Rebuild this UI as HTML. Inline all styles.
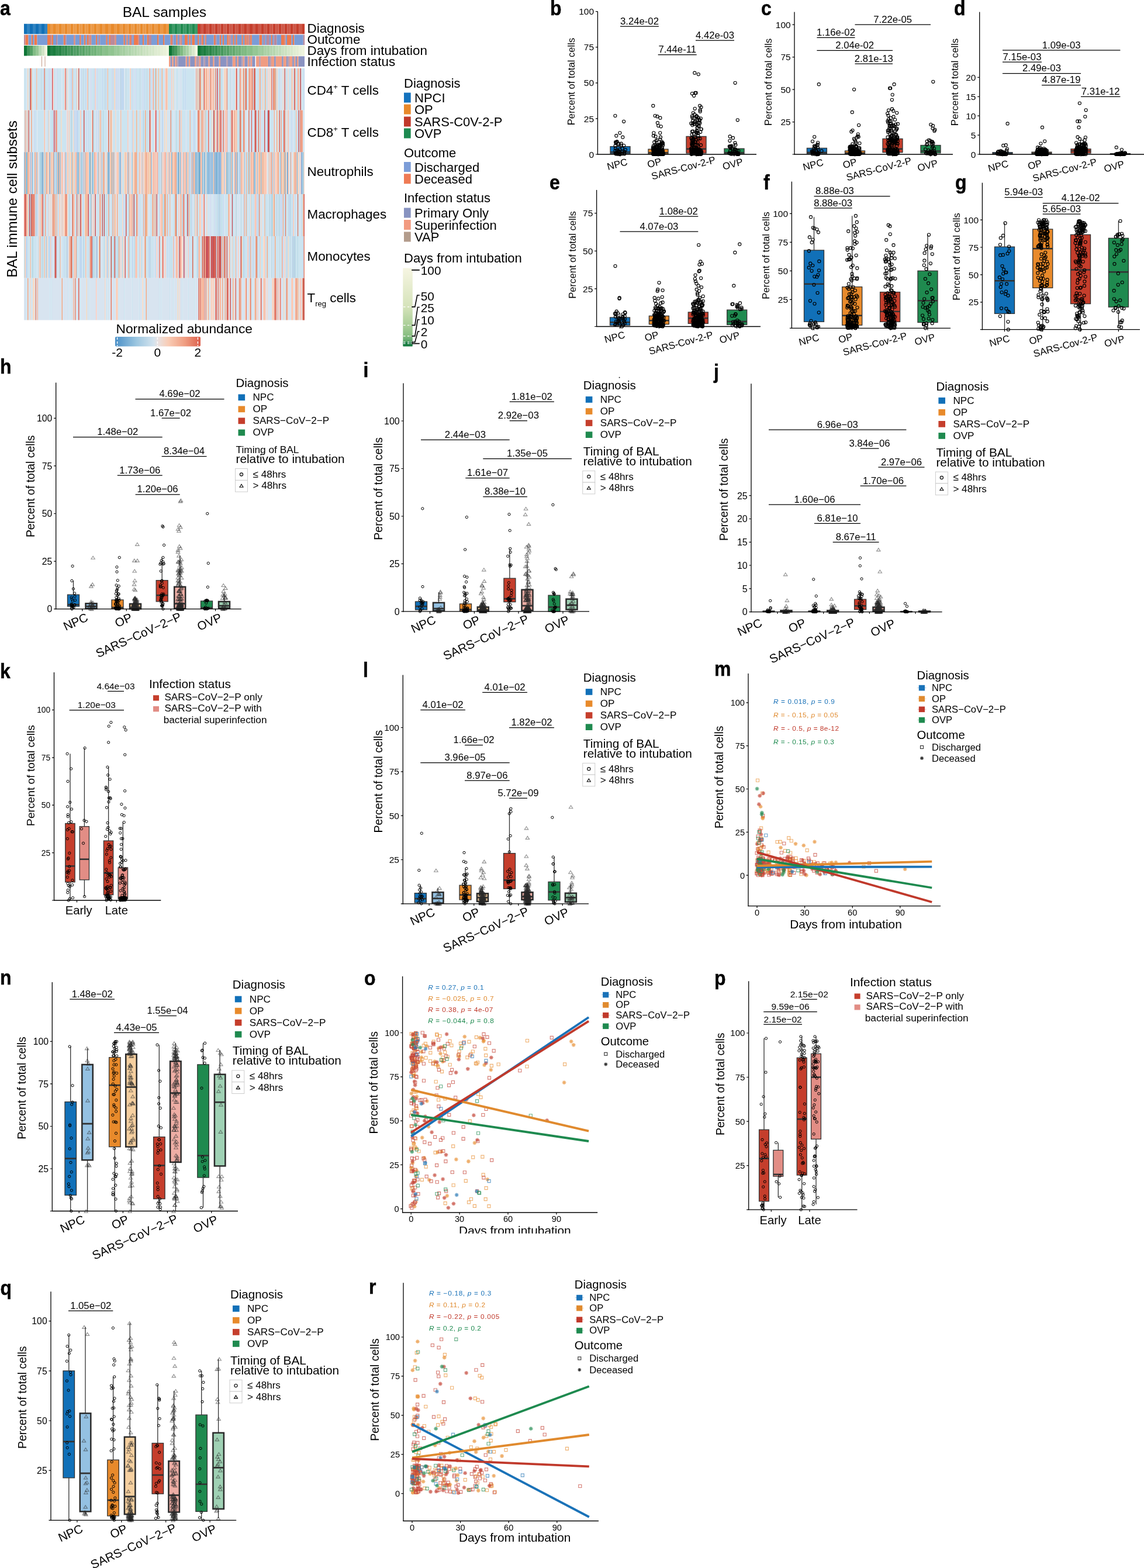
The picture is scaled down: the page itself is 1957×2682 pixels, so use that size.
<!DOCTYPE html><html><head><meta charset="utf-8"><style>html,body{margin:0;padding:0;background:#fff}svg{display:block}text{font-family:"Liberation Sans",Arial,Helvetica,sans-serif;fill:#000}.pc circle{r:2.55px;fill:none;stroke:#000;stroke-width:1.1px}.ps circle{r:2.1px;fill:none;stroke:#000;stroke-width:1px}</style></head><body><svg width="1957" height="2682" viewBox="0 0 1957 2682"><rect width="1957" height="2682" fill="#fff"/><path fill="#1170b8" d="M41 40.8h5v17.4h-5zM51 40.8h5v17.4h-5zM61 40.8h5v17.4h-5zM71 40.8h5v17.4h-5z"/><path fill="#3083c1" d="M46 40.8h5v17.4h-5zM56 40.8h5v17.4h-5zM66 40.8h5v17.4h-5zM76 40.8h5v17.4h-5z"/><path fill="#e88a2b" d="M81 40.8h5v17.4h-5zM90.9 40.8h5v17.4h-5zM100.8 40.8h5v17.4h-5zM110.7 40.8h5v17.4h-5zM120.6 40.8h5v17.4h-5zM130.5 40.8h5v17.4h-5zM140.4 40.8h5v17.4h-5zM150.3 40.8h5v17.4h-5zM160.2 40.8h5v17.4h-5zM170.1 40.8h5v17.4h-5zM180 40.8h5v17.4h-5zM190 40.8h5v17.4h-5zM199.9 40.8h5v17.4h-5zM209.8 40.8h5v17.4h-5zM219.7 40.8h5v17.4h-5zM229.6 40.8h5v17.4h-5zM239.5 40.8h5v17.4h-5zM249.4 40.8h5v17.4h-5zM259.3 40.8h5v17.4h-5zM269.2 40.8h5v17.4h-5zM279.1 40.8h5v17.4h-5z"/><path fill="#eb9947" d="M86 40.8h5v17.4h-5zM95.9 40.8h5v17.4h-5zM105.8 40.8h5v17.4h-5zM115.7 40.8h5v17.4h-5zM125.6 40.8h5v17.4h-5zM135.5 40.8h5v17.4h-5zM145.4 40.8h5v17.4h-5zM155.3 40.8h5v17.4h-5zM165.2 40.8h5v17.4h-5zM175.1 40.8h5v17.4h-5zM185 40.8h5v17.4h-5zM194.9 40.8h5v17.4h-5zM204.8 40.8h5v17.4h-5zM214.7 40.8h5v17.4h-5zM224.6 40.8h5v17.4h-5zM234.5 40.8h5v17.4h-5zM244.4 40.8h5v17.4h-5zM254.3 40.8h5v17.4h-5zM264.2 40.8h5v17.4h-5zM274.1 40.8h5v17.4h-5zM284 40.8h5v17.4h-5z"/><path fill="#1f8a4f" d="M289 40.8h5v17.4h-5zM298.8 40.8h5v17.4h-5zM308.6 40.8h5v17.4h-5zM318.4 40.8h5v17.4h-5zM328.2 40.8h5v17.4h-5z"/><path fill="#3c9966" d="M293.9 40.8h5v17.4h-5zM303.7 40.8h5v17.4h-5zM313.5 40.8h5v17.4h-5zM323.3 40.8h5v17.4h-5zM333.1 40.8h5v17.4h-5z"/><path fill="#c53e2c" d="M338 40.8h5v17.4h-5zM347.9 40.8h5v17.4h-5zM357.8 40.8h5v17.4h-5zM367.7 40.8h5v17.4h-5zM377.6 40.8h5v17.4h-5zM387.5 40.8h5v17.4h-5zM397.4 40.8h5v17.4h-5zM407.2 40.8h5v17.4h-5zM417.1 40.8h5v17.4h-5zM427 40.8h5v17.4h-5zM436.9 40.8h5v17.4h-5zM446.8 40.8h5v17.4h-5zM456.7 40.8h5v17.4h-5zM466.6 40.8h5v17.4h-5zM476.5 40.8h5v17.4h-5zM486.4 40.8h5v17.4h-5zM496.3 40.8h5v17.4h-5zM506.2 40.8h5v17.4h-5zM516.1 40.8h5v17.4h-5z"/><path fill="#cd5747" d="M342.9 40.8h5v17.4h-5zM352.8 40.8h5v17.4h-5zM362.7 40.8h5v17.4h-5zM372.6 40.8h5v17.4h-5zM382.5 40.8h5v17.4h-5zM392.4 40.8h5v17.4h-5zM402.3 40.8h5v17.4h-5zM412.2 40.8h5v17.4h-5zM422.1 40.8h5v17.4h-5zM432 40.8h5v17.4h-5zM441.9 40.8h5v17.4h-5zM451.8 40.8h5v17.4h-5zM461.6 40.8h5v17.4h-5zM471.5 40.8h5v17.4h-5zM481.4 40.8h5v17.4h-5zM491.3 40.8h5v17.4h-5zM501.2 40.8h5v17.4h-5zM511.1 40.8h5v17.4h-5z"/><path fill="#b98a9c" d="M41 59.5h2.5v17.4h-2.5zM86 59.5h2.6v17.4h-2.6zM96 59.5h2.6v17.4h-2.6zM111.1 59.5h2.6v17.4h-2.6zM151.2 59.5h2.6v17.4h-2.6zM168.7 59.5h2.6v17.4h-2.6zM188.8 59.5h2.6v17.4h-2.6zM191.3 59.5h2.6v17.4h-2.6zM193.8 59.5h2.6v17.4h-2.6zM223.8 59.5h2.6v17.4h-2.6zM236.4 59.5h2.6v17.4h-2.6zM253.9 59.5h2.6v17.4h-2.6zM256.4 59.5h2.6v17.4h-2.6zM293.9 59.5h2.5v17.4h-2.5zM306.1 59.5h2.5v17.4h-2.5zM343 59.5h2.6v17.4h-2.6zM368.1 59.5h2.6v17.4h-2.6zM393.2 59.5h2.6v17.4h-2.6zM425.7 59.5h2.6v17.4h-2.6zM450.8 59.5h2.6v17.4h-2.6zM455.8 59.5h2.6v17.4h-2.6zM458.3 59.5h2.6v17.4h-2.6zM468.4 59.5h2.6v17.4h-2.6zM470.9 59.5h2.6v17.4h-2.6zM518.5 59.5h2.6v17.4h-2.6z"/><path fill="#ee7a4d" d="M43.5 59.5h2.5v17.4h-2.5zM46 59.5h2.5v17.4h-2.5zM53.5 59.5h2.5v17.4h-2.5zM58.5 59.5h2.5v17.4h-2.5zM61 59.5h2.5v17.4h-2.5zM81 59.5h2.6v17.4h-2.6zM83.5 59.5h2.6v17.4h-2.6zM88.5 59.5h2.6v17.4h-2.6zM108.6 59.5h2.6v17.4h-2.6zM136.1 59.5h2.6v17.4h-2.6zM143.7 59.5h2.6v17.4h-2.6zM148.7 59.5h2.6v17.4h-2.6zM163.7 59.5h2.6v17.4h-2.6zM181.2 59.5h2.6v17.4h-2.6zM186.3 59.5h2.6v17.4h-2.6zM211.3 59.5h2.6v17.4h-2.6zM221.3 59.5h2.6v17.4h-2.6zM228.9 59.5h2.6v17.4h-2.6zM231.4 59.5h2.6v17.4h-2.6zM233.9 59.5h2.6v17.4h-2.6zM243.9 59.5h2.6v17.4h-2.6zM251.4 59.5h2.6v17.4h-2.6zM269 59.5h2.6v17.4h-2.6zM279 59.5h2.6v17.4h-2.6zM291.4 59.5h2.5v17.4h-2.5zM301.2 59.5h2.5v17.4h-2.5zM315.9 59.5h2.5v17.4h-2.5zM318.4 59.5h2.5v17.4h-2.5zM323.3 59.5h2.5v17.4h-2.5zM328.2 59.5h2.5v17.4h-2.5zM330.6 59.5h2.5v17.4h-2.5zM338 59.5h2.6v17.4h-2.6zM345.5 59.5h2.6v17.4h-2.6zM365.6 59.5h2.6v17.4h-2.6zM375.6 59.5h2.6v17.4h-2.6zM380.6 59.5h2.6v17.4h-2.6zM388.1 59.5h2.6v17.4h-2.6zM398.2 59.5h2.6v17.4h-2.6zM403.2 59.5h2.6v17.4h-2.6zM413.2 59.5h2.6v17.4h-2.6zM418.2 59.5h2.6v17.4h-2.6zM428.2 59.5h2.6v17.4h-2.6zM443.3 59.5h2.6v17.4h-2.6zM445.8 59.5h2.6v17.4h-2.6zM463.3 59.5h2.6v17.4h-2.6zM480.9 59.5h2.6v17.4h-2.6zM483.4 59.5h2.6v17.4h-2.6zM490.9 59.5h2.6v17.4h-2.6zM493.4 59.5h2.6v17.4h-2.6zM495.9 59.5h2.6v17.4h-2.6zM500.9 59.5h2.6v17.4h-2.6z"/><path fill="#7b9cd6" d="M48.5 59.5h2.5v17.4h-2.5zM51 59.5h2.5v17.4h-2.5zM56 59.5h2.5v17.4h-2.5zM63.5 59.5h2.5v17.4h-2.5zM66 59.5h2.5v17.4h-2.5zM68.5 59.5h2.5v17.4h-2.5zM71 59.5h2.5v17.4h-2.5zM73.5 59.5h2.5v17.4h-2.5zM76 59.5h2.5v17.4h-2.5zM78.5 59.5h2.5v17.4h-2.5zM91 59.5h2.6v17.4h-2.6zM93.5 59.5h2.6v17.4h-2.6zM98.5 59.5h2.6v17.4h-2.6zM101 59.5h2.6v17.4h-2.6zM103.6 59.5h2.6v17.4h-2.6zM106.1 59.5h2.6v17.4h-2.6zM113.6 59.5h2.6v17.4h-2.6zM116.1 59.5h2.6v17.4h-2.6zM118.6 59.5h2.6v17.4h-2.6zM121.1 59.5h2.6v17.4h-2.6zM123.6 59.5h2.6v17.4h-2.6zM128.6 59.5h2.6v17.4h-2.6zM131.1 59.5h2.6v17.4h-2.6zM133.6 59.5h2.6v17.4h-2.6zM138.6 59.5h2.6v17.4h-2.6zM141.1 59.5h2.6v17.4h-2.6zM146.2 59.5h2.6v17.4h-2.6zM156.2 59.5h2.6v17.4h-2.6zM158.7 59.5h2.6v17.4h-2.6zM161.2 59.5h2.6v17.4h-2.6zM166.2 59.5h2.6v17.4h-2.6zM171.2 59.5h2.6v17.4h-2.6zM173.7 59.5h2.6v17.4h-2.6zM176.2 59.5h2.6v17.4h-2.6zM178.7 59.5h2.6v17.4h-2.6zM183.7 59.5h2.6v17.4h-2.6zM198.8 59.5h2.6v17.4h-2.6zM201.3 59.5h2.6v17.4h-2.6zM203.8 59.5h2.6v17.4h-2.6zM206.3 59.5h2.6v17.4h-2.6zM208.8 59.5h2.6v17.4h-2.6zM213.8 59.5h2.6v17.4h-2.6zM218.8 59.5h2.6v17.4h-2.6zM226.3 59.5h2.6v17.4h-2.6zM238.9 59.5h2.6v17.4h-2.6zM241.4 59.5h2.6v17.4h-2.6zM246.4 59.5h2.6v17.4h-2.6zM248.9 59.5h2.6v17.4h-2.6zM258.9 59.5h2.6v17.4h-2.6zM261.4 59.5h2.6v17.4h-2.6zM263.9 59.5h2.6v17.4h-2.6zM266.4 59.5h2.6v17.4h-2.6zM271.5 59.5h2.6v17.4h-2.6zM274 59.5h2.6v17.4h-2.6zM276.5 59.5h2.6v17.4h-2.6zM281.5 59.5h2.6v17.4h-2.6zM284 59.5h2.6v17.4h-2.6zM286.5 59.5h2.6v17.4h-2.6zM289 59.5h2.5v17.4h-2.5zM296.4 59.5h2.5v17.4h-2.5zM298.8 59.5h2.5v17.4h-2.5zM303.7 59.5h2.5v17.4h-2.5zM311.1 59.5h2.5v17.4h-2.5zM313.5 59.5h2.5v17.4h-2.5zM320.9 59.5h2.5v17.4h-2.5zM325.8 59.5h2.5v17.4h-2.5zM333.1 59.5h2.5v17.4h-2.5zM335.6 59.5h2.5v17.4h-2.5zM340.5 59.5h2.6v17.4h-2.6zM348 59.5h2.6v17.4h-2.6zM353 59.5h2.6v17.4h-2.6zM355.5 59.5h2.6v17.4h-2.6zM358.1 59.5h2.6v17.4h-2.6zM360.6 59.5h2.6v17.4h-2.6zM363.1 59.5h2.6v17.4h-2.6zM370.6 59.5h2.6v17.4h-2.6zM373.1 59.5h2.6v17.4h-2.6zM378.1 59.5h2.6v17.4h-2.6zM383.1 59.5h2.6v17.4h-2.6zM385.6 59.5h2.6v17.4h-2.6zM395.7 59.5h2.6v17.4h-2.6zM400.7 59.5h2.6v17.4h-2.6zM405.7 59.5h2.6v17.4h-2.6zM408.2 59.5h2.6v17.4h-2.6zM410.7 59.5h2.6v17.4h-2.6zM415.7 59.5h2.6v17.4h-2.6zM430.8 59.5h2.6v17.4h-2.6zM433.3 59.5h2.6v17.4h-2.6zM435.8 59.5h2.6v17.4h-2.6zM438.3 59.5h2.6v17.4h-2.6zM440.8 59.5h2.6v17.4h-2.6zM448.3 59.5h2.6v17.4h-2.6zM453.3 59.5h2.6v17.4h-2.6zM460.8 59.5h2.6v17.4h-2.6zM465.8 59.5h2.6v17.4h-2.6zM473.4 59.5h2.6v17.4h-2.6zM475.9 59.5h2.6v17.4h-2.6zM478.4 59.5h2.6v17.4h-2.6zM488.4 59.5h2.6v17.4h-2.6zM498.4 59.5h2.6v17.4h-2.6zM503.5 59.5h2.6v17.4h-2.6zM506 59.5h2.6v17.4h-2.6zM508.5 59.5h2.6v17.4h-2.6zM511 59.5h2.6v17.4h-2.6zM513.5 59.5h2.6v17.4h-2.6zM516 59.5h2.6v17.4h-2.6z"/><path fill="#d98a7c" d="M126.1 59.5h2.6v17.4h-2.6zM153.7 59.5h2.6v17.4h-2.6zM196.3 59.5h2.6v17.4h-2.6zM216.3 59.5h2.6v17.4h-2.6zM308.6 59.5h2.5v17.4h-2.5zM350.5 59.5h2.6v17.4h-2.6zM390.6 59.5h2.6v17.4h-2.6zM420.7 59.5h2.6v17.4h-2.6zM423.2 59.5h2.6v17.4h-2.6zM485.9 59.5h2.6v17.4h-2.6z"/><path fill="#0e7536" d="M41 78h5v17.4h-5zM81 78h5v17.4h-5zM289 78h5v17.4h-5zM338 78h5v17.4h-5z"/><path fill="#3e9259" d="M46 78h5v17.4h-5z"/><path fill="#56a166" d="M51 78h5v17.4h-5z"/><path fill="#82bc86" d="M56 78h5v17.4h-5z"/><path fill="#98c796" d="M61 78h5v17.4h-5z"/><path fill="#b9d8b3" d="M66 78h5v17.4h-5z"/><path fill="#d1e4c5" d="M71 78h5v17.4h-5z"/><path fill="#eff4df" d="M76 78h5v17.4h-5zM284 78h5v17.4h-5zM333.1 78h5v17.4h-5z"/><path fill="#228146" d="M86 78h5v17.4h-5z"/><path fill="#1a7d3e" d="M90.9 78h5v17.4h-5z"/><path fill="#2e884e" d="M95.9 78h5v17.4h-5z"/><path fill="#268446" d="M100.8 78h5v17.4h-5z"/><path fill="#398f55" d="M105.8 78h5v17.4h-5z"/><path fill="#338c4f" d="M110.7 78h5v17.4h-5z"/><path fill="#45965d" d="M115.7 78h5v17.4h-5z"/><path fill="#3f9357" d="M120.6 78h5v17.4h-5z"/><path fill="#509d65" d="M125.6 78h5v17.4h-5z"/><path fill="#4b9b5f" d="M130.5 78h5v17.4h-5z"/><path fill="#5ca56d" d="M135.5 78h5v17.4h-5z"/><path fill="#57a367" d="M140.4 78h5v17.4h-5z"/><path fill="#67ac74" d="M145.4 78h5v17.4h-5z"/><path fill="#64aa70" d="M150.3 78h5v17.4h-5z"/><path fill="#73b37c" d="M155.3 78h5v17.4h-5z"/><path fill="#70b278" d="M160.2 78h5v17.4h-5z"/><path fill="#7eba84" d="M165.2 78h5v17.4h-5z"/><path fill="#7cb980" d="M170.1 78h5v17.4h-5z"/><path fill="#89c08c" d="M175.1 78h5v17.4h-5z"/><path fill="#87bf88" d="M180 78h5v17.4h-5z"/><path fill="#92c593" d="M185 78h5v17.4h-5z"/><path fill="#90c490" d="M190 78h5v17.4h-5z"/><path fill="#9cca9b" d="M194.9 78h5v17.4h-5z"/><path fill="#9ac998" d="M199.9 78h5v17.4h-5z"/><path fill="#a5cea2" d="M204.8 78h5v17.4h-5z"/><path fill="#a4cea0" d="M209.8 78h5v17.4h-5z"/><path fill="#aed3aa" d="M214.7 78h5v17.4h-5z"/><path fill="#aed3a9" d="M219.7 78h5v17.4h-5z"/><path fill="#b7d8b2" d="M224.6 78h5v17.4h-5z"/><path fill="#b8d8b1" d="M229.6 78h5v17.4h-5z"/><path fill="#c1dcb9" d="M234.5 78h5v17.4h-5z"/><path fill="#c2ddb9" d="M239.5 78h5v17.4h-5z"/><path fill="#cae1c1" d="M244.4 78h5v17.4h-5zM481.4 78h5v17.4h-5z"/><path fill="#cce2c1" d="M249.4 78h5v17.4h-5zM486.4 78h5v17.4h-5z"/><path fill="#d3e6c8" d="M254.3 78h5v17.4h-5z"/><path fill="#d5e7c9" d="M259.3 78h5v17.4h-5z"/><path fill="#ddead0" d="M264.2 78h5v17.4h-5z"/><path fill="#dfecd1" d="M269.2 78h5v17.4h-5z"/><path fill="#e6efd7" d="M274.1 78h5v17.4h-5z"/><path fill="#e9f1d9" d="M279.1 78h5v17.4h-5z"/><path fill="#378e54" d="M293.9 78h5v17.4h-5z"/><path fill="#46985c" d="M298.8 78h5v17.4h-5zM377.6 78h5v17.4h-5z"/><path fill="#6bae77" d="M303.7 78h5v17.4h-5z"/><path fill="#7eba81" d="M308.6 78h5v17.4h-5zM417.1 78h5v17.4h-5z"/><path fill="#9bc99a" d="M313.5 78h5v17.4h-5z"/><path fill="#abd1a6" d="M318.4 78h5v17.4h-5zM456.7 78h5v17.4h-5z"/><path fill="#c5debc" d="M323.3 78h5v17.4h-5z"/><path fill="#d8e8cb" d="M328.2 78h5v17.4h-5zM496.3 78h5v17.4h-5z"/><path fill="#238146" d="M342.9 78h5v17.4h-5z"/><path fill="#1c7e3f" d="M347.9 78h5v17.4h-5z"/><path fill="#30894f" d="M352.8 78h5v17.4h-5z"/><path fill="#2a8649" d="M357.8 78h5v17.4h-5z"/><path fill="#3d9258" d="M362.7 78h5v17.4h-5z"/><path fill="#388f52" d="M367.7 78h5v17.4h-5z"/><path fill="#4a9a61" d="M372.6 78h5v17.4h-5z"/><path fill="#57a26a" d="M382.5 78h5v17.4h-5z"/><path fill="#54a065" d="M387.5 78h5v17.4h-5z"/><path fill="#65aa73" d="M392.4 78h5v17.4h-5z"/><path fill="#62a96e" d="M397.4 78h5v17.4h-5z"/><path fill="#72b27b" d="M402.3 78h5v17.4h-5z"/><path fill="#70b178" d="M407.2 78h5v17.4h-5z"/><path fill="#7fba84" d="M412.2 78h5v17.4h-5z"/><path fill="#8bc18d" d="M422.1 78h5v17.4h-5z"/><path fill="#89c08a" d="M427 78h5v17.4h-5z"/><path fill="#95c796" d="M432 78h5v17.4h-5z"/><path fill="#94c693" d="M436.9 78h5v17.4h-5z"/><path fill="#a0cc9e" d="M441.9 78h5v17.4h-5z"/><path fill="#a0cb9d" d="M446.8 78h5v17.4h-5z"/><path fill="#abd1a7" d="M451.8 78h5v17.4h-5z"/><path fill="#b5d6b0" d="M461.6 78h5v17.4h-5z"/><path fill="#b6d7af" d="M466.6 78h5v17.4h-5z"/><path fill="#c0dcb8" d="M471.5 78h5v17.4h-5z"/><path fill="#c1dcb8" d="M476.5 78h5v17.4h-5z"/><path fill="#d5e6c9" d="M491.3 78h5v17.4h-5z"/><path fill="#dfecd2" d="M501.2 78h5v17.4h-5z"/><path fill="#e3edd4" d="M506.2 78h5v17.4h-5z"/><path fill="#eaf1db" d="M511.1 78h5v17.4h-5z"/><path fill="#eef3dd" d="M516.1 78h5v17.4h-5z"/><path fill="#ef9c82" d="M289 96.3h2.6v17.6h-2.6zM294.2 96.3h2.6v17.6h-2.6zM299.4 96.3h2.6v17.6h-2.6zM317.5 96.3h2.6v17.6h-2.6zM322.6 96.3h2.6v17.6h-2.6zM333 96.3h2.6v17.6h-2.6zM340.8 96.3h2.6v17.6h-2.6zM356.3 96.3h2.6v17.6h-2.6zM364 96.3h2.6v17.6h-2.6zM374.4 96.3h2.6v17.6h-2.6zM397.7 96.3h2.6v17.6h-2.6zM400.3 96.3h2.6v17.6h-2.6zM405.4 96.3h2.6v17.6h-2.6zM415.8 96.3h2.6v17.6h-2.6zM423.6 96.3h2.6v17.6h-2.6zM428.7 96.3h2.6v17.6h-2.6zM438 96.3h2.6v17.6h-2.6zM440.6 96.3h2.6v17.6h-2.6zM445.8 96.3h2.6v17.6h-2.6zM448.4 96.3h2.6v17.6h-2.6zM451 96.3h2.6v17.6h-2.6zM453.6 96.3h2.6v17.6h-2.6zM456.2 96.3h2.6v17.6h-2.6zM463.9 96.3h2.6v17.6h-2.6zM466.5 96.3h2.6v17.6h-2.6zM471.7 96.3h2.6v17.6h-2.6zM474.3 96.3h2.6v17.6h-2.6zM476.9 96.3h2.6v17.6h-2.6zM479.5 96.3h2.6v17.6h-2.6zM484.7 96.3h2.6v17.6h-2.6zM487.3 96.3h2.6v17.6h-2.6zM495.1 96.3h2.6v17.6h-2.6zM497.7 96.3h2.6v17.6h-2.6zM502.8 96.3h2.6v17.6h-2.6zM508 96.3h2.6v17.6h-2.6z"/><path fill="#8a93c2" d="M291.6 96.3h2.6v17.6h-2.6zM296.8 96.3h2.6v17.6h-2.6zM304.5 96.3h2.6v17.6h-2.6zM307.1 96.3h2.6v17.6h-2.6zM309.7 96.3h2.6v17.6h-2.6zM312.3 96.3h2.6v17.6h-2.6zM314.9 96.3h2.6v17.6h-2.6zM320.1 96.3h2.6v17.6h-2.6zM325.2 96.3h2.6v17.6h-2.6zM327.8 96.3h2.6v17.6h-2.6zM330.4 96.3h2.6v17.6h-2.6zM343.3 96.3h2.6v17.6h-2.6zM345.9 96.3h2.6v17.6h-2.6zM351.1 96.3h2.6v17.6h-2.6zM353.7 96.3h2.6v17.6h-2.6zM358.9 96.3h2.6v17.6h-2.6zM361.5 96.3h2.6v17.6h-2.6zM366.6 96.3h2.6v17.6h-2.6zM369.2 96.3h2.6v17.6h-2.6zM371.8 96.3h2.6v17.6h-2.6zM377 96.3h2.6v17.6h-2.6zM379.6 96.3h2.6v17.6h-2.6zM382.2 96.3h2.6v17.6h-2.6zM384.7 96.3h2.6v17.6h-2.6zM389.9 96.3h2.6v17.6h-2.6zM392.5 96.3h2.6v17.6h-2.6zM395.1 96.3h2.6v17.6h-2.6zM402.9 96.3h2.6v17.6h-2.6zM408 96.3h2.6v17.6h-2.6zM410.6 96.3h2.6v17.6h-2.6zM418.4 96.3h2.6v17.6h-2.6zM421 96.3h2.6v17.6h-2.6zM431.3 96.3h2.6v17.6h-2.6zM433.9 96.3h2.6v17.6h-2.6zM458.8 96.3h2.6v17.6h-2.6zM469.1 96.3h2.6v17.6h-2.6zM482.1 96.3h2.6v17.6h-2.6zM489.9 96.3h2.6v17.6h-2.6zM500.2 96.3h2.6v17.6h-2.6zM505.4 96.3h2.6v17.6h-2.6zM510.6 96.3h2.6v17.6h-2.6zM513.2 96.3h2.6v17.6h-2.6zM515.8 96.3h2.6v17.6h-2.6zM518.4 96.3h2.6v17.6h-2.6z"/><path fill="#b49aae" d="M301.9 96.3h2.6v17.6h-2.6zM335.6 96.3h2.6v17.6h-2.6zM338.2 96.3h2.6v17.6h-2.6zM348.5 96.3h2.6v17.6h-2.6zM387.3 96.3h2.6v17.6h-2.6zM413.2 96.3h2.6v17.6h-2.6zM426.1 96.3h2.6v17.6h-2.6zM443.2 96.3h2.6v17.6h-2.6zM461.3 96.3h2.6v17.6h-2.6zM492.5 96.3h2.6v17.6h-2.6z"/><rect x="71" y="96.3" width="1" height="17.6" fill="#c49a86"/><rect x="76.5" y="96.3" width="1" height="17.6" fill="#c49a86"/><path fill="#cce4f0" d="M41 116.7h4.5v71.8h-4.5zM48.5 116.7h1.5v71.8h-1.5zM54.5 116.7h3v71.8h-3zM59 116.7h3v71.8h-3zM63.5 116.7h6v71.8h-6zM71 116.7h3v71.8h-3zM77 116.7h6v71.8h-6zM92 116.7h3v71.8h-3zM98 116.7h7.5v71.8h-7.5zM107 116.7h3v71.8h-3zM117.5 116.7h3v71.8h-3zM125 116.7h4.5v71.8h-4.5zM135.5 116.7h1.5v71.8h-1.5zM140 116.7h1.5v71.8h-1.5zM143 116.7h3v71.8h-3zM147.5 116.7h1.5v71.8h-1.5zM152 116.7h1.5v71.8h-1.5zM156.5 116.7h4.5v71.8h-4.5zM164 116.7h1.5v71.8h-1.5zM167 116.7h7.5v71.8h-7.5zM176 116.7h3v71.8h-3zM182 116.7h1.5v71.8h-1.5zM185 116.7h6v71.8h-6zM194 116.7h1.5v71.8h-1.5zM197 116.7h1.5v71.8h-1.5zM201.5 116.7h1.5v71.8h-1.5zM204.5 116.7h1.5v71.8h-1.5zM213.5 116.7h1.5v71.8h-1.5zM216.5 116.7h4.5v71.8h-4.5zM224 116.7h3v71.8h-3zM228.5 116.7h3v71.8h-3zM233 116.7h6v71.8h-6zM240.5 116.7h3v71.8h-3zM245 116.7h1.5v71.8h-1.5zM248 116.7h3v71.8h-3zM252.5 116.7h3v71.8h-3zM257 116.7h1.5v71.8h-1.5zM263 116.7h1.5v71.8h-1.5zM267.5 116.7h3v71.8h-3zM272 116.7h1.5v71.8h-1.5zM275 116.7h1.5v71.8h-1.5zM278 116.7h3v71.8h-3zM287 116.7h6v71.8h-6zM294.5 116.7h1.5v71.8h-1.5zM297.5 116.7h1.5v71.8h-1.5zM300.5 116.7h4.5v71.8h-4.5zM306.5 116.7h1.5v71.8h-1.5zM311 116.7h3v71.8h-3zM315.5 116.7h1.5v71.8h-1.5zM318.5 116.7h15v71.8h-15zM336.5 116.7h1.5v71.8h-1.5zM339.5 116.7h1.5v71.8h-1.5zM344 116.7h1.5v71.8h-1.5zM347 116.7h1.5v71.8h-1.5zM369.5 116.7h1.5v71.8h-1.5zM372.5 116.7h1.5v71.8h-1.5zM377 116.7h1.5v71.8h-1.5zM380 116.7h1.5v71.8h-1.5zM389 116.7h4.5v71.8h-4.5zM398 116.7h4.5v71.8h-4.5zM407 116.7h3v71.8h-3zM417.5 116.7h1.5v71.8h-1.5zM422 116.7h3v71.8h-3zM432.5 116.7h1.5v71.8h-1.5zM437 116.7h6v71.8h-6zM447.5 116.7h1.5v71.8h-1.5zM450.5 116.7h1.5v71.8h-1.5zM455 116.7h3v71.8h-3zM474.5 116.7h3v71.8h-3zM482 116.7h1.5v71.8h-1.5zM485 116.7h1.5v71.8h-1.5zM491 116.7h1.5v71.8h-1.5zM494 116.7h4.5v71.8h-4.5zM501.5 116.7h1.5v71.8h-1.5zM506 116.7h3v71.8h-3zM512 116.7h1.5v71.8h-1.5zM516.5 116.7h3v71.8h-3z"/><path fill="#d8e4f0" d="M45.5 116.7h1.5v71.8h-1.5zM57.5 116.7h1.5v71.8h-1.5zM86 116.7h3v71.8h-3zM95 116.7h1.5v71.8h-1.5zM105.5 116.7h1.5v71.8h-1.5zM116 116.7h1.5v71.8h-1.5zM132.5 116.7h1.5v71.8h-1.5zM137 116.7h1.5v71.8h-1.5zM153.5 116.7h1.5v71.8h-1.5zM212 116.7h1.5v71.8h-1.5zM221 116.7h1.5v71.8h-1.5zM260 116.7h1.5v71.8h-1.5zM281 116.7h1.5v71.8h-1.5zM299 116.7h1.5v71.8h-1.5zM305 116.7h1.5v71.8h-1.5zM308 116.7h3v71.8h-3zM333.5 116.7h1.5v71.8h-1.5zM357.5 116.7h1.5v71.8h-1.5zM366.5 116.7h1.5v71.8h-1.5zM381.5 116.7h1.5v71.8h-1.5zM395 116.7h3v71.8h-3zM405.5 116.7h1.5v71.8h-1.5zM413 116.7h1.5v71.8h-1.5zM459.5 116.7h1.5v71.8h-1.5zM479 116.7h3v71.8h-3zM488 116.7h1.5v71.8h-1.5zM515 116.7h1.5v71.8h-1.5z"/><path fill="#f0d8c0" d="M47 116.7h1.5v71.8h-1.5zM131 116.7h1.5v71.8h-1.5zM296 116.7h1.5v71.8h-1.5zM345.5 116.7h1.5v71.8h-1.5zM383 116.7h1.5v71.8h-1.5zM414.5 116.7h1.5v71.8h-1.5zM461 116.7h1.5v71.8h-1.5z"/><path fill="#c0d8e4" d="M50 116.7h1.5v71.8h-1.5zM69.5 116.7h1.5v71.8h-1.5zM113 116.7h1.5v71.8h-1.5zM141.5 116.7h1.5v71.8h-1.5zM150.5 116.7h1.5v71.8h-1.5zM179 116.7h1.5v71.8h-1.5zM192.5 116.7h1.5v71.8h-1.5zM215 116.7h1.5v71.8h-1.5zM239 116.7h1.5v71.8h-1.5zM251 116.7h1.5v71.8h-1.5zM374 116.7h1.5v71.8h-1.5zM393.5 116.7h1.5v71.8h-1.5zM452 116.7h1.5v71.8h-1.5zM471.5 116.7h1.5v71.8h-1.5zM489.5 116.7h1.5v71.8h-1.5z"/><path fill="#cc4848" d="M51.5 116.7h1.5v71.8h-1.5zM404 116.7h1.5v71.8h-1.5z"/><path fill="#f0b490" d="M53 116.7h1.5v71.8h-1.5zM276.5 116.7h1.5v71.8h-1.5zM338 116.7h1.5v71.8h-1.5zM353 116.7h1.5v71.8h-1.5zM444.5 116.7h1.5v71.8h-1.5zM453.5 116.7h1.5v71.8h-1.5z"/><path fill="#f0c0a8" d="M62 116.7h1.5v71.8h-1.5zM183.5 116.7h1.5v71.8h-1.5zM363.5 116.7h3v71.8h-3zM443 116.7h1.5v71.8h-1.5zM498.5 116.7h1.5v71.8h-1.5zM504.5 116.7h1.5v71.8h-1.5z"/><path fill="#c0d8f0" d="M74 116.7h1.5v71.8h-1.5zM84.5 116.7h1.5v71.8h-1.5zM120.5 116.7h3v71.8h-3zM129.5 116.7h1.5v71.8h-1.5zM138.5 116.7h1.5v71.8h-1.5zM146 116.7h1.5v71.8h-1.5zM161 116.7h1.5v71.8h-1.5zM174.5 116.7h1.5v71.8h-1.5zM180.5 116.7h1.5v71.8h-1.5zM207.5 116.7h4.5v71.8h-4.5zM246.5 116.7h1.5v71.8h-1.5zM258.5 116.7h1.5v71.8h-1.5zM273.5 116.7h1.5v71.8h-1.5zM314 116.7h1.5v71.8h-1.5zM317 116.7h1.5v71.8h-1.5zM446 116.7h1.5v71.8h-1.5zM477.5 116.7h1.5v71.8h-1.5zM519.5 116.7h1.5v71.8h-1.5z"/><path fill="#e4846c" d="M75.5 116.7h1.5v71.8h-1.5zM359 116.7h1.5v71.8h-1.5zM368 116.7h1.5v71.8h-1.5zM375.5 116.7h1.5v71.8h-1.5zM387.5 116.7h1.5v71.8h-1.5zM410 116.7h1.5v71.8h-1.5zM416 116.7h1.5v71.8h-1.5zM426.5 116.7h1.5v71.8h-1.5z"/><path fill="#ccd8f0" d="M83 116.7h1.5v71.8h-1.5zM96.5 116.7h1.5v71.8h-1.5zM155 116.7h1.5v71.8h-1.5zM165.5 116.7h1.5v71.8h-1.5zM191 116.7h1.5v71.8h-1.5zM198.5 116.7h3v71.8h-3zM203 116.7h1.5v71.8h-1.5zM227 116.7h1.5v71.8h-1.5zM231.5 116.7h1.5v71.8h-1.5zM243.5 116.7h1.5v71.8h-1.5zM465.5 116.7h1.5v71.8h-1.5z"/><path fill="#cc4854" d="M89 116.7h1.5v71.8h-1.5zM371 116.7h1.5v71.8h-1.5z"/><path fill="#fcccc0" d="M90.5 116.7h1.5v71.8h-1.5zM110 116.7h1.5v71.8h-1.5zM162.5 116.7h1.5v71.8h-1.5zM282.5 116.7h1.5v71.8h-1.5zM293 116.7h1.5v71.8h-1.5zM354.5 116.7h1.5v71.8h-1.5zM362 116.7h1.5v71.8h-1.5zM458 116.7h1.5v71.8h-1.5z"/><path fill="#e4786c" d="M111.5 116.7h1.5v71.8h-1.5zM464 116.7h1.5v71.8h-1.5z"/><path fill="#f0d8cc" d="M114.5 116.7h1.5v71.8h-1.5zM386 116.7h1.5v71.8h-1.5zM462.5 116.7h1.5v71.8h-1.5zM483.5 116.7h1.5v71.8h-1.5zM492.5 116.7h1.5v71.8h-1.5zM500 116.7h1.5v71.8h-1.5z"/><path fill="#f0b49c" d="M123.5 116.7h1.5v71.8h-1.5zM284 116.7h1.5v71.8h-1.5zM351.5 116.7h1.5v71.8h-1.5zM360.5 116.7h1.5v71.8h-1.5zM425 116.7h1.5v71.8h-1.5z"/><path fill="#d86054" d="M134 116.7h1.5v71.8h-1.5zM348.5 116.7h1.5v71.8h-1.5zM420.5 116.7h1.5v71.8h-1.5zM486.5 116.7h1.5v71.8h-1.5z"/><path fill="#fcc0a8" d="M149 116.7h1.5v71.8h-1.5zM356 116.7h1.5v71.8h-1.5zM411.5 116.7h1.5v71.8h-1.5zM510.5 116.7h1.5v71.8h-1.5z"/><path fill="#fcccb4" d="M195.5 116.7h1.5v71.8h-1.5zM222.5 116.7h1.5v71.8h-1.5zM285.5 116.7h1.5v71.8h-1.5zM350 116.7h1.5v71.8h-1.5zM384.5 116.7h1.5v71.8h-1.5zM402.5 116.7h1.5v71.8h-1.5zM428 116.7h1.5v71.8h-1.5zM449 116.7h1.5v71.8h-1.5zM473 116.7h1.5v71.8h-1.5z"/><path fill="#b4cce4" d="M206 116.7h1.5v71.8h-1.5z"/><path fill="#f0a890" d="M255.5 116.7h1.5v71.8h-1.5zM261.5 116.7h1.5v71.8h-1.5zM335 116.7h1.5v71.8h-1.5zM429.5 116.7h1.5v71.8h-1.5zM509 116.7h1.5v71.8h-1.5z"/><path fill="#b4d8e4" d="M264.5 116.7h1.5v71.8h-1.5zM378.5 116.7h1.5v71.8h-1.5z"/><path fill="#f0a884" d="M266 116.7h1.5v71.8h-1.5zM342.5 116.7h1.5v71.8h-1.5zM468.5 116.7h1.5v71.8h-1.5z"/><path fill="#f0c09c" d="M270.5 116.7h1.5v71.8h-1.5z"/><path fill="#d86c54" d="M341 116.7h1.5v71.8h-1.5z"/><path fill="#e4906c" d="M419 116.7h1.5v71.8h-1.5zM470 116.7h1.5v71.8h-1.5z"/><path fill="#e47860" d="M431 116.7h1.5v71.8h-1.5zM467 116.7h1.5v71.8h-1.5z"/><path fill="#d86c60" d="M434 116.7h3v71.8h-3z"/><path fill="#cc5454" d="M503 116.7h1.5v71.8h-1.5z"/><path fill="#c04848" d="M513.5 116.7h1.5v71.8h-1.5z"/><path fill="#cce4f0" d="M41 188.5h1.5v71.9h-1.5zM44 188.5h1.5v71.9h-1.5zM47 188.5h1.5v71.9h-1.5zM50 188.5h1.5v71.9h-1.5zM54.5 188.5h1.5v71.9h-1.5zM60.5 188.5h3v71.9h-3zM65 188.5h10.5v71.9h-10.5zM78.5 188.5h1.5v71.9h-1.5zM84.5 188.5h4.5v71.9h-4.5zM93.5 188.5h1.5v71.9h-1.5zM98 188.5h6v71.9h-6zM105.5 188.5h7.5v71.9h-7.5zM116 188.5h1.5v71.9h-1.5zM119 188.5h1.5v71.9h-1.5zM123.5 188.5h1.5v71.9h-1.5zM134 188.5h3v71.9h-3zM140 188.5h3v71.9h-3zM144.5 188.5h3v71.9h-3zM152 188.5h4.5v71.9h-4.5zM161 188.5h1.5v71.9h-1.5zM173 188.5h3v71.9h-3zM177.5 188.5h6v71.9h-6zM192.5 188.5h4.5v71.9h-4.5zM198.5 188.5h6v71.9h-6zM207.5 188.5h10.5v71.9h-10.5zM219.5 188.5h1.5v71.9h-1.5zM222.5 188.5h3v71.9h-3zM228.5 188.5h4.5v71.9h-4.5zM234.5 188.5h4.5v71.9h-4.5zM240.5 188.5h3v71.9h-3zM246.5 188.5h1.5v71.9h-1.5zM249.5 188.5h1.5v71.9h-1.5zM252.5 188.5h3v71.9h-3zM260 188.5h4.5v71.9h-4.5zM267.5 188.5h4.5v71.9h-4.5zM273.5 188.5h1.5v71.9h-1.5zM285.5 188.5h1.5v71.9h-1.5zM290 188.5h1.5v71.9h-1.5zM293 188.5h3v71.9h-3zM297.5 188.5h1.5v71.9h-1.5zM302 188.5h4.5v71.9h-4.5zM311 188.5h6v71.9h-6zM320 188.5h4.5v71.9h-4.5zM326 188.5h3v71.9h-3zM333.5 188.5h3v71.9h-3zM353 188.5h3v71.9h-3zM359 188.5h3v71.9h-3zM363.5 188.5h1.5v71.9h-1.5zM368 188.5h1.5v71.9h-1.5zM372.5 188.5h1.5v71.9h-1.5zM383 188.5h1.5v71.9h-1.5zM390.5 188.5h3v71.9h-3zM405.5 188.5h1.5v71.9h-1.5zM408.5 188.5h1.5v71.9h-1.5zM413 188.5h3v71.9h-3zM419 188.5h1.5v71.9h-1.5zM423.5 188.5h1.5v71.9h-1.5zM434 188.5h1.5v71.9h-1.5zM438.5 188.5h3v71.9h-3zM447.5 188.5h4.5v71.9h-4.5zM461 188.5h7.5v71.9h-7.5zM471.5 188.5h1.5v71.9h-1.5zM476 188.5h1.5v71.9h-1.5zM479 188.5h1.5v71.9h-1.5zM482 188.5h3v71.9h-3zM488 188.5h1.5v71.9h-1.5zM491 188.5h1.5v71.9h-1.5zM497 188.5h1.5v71.9h-1.5zM501.5 188.5h4.5v71.9h-4.5zM507.5 188.5h1.5v71.9h-1.5zM512 188.5h1.5v71.9h-1.5zM519.5 188.5h1.5v71.9h-1.5z"/><path fill="#f0a890" d="M42.5 188.5h1.5v71.9h-1.5zM96.5 188.5h1.5v71.9h-1.5zM257 188.5h1.5v71.9h-1.5zM306.5 188.5h1.5v71.9h-1.5zM375.5 188.5h1.5v71.9h-1.5zM395 188.5h1.5v71.9h-1.5zM417.5 188.5h1.5v71.9h-1.5zM480.5 188.5h1.5v71.9h-1.5zM515 188.5h3v71.9h-3z"/><path fill="#f0c0a8" d="M45.5 188.5h1.5v71.9h-1.5zM188 188.5h1.5v71.9h-1.5zM206 188.5h1.5v71.9h-1.5zM272 188.5h1.5v71.9h-1.5zM350 188.5h1.5v71.9h-1.5zM404 188.5h1.5v71.9h-1.5zM506 188.5h1.5v71.9h-1.5z"/><path fill="#d86054" d="M48.5 188.5h1.5v71.9h-1.5zM158 188.5h1.5v71.9h-1.5zM429.5 188.5h1.5v71.9h-1.5zM435.5 188.5h1.5v71.9h-1.5zM477.5 188.5h1.5v71.9h-1.5zM485 188.5h1.5v71.9h-1.5z"/><path fill="#d8e4f0" d="M51.5 188.5h1.5v71.9h-1.5zM56 188.5h3v71.9h-3zM63.5 188.5h1.5v71.9h-1.5zM77 188.5h1.5v71.9h-1.5zM80 188.5h1.5v71.9h-1.5zM113 188.5h1.5v71.9h-1.5zM149 188.5h1.5v71.9h-1.5zM162.5 188.5h1.5v71.9h-1.5zM165.5 188.5h1.5v71.9h-1.5zM183.5 188.5h1.5v71.9h-1.5zM186.5 188.5h1.5v71.9h-1.5zM204.5 188.5h1.5v71.9h-1.5zM221 188.5h1.5v71.9h-1.5zM258.5 188.5h1.5v71.9h-1.5zM275 188.5h1.5v71.9h-1.5zM279.5 188.5h1.5v71.9h-1.5zM282.5 188.5h1.5v71.9h-1.5zM287 188.5h3v71.9h-3zM296 188.5h1.5v71.9h-1.5zM299 188.5h1.5v71.9h-1.5zM317 188.5h3v71.9h-3zM329 188.5h1.5v71.9h-1.5zM336.5 188.5h1.5v71.9h-1.5zM348.5 188.5h1.5v71.9h-1.5zM357.5 188.5h1.5v71.9h-1.5zM420.5 188.5h3v71.9h-3zM428 188.5h1.5v71.9h-1.5zM432.5 188.5h1.5v71.9h-1.5zM453.5 188.5h3v71.9h-3zM470 188.5h1.5v71.9h-1.5zM494 188.5h3v71.9h-3zM500 188.5h1.5v71.9h-1.5zM518 188.5h1.5v71.9h-1.5z"/><path fill="#f0a884" d="M53 188.5h1.5v71.9h-1.5zM248 188.5h1.5v71.9h-1.5zM374 188.5h1.5v71.9h-1.5zM411.5 188.5h1.5v71.9h-1.5zM473 188.5h1.5v71.9h-1.5z"/><path fill="#c0d8f0" d="M59 188.5h1.5v71.9h-1.5zM126.5 188.5h3v71.9h-3zM131 188.5h3v71.9h-3zM147.5 188.5h1.5v71.9h-1.5zM150.5 188.5h1.5v71.9h-1.5zM164 188.5h1.5v71.9h-1.5zM225.5 188.5h1.5v71.9h-1.5zM243.5 188.5h1.5v71.9h-1.5zM276.5 188.5h3v71.9h-3zM308 188.5h1.5v71.9h-1.5zM330.5 188.5h3v71.9h-3zM380 188.5h1.5v71.9h-1.5zM426.5 188.5h1.5v71.9h-1.5zM431 188.5h1.5v71.9h-1.5zM498.5 188.5h1.5v71.9h-1.5zM509 188.5h1.5v71.9h-1.5z"/><path fill="#fcc0a8" d="M75.5 188.5h1.5v71.9h-1.5zM444.5 188.5h1.5v71.9h-1.5zM492.5 188.5h1.5v71.9h-1.5z"/><path fill="#c0d8e4" d="M81.5 188.5h1.5v71.9h-1.5zM120.5 188.5h1.5v71.9h-1.5zM168.5 188.5h1.5v71.9h-1.5zM251 188.5h1.5v71.9h-1.5zM342.5 188.5h1.5v71.9h-1.5zM393.5 188.5h1.5v71.9h-1.5zM443 188.5h1.5v71.9h-1.5z"/><path fill="#f0d8cc" d="M83 188.5h1.5v71.9h-1.5zM125 188.5h1.5v71.9h-1.5zM156.5 188.5h1.5v71.9h-1.5zM191 188.5h1.5v71.9h-1.5zM197 188.5h1.5v71.9h-1.5zM474.5 188.5h1.5v71.9h-1.5zM489.5 188.5h1.5v71.9h-1.5z"/><path fill="#b4d8e4" d="M89 188.5h1.5v71.9h-1.5zM122 188.5h1.5v71.9h-1.5zM159.5 188.5h1.5v71.9h-1.5zM176 188.5h1.5v71.9h-1.5zM245 188.5h1.5v71.9h-1.5zM300.5 188.5h1.5v71.9h-1.5zM351.5 188.5h1.5v71.9h-1.5zM407 188.5h1.5v71.9h-1.5z"/><path fill="#ccd8f0" d="M90.5 188.5h1.5v71.9h-1.5zM129.5 188.5h1.5v71.9h-1.5zM138.5 188.5h1.5v71.9h-1.5zM167 188.5h1.5v71.9h-1.5zM389 188.5h1.5v71.9h-1.5zM446 188.5h1.5v71.9h-1.5z"/><path fill="#cc4854" d="M92 188.5h1.5v71.9h-1.5zM266 188.5h1.5v71.9h-1.5z"/><path fill="#e4786c" d="M95 188.5h1.5v71.9h-1.5z"/><path fill="#f0d8c0" d="M104 188.5h1.5v71.9h-1.5zM170 188.5h1.5v71.9h-1.5zM281 188.5h1.5v71.9h-1.5zM362 188.5h1.5v71.9h-1.5z"/><path fill="#fcccc0" d="M114.5 188.5h1.5v71.9h-1.5zM218 188.5h1.5v71.9h-1.5zM264.5 188.5h1.5v71.9h-1.5zM369.5 188.5h1.5v71.9h-1.5zM378.5 188.5h1.5v71.9h-1.5zM386 188.5h1.5v71.9h-1.5z"/><path fill="#fcccb4" d="M117.5 188.5h1.5v71.9h-1.5zM137 188.5h1.5v71.9h-1.5zM227 188.5h1.5v71.9h-1.5zM239 188.5h1.5v71.9h-1.5zM309.5 188.5h1.5v71.9h-1.5zM341 188.5h1.5v71.9h-1.5zM402.5 188.5h1.5v71.9h-1.5z"/><path fill="#cc5454" d="M143 188.5h1.5v71.9h-1.5zM255.5 188.5h1.5v71.9h-1.5zM371 188.5h1.5v71.9h-1.5zM377 188.5h1.5v71.9h-1.5zM396.5 188.5h1.5v71.9h-1.5zM437 188.5h1.5v71.9h-1.5zM452 188.5h1.5v71.9h-1.5zM458 188.5h3v71.9h-3zM510.5 188.5h1.5v71.9h-1.5z"/><path fill="#f0b49c" d="M171.5 188.5h1.5v71.9h-1.5zM324.5 188.5h1.5v71.9h-1.5zM344 188.5h4.5v71.9h-4.5zM387.5 188.5h1.5v71.9h-1.5zM399.5 188.5h3v71.9h-3zM468.5 188.5h1.5v71.9h-1.5z"/><path fill="#d86c54" d="M185 188.5h1.5v71.9h-1.5z"/><path fill="#f0b490" d="M189.5 188.5h1.5v71.9h-1.5zM233 188.5h1.5v71.9h-1.5zM366.5 188.5h1.5v71.9h-1.5z"/><path fill="#fcd8c0" d="M284 188.5h1.5v71.9h-1.5zM398 188.5h1.5v71.9h-1.5z"/><path fill="#e49078" d="M291.5 188.5h1.5v71.9h-1.5z"/><path fill="#e4846c" d="M338 188.5h1.5v71.9h-1.5zM416 188.5h1.5v71.9h-1.5zM486.5 188.5h1.5v71.9h-1.5z"/><path fill="#e47860" d="M339.5 188.5h1.5v71.9h-1.5zM381.5 188.5h1.5v71.9h-1.5zM425 188.5h1.5v71.9h-1.5zM441.5 188.5h1.5v71.9h-1.5zM513.5 188.5h1.5v71.9h-1.5z"/><path fill="#e46c60" d="M356 188.5h1.5v71.9h-1.5z"/><path fill="#c04848" d="M365 188.5h1.5v71.9h-1.5z"/><path fill="#fcc0b4" d="M384.5 188.5h1.5v71.9h-1.5z"/><path fill="#cc6054" d="M410 188.5h1.5v71.9h-1.5z"/><path fill="#b4cce4" d="M456.5 188.5h1.5v71.9h-1.5z"/><path fill="#78b4d8" d="M41 260.3h1.5v71.8h-1.5zM293 260.3h1.5v71.8h-1.5zM308 260.3h1.5v71.8h-1.5zM345.5 260.3h1.5v71.8h-1.5zM371 260.3h1.5v71.8h-1.5zM405.5 260.3h1.5v71.8h-1.5z"/><path fill="#f0a890" d="M42.5 260.3h1.5v71.8h-1.5zM59 260.3h1.5v71.8h-1.5zM78.5 260.3h1.5v71.8h-1.5zM90.5 260.3h1.5v71.8h-1.5zM129.5 260.3h1.5v71.8h-1.5zM177.5 260.3h1.5v71.8h-1.5zM219.5 260.3h1.5v71.8h-1.5zM230 260.3h1.5v71.8h-1.5zM249.5 260.3h1.5v71.8h-1.5zM263 260.3h1.5v71.8h-1.5zM269 260.3h1.5v71.8h-1.5zM282.5 260.3h1.5v71.8h-1.5zM299 260.3h1.5v71.8h-1.5zM314 260.3h1.5v71.8h-1.5zM429.5 260.3h1.5v71.8h-1.5zM432.5 260.3h1.5v71.8h-1.5zM462.5 260.3h1.5v71.8h-1.5zM497 260.3h1.5v71.8h-1.5zM504.5 260.3h1.5v71.8h-1.5z"/><path fill="#90c0d8" d="M44 260.3h3v71.8h-3zM68 260.3h1.5v71.8h-1.5zM102.5 260.3h1.5v71.8h-1.5zM111.5 260.3h1.5v71.8h-1.5zM138.5 260.3h1.5v71.8h-1.5zM144.5 260.3h1.5v71.8h-1.5zM191 260.3h1.5v71.8h-1.5zM336.5 260.3h1.5v71.8h-1.5zM390.5 260.3h1.5v71.8h-1.5zM393.5 260.3h1.5v71.8h-1.5zM434 260.3h1.5v71.8h-1.5zM446 260.3h1.5v71.8h-1.5zM518 260.3h1.5v71.8h-1.5z"/><path fill="#f0a884" d="M47 260.3h1.5v71.8h-1.5zM161 260.3h1.5v71.8h-1.5zM176 260.3h1.5v71.8h-1.5zM231.5 260.3h3v71.8h-3zM257 260.3h1.5v71.8h-1.5zM300.5 260.3h1.5v71.8h-1.5zM330.5 260.3h1.5v71.8h-1.5zM425 260.3h1.5v71.8h-1.5zM443 260.3h1.5v71.8h-1.5zM474.5 260.3h1.5v71.8h-1.5z"/><path fill="#f0b49c" d="M48.5 260.3h1.5v71.8h-1.5zM80 260.3h1.5v71.8h-1.5zM87.5 260.3h1.5v71.8h-1.5zM98 260.3h1.5v71.8h-1.5zM101 260.3h1.5v71.8h-1.5zM135.5 260.3h1.5v71.8h-1.5zM192.5 260.3h1.5v71.8h-1.5zM237.5 260.3h1.5v71.8h-1.5zM243.5 260.3h1.5v71.8h-1.5zM251 260.3h1.5v71.8h-1.5zM266 260.3h1.5v71.8h-1.5zM290 260.3h1.5v71.8h-1.5zM294.5 260.3h1.5v71.8h-1.5zM317 260.3h1.5v71.8h-1.5zM327.5 260.3h1.5v71.8h-1.5zM342.5 260.3h1.5v71.8h-1.5zM365 260.3h1.5v71.8h-1.5zM378.5 260.3h1.5v71.8h-1.5zM401 260.3h1.5v71.8h-1.5zM404 260.3h1.5v71.8h-1.5zM413 260.3h1.5v71.8h-1.5zM420.5 260.3h1.5v71.8h-1.5zM438.5 260.3h1.5v71.8h-1.5zM447.5 260.3h1.5v71.8h-1.5zM459.5 260.3h1.5v71.8h-1.5zM464 260.3h1.5v71.8h-1.5zM476 260.3h1.5v71.8h-1.5zM480.5 260.3h1.5v71.8h-1.5zM503 260.3h1.5v71.8h-1.5z"/><path fill="#fcccc0" d="M50 260.3h1.5v71.8h-1.5zM53 260.3h1.5v71.8h-1.5zM83 260.3h1.5v71.8h-1.5zM104 260.3h1.5v71.8h-1.5zM107 260.3h1.5v71.8h-1.5zM143 260.3h1.5v71.8h-1.5zM198.5 260.3h1.5v71.8h-1.5zM216.5 260.3h1.5v71.8h-1.5zM222.5 260.3h1.5v71.8h-1.5zM240.5 260.3h1.5v71.8h-1.5zM267.5 260.3h1.5v71.8h-1.5zM309.5 260.3h3v71.8h-3zM315.5 260.3h1.5v71.8h-1.5zM384.5 260.3h1.5v71.8h-1.5zM414.5 260.3h1.5v71.8h-1.5zM455 260.3h1.5v71.8h-1.5zM471.5 260.3h1.5v71.8h-1.5zM510.5 260.3h1.5v71.8h-1.5zM513.5 260.3h1.5v71.8h-1.5z"/><path fill="#9cc0e4" d="M51.5 260.3h1.5v71.8h-1.5zM62 260.3h1.5v71.8h-1.5zM141.5 260.3h1.5v71.8h-1.5zM186.5 260.3h1.5v71.8h-1.5zM206 260.3h1.5v71.8h-1.5zM258.5 260.3h1.5v71.8h-1.5zM303.5 260.3h1.5v71.8h-1.5zM323 260.3h1.5v71.8h-1.5zM329 260.3h1.5v71.8h-1.5zM357.5 260.3h1.5v71.8h-1.5zM372.5 260.3h1.5v71.8h-1.5zM377 260.3h1.5v71.8h-1.5zM410 260.3h1.5v71.8h-1.5zM417.5 260.3h1.5v71.8h-1.5z"/><path fill="#84b4d8" d="M54.5 260.3h1.5v71.8h-1.5zM71 260.3h1.5v71.8h-1.5zM92 260.3h1.5v71.8h-1.5zM158 260.3h1.5v71.8h-1.5zM204.5 260.3h1.5v71.8h-1.5zM333.5 260.3h3v71.8h-3zM348.5 260.3h1.5v71.8h-1.5zM354.5 260.3h3v71.8h-3zM359 260.3h1.5v71.8h-1.5zM366.5 260.3h1.5v71.8h-1.5zM374 260.3h1.5v71.8h-1.5zM396.5 260.3h1.5v71.8h-1.5zM435.5 260.3h1.5v71.8h-1.5zM486.5 260.3h1.5v71.8h-1.5zM507.5 260.3h1.5v71.8h-1.5z"/><path fill="#cce4f0" d="M56 260.3h3v71.8h-3zM179 260.3h1.5v71.8h-1.5zM209 260.3h3v71.8h-3zM221 260.3h1.5v71.8h-1.5zM224 260.3h1.5v71.8h-1.5zM236 260.3h1.5v71.8h-1.5zM398 260.3h1.5v71.8h-1.5zM407 260.3h1.5v71.8h-1.5zM419 260.3h1.5v71.8h-1.5zM458 260.3h1.5v71.8h-1.5zM477.5 260.3h1.5v71.8h-1.5zM512 260.3h1.5v71.8h-1.5z"/><path fill="#f0c0a8" d="M60.5 260.3h1.5v71.8h-1.5zM63.5 260.3h1.5v71.8h-1.5zM75.5 260.3h1.5v71.8h-1.5zM105.5 260.3h1.5v71.8h-1.5zM168.5 260.3h1.5v71.8h-1.5zM171.5 260.3h1.5v71.8h-1.5zM213.5 260.3h1.5v71.8h-1.5zM276.5 260.3h1.5v71.8h-1.5zM297.5 260.3h1.5v71.8h-1.5zM332 260.3h1.5v71.8h-1.5zM395 260.3h1.5v71.8h-1.5zM411.5 260.3h1.5v71.8h-1.5zM444.5 260.3h1.5v71.8h-1.5zM449 260.3h3v71.8h-3zM482 260.3h1.5v71.8h-1.5zM506 260.3h1.5v71.8h-1.5z"/><path fill="#d8e4f0" d="M65 260.3h3v71.8h-3zM93.5 260.3h1.5v71.8h-1.5zM108.5 260.3h1.5v71.8h-1.5zM165.5 260.3h1.5v71.8h-1.5zM170 260.3h1.5v71.8h-1.5zM197 260.3h1.5v71.8h-1.5zM245 260.3h1.5v71.8h-1.5zM273.5 260.3h1.5v71.8h-1.5zM278 260.3h1.5v71.8h-1.5zM324.5 260.3h1.5v71.8h-1.5zM489.5 260.3h1.5v71.8h-1.5zM498.5 260.3h3v71.8h-3z"/><path fill="#b4d8e4" d="M69.5 260.3h1.5v71.8h-1.5zM77 260.3h1.5v71.8h-1.5zM159.5 260.3h1.5v71.8h-1.5zM272 260.3h1.5v71.8h-1.5zM363.5 260.3h1.5v71.8h-1.5zM423.5 260.3h1.5v71.8h-1.5zM495.5 260.3h1.5v71.8h-1.5z"/><path fill="#78a8cc" d="M72.5 260.3h1.5v71.8h-1.5zM84.5 260.3h1.5v71.8h-1.5z"/><path fill="#c0d8e4" d="M74 260.3h1.5v71.8h-1.5zM117.5 260.3h1.5v71.8h-1.5zM126.5 260.3h1.5v71.8h-1.5zM140 260.3h1.5v71.8h-1.5zM174.5 260.3h1.5v71.8h-1.5zM242 260.3h1.5v71.8h-1.5zM284 260.3h1.5v71.8h-1.5zM312.5 260.3h1.5v71.8h-1.5zM347 260.3h1.5v71.8h-1.5zM389 260.3h1.5v71.8h-1.5zM422 260.3h1.5v71.8h-1.5z"/><path fill="#f0d8c0" d="M81.5 260.3h1.5v71.8h-1.5zM89 260.3h1.5v71.8h-1.5zM155 260.3h1.5v71.8h-1.5zM212 260.3h1.5v71.8h-1.5zM228.5 260.3h1.5v71.8h-1.5zM255.5 260.3h1.5v71.8h-1.5zM260 260.3h1.5v71.8h-1.5zM321.5 260.3h1.5v71.8h-1.5zM380 260.3h1.5v71.8h-1.5zM386 260.3h1.5v71.8h-1.5zM416 260.3h1.5v71.8h-1.5zM483.5 260.3h1.5v71.8h-1.5zM501.5 260.3h1.5v71.8h-1.5zM509 260.3h1.5v71.8h-1.5z"/><path fill="#f0d8cc" d="M86 260.3h1.5v71.8h-1.5zM125 260.3h1.5v71.8h-1.5zM180.5 260.3h3v71.8h-3zM207.5 260.3h1.5v71.8h-1.5zM239 260.3h1.5v71.8h-1.5zM264.5 260.3h1.5v71.8h-1.5zM285.5 260.3h1.5v71.8h-1.5zM291.5 260.3h1.5v71.8h-1.5zM306.5 260.3h1.5v71.8h-1.5zM351.5 260.3h1.5v71.8h-1.5zM399.5 260.3h1.5v71.8h-1.5zM437 260.3h1.5v71.8h-1.5zM519.5 260.3h1.5v71.8h-1.5z"/><path fill="#9ccce4" d="M95 260.3h1.5v71.8h-1.5zM122 260.3h1.5v71.8h-1.5zM225.5 260.3h1.5v71.8h-1.5zM353 260.3h1.5v71.8h-1.5zM426.5 260.3h1.5v71.8h-1.5z"/><path fill="#a8cce4" d="M96.5 260.3h1.5v71.8h-1.5zM134 260.3h1.5v71.8h-1.5zM152 260.3h1.5v71.8h-1.5zM156.5 260.3h1.5v71.8h-1.5zM275 260.3h1.5v71.8h-1.5zM302 260.3h1.5v71.8h-1.5zM338 260.3h1.5v71.8h-1.5zM440 260.3h1.5v71.8h-1.5zM465.5 260.3h1.5v71.8h-1.5zM516.5 260.3h1.5v71.8h-1.5z"/><path fill="#6ca8cc" d="M99.5 260.3h1.5v71.8h-1.5zM132.5 260.3h1.5v71.8h-1.5zM153.5 260.3h1.5v71.8h-1.5zM185 260.3h1.5v71.8h-1.5zM339.5 260.3h3v71.8h-3zM369.5 260.3h1.5v71.8h-1.5zM387.5 260.3h1.5v71.8h-1.5z"/><path fill="#fcc0b4" d="M110 260.3h1.5v71.8h-1.5zM162.5 260.3h3v71.8h-3zM261.5 260.3h1.5v71.8h-1.5zM281 260.3h1.5v71.8h-1.5z"/><path fill="#c0d8f0" d="M113 260.3h1.5v71.8h-1.5zM137 260.3h1.5v71.8h-1.5zM234.5 260.3h1.5v71.8h-1.5zM270.5 260.3h1.5v71.8h-1.5zM392 260.3h1.5v71.8h-1.5zM408.5 260.3h1.5v71.8h-1.5z"/><path fill="#fcccb4" d="M114.5 260.3h3v71.8h-3zM120.5 260.3h1.5v71.8h-1.5zM128 260.3h1.5v71.8h-1.5zM150.5 260.3h1.5v71.8h-1.5zM188 260.3h1.5v71.8h-1.5zM195.5 260.3h1.5v71.8h-1.5zM200 260.3h3v71.8h-3zM215 260.3h1.5v71.8h-1.5zM227 260.3h1.5v71.8h-1.5zM246.5 260.3h1.5v71.8h-1.5zM252.5 260.3h1.5v71.8h-1.5zM296 260.3h1.5v71.8h-1.5zM381.5 260.3h1.5v71.8h-1.5zM428 260.3h1.5v71.8h-1.5zM431 260.3h1.5v71.8h-1.5zM441.5 260.3h1.5v71.8h-1.5zM452 260.3h1.5v71.8h-1.5zM470 260.3h1.5v71.8h-1.5zM473 260.3h1.5v71.8h-1.5z"/><path fill="#fcd8c0" d="M119 260.3h1.5v71.8h-1.5z"/><path fill="#f0b490" d="M123.5 260.3h1.5v71.8h-1.5zM189.5 260.3h1.5v71.8h-1.5zM248 260.3h1.5v71.8h-1.5zM485 260.3h1.5v71.8h-1.5zM488 260.3h1.5v71.8h-1.5z"/><path fill="#b4cce4" d="M131 260.3h1.5v71.8h-1.5zM173 260.3h1.5v71.8h-1.5zM203 260.3h1.5v71.8h-1.5zM288.5 260.3h1.5v71.8h-1.5zM326 260.3h1.5v71.8h-1.5zM360.5 260.3h1.5v71.8h-1.5zM383 260.3h1.5v71.8h-1.5zM468.5 260.3h1.5v71.8h-1.5z"/><path fill="#fcc0a8" d="M146 260.3h4.5v71.8h-4.5zM279.5 260.3h1.5v71.8h-1.5zM287 260.3h1.5v71.8h-1.5zM320 260.3h1.5v71.8h-1.5zM344 260.3h1.5v71.8h-1.5zM453.5 260.3h1.5v71.8h-1.5zM467 260.3h1.5v71.8h-1.5zM492.5 260.3h1.5v71.8h-1.5z"/><path fill="#9cc0d8" d="M167 260.3h1.5v71.8h-1.5zM183.5 260.3h1.5v71.8h-1.5zM194 260.3h1.5v71.8h-1.5zM218 260.3h1.5v71.8h-1.5zM318.5 260.3h1.5v71.8h-1.5zM350 260.3h1.5v71.8h-1.5zM479 260.3h1.5v71.8h-1.5z"/><path fill="#f0c09c" d="M254 260.3h1.5v71.8h-1.5z"/><path fill="#60a8cc" d="M305 260.3h1.5v71.8h-1.5z"/><path fill="#78a8d8" d="M362 260.3h1.5v71.8h-1.5zM375.5 260.3h1.5v71.8h-1.5zM515 260.3h1.5v71.8h-1.5z"/><path fill="#90b4d8" d="M368 260.3h1.5v71.8h-1.5zM402.5 260.3h1.5v71.8h-1.5z"/><path fill="#e4e4e4" d="M456.5 260.3h1.5v71.8h-1.5zM461 260.3h1.5v71.8h-1.5z"/><path fill="#609ccc" d="M491 260.3h1.5v71.8h-1.5z"/><path fill="#f0e4e4" d="M494 260.3h1.5v71.8h-1.5z"/><path fill="#e4786c" d="M41 332.1h1.5v71.9h-1.5z"/><path fill="#d86054" d="M42.5 332.1h1.5v71.9h-1.5zM131 332.1h1.5v71.9h-1.5zM314 332.1h1.5v71.9h-1.5z"/><path fill="#cc6054" d="M44 332.1h1.5v71.9h-1.5z"/><path fill="#fcd8c0" d="M45.5 332.1h1.5v71.9h-1.5zM209 332.1h1.5v71.9h-1.5zM342.5 332.1h1.5v71.9h-1.5z"/><path fill="#fcc0a8" d="M47 332.1h1.5v71.9h-1.5zM59 332.1h1.5v71.9h-1.5zM71 332.1h1.5v71.9h-1.5zM159.5 332.1h1.5v71.9h-1.5zM341 332.1h1.5v71.9h-1.5z"/><path fill="#b4d8e4" d="M48.5 332.1h1.5v71.9h-1.5zM51.5 332.1h1.5v71.9h-1.5zM75.5 332.1h1.5v71.9h-1.5zM180.5 332.1h1.5v71.9h-1.5zM186.5 332.1h1.5v71.9h-1.5zM326 332.1h1.5v71.9h-1.5zM374 332.1h1.5v71.9h-1.5zM378.5 332.1h1.5v71.9h-1.5zM398 332.1h1.5v71.9h-1.5zM411.5 332.1h1.5v71.9h-1.5zM422 332.1h1.5v71.9h-1.5zM429.5 332.1h1.5v71.9h-1.5zM464 332.1h3v71.9h-3zM477.5 332.1h1.5v71.9h-1.5zM497 332.1h1.5v71.9h-1.5z"/><path fill="#cc4854" d="M50 332.1h1.5v71.9h-1.5zM150.5 332.1h1.5v71.9h-1.5zM396.5 332.1h1.5v71.9h-1.5z"/><path fill="#c04848" d="M53 332.1h1.5v71.9h-1.5zM174.5 332.1h1.5v71.9h-1.5zM177.5 332.1h1.5v71.9h-1.5z"/><path fill="#e47860" d="M54.5 332.1h1.5v71.9h-1.5zM111.5 332.1h1.5v71.9h-1.5zM509 332.1h1.5v71.9h-1.5z"/><path fill="#e4846c" d="M56 332.1h1.5v71.9h-1.5zM113 332.1h1.5v71.9h-1.5zM233 332.1h1.5v71.9h-1.5zM443 332.1h1.5v71.9h-1.5zM488 332.1h1.5v71.9h-1.5z"/><path fill="#d86c60" d="M57.5 332.1h1.5v71.9h-1.5zM348.5 332.1h1.5v71.9h-1.5z"/><path fill="#b4cce4" d="M60.5 332.1h1.5v71.9h-1.5zM219.5 332.1h1.5v71.9h-1.5zM321.5 332.1h1.5v71.9h-1.5zM375.5 332.1h1.5v71.9h-1.5zM473 332.1h1.5v71.9h-1.5zM486.5 332.1h1.5v71.9h-1.5z"/><path fill="#c0d8e4" d="M62 332.1h1.5v71.9h-1.5zM95 332.1h1.5v71.9h-1.5zM117.5 332.1h3v71.9h-3zM128 332.1h1.5v71.9h-1.5zM191 332.1h1.5v71.9h-1.5zM227 332.1h1.5v71.9h-1.5zM243.5 332.1h1.5v71.9h-1.5zM302 332.1h1.5v71.9h-1.5zM332 332.1h1.5v71.9h-1.5zM338 332.1h1.5v71.9h-1.5zM371 332.1h1.5v71.9h-1.5zM402.5 332.1h3v71.9h-3zM441.5 332.1h1.5v71.9h-1.5zM453.5 332.1h1.5v71.9h-1.5zM459.5 332.1h3v71.9h-3zM470 332.1h1.5v71.9h-1.5zM476 332.1h1.5v71.9h-1.5zM492.5 332.1h1.5v71.9h-1.5zM507.5 332.1h1.5v71.9h-1.5zM515 332.1h1.5v71.9h-1.5z"/><path fill="#c0d8f0" d="M63.5 332.1h1.5v71.9h-1.5zM81.5 332.1h1.5v71.9h-1.5zM99.5 332.1h1.5v71.9h-1.5zM141.5 332.1h1.5v71.9h-1.5zM212 332.1h1.5v71.9h-1.5zM230 332.1h1.5v71.9h-1.5zM246.5 332.1h1.5v71.9h-1.5zM272 332.1h1.5v71.9h-1.5zM287 332.1h1.5v71.9h-1.5zM327.5 332.1h1.5v71.9h-1.5zM372.5 332.1h1.5v71.9h-1.5zM381.5 332.1h1.5v71.9h-1.5zM416 332.1h1.5v71.9h-1.5zM434 332.1h1.5v71.9h-1.5zM438.5 332.1h3v71.9h-3zM462.5 332.1h1.5v71.9h-1.5zM480.5 332.1h1.5v71.9h-1.5zM494 332.1h3v71.9h-3zM500 332.1h1.5v71.9h-1.5zM504.5 332.1h1.5v71.9h-1.5z"/><path fill="#d8e4f0" d="M65 332.1h1.5v71.9h-1.5zM78.5 332.1h1.5v71.9h-1.5zM87.5 332.1h1.5v71.9h-1.5zM104 332.1h1.5v71.9h-1.5zM107 332.1h1.5v71.9h-1.5zM120.5 332.1h3v71.9h-3zM158 332.1h1.5v71.9h-1.5zM164 332.1h1.5v71.9h-1.5zM188 332.1h1.5v71.9h-1.5zM198.5 332.1h1.5v71.9h-1.5zM201.5 332.1h1.5v71.9h-1.5zM242 332.1h1.5v71.9h-1.5zM252.5 332.1h3v71.9h-3zM269 332.1h1.5v71.9h-1.5zM293 332.1h1.5v71.9h-1.5zM306.5 332.1h1.5v71.9h-1.5zM315.5 332.1h1.5v71.9h-1.5zM329 332.1h1.5v71.9h-1.5zM350 332.1h3v71.9h-3zM357.5 332.1h1.5v71.9h-1.5zM360.5 332.1h1.5v71.9h-1.5zM363.5 332.1h1.5v71.9h-1.5zM383 332.1h1.5v71.9h-1.5zM401 332.1h1.5v71.9h-1.5zM405.5 332.1h1.5v71.9h-1.5zM408.5 332.1h3v71.9h-3zM413 332.1h1.5v71.9h-1.5zM423.5 332.1h1.5v71.9h-1.5zM449 332.1h1.5v71.9h-1.5zM506 332.1h1.5v71.9h-1.5zM513.5 332.1h1.5v71.9h-1.5z"/><path fill="#fcccb4" d="M66.5 332.1h1.5v71.9h-1.5zM101 332.1h1.5v71.9h-1.5zM108.5 332.1h3v71.9h-3zM114.5 332.1h1.5v71.9h-1.5zM144.5 332.1h1.5v71.9h-1.5zM197 332.1h1.5v71.9h-1.5zM309.5 332.1h1.5v71.9h-1.5zM333.5 332.1h1.5v71.9h-1.5zM435.5 332.1h1.5v71.9h-1.5zM467 332.1h1.5v71.9h-1.5zM501.5 332.1h1.5v71.9h-1.5z"/><path fill="#cce4f0" d="M68 332.1h1.5v71.9h-1.5zM74 332.1h1.5v71.9h-1.5zM80 332.1h1.5v71.9h-1.5zM84.5 332.1h1.5v71.9h-1.5zM98 332.1h1.5v71.9h-1.5zM116 332.1h1.5v71.9h-1.5zM129.5 332.1h1.5v71.9h-1.5zM132.5 332.1h1.5v71.9h-1.5zM135.5 332.1h1.5v71.9h-1.5zM140 332.1h1.5v71.9h-1.5zM143 332.1h1.5v71.9h-1.5zM152 332.1h3v71.9h-3zM161 332.1h1.5v71.9h-1.5zM165.5 332.1h4.5v71.9h-4.5zM173 332.1h1.5v71.9h-1.5zM176 332.1h1.5v71.9h-1.5zM179 332.1h1.5v71.9h-1.5zM182 332.1h3v71.9h-3zM189.5 332.1h1.5v71.9h-1.5zM194 332.1h1.5v71.9h-1.5zM203 332.1h6v71.9h-6zM213.5 332.1h1.5v71.9h-1.5zM216.5 332.1h3v71.9h-3zM231.5 332.1h1.5v71.9h-1.5zM236 332.1h1.5v71.9h-1.5zM239 332.1h3v71.9h-3zM255.5 332.1h4.5v71.9h-4.5zM263 332.1h1.5v71.9h-1.5zM266 332.1h1.5v71.9h-1.5zM270.5 332.1h1.5v71.9h-1.5zM278 332.1h1.5v71.9h-1.5zM284 332.1h1.5v71.9h-1.5zM288.5 332.1h1.5v71.9h-1.5zM291.5 332.1h1.5v71.9h-1.5zM294.5 332.1h4.5v71.9h-4.5zM303.5 332.1h1.5v71.9h-1.5zM317 332.1h3v71.9h-3zM324.5 332.1h1.5v71.9h-1.5zM330.5 332.1h1.5v71.9h-1.5zM335 332.1h1.5v71.9h-1.5zM339.5 332.1h1.5v71.9h-1.5zM345.5 332.1h1.5v71.9h-1.5zM354.5 332.1h3v71.9h-3zM362 332.1h1.5v71.9h-1.5zM365 332.1h1.5v71.9h-1.5zM368 332.1h3v71.9h-3zM377 332.1h1.5v71.9h-1.5zM380 332.1h1.5v71.9h-1.5zM384.5 332.1h6v71.9h-6zM393.5 332.1h3v71.9h-3zM399.5 332.1h1.5v71.9h-1.5zM407 332.1h1.5v71.9h-1.5zM414.5 332.1h1.5v71.9h-1.5zM419 332.1h1.5v71.9h-1.5zM425 332.1h3v71.9h-3zM431 332.1h3v71.9h-3zM444.5 332.1h1.5v71.9h-1.5zM447.5 332.1h1.5v71.9h-1.5zM450.5 332.1h1.5v71.9h-1.5zM455 332.1h4.5v71.9h-4.5zM471.5 332.1h1.5v71.9h-1.5zM474.5 332.1h1.5v71.9h-1.5zM485 332.1h1.5v71.9h-1.5zM489.5 332.1h3v71.9h-3zM498.5 332.1h1.5v71.9h-1.5zM503 332.1h1.5v71.9h-1.5zM510.5 332.1h3v71.9h-3zM516.5 332.1h1.5v71.9h-1.5z"/><path fill="#f0b49c" d="M69.5 332.1h1.5v71.9h-1.5zM89 332.1h1.5v71.9h-1.5zM92 332.1h3v71.9h-3zM96.5 332.1h1.5v71.9h-1.5zM125 332.1h1.5v71.9h-1.5zM147.5 332.1h3v71.9h-3zM171.5 332.1h1.5v71.9h-1.5zM234.5 332.1h1.5v71.9h-1.5zM245 332.1h1.5v71.9h-1.5zM260 332.1h3v71.9h-3zM285.5 332.1h1.5v71.9h-1.5zM308 332.1h1.5v71.9h-1.5zM312.5 332.1h1.5v71.9h-1.5zM417.5 332.1h1.5v71.9h-1.5zM420.5 332.1h1.5v71.9h-1.5z"/><path fill="#cc5454" d="M72.5 332.1h1.5v71.9h-1.5zM162.5 332.1h1.5v71.9h-1.5zM215 332.1h1.5v71.9h-1.5zM228.5 332.1h1.5v71.9h-1.5zM267.5 332.1h1.5v71.9h-1.5zM320 332.1h1.5v71.9h-1.5zM519.5 332.1h1.5v71.9h-1.5z"/><path fill="#f0a890" d="M77 332.1h1.5v71.9h-1.5zM170 332.1h1.5v71.9h-1.5zM185 332.1h1.5v71.9h-1.5zM192.5 332.1h1.5v71.9h-1.5zM225.5 332.1h1.5v71.9h-1.5zM336.5 332.1h1.5v71.9h-1.5z"/><path fill="#f0d8cc" d="M83 332.1h1.5v71.9h-1.5zM86 332.1h1.5v71.9h-1.5zM102.5 332.1h1.5v71.9h-1.5zM353 332.1h1.5v71.9h-1.5zM428 332.1h1.5v71.9h-1.5zM446 332.1h1.5v71.9h-1.5z"/><path fill="#e49078" d="M90.5 332.1h1.5v71.9h-1.5z"/><path fill="#f0c0a8" d="M105.5 332.1h1.5v71.9h-1.5zM134 332.1h1.5v71.9h-1.5zM138.5 332.1h1.5v71.9h-1.5zM224 332.1h1.5v71.9h-1.5zM290 332.1h1.5v71.9h-1.5zM452 332.1h1.5v71.9h-1.5z"/><path fill="#d86c54" d="M123.5 332.1h1.5v71.9h-1.5zM300.5 332.1h1.5v71.9h-1.5z"/><path fill="#fcccc0" d="M126.5 332.1h1.5v71.9h-1.5zM156.5 332.1h1.5v71.9h-1.5zM222.5 332.1h1.5v71.9h-1.5zM273.5 332.1h3v71.9h-3zM305 332.1h1.5v71.9h-1.5zM347 332.1h1.5v71.9h-1.5zM392 332.1h1.5v71.9h-1.5z"/><path fill="#cc4848" d="M137 332.1h1.5v71.9h-1.5z"/><path fill="#f0b490" d="M146 332.1h1.5v71.9h-1.5zM195.5 332.1h1.5v71.9h-1.5zM221 332.1h1.5v71.9h-1.5zM276.5 332.1h1.5v71.9h-1.5zM323 332.1h1.5v71.9h-1.5z"/><path fill="#90c0d8" d="M155 332.1h1.5v71.9h-1.5z"/><path fill="#f0a884" d="M200 332.1h1.5v71.9h-1.5zM248 332.1h3v71.9h-3zM264.5 332.1h1.5v71.9h-1.5zM281 332.1h3v71.9h-3zM299 332.1h1.5v71.9h-1.5zM390.5 332.1h1.5v71.9h-1.5zM468.5 332.1h1.5v71.9h-1.5zM483.5 332.1h1.5v71.9h-1.5zM518 332.1h1.5v71.9h-1.5z"/><path fill="#ccd8f0" d="M210.5 332.1h1.5v71.9h-1.5zM237.5 332.1h1.5v71.9h-1.5zM344 332.1h1.5v71.9h-1.5zM359 332.1h1.5v71.9h-1.5zM366.5 332.1h1.5v71.9h-1.5zM479 332.1h1.5v71.9h-1.5zM482 332.1h1.5v71.9h-1.5z"/><path fill="#f0c09c" d="M251 332.1h1.5v71.9h-1.5z"/><path fill="#a8cce4" d="M279.5 332.1h1.5v71.9h-1.5zM311 332.1h1.5v71.9h-1.5z"/><path fill="#fcc0b4" d="M437 332.1h1.5v71.9h-1.5z"/><path fill="#b4d8e4" d="M41 403.9h1.5v71.9h-1.5zM54.5 403.9h3v71.9h-3zM72.5 403.9h1.5v71.9h-1.5zM131 403.9h1.5v71.9h-1.5zM143 403.9h1.5v71.9h-1.5zM159.5 403.9h1.5v71.9h-1.5zM177.5 403.9h1.5v71.9h-1.5zM191 403.9h1.5v71.9h-1.5zM194 403.9h1.5v71.9h-1.5zM200 403.9h1.5v71.9h-1.5zM209 403.9h1.5v71.9h-1.5zM221 403.9h1.5v71.9h-1.5zM230 403.9h1.5v71.9h-1.5zM291.5 403.9h1.5v71.9h-1.5zM336.5 403.9h1.5v71.9h-1.5zM416 403.9h1.5v71.9h-1.5zM501.5 403.9h1.5v71.9h-1.5zM504.5 403.9h1.5v71.9h-1.5zM509 403.9h1.5v71.9h-1.5z"/><path fill="#fcccb4" d="M42.5 403.9h1.5v71.9h-1.5zM80 403.9h1.5v71.9h-1.5zM86 403.9h1.5v71.9h-1.5zM239 403.9h1.5v71.9h-1.5zM276.5 403.9h1.5v71.9h-1.5zM444.5 403.9h1.5v71.9h-1.5z"/><path fill="#c0d8f0" d="M44 403.9h3v71.9h-3zM83 403.9h3v71.9h-3zM96.5 403.9h1.5v71.9h-1.5zM108.5 403.9h1.5v71.9h-1.5zM135.5 403.9h4.5v71.9h-4.5zM141.5 403.9h1.5v71.9h-1.5zM152 403.9h1.5v71.9h-1.5zM225.5 403.9h3v71.9h-3zM237.5 403.9h1.5v71.9h-1.5zM254 403.9h3v71.9h-3zM264.5 403.9h1.5v71.9h-1.5zM285.5 403.9h1.5v71.9h-1.5zM288.5 403.9h1.5v71.9h-1.5zM323 403.9h1.5v71.9h-1.5zM327.5 403.9h1.5v71.9h-1.5zM338 403.9h1.5v71.9h-1.5zM381.5 403.9h1.5v71.9h-1.5zM389 403.9h1.5v71.9h-1.5zM404 403.9h1.5v71.9h-1.5zM417.5 403.9h1.5v71.9h-1.5zM443 403.9h1.5v71.9h-1.5zM467 403.9h1.5v71.9h-1.5zM491 403.9h1.5v71.9h-1.5zM518 403.9h1.5v71.9h-1.5z"/><path fill="#cce4f0" d="M47 403.9h4.5v71.9h-4.5zM53 403.9h1.5v71.9h-1.5zM57.5 403.9h6v71.9h-6zM69.5 403.9h1.5v71.9h-1.5zM74 403.9h1.5v71.9h-1.5zM77 403.9h1.5v71.9h-1.5zM81.5 403.9h1.5v71.9h-1.5zM89 403.9h1.5v71.9h-1.5zM92 403.9h1.5v71.9h-1.5zM99.5 403.9h1.5v71.9h-1.5zM105.5 403.9h3v71.9h-3zM110 403.9h3v71.9h-3zM123.5 403.9h1.5v71.9h-1.5zM132.5 403.9h3v71.9h-3zM140 403.9h1.5v71.9h-1.5zM144.5 403.9h1.5v71.9h-1.5zM147.5 403.9h4.5v71.9h-4.5zM162.5 403.9h1.5v71.9h-1.5zM167 403.9h1.5v71.9h-1.5zM171.5 403.9h1.5v71.9h-1.5zM176 403.9h1.5v71.9h-1.5zM186.5 403.9h3v71.9h-3zM192.5 403.9h1.5v71.9h-1.5zM198.5 403.9h1.5v71.9h-1.5zM204.5 403.9h1.5v71.9h-1.5zM207.5 403.9h1.5v71.9h-1.5zM216.5 403.9h3v71.9h-3zM222.5 403.9h3v71.9h-3zM228.5 403.9h1.5v71.9h-1.5zM234.5 403.9h3v71.9h-3zM240.5 403.9h1.5v71.9h-1.5zM249.5 403.9h4.5v71.9h-4.5zM258.5 403.9h4.5v71.9h-4.5zM266 403.9h1.5v71.9h-1.5zM273.5 403.9h3v71.9h-3zM281 403.9h1.5v71.9h-1.5zM284 403.9h1.5v71.9h-1.5zM287 403.9h1.5v71.9h-1.5zM290 403.9h1.5v71.9h-1.5zM293 403.9h3v71.9h-3zM312.5 403.9h1.5v71.9h-1.5zM318.5 403.9h3v71.9h-3zM324.5 403.9h3v71.9h-3zM330.5 403.9h3v71.9h-3zM335 403.9h1.5v71.9h-1.5zM342.5 403.9h3v71.9h-3zM369.5 403.9h1.5v71.9h-1.5zM378.5 403.9h1.5v71.9h-1.5zM386 403.9h1.5v71.9h-1.5zM393.5 403.9h3v71.9h-3zM399.5 403.9h3v71.9h-3zM408.5 403.9h1.5v71.9h-1.5zM414.5 403.9h1.5v71.9h-1.5zM419 403.9h4.5v71.9h-4.5zM425 403.9h1.5v71.9h-1.5zM429.5 403.9h1.5v71.9h-1.5zM434 403.9h1.5v71.9h-1.5zM440 403.9h3v71.9h-3zM446 403.9h4.5v71.9h-4.5zM455 403.9h1.5v71.9h-1.5zM458 403.9h3v71.9h-3zM462.5 403.9h1.5v71.9h-1.5zM465.5 403.9h1.5v71.9h-1.5zM468.5 403.9h1.5v71.9h-1.5zM471.5 403.9h6v71.9h-6zM479 403.9h3v71.9h-3zM485 403.9h1.5v71.9h-1.5zM488 403.9h1.5v71.9h-1.5zM494 403.9h1.5v71.9h-1.5zM497 403.9h3v71.9h-3zM506 403.9h3v71.9h-3zM510.5 403.9h7.5v71.9h-7.5z"/><path fill="#f0c0a8" d="M51.5 403.9h1.5v71.9h-1.5zM75.5 403.9h1.5v71.9h-1.5zM102.5 403.9h1.5v71.9h-1.5zM117.5 403.9h1.5v71.9h-1.5zM246.5 403.9h1.5v71.9h-1.5zM372.5 403.9h1.5v71.9h-1.5zM402.5 403.9h1.5v71.9h-1.5z"/><path fill="#d8e4f0" d="M63.5 403.9h1.5v71.9h-1.5zM90.5 403.9h1.5v71.9h-1.5zM98 403.9h1.5v71.9h-1.5zM104 403.9h1.5v71.9h-1.5zM116 403.9h1.5v71.9h-1.5zM173 403.9h3v71.9h-3zM179 403.9h1.5v71.9h-1.5zM215 403.9h1.5v71.9h-1.5zM243.5 403.9h3v71.9h-3zM263 403.9h1.5v71.9h-1.5zM269 403.9h3v71.9h-3zM299 403.9h1.5v71.9h-1.5zM333.5 403.9h1.5v71.9h-1.5zM359 403.9h1.5v71.9h-1.5zM405.5 403.9h1.5v71.9h-1.5zM410 403.9h1.5v71.9h-1.5zM461 403.9h1.5v71.9h-1.5z"/><path fill="#c0d8e4" d="M65 403.9h1.5v71.9h-1.5zM71 403.9h1.5v71.9h-1.5zM101 403.9h1.5v71.9h-1.5zM113 403.9h1.5v71.9h-1.5zM125 403.9h1.5v71.9h-1.5zM161 403.9h1.5v71.9h-1.5zM201.5 403.9h1.5v71.9h-1.5zM242 403.9h1.5v71.9h-1.5zM257 403.9h1.5v71.9h-1.5zM305 403.9h1.5v71.9h-1.5zM398 403.9h1.5v71.9h-1.5zM432.5 403.9h1.5v71.9h-1.5zM453.5 403.9h1.5v71.9h-1.5zM464 403.9h1.5v71.9h-1.5zM477.5 403.9h1.5v71.9h-1.5zM489.5 403.9h1.5v71.9h-1.5zM495.5 403.9h1.5v71.9h-1.5z"/><path fill="#f0d8cc" d="M66.5 403.9h1.5v71.9h-1.5zM128 403.9h1.5v71.9h-1.5zM185 403.9h1.5v71.9h-1.5zM317 403.9h1.5v71.9h-1.5zM390.5 403.9h1.5v71.9h-1.5zM396.5 403.9h1.5v71.9h-1.5z"/><path fill="#f0b49c" d="M68 403.9h1.5v71.9h-1.5zM119 403.9h1.5v71.9h-1.5zM296 403.9h1.5v71.9h-1.5zM302 403.9h1.5v71.9h-1.5zM339.5 403.9h1.5v71.9h-1.5zM392 403.9h1.5v71.9h-1.5zM428 403.9h1.5v71.9h-1.5z"/><path fill="#a8cce4" d="M78.5 403.9h1.5v71.9h-1.5zM158 403.9h1.5v71.9h-1.5zM183.5 403.9h1.5v71.9h-1.5z"/><path fill="#ccd8f0" d="M87.5 403.9h1.5v71.9h-1.5zM182 403.9h1.5v71.9h-1.5zM212 403.9h1.5v71.9h-1.5zM297.5 403.9h1.5v71.9h-1.5zM315.5 403.9h1.5v71.9h-1.5zM431 403.9h1.5v71.9h-1.5zM435.5 403.9h1.5v71.9h-1.5zM483.5 403.9h1.5v71.9h-1.5z"/><path fill="#cc5454" d="M93.5 403.9h1.5v71.9h-1.5zM278 403.9h1.5v71.9h-1.5zM306.5 403.9h1.5v71.9h-1.5zM351.5 403.9h1.5v71.9h-1.5zM360.5 403.9h3v71.9h-3zM371 403.9h1.5v71.9h-1.5zM411.5 403.9h1.5v71.9h-1.5z"/><path fill="#cc6054" d="M95 403.9h1.5v71.9h-1.5zM189.5 403.9h1.5v71.9h-1.5zM345.5 403.9h1.5v71.9h-1.5z"/><path fill="#b4cce4" d="M114.5 403.9h1.5v71.9h-1.5zM164 403.9h3v71.9h-3zM197 403.9h1.5v71.9h-1.5zM426.5 403.9h1.5v71.9h-1.5zM500 403.9h1.5v71.9h-1.5zM503 403.9h1.5v71.9h-1.5z"/><path fill="#e4846c" d="M120.5 403.9h1.5v71.9h-1.5zM384.5 403.9h1.5v71.9h-1.5zM519.5 403.9h1.5v71.9h-1.5z"/><path fill="#d86c54" d="M122 403.9h1.5v71.9h-1.5zM170 403.9h1.5v71.9h-1.5zM329 403.9h1.5v71.9h-1.5zM383 403.9h1.5v71.9h-1.5zM438.5 403.9h1.5v71.9h-1.5z"/><path fill="#fcc0a8" d="M126.5 403.9h1.5v71.9h-1.5zM146 403.9h1.5v71.9h-1.5zM233 403.9h1.5v71.9h-1.5zM300.5 403.9h1.5v71.9h-1.5zM341 403.9h1.5v71.9h-1.5zM347 403.9h1.5v71.9h-1.5z"/><path fill="#f0a890" d="M129.5 403.9h1.5v71.9h-1.5zM153.5 403.9h1.5v71.9h-1.5zM219.5 403.9h1.5v71.9h-1.5zM308 403.9h1.5v71.9h-1.5zM482 403.9h1.5v71.9h-1.5z"/><path fill="#e47860" d="M155 403.9h1.5v71.9h-1.5z"/><path fill="#d86c60" d="M156.5 403.9h1.5v71.9h-1.5zM357.5 403.9h1.5v71.9h-1.5z"/><path fill="#f0d8c0" d="M168.5 403.9h1.5v71.9h-1.5zM180.5 403.9h1.5v71.9h-1.5zM492.5 403.9h1.5v71.9h-1.5z"/><path fill="#d86054" d="M195.5 403.9h1.5v71.9h-1.5zM213.5 403.9h1.5v71.9h-1.5zM356 403.9h1.5v71.9h-1.5zM365 403.9h3v71.9h-3zM375.5 403.9h1.5v71.9h-1.5zM387.5 403.9h1.5v71.9h-1.5z"/><path fill="#f0a884" d="M203 403.9h1.5v71.9h-1.5zM350 403.9h1.5v71.9h-1.5zM380 403.9h1.5v71.9h-1.5zM437 403.9h1.5v71.9h-1.5zM456.5 403.9h1.5v71.9h-1.5zM470 403.9h1.5v71.9h-1.5z"/><path fill="#fcccc0" d="M206 403.9h1.5v71.9h-1.5zM267.5 403.9h1.5v71.9h-1.5zM279.5 403.9h1.5v71.9h-1.5zM282.5 403.9h1.5v71.9h-1.5zM303.5 403.9h1.5v71.9h-1.5zM321.5 403.9h1.5v71.9h-1.5zM407 403.9h1.5v71.9h-1.5zM452 403.9h1.5v71.9h-1.5zM486.5 403.9h1.5v71.9h-1.5z"/><path fill="#fcd8c0" d="M210.5 403.9h1.5v71.9h-1.5zM311 403.9h1.5v71.9h-1.5zM450.5 403.9h1.5v71.9h-1.5z"/><path fill="#fcc0b4" d="M231.5 403.9h1.5v71.9h-1.5zM309.5 403.9h1.5v71.9h-1.5zM423.5 403.9h1.5v71.9h-1.5z"/><path fill="#e4906c" d="M248 403.9h1.5v71.9h-1.5z"/><path fill="#e4786c" d="M272 403.9h1.5v71.9h-1.5z"/><path fill="#cc4854" d="M314 403.9h1.5v71.9h-1.5zM353 403.9h1.5v71.9h-1.5z"/><path fill="#b43c48" d="M348.5 403.9h1.5v71.9h-1.5zM363.5 403.9h1.5v71.9h-1.5z"/><path fill="#c03c48" d="M354.5 403.9h1.5v71.9h-1.5zM374 403.9h1.5v71.9h-1.5z"/><path fill="#c04848" d="M368 403.9h1.5v71.9h-1.5zM377 403.9h1.5v71.9h-1.5z"/><path fill="#f0c09c" d="M413 403.9h1.5v71.9h-1.5z"/><path fill="#d8e4f0" d="M41 475.7h3v71.9h-3zM45.5 475.7h1.5v71.9h-1.5zM48.5 475.7h1.5v71.9h-1.5zM54.5 475.7h1.5v71.9h-1.5zM59 475.7h1.5v71.9h-1.5zM62 475.7h1.5v71.9h-1.5zM65 475.7h19.5v71.9h-19.5zM86 475.7h1.5v71.9h-1.5zM89 475.7h16.5v71.9h-16.5zM107 475.7h9v71.9h-9zM117.5 475.7h3v71.9h-3zM122 475.7h3v71.9h-3zM126.5 475.7h1.5v71.9h-1.5zM129.5 475.7h4.5v71.9h-4.5zM135.5 475.7h1.5v71.9h-1.5zM138.5 475.7h9v71.9h-9zM149 475.7h3v71.9h-3zM153.5 475.7h10.5v71.9h-10.5zM165.5 475.7h13.5v71.9h-13.5zM180.5 475.7h1.5v71.9h-1.5zM183.5 475.7h1.5v71.9h-1.5zM186.5 475.7h3v71.9h-3zM191 475.7h7.5v71.9h-7.5zM201.5 475.7h1.5v71.9h-1.5zM204.5 475.7h7.5v71.9h-7.5zM213.5 475.7h12v71.9h-12zM227 475.7h10.5v71.9h-10.5zM239 475.7h4.5v71.9h-4.5zM245 475.7h1.5v71.9h-1.5zM248 475.7h1.5v71.9h-1.5zM251 475.7h21v71.9h-21zM273.5 475.7h1.5v71.9h-1.5zM276.5 475.7h13.5v71.9h-13.5zM291.5 475.7h4.5v71.9h-4.5zM297.5 475.7h6v71.9h-6zM305 475.7h1.5v71.9h-1.5zM308 475.7h3v71.9h-3zM312.5 475.7h9v71.9h-9zM323 475.7h9v71.9h-9zM333.5 475.7h6v71.9h-6zM350 475.7h1.5v71.9h-1.5zM353 475.7h1.5v71.9h-1.5zM359 475.7h1.5v71.9h-1.5zM366.5 475.7h1.5v71.9h-1.5zM371 475.7h1.5v71.9h-1.5zM374 475.7h1.5v71.9h-1.5zM378.5 475.7h1.5v71.9h-1.5zM381.5 475.7h3v71.9h-3zM386 475.7h1.5v71.9h-1.5zM392 475.7h1.5v71.9h-1.5zM395 475.7h3v71.9h-3zM401 475.7h1.5v71.9h-1.5zM404 475.7h4.5v71.9h-4.5zM413 475.7h6v71.9h-6zM422 475.7h4.5v71.9h-4.5zM432.5 475.7h3v71.9h-3zM438.5 475.7h1.5v71.9h-1.5zM441.5 475.7h3v71.9h-3zM447.5 475.7h3v71.9h-3zM455 475.7h1.5v71.9h-1.5zM458 475.7h4.5v71.9h-4.5zM464 475.7h1.5v71.9h-1.5zM473 475.7h1.5v71.9h-1.5zM476 475.7h1.5v71.9h-1.5zM480.5 475.7h4.5v71.9h-4.5zM486.5 475.7h1.5v71.9h-1.5zM492.5 475.7h6v71.9h-6zM501.5 475.7h3v71.9h-3zM510.5 475.7h1.5v71.9h-1.5zM515 475.7h1.5v71.9h-1.5z"/><path fill="#cce4f0" d="M44 475.7h1.5v71.9h-1.5zM50 475.7h1.5v71.9h-1.5zM53 475.7h1.5v71.9h-1.5zM84.5 475.7h1.5v71.9h-1.5zM87.5 475.7h1.5v71.9h-1.5zM116 475.7h1.5v71.9h-1.5zM120.5 475.7h1.5v71.9h-1.5zM137 475.7h1.5v71.9h-1.5zM152 475.7h1.5v71.9h-1.5zM182 475.7h1.5v71.9h-1.5zM185 475.7h1.5v71.9h-1.5zM203 475.7h1.5v71.9h-1.5zM212 475.7h1.5v71.9h-1.5zM225.5 475.7h1.5v71.9h-1.5zM237.5 475.7h1.5v71.9h-1.5zM246.5 475.7h1.5v71.9h-1.5zM272 475.7h1.5v71.9h-1.5zM275 475.7h1.5v71.9h-1.5zM290 475.7h1.5v71.9h-1.5zM296 475.7h1.5v71.9h-1.5zM311 475.7h1.5v71.9h-1.5zM321.5 475.7h1.5v71.9h-1.5zM332 475.7h1.5v71.9h-1.5zM357.5 475.7h1.5v71.9h-1.5zM429.5 475.7h3v71.9h-3zM462.5 475.7h1.5v71.9h-1.5zM488 475.7h1.5v71.9h-1.5z"/><path fill="#f0a884" d="M47 475.7h1.5v71.9h-1.5zM105.5 475.7h1.5v71.9h-1.5zM249.5 475.7h1.5v71.9h-1.5zM345.5 475.7h1.5v71.9h-1.5zM380 475.7h1.5v71.9h-1.5zM384.5 475.7h1.5v71.9h-1.5zM398 475.7h1.5v71.9h-1.5zM437 475.7h1.5v71.9h-1.5z"/><path fill="#f0d8cc" d="M51.5 475.7h1.5v71.9h-1.5zM179 475.7h1.5v71.9h-1.5zM306.5 475.7h1.5v71.9h-1.5zM362 475.7h1.5v71.9h-1.5zM399.5 475.7h1.5v71.9h-1.5zM444.5 475.7h1.5v71.9h-1.5zM456.5 475.7h1.5v71.9h-1.5zM467 475.7h1.5v71.9h-1.5zM512 475.7h1.5v71.9h-1.5z"/><path fill="#f0d8c0" d="M56 475.7h1.5v71.9h-1.5zM147.5 475.7h1.5v71.9h-1.5zM303.5 475.7h1.5v71.9h-1.5zM354.5 475.7h1.5v71.9h-1.5zM365 475.7h1.5v71.9h-1.5zM485 475.7h1.5v71.9h-1.5z"/><path fill="#fcd8c0" d="M57.5 475.7h1.5v71.9h-1.5zM243.5 475.7h1.5v71.9h-1.5z"/><path fill="#e4846c" d="M60.5 475.7h1.5v71.9h-1.5zM128 475.7h1.5v71.9h-1.5zM348.5 475.7h1.5v71.9h-1.5zM351.5 475.7h1.5v71.9h-1.5zM410 475.7h1.5v71.9h-1.5zM506 475.7h1.5v71.9h-1.5z"/><path fill="#f0b49c" d="M63.5 475.7h1.5v71.9h-1.5zM125 475.7h1.5v71.9h-1.5zM356 475.7h1.5v71.9h-1.5zM411.5 475.7h1.5v71.9h-1.5zM435.5 475.7h1.5v71.9h-1.5zM491 475.7h1.5v71.9h-1.5zM516.5 475.7h1.5v71.9h-1.5z"/><path fill="#d86054" d="M134 475.7h1.5v71.9h-1.5zM339.5 475.7h1.5v71.9h-1.5zM342.5 475.7h1.5v71.9h-1.5zM369.5 475.7h1.5v71.9h-1.5zM446 475.7h1.5v71.9h-1.5zM470 475.7h1.5v71.9h-1.5z"/><path fill="#fcccc0" d="M164 475.7h1.5v71.9h-1.5zM363.5 475.7h1.5v71.9h-1.5zM390.5 475.7h1.5v71.9h-1.5zM440 475.7h1.5v71.9h-1.5zM453.5 475.7h1.5v71.9h-1.5zM477.5 475.7h1.5v71.9h-1.5z"/><path fill="#e47860" d="M189.5 475.7h1.5v71.9h-1.5zM372.5 475.7h1.5v71.9h-1.5zM387.5 475.7h1.5v71.9h-1.5zM420.5 475.7h1.5v71.9h-1.5zM428 475.7h1.5v71.9h-1.5zM471.5 475.7h1.5v71.9h-1.5z"/><path fill="#fcccb4" d="M198.5 475.7h3v71.9h-3zM344 475.7h1.5v71.9h-1.5zM360.5 475.7h1.5v71.9h-1.5zM377 475.7h1.5v71.9h-1.5zM419 475.7h1.5v71.9h-1.5zM426.5 475.7h1.5v71.9h-1.5zM465.5 475.7h1.5v71.9h-1.5zM500 475.7h1.5v71.9h-1.5zM504.5 475.7h1.5v71.9h-1.5z"/><path fill="#f0c0a8" d="M341 475.7h1.5v71.9h-1.5zM452 475.7h1.5v71.9h-1.5zM507.5 475.7h1.5v71.9h-1.5z"/><path fill="#fcc0a8" d="M347 475.7h1.5v71.9h-1.5zM450.5 475.7h1.5v71.9h-1.5zM498.5 475.7h1.5v71.9h-1.5z"/><path fill="#e4786c" d="M368 475.7h1.5v71.9h-1.5zM479 475.7h1.5v71.9h-1.5z"/><path fill="#f0a890" d="M375.5 475.7h1.5v71.9h-1.5zM408.5 475.7h1.5v71.9h-1.5zM468.5 475.7h1.5v71.9h-1.5zM474.5 475.7h1.5v71.9h-1.5z"/><path fill="#cc5454" d="M389 475.7h1.5v71.9h-1.5zM393.5 475.7h1.5v71.9h-1.5z"/><path fill="#d86c60" d="M402.5 475.7h1.5v71.9h-1.5z"/><path fill="#e49078" d="M489.5 475.7h1.5v71.9h-1.5z"/><path fill="#f0b490" d="M509 475.7h1.5v71.9h-1.5z"/><path fill="#fcc0b4" d="M513.5 475.7h1.5v71.9h-1.5z"/><path fill="#cc6054" d="M518 475.7h3v71.9h-3z"/><text transform="translate(0 26) scale(0.9 1)" style="font-size:35.5px;font-weight:bold;stroke:#000;stroke-width:0.5px">a</text><text x="281.4" y="28.7" text-anchor="middle" style="font-size:24.5px">BAL samples</text><text x="525.5" y="56" style="font-size:22.4px">Diagnosis</text><text x="525.5" y="75" style="font-size:22.4px">Outcome</text><text x="525.5" y="94" style="font-size:22.4px">Days from intubation</text><text x="525.5" y="112.5" style="font-size:22.4px">Infection status</text><text x="525.5" y="161.5" style="font-size:22.4px">CD4<tspan dy="-9" style="font-size:13px">+</tspan><tspan dy="9"> T cells</tspan></text><text x="525.5" y="234" style="font-size:22.4px">CD8<tspan dy="-9" style="font-size:13px">+</tspan><tspan dy="9"> T cells</tspan></text><text x="525.5" y="301" style="font-size:22.4px">Neutrophils</text><text x="525.5" y="373.5" style="font-size:22.4px">Macrophages</text><text x="525.5" y="446" style="font-size:22.4px">Monocytes</text><text x="525.5" y="516.6" style="font-size:22.4px">T<tspan dy="7" style="font-size:13px">reg</tspan><tspan dy="-7"> cells</tspan></text><text x="29.2" y="340.5" text-anchor="middle" style="font-size:24px" transform="rotate(-90 29.2 340.5)">BAL immune cell subsets</text><text x="691" y="150" style="font-size:22px">Diagnosis</text><rect x="691" y="158.5" width="11.7" height="17" fill="#1473be"/><text x="709" y="175" style="font-size:22px">NPCI</text><rect x="691" y="178.5" width="11.7" height="17" fill="#e8892b"/><text x="709" y="195" style="font-size:22px">OP</text><rect x="691" y="199.5" width="11.7" height="17" fill="#c0392b"/><text x="709" y="216" style="font-size:22px">SARS-C0V-2-P</text><rect x="691" y="219.5" width="11.7" height="17" fill="#1d8a50"/><text x="709" y="236" style="font-size:22px">OVP</text><text x="691" y="268.7" style="font-size:22px">Outcome</text><rect x="691" y="277" width="11.7" height="17" fill="#7c9dd8"/><text x="709" y="293.5" style="font-size:22px">Discharged</text><rect x="691" y="297.3" width="11.7" height="17" fill="#ef7b55"/><text x="709" y="313.8" style="font-size:22px">Deceased</text><text x="691" y="346" style="font-size:22px">Infection status</text><rect x="691" y="355.5" width="11.7" height="17" fill="#8893c0"/><text x="709" y="372" style="font-size:22px">Primary Only</text><rect x="691" y="376" width="11.7" height="17" fill="#f29a80"/><text x="709" y="392.5" style="font-size:22px">Superinfection</text><rect x="691" y="396.5" width="11.7" height="17" fill="#b39c8c"/><text x="709" y="413" style="font-size:22px">VAP</text><text x="691" y="449" style="font-size:22px">Days from intubation</text><defs><linearGradient id="gd" x1="0" y1="0" x2="0" y2="1"><stop offset="0" stop-color="#f6f5e2"/><stop offset="0.495" stop-color="#d5e3ba"/><stop offset="0.73" stop-color="#aacf98"/><stop offset="0.868" stop-color="#86bd80"/><stop offset="0.93" stop-color="#5fa76c"/><stop offset="0.955" stop-color="#1c7f45"/><stop offset="1" stop-color="#137a3d"/></linearGradient><linearGradient id="gn" x1="0" y1="0" x2="1" y2="0"><stop offset="0" stop-color="#4a90c8"/><stop offset="0.25" stop-color="#9cc6e0"/><stop offset="0.45" stop-color="#d3e3ee"/><stop offset="0.5" stop-color="#e8e2e2"/><stop offset="0.62" stop-color="#f9cdb6"/><stop offset="0.82" stop-color="#ef9c80"/><stop offset="1" stop-color="#dc5f4c"/></linearGradient></defs><rect x="689.3" y="458.6" width="16.5" height="133.9" rx="1" fill="url(#gd)"/><path d="M690 524.9h3.5M697 524.9h3.5M702.5 524.9h3" stroke="#fff" stroke-width="1.3"/><path d="M690 556.4h3.5M697 556.4h3.5M702.5 556.4h3" stroke="#fff" stroke-width="1.3"/><path d="M690 574.9h3.5M697 574.9h3.5M702.5 574.9h3" stroke="#fff" stroke-width="1.3"/><path d="M690 585.2h3.5M697 585.2h3.5M702.5 585.2h3" stroke="#fff" stroke-width="1.3"/><path d="M690 587.6h3.5M697 587.6h3.5M702.5 587.6h3" stroke="#fff" stroke-width="1.3"/><path d="M704.2 461.9h13.6M704.2 524.9h5.6l4-19.9h4M704.2 556.4h5.6l4.7-30.9h3.3M704.2 574.9h5.6l4.7-28.1h3.3M704.2 585.2h5.6l5-18.2h3M704.2 587.6h13.6" stroke="#000" stroke-width="1.6" fill="none"/><text x="719.8" y="469.5" style="font-size:20.8px">100</text><text x="719.8" y="513.6" style="font-size:20.8px">50</text><text x="719.8" y="533.5" style="font-size:20.8px">25</text><text x="719.8" y="554.7" style="font-size:20.8px">10</text><text x="719.8" y="574.6" style="font-size:20.8px">2</text><text x="719.8" y="595.5" style="font-size:20.8px">0</text><text x="198.6" y="569.7" style="font-size:22.7px">Normalized abundance</text><rect x="197" y="576" width="146" height="16.5" rx="2" fill="url(#gn)"/><path d="M200.6 577v4M200.6 584v4M200.6 590v2" stroke="#fff" stroke-width="1.3"/><path d="M269.4 577v4M269.4 584v4M269.4 590v2" stroke="#fff" stroke-width="1.3"/><path d="M338.4 577v4M338.4 584v4M338.4 590v2" stroke="#fff" stroke-width="1.3"/><text x="200.6" y="609.6" text-anchor="middle" style="font-size:21px">-2</text><text x="269.4" y="609.6" text-anchor="middle" style="font-size:21px">0</text><text x="338.4" y="609.6" text-anchor="middle" style="font-size:21px">2</text><text transform="translate(941 25.7) scale(0.9 1)" style="font-size:35.5px;font-weight:bold;stroke:#000;stroke-width:0.5px">b</text><path d="M1061 243.2V250.6M1061 262.5V264" stroke="#333" stroke-width="1.3"/><rect x="1044" y="250.6" width="34" height="12" fill="#1170b8" stroke="#333" stroke-width="1.3"/><path d="M1044 260.1h34" stroke="#333" stroke-width="2.4"/><path d="M1126 243.2V255.2M1126 263.3V264" stroke="#333" stroke-width="1.3"/><rect x="1109" y="255.2" width="34" height="8.1" fill="#e88a2b" stroke="#333" stroke-width="1.3"/><path d="M1109 261.1h34" stroke="#333" stroke-width="2.4"/><path d="M1191 195.6V233.4M1191 262V264" stroke="#333" stroke-width="1.3"/><rect x="1174" y="233.4" width="34" height="28.6" fill="#c53e2c" stroke="#333" stroke-width="1.3"/><path d="M1174 254.7h34" stroke="#333" stroke-width="2.4"/><path d="M1256 244.4V254.2M1256 263V264" stroke="#333" stroke-width="1.3"/><rect x="1239" y="254.2" width="34" height="8.8" fill="#1f8a4f" stroke="#333" stroke-width="1.3"/><path d="M1239 261.1h34" stroke="#333" stroke-width="2.4"/><g class="pc"><circle cx="1060.4" cy="264" r="2.55"/><circle cx="1057" cy="263.6" r="2.55"/><circle cx="1053.5" cy="263.2" r="2.55"/><circle cx="1068.1" cy="263.2" r="2.55"/><circle cx="1059.7" cy="263.2" r="2.55"/><circle cx="1054.7" cy="263.2" r="2.55"/><circle cx="1064.1" cy="263.1" r="2.55"/><circle cx="1055.6" cy="262.8" r="2.55"/><circle cx="1068.2" cy="262.6" r="2.55"/><circle cx="1055.9" cy="262.3" r="2.55"/><circle cx="1052.6" cy="261.5" r="2.55"/><circle cx="1055.6" cy="261.4" r="2.55"/><circle cx="1058.2" cy="260.2" r="2.55"/><circle cx="1060.4" cy="260.1" r="2.55"/><circle cx="1068.3" cy="259.7" r="2.55"/><circle cx="1064.6" cy="259.6" r="2.55"/><circle cx="1058.1" cy="258.2" r="2.55"/><circle cx="1052.3" cy="258" r="2.55"/><circle cx="1054.9" cy="256.6" r="2.55"/><circle cx="1069.9" cy="256.2" r="2.55"/><circle cx="1060.3" cy="255.4" r="2.55"/><circle cx="1064.4" cy="253.9" r="2.55"/><circle cx="1053" cy="253.6" r="2.55"/><circle cx="1052.6" cy="249.4" r="2.55"/><circle cx="1067.2" cy="249" r="2.55"/><circle cx="1062.6" cy="248.6" r="2.55"/><circle cx="1057.6" cy="247.1" r="2.55"/><circle cx="1057.7" cy="245.3" r="2.55"/><circle cx="1053.6" cy="244.7" r="2.55"/><circle cx="1055.1" cy="243.2" r="2.55"/><circle cx="1052.4" cy="198" r="2.55"/><circle cx="1067.1" cy="207.8" r="2.55"/><circle cx="1060.4" cy="227.3" r="2.55"/><circle cx="1054.3" cy="232.2" r="2.55"/><circle cx="1065.3" cy="234.7" r="2.55"/><circle cx="1055.5" cy="242" r="2.55"/><circle cx="1053.1" cy="243.2" r="2.55"/><circle cx="1062.8" cy="245.7" r="2.55"/></g><g class="pc"><circle cx="1124.4" cy="264" r="2.55"/><circle cx="1126.5" cy="263.9" r="2.55"/><circle cx="1126" cy="263.9" r="2.55"/><circle cx="1119.4" cy="263.9" r="2.55"/><circle cx="1126.2" cy="263.9" r="2.55"/><circle cx="1132.5" cy="263.9" r="2.55"/><circle cx="1120.1" cy="263.9" r="2.55"/><circle cx="1117.2" cy="263.8" r="2.55"/><circle cx="1118.2" cy="263.8" r="2.55"/><circle cx="1125.3" cy="263.8" r="2.55"/><circle cx="1134.5" cy="263.8" r="2.55"/><circle cx="1117.8" cy="263.8" r="2.55"/><circle cx="1134.8" cy="263.7" r="2.55"/><circle cx="1126.6" cy="263.7" r="2.55"/><circle cx="1119.2" cy="263.7" r="2.55"/><circle cx="1124.5" cy="263.7" r="2.55"/><circle cx="1120.7" cy="263.7" r="2.55"/><circle cx="1129.9" cy="263.7" r="2.55"/><circle cx="1126.7" cy="263.7" r="2.55"/><circle cx="1122.2" cy="263.6" r="2.55"/><circle cx="1121.6" cy="263.6" r="2.55"/><circle cx="1132.6" cy="263.6" r="2.55"/><circle cx="1130.8" cy="263.6" r="2.55"/><circle cx="1124.9" cy="263.6" r="2.55"/><circle cx="1124.3" cy="263.6" r="2.55"/><circle cx="1130.3" cy="263.6" r="2.55"/><circle cx="1134.5" cy="263.6" r="2.55"/><circle cx="1118.4" cy="263.5" r="2.55"/><circle cx="1119.9" cy="263.5" r="2.55"/><circle cx="1123.5" cy="263.5" r="2.55"/><circle cx="1126.1" cy="263.4" r="2.55"/><circle cx="1118.3" cy="263.4" r="2.55"/><circle cx="1118" cy="263.3" r="2.55"/><circle cx="1121" cy="263.3" r="2.55"/><circle cx="1123.9" cy="263.3" r="2.55"/><circle cx="1130.3" cy="263.3" r="2.55"/><circle cx="1128" cy="263.3" r="2.55"/><circle cx="1117.5" cy="263.2" r="2.55"/><circle cx="1117.8" cy="263.2" r="2.55"/><circle cx="1125.1" cy="263.1" r="2.55"/><circle cx="1132.7" cy="263" r="2.55"/><circle cx="1133.5" cy="262.9" r="2.55"/><circle cx="1123.6" cy="262.9" r="2.55"/><circle cx="1133" cy="262.8" r="2.55"/><circle cx="1133.7" cy="262.7" r="2.55"/><circle cx="1124.3" cy="262.7" r="2.55"/><circle cx="1130.4" cy="262.7" r="2.55"/><circle cx="1123.6" cy="262.6" r="2.55"/><circle cx="1119.8" cy="262.6" r="2.55"/><circle cx="1127.4" cy="262.5" r="2.55"/><circle cx="1118.6" cy="262.5" r="2.55"/><circle cx="1128.9" cy="262.4" r="2.55"/><circle cx="1131.6" cy="262.3" r="2.55"/><circle cx="1133.5" cy="262.3" r="2.55"/><circle cx="1125.1" cy="262.3" r="2.55"/><circle cx="1119.1" cy="262.2" r="2.55"/><circle cx="1133.2" cy="262.1" r="2.55"/><circle cx="1132.7" cy="262" r="2.55"/><circle cx="1134.4" cy="262" r="2.55"/><circle cx="1127.7" cy="261.9" r="2.55"/><circle cx="1129.1" cy="261.8" r="2.55"/><circle cx="1123.7" cy="261.7" r="2.55"/><circle cx="1120.3" cy="261.6" r="2.55"/><circle cx="1122.3" cy="261.6" r="2.55"/><circle cx="1130" cy="261.5" r="2.55"/><circle cx="1122.8" cy="261.5" r="2.55"/><circle cx="1129.4" cy="261.4" r="2.55"/><circle cx="1126" cy="261.1" r="2.55"/><circle cx="1125.1" cy="261.1" r="2.55"/><circle cx="1134.4" cy="261.1" r="2.55"/><circle cx="1120" cy="261.1" r="2.55"/><circle cx="1125.8" cy="260.6" r="2.55"/><circle cx="1119.9" cy="260" r="2.55"/><circle cx="1133.9" cy="259.9" r="2.55"/><circle cx="1125.8" cy="259.8" r="2.55"/><circle cx="1123" cy="259.8" r="2.55"/><circle cx="1120" cy="259.8" r="2.55"/><circle cx="1127.7" cy="259.7" r="2.55"/><circle cx="1124.2" cy="259.6" r="2.55"/><circle cx="1119.3" cy="259.5" r="2.55"/><circle cx="1117.6" cy="258.7" r="2.55"/><circle cx="1124" cy="258.6" r="2.55"/><circle cx="1127.5" cy="258.5" r="2.55"/><circle cx="1126.3" cy="258.3" r="2.55"/><circle cx="1133.2" cy="258.3" r="2.55"/><circle cx="1133.4" cy="258.2" r="2.55"/><circle cx="1133.9" cy="258.1" r="2.55"/><circle cx="1131.4" cy="257.9" r="2.55"/><circle cx="1125.6" cy="257.9" r="2.55"/><circle cx="1126.4" cy="257.9" r="2.55"/><circle cx="1124.2" cy="257.7" r="2.55"/><circle cx="1124.2" cy="257.7" r="2.55"/><circle cx="1117.7" cy="257.3" r="2.55"/><circle cx="1131.4" cy="257" r="2.55"/><circle cx="1121.4" cy="256.8" r="2.55"/><circle cx="1117.5" cy="256.6" r="2.55"/><circle cx="1125.4" cy="256.6" r="2.55"/><circle cx="1129.9" cy="256.4" r="2.55"/><circle cx="1124.8" cy="256.2" r="2.55"/><circle cx="1123.6" cy="255.9" r="2.55"/><circle cx="1128.9" cy="255.7" r="2.55"/><circle cx="1119.9" cy="255.6" r="2.55"/><circle cx="1117.2" cy="255.4" r="2.55"/><circle cx="1127.7" cy="255.3" r="2.55"/><circle cx="1126.5" cy="255.3" r="2.55"/><circle cx="1132.6" cy="255.2" r="2.55"/><circle cx="1124.5" cy="254.9" r="2.55"/><circle cx="1131.2" cy="254.8" r="2.55"/><circle cx="1117.3" cy="254.7" r="2.55"/><circle cx="1117.5" cy="253.7" r="2.55"/><circle cx="1127.8" cy="253.6" r="2.55"/><circle cx="1121.1" cy="253.6" r="2.55"/><circle cx="1118.2" cy="253.5" r="2.55"/><circle cx="1119.3" cy="253.3" r="2.55"/><circle cx="1123.7" cy="252.9" r="2.55"/><circle cx="1123.1" cy="252.8" r="2.55"/><circle cx="1127.1" cy="252.7" r="2.55"/><circle cx="1133" cy="252.7" r="2.55"/><circle cx="1123.6" cy="252.6" r="2.55"/><circle cx="1120.3" cy="252.6" r="2.55"/><circle cx="1127.4" cy="252.5" r="2.55"/><circle cx="1117" cy="252.1" r="2.55"/><circle cx="1123.9" cy="250.6" r="2.55"/><circle cx="1122.7" cy="250.3" r="2.55"/><circle cx="1124" cy="250.3" r="2.55"/><circle cx="1117.9" cy="249.4" r="2.55"/><circle cx="1127" cy="249.2" r="2.55"/><circle cx="1128.2" cy="249.1" r="2.55"/><circle cx="1130.5" cy="248.9" r="2.55"/><circle cx="1134.2" cy="248.3" r="2.55"/><circle cx="1123.4" cy="248.2" r="2.55"/><circle cx="1128.8" cy="247.9" r="2.55"/><circle cx="1125" cy="247.7" r="2.55"/><circle cx="1120.9" cy="247.4" r="2.55"/><circle cx="1133" cy="246.7" r="2.55"/><circle cx="1130.4" cy="246.1" r="2.55"/><circle cx="1134" cy="245" r="2.55"/><circle cx="1131.8" cy="244.3" r="2.55"/><circle cx="1133.5" cy="244.2" r="2.55"/><circle cx="1119.3" cy="243.2" r="2.55"/><circle cx="1117.3" cy="180.9" r="2.55"/><circle cx="1120.6" cy="198" r="2.55"/><circle cx="1124.4" cy="199.2" r="2.55"/><circle cx="1129.4" cy="201.7" r="2.55"/><circle cx="1124.9" cy="210.2" r="2.55"/><circle cx="1126.2" cy="215.1" r="2.55"/><circle cx="1130.7" cy="216.3" r="2.55"/><circle cx="1118.3" cy="227.3" r="2.55"/><circle cx="1129.2" cy="227.3" r="2.55"/><circle cx="1117.9" cy="232.2" r="2.55"/><circle cx="1121.5" cy="233.4" r="2.55"/><circle cx="1130" cy="234.7" r="2.55"/><circle cx="1129.3" cy="238.3" r="2.55"/><circle cx="1124.3" cy="239.6" r="2.55"/><circle cx="1122.3" cy="240.8" r="2.55"/><circle cx="1131.9" cy="242" r="2.55"/></g><g class="pc"><circle cx="1192.7" cy="264" r="2.55"/><circle cx="1194.5" cy="263.9" r="2.55"/><circle cx="1194.1" cy="263.9" r="2.55"/><circle cx="1182.7" cy="263.8" r="2.55"/><circle cx="1193.5" cy="263.8" r="2.55"/><circle cx="1198.6" cy="263.8" r="2.55"/><circle cx="1194.1" cy="263.8" r="2.55"/><circle cx="1199.6" cy="263.6" r="2.55"/><circle cx="1191.2" cy="263.6" r="2.55"/><circle cx="1196.6" cy="263.3" r="2.55"/><circle cx="1184.5" cy="263.2" r="2.55"/><circle cx="1198.1" cy="263.2" r="2.55"/><circle cx="1189.9" cy="263.1" r="2.55"/><circle cx="1197.8" cy="263" r="2.55"/><circle cx="1187.8" cy="263" r="2.55"/><circle cx="1193.2" cy="262.8" r="2.55"/><circle cx="1197.2" cy="262.8" r="2.55"/><circle cx="1194.8" cy="262.8" r="2.55"/><circle cx="1193.2" cy="262.8" r="2.55"/><circle cx="1199.5" cy="262.8" r="2.55"/><circle cx="1183.6" cy="262.7" r="2.55"/><circle cx="1183.8" cy="262.7" r="2.55"/><circle cx="1191.9" cy="262.6" r="2.55"/><circle cx="1199.2" cy="262.6" r="2.55"/><circle cx="1194.4" cy="262.5" r="2.55"/><circle cx="1187.6" cy="262.3" r="2.55"/><circle cx="1183.9" cy="262.3" r="2.55"/><circle cx="1190.1" cy="262.3" r="2.55"/><circle cx="1190.6" cy="262.2" r="2.55"/><circle cx="1190.4" cy="262.2" r="2.55"/><circle cx="1193.1" cy="262.2" r="2.55"/><circle cx="1186.9" cy="262.1" r="2.55"/><circle cx="1197.8" cy="262.1" r="2.55"/><circle cx="1187.2" cy="262.1" r="2.55"/><circle cx="1183.9" cy="261.9" r="2.55"/><circle cx="1188.3" cy="261.8" r="2.55"/><circle cx="1198.8" cy="261.6" r="2.55"/><circle cx="1184.9" cy="261.4" r="2.55"/><circle cx="1187" cy="261.3" r="2.55"/><circle cx="1198.7" cy="261.1" r="2.55"/><circle cx="1188.3" cy="261" r="2.55"/><circle cx="1197.2" cy="260.9" r="2.55"/><circle cx="1182.8" cy="260.7" r="2.55"/><circle cx="1198" cy="260.4" r="2.55"/><circle cx="1186.3" cy="260.3" r="2.55"/><circle cx="1185.3" cy="260.3" r="2.55"/><circle cx="1195.4" cy="260.2" r="2.55"/><circle cx="1199.8" cy="259.9" r="2.55"/><circle cx="1199.3" cy="259.9" r="2.55"/><circle cx="1195.5" cy="259.8" r="2.55"/><circle cx="1198.5" cy="259.8" r="2.55"/><circle cx="1199.8" cy="259.6" r="2.55"/><circle cx="1191.9" cy="259.6" r="2.55"/><circle cx="1184.6" cy="259.3" r="2.55"/><circle cx="1197.3" cy="258.8" r="2.55"/><circle cx="1189.1" cy="258.8" r="2.55"/><circle cx="1187.6" cy="258.5" r="2.55"/><circle cx="1191" cy="258.5" r="2.55"/><circle cx="1182.6" cy="258.3" r="2.55"/><circle cx="1182.3" cy="258.3" r="2.55"/><circle cx="1186.8" cy="258.1" r="2.55"/><circle cx="1192.7" cy="258.1" r="2.55"/><circle cx="1195.5" cy="258" r="2.55"/><circle cx="1199.2" cy="258" r="2.55"/><circle cx="1196.7" cy="257.8" r="2.55"/><circle cx="1198.9" cy="257" r="2.55"/><circle cx="1193.5" cy="256.2" r="2.55"/><circle cx="1195.2" cy="256.2" r="2.55"/><circle cx="1192.6" cy="256.1" r="2.55"/><circle cx="1183.5" cy="256" r="2.55"/><circle cx="1183.1" cy="255.8" r="2.55"/><circle cx="1195.7" cy="255.5" r="2.55"/><circle cx="1185.6" cy="255.4" r="2.55"/><circle cx="1196.2" cy="255.4" r="2.55"/><circle cx="1190.4" cy="255.2" r="2.55"/><circle cx="1182.1" cy="254.4" r="2.55"/><circle cx="1192.1" cy="253.7" r="2.55"/><circle cx="1190" cy="253.3" r="2.55"/><circle cx="1183.3" cy="253.1" r="2.55"/><circle cx="1186.7" cy="252.6" r="2.55"/><circle cx="1187.5" cy="252.2" r="2.55"/><circle cx="1188.2" cy="251.7" r="2.55"/><circle cx="1194.7" cy="250.2" r="2.55"/><circle cx="1185" cy="248.9" r="2.55"/><circle cx="1190" cy="248.3" r="2.55"/><circle cx="1192.9" cy="248.3" r="2.55"/><circle cx="1199" cy="248.2" r="2.55"/><circle cx="1184.1" cy="247.7" r="2.55"/><circle cx="1183.4" cy="247.5" r="2.55"/><circle cx="1185.5" cy="246.7" r="2.55"/><circle cx="1186" cy="245.5" r="2.55"/><circle cx="1184.9" cy="245" r="2.55"/><circle cx="1183.4" cy="244.7" r="2.55"/><circle cx="1185.8" cy="244" r="2.55"/><circle cx="1186" cy="243.7" r="2.55"/><circle cx="1190.6" cy="243.3" r="2.55"/><circle cx="1193.7" cy="243.3" r="2.55"/><circle cx="1188.5" cy="242.6" r="2.55"/><circle cx="1185" cy="239.7" r="2.55"/><circle cx="1183.7" cy="239.5" r="2.55"/><circle cx="1186.7" cy="239.3" r="2.55"/><circle cx="1185.1" cy="239.2" r="2.55"/><circle cx="1190.7" cy="238.1" r="2.55"/><circle cx="1197.7" cy="237.1" r="2.55"/><circle cx="1194.9" cy="236.9" r="2.55"/><circle cx="1185.7" cy="236.9" r="2.55"/><circle cx="1182.6" cy="236.5" r="2.55"/><circle cx="1183.2" cy="235.8" r="2.55"/><circle cx="1189.8" cy="235.3" r="2.55"/><circle cx="1188.5" cy="234" r="2.55"/><circle cx="1194.3" cy="232.2" r="2.55"/><circle cx="1183.5" cy="230" r="2.55"/><circle cx="1186.6" cy="228.9" r="2.55"/><circle cx="1194.3" cy="227.9" r="2.55"/><circle cx="1192.2" cy="227.1" r="2.55"/><circle cx="1191.3" cy="226.3" r="2.55"/><circle cx="1198.2" cy="225.8" r="2.55"/><circle cx="1184" cy="224.9" r="2.55"/><circle cx="1185.5" cy="224.5" r="2.55"/><circle cx="1192.2" cy="224.3" r="2.55"/><circle cx="1192.2" cy="223.2" r="2.55"/><circle cx="1199.6" cy="221.1" r="2.55"/><circle cx="1199.6" cy="220.8" r="2.55"/><circle cx="1192.6" cy="218.7" r="2.55"/><circle cx="1195.7" cy="215.9" r="2.55"/><circle cx="1194.6" cy="215.5" r="2.55"/><circle cx="1184.4" cy="214.1" r="2.55"/><circle cx="1192.8" cy="213.3" r="2.55"/><circle cx="1187.5" cy="212.2" r="2.55"/><circle cx="1188.5" cy="212.1" r="2.55"/><circle cx="1184.8" cy="211.3" r="2.55"/><circle cx="1182.2" cy="211" r="2.55"/><circle cx="1197.4" cy="210.4" r="2.55"/><circle cx="1194.9" cy="209.9" r="2.55"/><circle cx="1195.5" cy="209.9" r="2.55"/><circle cx="1187.2" cy="209.3" r="2.55"/><circle cx="1189.5" cy="207.7" r="2.55"/><circle cx="1185.2" cy="206.7" r="2.55"/><circle cx="1192.8" cy="205.7" r="2.55"/><circle cx="1197.1" cy="205.3" r="2.55"/><circle cx="1196" cy="204.4" r="2.55"/><circle cx="1198.8" cy="202.6" r="2.55"/><circle cx="1186.7" cy="202" r="2.55"/><circle cx="1194.6" cy="201.4" r="2.55"/><circle cx="1184.3" cy="201" r="2.55"/><circle cx="1191.7" cy="199.5" r="2.55"/><circle cx="1184" cy="198.5" r="2.55"/><circle cx="1191.7" cy="198.5" r="2.55"/><circle cx="1191.8" cy="198.5" r="2.55"/><circle cx="1188.2" cy="195.6" r="2.55"/><circle cx="1188.3" cy="124.7" r="2.55"/><circle cx="1194.8" cy="127.1" r="2.55"/><circle cx="1190.7" cy="158.9" r="2.55"/><circle cx="1189.3" cy="158.9" r="2.55"/><circle cx="1184" cy="160.1" r="2.55"/><circle cx="1187.1" cy="163.8" r="2.55"/><circle cx="1197.2" cy="180.9" r="2.55"/><circle cx="1199.5" cy="183.3" r="2.55"/><circle cx="1188.7" cy="185.8" r="2.55"/><circle cx="1197.7" cy="188.2" r="2.55"/><circle cx="1197.7" cy="190.7" r="2.55"/><circle cx="1185.9" cy="193.1" r="2.55"/></g><g class="pc"><circle cx="1263.4" cy="264" r="2.55"/><circle cx="1260.8" cy="263.8" r="2.55"/><circle cx="1261.4" cy="263.6" r="2.55"/><circle cx="1251" cy="263.4" r="2.55"/><circle cx="1254.9" cy="263.2" r="2.55"/><circle cx="1262.9" cy="262.9" r="2.55"/><circle cx="1251.4" cy="262.9" r="2.55"/><circle cx="1261.7" cy="262.9" r="2.55"/><circle cx="1256.7" cy="262.9" r="2.55"/><circle cx="1250.9" cy="262.8" r="2.55"/><circle cx="1253.8" cy="262.6" r="2.55"/><circle cx="1248.4" cy="262.4" r="2.55"/><circle cx="1259.1" cy="262.2" r="2.55"/><circle cx="1260.1" cy="262.1" r="2.55"/><circle cx="1247.5" cy="261.9" r="2.55"/><circle cx="1252.4" cy="261.9" r="2.55"/><circle cx="1260.8" cy="261.6" r="2.55"/><circle cx="1250.6" cy="261.5" r="2.55"/><circle cx="1256.7" cy="261.4" r="2.55"/><circle cx="1261.5" cy="261" r="2.55"/><circle cx="1257.3" cy="258.9" r="2.55"/><circle cx="1249.2" cy="258.2" r="2.55"/><circle cx="1263.4" cy="258" r="2.55"/><circle cx="1260.4" cy="257.4" r="2.55"/><circle cx="1257.2" cy="255.7" r="2.55"/><circle cx="1253" cy="255.4" r="2.55"/><circle cx="1257.5" cy="254.8" r="2.55"/><circle cx="1254" cy="254.3" r="2.55"/><circle cx="1249.1" cy="252" r="2.55"/><circle cx="1249.2" cy="250.6" r="2.55"/><circle cx="1247.8" cy="250.4" r="2.55"/><circle cx="1250.1" cy="250.3" r="2.55"/><circle cx="1251.4" cy="249.7" r="2.55"/><circle cx="1258.4" cy="247.8" r="2.55"/><circle cx="1257.4" cy="244.4" r="2.55"/><circle cx="1257.6" cy="141.8" r="2.55"/><circle cx="1261.8" cy="205.3" r="2.55"/><circle cx="1248.7" cy="233.4" r="2.55"/><circle cx="1254" cy="235.9" r="2.55"/><circle cx="1248.4" cy="240.8" r="2.55"/></g><path d="M1022.4 19.6L1022.4 264.6" stroke="#000" stroke-width="1.3"/><path d="M1018.9 264h3.5M1018.9 202.9h3.5M1018.9 141.8h3.5M1018.9 80.7h3.5M1018.9 19.6h3.5" stroke="#000" stroke-width="1.2"/><text x="1016.1" y="269.6" text-anchor="end" style="font-size:15.5px">0</text><text x="1016.1" y="208.5" text-anchor="end" style="font-size:15.5px">25</text><text x="1016.1" y="147.4" text-anchor="end" style="font-size:15.5px">50</text><text x="1016.1" y="86.3" text-anchor="end" style="font-size:15.5px">75</text><text x="1016.1" y="25.2" text-anchor="end" style="font-size:15.5px">100</text><path d="M1021.8 264L1294 264" stroke="#000" stroke-width="1.3"/><path d="M1061 264v3.5M1126 264v3.5M1191 264v3.5M1256 264v3.5" stroke="#000" stroke-width="1.2"/><text x="1074.5" y="281.9" text-anchor="end" style="font-size:16.8px" transform="rotate(-15 1074.5 281.9)">NPC</text><text x="1132.5" y="281" text-anchor="end" style="font-size:16.8px" transform="rotate(-15 1132.5 281)">OP</text><text x="1225.1" y="278.3" text-anchor="end" style="font-size:16.8px" transform="rotate(-15 1225.1 278.3)">SARS-Cov-2-P</text><text x="1272" y="281.7" text-anchor="end" style="font-size:16.8px" transform="rotate(-15 1272 281.7)">OVP</text><text x="983.3" y="139.5" text-anchor="middle" style="font-size:16.6px" transform="rotate(-90 983.3 139.5)">Percent of total cells</text><path d="M1061 45L1126.9 45" stroke="#000" stroke-width="1.25"/><text x="1094" y="41.7" text-anchor="middle" style="font-size:16.7px">3.24e-02</text><path d="M1125.7 93.7L1191.7 93.7" stroke="#000" stroke-width="1.25"/><text x="1158.7" y="90.4" text-anchor="middle" style="font-size:16.7px">7.44e-11</text><path d="M1190 69L1256 69" stroke="#000" stroke-width="1.25"/><text x="1223" y="65.7" text-anchor="middle" style="font-size:16.7px">4.42e-03</text><text transform="translate(1302 25.5) scale(0.9 1)" style="font-size:35.5px;font-weight:bold;stroke:#000;stroke-width:0.5px">c</text><path d="M1397.4 244V253.4M1397.4 262.9V264" stroke="#333" stroke-width="1.3"/><rect x="1380.4" y="253.4" width="34" height="9.5" fill="#1170b8" stroke="#333" stroke-width="1.3"/><path d="M1380.4 260.7h34" stroke="#333" stroke-width="2.4"/><path d="M1462.5 249.6V258M1462.5 263.3V264" stroke="#333" stroke-width="1.3"/><rect x="1445.5" y="258" width="34" height="5.3" fill="#e88a2b" stroke="#333" stroke-width="1.3"/><path d="M1445.5 261.8h34" stroke="#333" stroke-width="2.4"/><path d="M1527 204.1V237.4M1527 260.7V264" stroke="#333" stroke-width="1.3"/><rect x="1510" y="237.4" width="34" height="23.3" fill="#c53e2c" stroke="#333" stroke-width="1.3"/><path d="M1510 254.7h34" stroke="#333" stroke-width="2.4"/><path d="M1592 239.6V248.5M1592 261.8V264" stroke="#333" stroke-width="1.3"/><rect x="1575" y="248.5" width="34" height="13.3" fill="#1f8a4f" stroke="#333" stroke-width="1.3"/><path d="M1575 258.5h34" stroke="#333" stroke-width="2.4"/><g class="pc"><circle cx="1397.6" cy="264" r="2.55"/><circle cx="1399.7" cy="263.8" r="2.55"/><circle cx="1398.3" cy="263.7" r="2.55"/><circle cx="1394.5" cy="263.7" r="2.55"/><circle cx="1399.9" cy="263.7" r="2.55"/><circle cx="1389.9" cy="263.5" r="2.55"/><circle cx="1397" cy="263" r="2.55"/><circle cx="1396.6" cy="263" r="2.55"/><circle cx="1392.2" cy="262.6" r="2.55"/><circle cx="1398.6" cy="262.6" r="2.55"/><circle cx="1400.5" cy="262.6" r="2.55"/><circle cx="1390.7" cy="261.6" r="2.55"/><circle cx="1393.7" cy="261.4" r="2.55"/><circle cx="1389.5" cy="261.1" r="2.55"/><circle cx="1399.1" cy="260.9" r="2.55"/><circle cx="1389.9" cy="259.5" r="2.55"/><circle cx="1392.5" cy="259.3" r="2.55"/><circle cx="1396.5" cy="258.6" r="2.55"/><circle cx="1396.5" cy="258.4" r="2.55"/><circle cx="1389" cy="258.4" r="2.55"/><circle cx="1405.5" cy="258.2" r="2.55"/><circle cx="1392.5" cy="257.7" r="2.55"/><circle cx="1399.4" cy="255.9" r="2.55"/><circle cx="1392.4" cy="253.6" r="2.55"/><circle cx="1399.1" cy="252.9" r="2.55"/><circle cx="1394.7" cy="251.5" r="2.55"/><circle cx="1394.1" cy="250.6" r="2.55"/><circle cx="1396.9" cy="248.5" r="2.55"/><circle cx="1399" cy="247.4" r="2.55"/><circle cx="1399.2" cy="244" r="2.55"/><circle cx="1400.8" cy="144.2" r="2.55"/><circle cx="1393.2" cy="234.1" r="2.55"/><circle cx="1390" cy="241.8" r="2.55"/><circle cx="1393" cy="249.6" r="2.55"/></g><g class="pc"><circle cx="1457.4" cy="264" r="2.55"/><circle cx="1469.9" cy="264" r="2.55"/><circle cx="1469.4" cy="264" r="2.55"/><circle cx="1466.6" cy="263.9" r="2.55"/><circle cx="1465.8" cy="263.9" r="2.55"/><circle cx="1465.8" cy="263.9" r="2.55"/><circle cx="1463.3" cy="263.9" r="2.55"/><circle cx="1464" cy="263.9" r="2.55"/><circle cx="1457.1" cy="263.9" r="2.55"/><circle cx="1463.6" cy="263.8" r="2.55"/><circle cx="1465.6" cy="263.8" r="2.55"/><circle cx="1462.2" cy="263.8" r="2.55"/><circle cx="1465.7" cy="263.7" r="2.55"/><circle cx="1461.7" cy="263.7" r="2.55"/><circle cx="1468" cy="263.7" r="2.55"/><circle cx="1466.5" cy="263.7" r="2.55"/><circle cx="1455.1" cy="263.7" r="2.55"/><circle cx="1467.3" cy="263.7" r="2.55"/><circle cx="1458.6" cy="263.7" r="2.55"/><circle cx="1455" cy="263.6" r="2.55"/><circle cx="1455.7" cy="263.6" r="2.55"/><circle cx="1459.3" cy="263.6" r="2.55"/><circle cx="1462.9" cy="263.6" r="2.55"/><circle cx="1459.4" cy="263.5" r="2.55"/><circle cx="1457.2" cy="263.5" r="2.55"/><circle cx="1467.3" cy="263.5" r="2.55"/><circle cx="1460.2" cy="263.4" r="2.55"/><circle cx="1469.2" cy="263.4" r="2.55"/><circle cx="1457.9" cy="263.4" r="2.55"/><circle cx="1465.9" cy="263.3" r="2.55"/><circle cx="1459.9" cy="263.3" r="2.55"/><circle cx="1468.8" cy="263.3" r="2.55"/><circle cx="1465.1" cy="263.3" r="2.55"/><circle cx="1465.7" cy="263.2" r="2.55"/><circle cx="1455.2" cy="263.2" r="2.55"/><circle cx="1467" cy="263.2" r="2.55"/><circle cx="1459.9" cy="263" r="2.55"/><circle cx="1466.8" cy="263" r="2.55"/><circle cx="1468.7" cy="263" r="2.55"/><circle cx="1455.7" cy="263" r="2.55"/><circle cx="1453.8" cy="263" r="2.55"/><circle cx="1467.1" cy="262.9" r="2.55"/><circle cx="1470.9" cy="262.9" r="2.55"/><circle cx="1469.7" cy="262.9" r="2.55"/><circle cx="1461.3" cy="262.8" r="2.55"/><circle cx="1468.5" cy="262.8" r="2.55"/><circle cx="1453.9" cy="262.8" r="2.55"/><circle cx="1454.6" cy="262.8" r="2.55"/><circle cx="1464" cy="262.7" r="2.55"/><circle cx="1463" cy="262.7" r="2.55"/><circle cx="1468.3" cy="262.7" r="2.55"/><circle cx="1457.7" cy="262.6" r="2.55"/><circle cx="1461.8" cy="262.6" r="2.55"/><circle cx="1471.3" cy="262.5" r="2.55"/><circle cx="1458.9" cy="262.4" r="2.55"/><circle cx="1460.8" cy="262.4" r="2.55"/><circle cx="1464.4" cy="262.4" r="2.55"/><circle cx="1471.4" cy="262.4" r="2.55"/><circle cx="1456.8" cy="262.3" r="2.55"/><circle cx="1465.9" cy="262.3" r="2.55"/><circle cx="1461" cy="262.3" r="2.55"/><circle cx="1460.7" cy="262.3" r="2.55"/><circle cx="1458.1" cy="262.3" r="2.55"/><circle cx="1461.9" cy="262.3" r="2.55"/><circle cx="1463.8" cy="262.3" r="2.55"/><circle cx="1460.6" cy="262.2" r="2.55"/><circle cx="1462.6" cy="262.2" r="2.55"/><circle cx="1464.9" cy="262.2" r="2.55"/><circle cx="1468.8" cy="262.1" r="2.55"/><circle cx="1463.6" cy="261.9" r="2.55"/><circle cx="1460.4" cy="261.9" r="2.55"/><circle cx="1470.8" cy="261.9" r="2.55"/><circle cx="1456.6" cy="261.6" r="2.55"/><circle cx="1454.3" cy="261.5" r="2.55"/><circle cx="1469.9" cy="261.5" r="2.55"/><circle cx="1458.3" cy="261.5" r="2.55"/><circle cx="1456.2" cy="261.4" r="2.55"/><circle cx="1460.4" cy="261.2" r="2.55"/><circle cx="1459.7" cy="261.1" r="2.55"/><circle cx="1459.9" cy="261.1" r="2.55"/><circle cx="1468.8" cy="261" r="2.55"/><circle cx="1458.7" cy="261" r="2.55"/><circle cx="1455.9" cy="260.8" r="2.55"/><circle cx="1457.4" cy="260.7" r="2.55"/><circle cx="1470.6" cy="260.5" r="2.55"/><circle cx="1461.2" cy="260.3" r="2.55"/><circle cx="1460" cy="260.2" r="2.55"/><circle cx="1467.5" cy="260.1" r="2.55"/><circle cx="1470.3" cy="259.9" r="2.55"/><circle cx="1462.7" cy="259.8" r="2.55"/><circle cx="1468.2" cy="259.8" r="2.55"/><circle cx="1458.3" cy="259.6" r="2.55"/><circle cx="1459.8" cy="259.5" r="2.55"/><circle cx="1463.9" cy="259.2" r="2.55"/><circle cx="1457.8" cy="259.1" r="2.55"/><circle cx="1458.5" cy="259.1" r="2.55"/><circle cx="1456.9" cy="259.1" r="2.55"/><circle cx="1458.2" cy="259" r="2.55"/><circle cx="1468.6" cy="259" r="2.55"/><circle cx="1467.8" cy="258.9" r="2.55"/><circle cx="1455.6" cy="258.8" r="2.55"/><circle cx="1459.8" cy="258.3" r="2.55"/><circle cx="1466.5" cy="258.3" r="2.55"/><circle cx="1469" cy="258.3" r="2.55"/><circle cx="1463.6" cy="258.3" r="2.55"/><circle cx="1466.6" cy="258.2" r="2.55"/><circle cx="1457.8" cy="258.1" r="2.55"/><circle cx="1467.6" cy="258" r="2.55"/><circle cx="1468.3" cy="257.9" r="2.55"/><circle cx="1460.8" cy="257.8" r="2.55"/><circle cx="1457.7" cy="257.8" r="2.55"/><circle cx="1454.1" cy="257.6" r="2.55"/><circle cx="1464.8" cy="256.8" r="2.55"/><circle cx="1464.9" cy="256.4" r="2.55"/><circle cx="1453.5" cy="256.2" r="2.55"/><circle cx="1462.9" cy="256" r="2.55"/><circle cx="1470.4" cy="255.9" r="2.55"/><circle cx="1454" cy="255.3" r="2.55"/><circle cx="1456" cy="254.9" r="2.55"/><circle cx="1454.5" cy="254.2" r="2.55"/><circle cx="1461.4" cy="254.2" r="2.55"/><circle cx="1460.4" cy="254.1" r="2.55"/><circle cx="1469.2" cy="253.8" r="2.55"/><circle cx="1454.7" cy="253.7" r="2.55"/><circle cx="1457.1" cy="253.6" r="2.55"/><circle cx="1470.4" cy="253" r="2.55"/><circle cx="1453.8" cy="252.9" r="2.55"/><circle cx="1458.2" cy="252.4" r="2.55"/><circle cx="1460.6" cy="252" r="2.55"/><circle cx="1453.5" cy="251.9" r="2.55"/><circle cx="1458.7" cy="251.6" r="2.55"/><circle cx="1464.4" cy="251.5" r="2.55"/><circle cx="1464.6" cy="251.5" r="2.55"/><circle cx="1464.5" cy="251.5" r="2.55"/><circle cx="1465.2" cy="251.4" r="2.55"/><circle cx="1464.6" cy="250.7" r="2.55"/><circle cx="1454.1" cy="250.7" r="2.55"/><circle cx="1465.3" cy="250.3" r="2.55"/><circle cx="1464" cy="249.7" r="2.55"/><circle cx="1457.4" cy="249.6" r="2.55"/><circle cx="1461.1" cy="153.1" r="2.55"/><circle cx="1457.8" cy="191.9" r="2.55"/><circle cx="1469.1" cy="214.1" r="2.55"/><circle cx="1458.5" cy="223" r="2.55"/><circle cx="1456.4" cy="225.2" r="2.55"/><circle cx="1467.8" cy="229.6" r="2.55"/><circle cx="1467.2" cy="232.9" r="2.55"/><circle cx="1468.8" cy="234.1" r="2.55"/><circle cx="1465.7" cy="235.2" r="2.55"/><circle cx="1461" cy="237.4" r="2.55"/><circle cx="1462.1" cy="239.6" r="2.55"/><circle cx="1463.5" cy="241.8" r="2.55"/><circle cx="1464.2" cy="244" r="2.55"/><circle cx="1470.5" cy="245.1" r="2.55"/><circle cx="1458.3" cy="246.3" r="2.55"/></g><g class="pc"><circle cx="1533" cy="264" r="2.55"/><circle cx="1529.4" cy="263.8" r="2.55"/><circle cx="1531.5" cy="263.6" r="2.55"/><circle cx="1530.1" cy="263.6" r="2.55"/><circle cx="1526.3" cy="263.5" r="2.55"/><circle cx="1520.2" cy="263.2" r="2.55"/><circle cx="1523.2" cy="263.2" r="2.55"/><circle cx="1527.1" cy="263.2" r="2.55"/><circle cx="1528.5" cy="263" r="2.55"/><circle cx="1523.4" cy="263" r="2.55"/><circle cx="1520.3" cy="262.9" r="2.55"/><circle cx="1524.2" cy="262.8" r="2.55"/><circle cx="1521.3" cy="262.8" r="2.55"/><circle cx="1534.8" cy="262.6" r="2.55"/><circle cx="1522" cy="262.4" r="2.55"/><circle cx="1525.1" cy="262.4" r="2.55"/><circle cx="1527.8" cy="262.2" r="2.55"/><circle cx="1522.5" cy="262.1" r="2.55"/><circle cx="1526.9" cy="262.1" r="2.55"/><circle cx="1527.9" cy="262.1" r="2.55"/><circle cx="1518.9" cy="262.1" r="2.55"/><circle cx="1535.1" cy="262.1" r="2.55"/><circle cx="1527.7" cy="262.1" r="2.55"/><circle cx="1520.6" cy="261.9" r="2.55"/><circle cx="1535.7" cy="261.9" r="2.55"/><circle cx="1521" cy="261.6" r="2.55"/><circle cx="1531.1" cy="261.5" r="2.55"/><circle cx="1526.7" cy="261.2" r="2.55"/><circle cx="1522.6" cy="261.1" r="2.55"/><circle cx="1524.8" cy="260.8" r="2.55"/><circle cx="1526.7" cy="260.8" r="2.55"/><circle cx="1524.7" cy="260.8" r="2.55"/><circle cx="1522.4" cy="260.7" r="2.55"/><circle cx="1525.5" cy="260.7" r="2.55"/><circle cx="1525.8" cy="260.6" r="2.55"/><circle cx="1530.4" cy="260.6" r="2.55"/><circle cx="1521.6" cy="260" r="2.55"/><circle cx="1518.8" cy="259.8" r="2.55"/><circle cx="1533" cy="259.8" r="2.55"/><circle cx="1519.2" cy="259.8" r="2.55"/><circle cx="1529.4" cy="259.7" r="2.55"/><circle cx="1527.9" cy="259.6" r="2.55"/><circle cx="1535.6" cy="259.5" r="2.55"/><circle cx="1521.4" cy="259.3" r="2.55"/><circle cx="1534" cy="259.3" r="2.55"/><circle cx="1520.3" cy="259.2" r="2.55"/><circle cx="1521.1" cy="258.9" r="2.55"/><circle cx="1529.8" cy="258.6" r="2.55"/><circle cx="1521" cy="258.5" r="2.55"/><circle cx="1528.6" cy="258.3" r="2.55"/><circle cx="1530.2" cy="258.2" r="2.55"/><circle cx="1520.3" cy="257.8" r="2.55"/><circle cx="1532.2" cy="257.2" r="2.55"/><circle cx="1525.6" cy="257.2" r="2.55"/><circle cx="1535.4" cy="257.2" r="2.55"/><circle cx="1518.2" cy="256.9" r="2.55"/><circle cx="1519.4" cy="256.6" r="2.55"/><circle cx="1529.2" cy="256.6" r="2.55"/><circle cx="1522.6" cy="256.5" r="2.55"/><circle cx="1525.2" cy="256" r="2.55"/><circle cx="1534.4" cy="255.9" r="2.55"/><circle cx="1524.2" cy="255.6" r="2.55"/><circle cx="1518.9" cy="255.3" r="2.55"/><circle cx="1520.6" cy="255.3" r="2.55"/><circle cx="1528" cy="255.3" r="2.55"/><circle cx="1531.9" cy="255" r="2.55"/><circle cx="1531.6" cy="254.7" r="2.55"/><circle cx="1526.5" cy="253.9" r="2.55"/><circle cx="1522.3" cy="253.6" r="2.55"/><circle cx="1520.3" cy="251.7" r="2.55"/><circle cx="1522" cy="251.7" r="2.55"/><circle cx="1521.6" cy="251.2" r="2.55"/><circle cx="1534.3" cy="249.5" r="2.55"/><circle cx="1525.3" cy="248.5" r="2.55"/><circle cx="1520.1" cy="248" r="2.55"/><circle cx="1529.5" cy="247.6" r="2.55"/><circle cx="1526.2" cy="246.2" r="2.55"/><circle cx="1518.5" cy="246.1" r="2.55"/><circle cx="1535.6" cy="246" r="2.55"/><circle cx="1535" cy="245.4" r="2.55"/><circle cx="1522.7" cy="245.1" r="2.55"/><circle cx="1533" cy="244.4" r="2.55"/><circle cx="1526.2" cy="244.4" r="2.55"/><circle cx="1530.1" cy="244.4" r="2.55"/><circle cx="1529.8" cy="244.2" r="2.55"/><circle cx="1531.2" cy="244.1" r="2.55"/><circle cx="1525.9" cy="244" r="2.55"/><circle cx="1520.6" cy="243.8" r="2.55"/><circle cx="1532.5" cy="242.2" r="2.55"/><circle cx="1525.9" cy="241.7" r="2.55"/><circle cx="1526" cy="241.7" r="2.55"/><circle cx="1531.7" cy="241.6" r="2.55"/><circle cx="1530.3" cy="241.5" r="2.55"/><circle cx="1535.8" cy="241" r="2.55"/><circle cx="1525" cy="240.8" r="2.55"/><circle cx="1529.4" cy="240.7" r="2.55"/><circle cx="1519.5" cy="240.4" r="2.55"/><circle cx="1520" cy="240.1" r="2.55"/><circle cx="1522.6" cy="240" r="2.55"/><circle cx="1523" cy="239.9" r="2.55"/><circle cx="1526" cy="239.9" r="2.55"/><circle cx="1522.1" cy="238" r="2.55"/><circle cx="1534.9" cy="238" r="2.55"/><circle cx="1525.7" cy="238" r="2.55"/><circle cx="1524.9" cy="237.8" r="2.55"/><circle cx="1534.2" cy="237.6" r="2.55"/><circle cx="1532.3" cy="237.6" r="2.55"/><circle cx="1531.9" cy="236.9" r="2.55"/><circle cx="1534.5" cy="235.6" r="2.55"/><circle cx="1531.3" cy="235.6" r="2.55"/><circle cx="1523.5" cy="235.5" r="2.55"/><circle cx="1535.3" cy="234.9" r="2.55"/><circle cx="1518.5" cy="234.7" r="2.55"/><circle cx="1534.1" cy="234.6" r="2.55"/><circle cx="1525.5" cy="233.8" r="2.55"/><circle cx="1524.1" cy="232.8" r="2.55"/><circle cx="1526.5" cy="231.9" r="2.55"/><circle cx="1525.2" cy="231.9" r="2.55"/><circle cx="1533.5" cy="230.9" r="2.55"/><circle cx="1532.5" cy="230.4" r="2.55"/><circle cx="1531.4" cy="229.5" r="2.55"/><circle cx="1522.2" cy="229" r="2.55"/><circle cx="1525.9" cy="226.2" r="2.55"/><circle cx="1519.4" cy="226.2" r="2.55"/><circle cx="1531.4" cy="224.1" r="2.55"/><circle cx="1518.8" cy="223.4" r="2.55"/><circle cx="1525.1" cy="223.4" r="2.55"/><circle cx="1520.7" cy="222.5" r="2.55"/><circle cx="1533.3" cy="221.9" r="2.55"/><circle cx="1534.5" cy="220.1" r="2.55"/><circle cx="1523.2" cy="220.1" r="2.55"/><circle cx="1533.7" cy="219.5" r="2.55"/><circle cx="1521.2" cy="219.3" r="2.55"/><circle cx="1530.8" cy="216.5" r="2.55"/><circle cx="1522.5" cy="216" r="2.55"/><circle cx="1526" cy="215.8" r="2.55"/><circle cx="1529" cy="215.2" r="2.55"/><circle cx="1524.3" cy="215.1" r="2.55"/><circle cx="1521.6" cy="214.9" r="2.55"/><circle cx="1528.6" cy="214.3" r="2.55"/><circle cx="1532.3" cy="212.7" r="2.55"/><circle cx="1535.9" cy="211.9" r="2.55"/><circle cx="1523.8" cy="211.5" r="2.55"/><circle cx="1522.6" cy="211.4" r="2.55"/><circle cx="1519.4" cy="209.7" r="2.55"/><circle cx="1521.7" cy="207.7" r="2.55"/><circle cx="1518.5" cy="207.2" r="2.55"/><circle cx="1522.5" cy="207" r="2.55"/><circle cx="1531.1" cy="204.8" r="2.55"/><circle cx="1520.1" cy="204.1" r="2.55"/><circle cx="1529.6" cy="144.2" r="2.55"/><circle cx="1523.3" cy="150.9" r="2.55"/><circle cx="1522.1" cy="150.9" r="2.55"/><circle cx="1526.7" cy="162" r="2.55"/><circle cx="1525.9" cy="170.8" r="2.55"/><circle cx="1526" cy="186.4" r="2.55"/><circle cx="1520.1" cy="188.6" r="2.55"/><circle cx="1528.2" cy="189.7" r="2.55"/><circle cx="1534.2" cy="193" r="2.55"/><circle cx="1518.2" cy="194.1" r="2.55"/><circle cx="1519.5" cy="197.5" r="2.55"/><circle cx="1528.5" cy="199.7" r="2.55"/><circle cx="1523.7" cy="201.9" r="2.55"/></g><g class="pc"><circle cx="1599.6" cy="264" r="2.55"/><circle cx="1591.5" cy="263.7" r="2.55"/><circle cx="1599.9" cy="263.7" r="2.55"/><circle cx="1599.5" cy="263.5" r="2.55"/><circle cx="1593.2" cy="263.3" r="2.55"/><circle cx="1597.2" cy="262.5" r="2.55"/><circle cx="1588.2" cy="262.5" r="2.55"/><circle cx="1585.1" cy="262.4" r="2.55"/><circle cx="1593.9" cy="262" r="2.55"/><circle cx="1584" cy="261.8" r="2.55"/><circle cx="1591.4" cy="261.6" r="2.55"/><circle cx="1594.2" cy="261.5" r="2.55"/><circle cx="1596.8" cy="261.4" r="2.55"/><circle cx="1599.1" cy="261.3" r="2.55"/><circle cx="1586.7" cy="261.2" r="2.55"/><circle cx="1598.6" cy="261" r="2.55"/><circle cx="1591.9" cy="260.9" r="2.55"/><circle cx="1594.2" cy="258.9" r="2.55"/><circle cx="1591.3" cy="258.9" r="2.55"/><circle cx="1598.3" cy="258.8" r="2.55"/><circle cx="1588.4" cy="256.9" r="2.55"/><circle cx="1583.1" cy="255.3" r="2.55"/><circle cx="1597.9" cy="253.8" r="2.55"/><circle cx="1594.9" cy="252.4" r="2.55"/><circle cx="1595.9" cy="250.1" r="2.55"/><circle cx="1585.2" cy="247.6" r="2.55"/><circle cx="1586.7" cy="246" r="2.55"/><circle cx="1594.3" cy="245.9" r="2.55"/><circle cx="1596.4" cy="244.9" r="2.55"/><circle cx="1594.9" cy="243.3" r="2.55"/><circle cx="1593.7" cy="242.9" r="2.55"/><circle cx="1594.8" cy="242.4" r="2.55"/><circle cx="1585.7" cy="241.8" r="2.55"/><circle cx="1591.1" cy="240.7" r="2.55"/><circle cx="1588.9" cy="239.6" r="2.55"/><circle cx="1596.3" cy="139.8" r="2.55"/><circle cx="1592.3" cy="213" r="2.55"/><circle cx="1596" cy="215.2" r="2.55"/><circle cx="1595.5" cy="219.6" r="2.55"/><circle cx="1599.3" cy="221.9" r="2.55"/><circle cx="1598.4" cy="224.1" r="2.55"/></g><path d="M1359 20.6L1359 264.6" stroke="#000" stroke-width="1.3"/><path d="M1355.5 264h3.5M1355.5 208.6h3.5M1355.5 153.1h3.5M1355.5 97.7h3.5M1355.5 42.2h3.5" stroke="#000" stroke-width="1.2"/><text x="1352.7" y="214.1" text-anchor="end" style="font-size:15.5px">25</text><text x="1352.7" y="158.7" text-anchor="end" style="font-size:15.5px">50</text><text x="1352.7" y="103.2" text-anchor="end" style="font-size:15.5px">75</text><text x="1352.7" y="47.8" text-anchor="end" style="font-size:15.5px">100</text><path d="M1358.4 264L1630 264" stroke="#000" stroke-width="1.3"/><path d="M1397.4 264v3.5M1462.5 264v3.5M1527 264v3.5M1592 264v3.5" stroke="#000" stroke-width="1.2"/><text x="1409.6" y="282.6" text-anchor="end" style="font-size:16.8px" transform="rotate(-15 1409.6 282.6)">NPC</text><text x="1466.9" y="281.9" text-anchor="end" style="font-size:16.8px" transform="rotate(-15 1466.9 281.9)">OP</text><text x="1560.3" y="279.8" text-anchor="end" style="font-size:16.8px" transform="rotate(-15 1560.3 279.8)">SARS-CoV-2-P</text><text x="1605.4" y="284.1" text-anchor="end" style="font-size:16.8px" transform="rotate(-15 1605.4 284.1)">OVP</text><text x="1319.8" y="140.4" text-anchor="middle" style="font-size:16.6px" transform="rotate(-90 1319.8 140.4)">Percent of total cells</text><path d="M1462.5 42.2L1592 42.2" stroke="#000" stroke-width="1.25"/><text x="1527.2" y="38.9" text-anchor="middle" style="font-size:16.7px">7.22e-05</text><path d="M1397.4 64.4L1462.5 64.4" stroke="#000" stroke-width="1.25"/><text x="1430" y="61.1" text-anchor="middle" style="font-size:16.7px">1.16e-02</text><path d="M1397.4 86.4L1527 86.4" stroke="#000" stroke-width="1.25"/><text x="1462.2" y="83.1" text-anchor="middle" style="font-size:16.7px">2.04e-02</text><path d="M1462.5 109L1527 109" stroke="#000" stroke-width="1.25"/><text x="1494.8" y="105.7" text-anchor="middle" style="font-size:16.7px">2.81e-13</text><text transform="translate(1632 25.5) scale(0.9 1)" style="font-size:35.5px;font-weight:bold;stroke:#000;stroke-width:0.5px">d</text><path d="M1715 257.4V260.7M1715 263.7V264" stroke="#333" stroke-width="1.3"/><rect x="1698" y="260.7" width="34" height="3" fill="#1170b8" stroke="#333" stroke-width="1.3"/><path d="M1698 262.7h34" stroke="#333" stroke-width="2.4"/><path d="M1782 255.4V260.1M1782 263.3V264" stroke="#333" stroke-width="1.3"/><rect x="1765" y="260.1" width="34" height="3.3" fill="#e88a2b" stroke="#333" stroke-width="1.3"/><path d="M1765 262h34" stroke="#333" stroke-width="2.4"/><path d="M1849 245.6V254.8M1849 262V264" stroke="#333" stroke-width="1.3"/><rect x="1832" y="254.8" width="34" height="7.2" fill="#c53e2c" stroke="#333" stroke-width="1.3"/><path d="M1832 258.1h34" stroke="#333" stroke-width="2.4"/><path d="M1916.4 261.4V262.7M1916.4 263.9V264" stroke="#333" stroke-width="1.3"/><rect x="1899.4" y="262.7" width="34" height="1.2" fill="#1f8a4f" stroke="#333" stroke-width="1.3"/><path d="M1899.4 263.3h34" stroke="#333" stroke-width="2.4"/><g class="pc"><circle cx="1713" cy="264" r="2.55"/><circle cx="1721.1" cy="263.9" r="2.55"/><circle cx="1720.3" cy="263.9" r="2.55"/><circle cx="1717.9" cy="263.9" r="2.55"/><circle cx="1720.8" cy="263.9" r="2.55"/><circle cx="1715.2" cy="263.9" r="2.55"/><circle cx="1716.3" cy="263.7" r="2.55"/><circle cx="1708.9" cy="263.7" r="2.55"/><circle cx="1718.7" cy="263.3" r="2.55"/><circle cx="1711.2" cy="263.2" r="2.55"/><circle cx="1716.1" cy="263.2" r="2.55"/><circle cx="1706" cy="263.1" r="2.55"/><circle cx="1713.2" cy="263.1" r="2.55"/><circle cx="1717.1" cy="262.9" r="2.55"/><circle cx="1717.4" cy="262.8" r="2.55"/><circle cx="1716.1" cy="262.7" r="2.55"/><circle cx="1710.5" cy="261.8" r="2.55"/><circle cx="1717.8" cy="261.8" r="2.55"/><circle cx="1717.9" cy="261.5" r="2.55"/><circle cx="1716.6" cy="261.4" r="2.55"/><circle cx="1712.8" cy="261.1" r="2.55"/><circle cx="1708.7" cy="261.1" r="2.55"/><circle cx="1716" cy="260.1" r="2.55"/><circle cx="1706.9" cy="260.1" r="2.55"/><circle cx="1722.5" cy="260" r="2.55"/><circle cx="1712.3" cy="259.9" r="2.55"/><circle cx="1711.1" cy="259.5" r="2.55"/><circle cx="1714.1" cy="259.4" r="2.55"/><circle cx="1707.9" cy="259.2" r="2.55"/><circle cx="1721.9" cy="257.4" r="2.55"/><circle cx="1723.6" cy="211.4" r="2.55"/><circle cx="1720.8" cy="248.2" r="2.55"/><circle cx="1716.3" cy="248.9" r="2.55"/><circle cx="1722.9" cy="254.8" r="2.55"/><circle cx="1711.9" cy="258.1" r="2.55"/></g><g class="pc"><circle cx="1784.6" cy="264" r="2.55"/><circle cx="1785.1" cy="264" r="2.55"/><circle cx="1786.1" cy="264" r="2.55"/><circle cx="1790.9" cy="263.9" r="2.55"/><circle cx="1779.2" cy="263.9" r="2.55"/><circle cx="1781" cy="263.9" r="2.55"/><circle cx="1787" cy="263.8" r="2.55"/><circle cx="1776.9" cy="263.8" r="2.55"/><circle cx="1774.7" cy="263.8" r="2.55"/><circle cx="1789.2" cy="263.8" r="2.55"/><circle cx="1773.3" cy="263.8" r="2.55"/><circle cx="1789.1" cy="263.8" r="2.55"/><circle cx="1789.5" cy="263.8" r="2.55"/><circle cx="1776" cy="263.8" r="2.55"/><circle cx="1786.6" cy="263.8" r="2.55"/><circle cx="1778.2" cy="263.8" r="2.55"/><circle cx="1777.9" cy="263.7" r="2.55"/><circle cx="1790.7" cy="263.7" r="2.55"/><circle cx="1789" cy="263.7" r="2.55"/><circle cx="1786.8" cy="263.7" r="2.55"/><circle cx="1780.8" cy="263.7" r="2.55"/><circle cx="1790.7" cy="263.6" r="2.55"/><circle cx="1783.3" cy="263.6" r="2.55"/><circle cx="1790.6" cy="263.6" r="2.55"/><circle cx="1786" cy="263.6" r="2.55"/><circle cx="1773.8" cy="263.5" r="2.55"/><circle cx="1787.4" cy="263.5" r="2.55"/><circle cx="1788.1" cy="263.5" r="2.55"/><circle cx="1788.9" cy="263.5" r="2.55"/><circle cx="1784.2" cy="263.5" r="2.55"/><circle cx="1773.7" cy="263.5" r="2.55"/><circle cx="1788.6" cy="263.4" r="2.55"/><circle cx="1780.6" cy="263.4" r="2.55"/><circle cx="1776.5" cy="263.4" r="2.55"/><circle cx="1776.8" cy="263.4" r="2.55"/><circle cx="1776.6" cy="263.4" r="2.55"/><circle cx="1787.7" cy="263.3" r="2.55"/><circle cx="1774.3" cy="263.2" r="2.55"/><circle cx="1789.5" cy="263.2" r="2.55"/><circle cx="1773.3" cy="263.2" r="2.55"/><circle cx="1786" cy="263.2" r="2.55"/><circle cx="1777.2" cy="263.1" r="2.55"/><circle cx="1782.3" cy="263.1" r="2.55"/><circle cx="1776.2" cy="263" r="2.55"/><circle cx="1789.2" cy="263" r="2.55"/><circle cx="1775.8" cy="263" r="2.55"/><circle cx="1781.4" cy="263" r="2.55"/><circle cx="1784" cy="262.9" r="2.55"/><circle cx="1781.2" cy="262.9" r="2.55"/><circle cx="1776.9" cy="262.9" r="2.55"/><circle cx="1778.2" cy="262.8" r="2.55"/><circle cx="1789.8" cy="262.8" r="2.55"/><circle cx="1775.3" cy="262.8" r="2.55"/><circle cx="1773.3" cy="262.7" r="2.55"/><circle cx="1789.4" cy="262.7" r="2.55"/><circle cx="1789" cy="262.6" r="2.55"/><circle cx="1785.3" cy="262.6" r="2.55"/><circle cx="1781.5" cy="262.5" r="2.55"/><circle cx="1790.1" cy="262.5" r="2.55"/><circle cx="1780.4" cy="262.5" r="2.55"/><circle cx="1773.2" cy="262.5" r="2.55"/><circle cx="1780.8" cy="262.5" r="2.55"/><circle cx="1782.5" cy="262.5" r="2.55"/><circle cx="1782.9" cy="262.5" r="2.55"/><circle cx="1789" cy="262.5" r="2.55"/><circle cx="1774.2" cy="262.4" r="2.55"/><circle cx="1788.4" cy="262.4" r="2.55"/><circle cx="1782.4" cy="262.4" r="2.55"/><circle cx="1786.2" cy="262.3" r="2.55"/><circle cx="1780.4" cy="262.3" r="2.55"/><circle cx="1778.3" cy="262.3" r="2.55"/><circle cx="1779" cy="262.3" r="2.55"/><circle cx="1777.9" cy="262.2" r="2.55"/><circle cx="1781.2" cy="262.2" r="2.55"/><circle cx="1783.8" cy="262.2" r="2.55"/><circle cx="1788" cy="262" r="2.55"/><circle cx="1776.1" cy="262" r="2.55"/><circle cx="1781.1" cy="262" r="2.55"/><circle cx="1782.6" cy="261.9" r="2.55"/><circle cx="1787.7" cy="261.9" r="2.55"/><circle cx="1785.8" cy="261.8" r="2.55"/><circle cx="1784.2" cy="261.8" r="2.55"/><circle cx="1785.1" cy="261.7" r="2.55"/><circle cx="1781.1" cy="261.7" r="2.55"/><circle cx="1787.5" cy="261.7" r="2.55"/><circle cx="1788.1" cy="261.6" r="2.55"/><circle cx="1783.2" cy="261.5" r="2.55"/><circle cx="1775.1" cy="261.5" r="2.55"/><circle cx="1780.7" cy="261.4" r="2.55"/><circle cx="1777.8" cy="261.3" r="2.55"/><circle cx="1776.5" cy="261.2" r="2.55"/><circle cx="1778.3" cy="261" r="2.55"/><circle cx="1787.7" cy="261" r="2.55"/><circle cx="1779.3" cy="261" r="2.55"/><circle cx="1780.7" cy="261" r="2.55"/><circle cx="1779.9" cy="260.9" r="2.55"/><circle cx="1776.3" cy="260.8" r="2.55"/><circle cx="1783.3" cy="260.7" r="2.55"/><circle cx="1780.5" cy="260.6" r="2.55"/><circle cx="1789.9" cy="260.6" r="2.55"/><circle cx="1784.1" cy="260.5" r="2.55"/><circle cx="1790.6" cy="260.5" r="2.55"/><circle cx="1788.5" cy="260.4" r="2.55"/><circle cx="1781.8" cy="260.4" r="2.55"/><circle cx="1773.3" cy="260.3" r="2.55"/><circle cx="1776.8" cy="260.3" r="2.55"/><circle cx="1775.1" cy="260.3" r="2.55"/><circle cx="1786.3" cy="260.1" r="2.55"/><circle cx="1775.5" cy="260.1" r="2.55"/><circle cx="1784.6" cy="259.8" r="2.55"/><circle cx="1778.8" cy="259.7" r="2.55"/><circle cx="1781.6" cy="259.2" r="2.55"/><circle cx="1786.6" cy="259.2" r="2.55"/><circle cx="1778.4" cy="259.1" r="2.55"/><circle cx="1776.1" cy="259.1" r="2.55"/><circle cx="1778.2" cy="259" r="2.55"/><circle cx="1790" cy="258.8" r="2.55"/><circle cx="1783" cy="258.8" r="2.55"/><circle cx="1778.2" cy="258.8" r="2.55"/><circle cx="1775.6" cy="258.8" r="2.55"/><circle cx="1774.2" cy="258.8" r="2.55"/><circle cx="1779" cy="258.7" r="2.55"/><circle cx="1784.1" cy="258.7" r="2.55"/><circle cx="1781.2" cy="258.4" r="2.55"/><circle cx="1787.6" cy="258.3" r="2.55"/><circle cx="1790.9" cy="257.5" r="2.55"/><circle cx="1783.3" cy="257.1" r="2.55"/><circle cx="1779.2" cy="257.1" r="2.55"/><circle cx="1787.3" cy="257.1" r="2.55"/><circle cx="1774.6" cy="257" r="2.55"/><circle cx="1786.7" cy="256.8" r="2.55"/><circle cx="1788.9" cy="256.6" r="2.55"/><circle cx="1787" cy="256.1" r="2.55"/><circle cx="1774.8" cy="256.1" r="2.55"/><circle cx="1783.5" cy="256" r="2.55"/><circle cx="1787.4" cy="256" r="2.55"/><circle cx="1780.4" cy="255.7" r="2.55"/><circle cx="1788.2" cy="255.6" r="2.55"/><circle cx="1776" cy="255.5" r="2.55"/><circle cx="1782.5" cy="255.4" r="2.55"/><circle cx="1783" cy="217.9" r="2.55"/><circle cx="1787.2" cy="241.6" r="2.55"/><circle cx="1780.4" cy="245.6" r="2.55"/><circle cx="1777.6" cy="253.5" r="2.55"/><circle cx="1785.8" cy="254.1" r="2.55"/><circle cx="1775.1" cy="252.2" r="2.55"/><circle cx="1779.6" cy="252.8" r="2.55"/></g><g class="pc"><circle cx="1851.8" cy="264" r="2.55"/><circle cx="1857.5" cy="263.8" r="2.55"/><circle cx="1853.9" cy="263.8" r="2.55"/><circle cx="1843.9" cy="263.8" r="2.55"/><circle cx="1841.2" cy="263.8" r="2.55"/><circle cx="1845.9" cy="263.8" r="2.55"/><circle cx="1849.5" cy="263.7" r="2.55"/><circle cx="1844.9" cy="263.6" r="2.55"/><circle cx="1854.2" cy="263.5" r="2.55"/><circle cx="1844.6" cy="263.4" r="2.55"/><circle cx="1842.2" cy="263.4" r="2.55"/><circle cx="1850.8" cy="263.4" r="2.55"/><circle cx="1853.7" cy="263.3" r="2.55"/><circle cx="1843.7" cy="263.3" r="2.55"/><circle cx="1846" cy="263.3" r="2.55"/><circle cx="1844.7" cy="263.2" r="2.55"/><circle cx="1840.5" cy="263.2" r="2.55"/><circle cx="1852.3" cy="263.2" r="2.55"/><circle cx="1840.9" cy="263.2" r="2.55"/><circle cx="1851" cy="263.1" r="2.55"/><circle cx="1851.3" cy="263.1" r="2.55"/><circle cx="1849.5" cy="263.1" r="2.55"/><circle cx="1840.8" cy="263" r="2.55"/><circle cx="1840.7" cy="263" r="2.55"/><circle cx="1849.3" cy="262.9" r="2.55"/><circle cx="1848.8" cy="262.9" r="2.55"/><circle cx="1840.3" cy="262.8" r="2.55"/><circle cx="1840.2" cy="262.8" r="2.55"/><circle cx="1853.9" cy="262.7" r="2.55"/><circle cx="1845.8" cy="262.6" r="2.55"/><circle cx="1852.9" cy="262.6" r="2.55"/><circle cx="1843.6" cy="262.5" r="2.55"/><circle cx="1844.8" cy="262.5" r="2.55"/><circle cx="1856.2" cy="262.4" r="2.55"/><circle cx="1843.6" cy="262.4" r="2.55"/><circle cx="1847.3" cy="262.3" r="2.55"/><circle cx="1849" cy="262.3" r="2.55"/><circle cx="1852.8" cy="262.3" r="2.55"/><circle cx="1845.8" cy="262.3" r="2.55"/><circle cx="1851.7" cy="262.2" r="2.55"/><circle cx="1844" cy="262.1" r="2.55"/><circle cx="1852.3" cy="262.1" r="2.55"/><circle cx="1840.4" cy="262.1" r="2.55"/><circle cx="1843.4" cy="262" r="2.55"/><circle cx="1841.1" cy="262" r="2.55"/><circle cx="1841.8" cy="262" r="2.55"/><circle cx="1853.5" cy="261.9" r="2.55"/><circle cx="1848.4" cy="261.7" r="2.55"/><circle cx="1854.1" cy="261.5" r="2.55"/><circle cx="1857.5" cy="261.4" r="2.55"/><circle cx="1843.3" cy="261.3" r="2.55"/><circle cx="1853.8" cy="260.9" r="2.55"/><circle cx="1857.5" cy="260.9" r="2.55"/><circle cx="1845.6" cy="260.8" r="2.55"/><circle cx="1841.4" cy="260.5" r="2.55"/><circle cx="1848.3" cy="260.4" r="2.55"/><circle cx="1849.8" cy="260.3" r="2.55"/><circle cx="1852.4" cy="260.3" r="2.55"/><circle cx="1850.3" cy="260.1" r="2.55"/><circle cx="1845.4" cy="260" r="2.55"/><circle cx="1842.9" cy="259.9" r="2.55"/><circle cx="1846.1" cy="259.8" r="2.55"/><circle cx="1848.4" cy="259.7" r="2.55"/><circle cx="1843.3" cy="259.7" r="2.55"/><circle cx="1845.4" cy="259.3" r="2.55"/><circle cx="1855.9" cy="259.1" r="2.55"/><circle cx="1847.6" cy="259" r="2.55"/><circle cx="1842.3" cy="258.9" r="2.55"/><circle cx="1852" cy="258.9" r="2.55"/><circle cx="1846.4" cy="258.8" r="2.55"/><circle cx="1849.3" cy="258.8" r="2.55"/><circle cx="1847.1" cy="258.7" r="2.55"/><circle cx="1842.1" cy="258.7" r="2.55"/><circle cx="1853.3" cy="258.6" r="2.55"/><circle cx="1850.2" cy="258.4" r="2.55"/><circle cx="1857.8" cy="258.3" r="2.55"/><circle cx="1840.1" cy="258.1" r="2.55"/><circle cx="1850.4" cy="257.9" r="2.55"/><circle cx="1847.7" cy="257.8" r="2.55"/><circle cx="1847.8" cy="257.7" r="2.55"/><circle cx="1853" cy="257.6" r="2.55"/><circle cx="1844.4" cy="257.6" r="2.55"/><circle cx="1847.2" cy="257.4" r="2.55"/><circle cx="1842.4" cy="257.3" r="2.55"/><circle cx="1850.2" cy="257.2" r="2.55"/><circle cx="1847.9" cy="257.2" r="2.55"/><circle cx="1840.8" cy="257.2" r="2.55"/><circle cx="1844.1" cy="257.2" r="2.55"/><circle cx="1847.1" cy="257.1" r="2.55"/><circle cx="1849.6" cy="257.1" r="2.55"/><circle cx="1841.7" cy="257.1" r="2.55"/><circle cx="1851.1" cy="257.1" r="2.55"/><circle cx="1854.7" cy="256.9" r="2.55"/><circle cx="1846" cy="256.8" r="2.55"/><circle cx="1841.2" cy="256.7" r="2.55"/><circle cx="1842.6" cy="256.7" r="2.55"/><circle cx="1853.7" cy="256.6" r="2.55"/><circle cx="1849.6" cy="256.4" r="2.55"/><circle cx="1842.4" cy="256.3" r="2.55"/><circle cx="1843" cy="256.3" r="2.55"/><circle cx="1855" cy="256.3" r="2.55"/><circle cx="1852.2" cy="256.2" r="2.55"/><circle cx="1852.5" cy="255.9" r="2.55"/><circle cx="1842.5" cy="255.8" r="2.55"/><circle cx="1857.8" cy="255.8" r="2.55"/><circle cx="1844.6" cy="255.7" r="2.55"/><circle cx="1846.4" cy="255.7" r="2.55"/><circle cx="1844.2" cy="255.7" r="2.55"/><circle cx="1857" cy="255.7" r="2.55"/><circle cx="1851.4" cy="255.6" r="2.55"/><circle cx="1850" cy="255.6" r="2.55"/><circle cx="1847.5" cy="255.6" r="2.55"/><circle cx="1852.9" cy="255.6" r="2.55"/><circle cx="1848.4" cy="255.4" r="2.55"/><circle cx="1848.3" cy="255.4" r="2.55"/><circle cx="1842.7" cy="255.3" r="2.55"/><circle cx="1854.8" cy="255.1" r="2.55"/><circle cx="1841.2" cy="254.9" r="2.55"/><circle cx="1856.3" cy="254.9" r="2.55"/><circle cx="1856.5" cy="254.8" r="2.55"/><circle cx="1849.4" cy="254.7" r="2.55"/><circle cx="1842.9" cy="254.7" r="2.55"/><circle cx="1843.9" cy="254.5" r="2.55"/><circle cx="1842.5" cy="254.2" r="2.55"/><circle cx="1852.6" cy="254.2" r="2.55"/><circle cx="1846.5" cy="254.1" r="2.55"/><circle cx="1857.7" cy="253.8" r="2.55"/><circle cx="1846.1" cy="253.6" r="2.55"/><circle cx="1845.9" cy="253.4" r="2.55"/><circle cx="1852.2" cy="253.4" r="2.55"/><circle cx="1855.8" cy="252.8" r="2.55"/><circle cx="1849.5" cy="252.6" r="2.55"/><circle cx="1842.2" cy="252" r="2.55"/><circle cx="1843.1" cy="251.6" r="2.55"/><circle cx="1852.9" cy="251" r="2.55"/><circle cx="1853.8" cy="249.7" r="2.55"/><circle cx="1857.8" cy="249.4" r="2.55"/><circle cx="1850.3" cy="249.1" r="2.55"/><circle cx="1854.1" cy="248.9" r="2.55"/><circle cx="1852.1" cy="248.7" r="2.55"/><circle cx="1849.9" cy="248.7" r="2.55"/><circle cx="1854.5" cy="248.7" r="2.55"/><circle cx="1843.7" cy="248.6" r="2.55"/><circle cx="1842.8" cy="247.9" r="2.55"/><circle cx="1845.6" cy="246.9" r="2.55"/><circle cx="1846.9" cy="246.7" r="2.55"/><circle cx="1857.1" cy="246.7" r="2.55"/><circle cx="1854.8" cy="246.7" r="2.55"/><circle cx="1853.4" cy="246" r="2.55"/><circle cx="1856" cy="245.6" r="2.55"/><circle cx="1846.9" cy="176.5" r="2.55"/><circle cx="1857.7" cy="188.3" r="2.55"/><circle cx="1856.3" cy="199.5" r="2.55"/><circle cx="1843.3" cy="207.4" r="2.55"/><circle cx="1846.8" cy="207.4" r="2.55"/><circle cx="1845.5" cy="217.9" r="2.55"/><circle cx="1843.5" cy="234.4" r="2.55"/><circle cx="1856.9" cy="235" r="2.55"/><circle cx="1847" cy="237.7" r="2.55"/><circle cx="1855.6" cy="239.7" r="2.55"/><circle cx="1850.7" cy="242.3" r="2.55"/><circle cx="1841.1" cy="244.3" r="2.55"/></g><g class="pc"><circle cx="1922.6" cy="264" r="2.55"/><circle cx="1917.5" cy="264" r="2.55"/><circle cx="1914.3" cy="264" r="2.55"/><circle cx="1915.9" cy="264" r="2.55"/><circle cx="1916.7" cy="263.8" r="2.55"/><circle cx="1918.7" cy="263.8" r="2.55"/><circle cx="1908.8" cy="263.8" r="2.55"/><circle cx="1921.7" cy="263.7" r="2.55"/><circle cx="1917.3" cy="263.7" r="2.55"/><circle cx="1912.4" cy="263.7" r="2.55"/><circle cx="1923.9" cy="263.7" r="2.55"/><circle cx="1914.6" cy="263.7" r="2.55"/><circle cx="1921.3" cy="263.5" r="2.55"/><circle cx="1912.8" cy="263.5" r="2.55"/><circle cx="1917.3" cy="263.5" r="2.55"/><circle cx="1910.8" cy="263.4" r="2.55"/><circle cx="1912.3" cy="263.4" r="2.55"/><circle cx="1913.3" cy="263.4" r="2.55"/><circle cx="1910" cy="263.4" r="2.55"/><circle cx="1921.1" cy="263.3" r="2.55"/><circle cx="1915.5" cy="263.1" r="2.55"/><circle cx="1913.6" cy="263.1" r="2.55"/><circle cx="1917.9" cy="263" r="2.55"/><circle cx="1911.5" cy="262.9" r="2.55"/><circle cx="1915.3" cy="262.8" r="2.55"/><circle cx="1917.6" cy="262.5" r="2.55"/><circle cx="1918.5" cy="262.4" r="2.55"/><circle cx="1915" cy="262.4" r="2.55"/><circle cx="1920.8" cy="262.2" r="2.55"/><circle cx="1923" cy="262" r="2.55"/><circle cx="1924.7" cy="262" r="2.55"/><circle cx="1917.5" cy="261.9" r="2.55"/><circle cx="1924.8" cy="261.7" r="2.55"/><circle cx="1924.3" cy="261.7" r="2.55"/><circle cx="1919.2" cy="261.4" r="2.55"/><circle cx="1909.8" cy="252.2" r="2.55"/><circle cx="1918.9" cy="256.1" r="2.55"/></g><path d="M1675.7 20.6L1675.7 264.6" stroke="#000" stroke-width="1.3"/><path d="M1672.2 264h3.5M1672.2 231.1h3.5M1672.2 198.2h3.5M1672.2 165.3h3.5M1672.2 132.4h3.5" stroke="#000" stroke-width="1.2"/><text x="1669.4" y="269.6" text-anchor="end" style="font-size:15.5px">0</text><text x="1669.4" y="236.7" text-anchor="end" style="font-size:15.5px">5</text><text x="1669.4" y="203.8" text-anchor="end" style="font-size:15.5px">10</text><text x="1669.4" y="170.9" text-anchor="end" style="font-size:15.5px">15</text><text x="1669.4" y="138" text-anchor="end" style="font-size:15.5px">20</text><path d="M1675.1 264L1957 264" stroke="#000" stroke-width="1.3"/><path d="M1715 264v3.5M1782 264v3.5M1849 264v3.5M1916.4 264v3.5" stroke="#000" stroke-width="1.2"/><text x="1726.2" y="284.9" text-anchor="end" style="font-size:16.8px" transform="rotate(-15 1726.2 284.9)">NPC</text><text x="1783.4" y="284.1" text-anchor="end" style="font-size:16.8px" transform="rotate(-15 1783.4 284.1)">OP</text><text x="1877.3" y="281.9" text-anchor="end" style="font-size:16.8px" transform="rotate(-15 1877.3 281.9)">SARS-Cov-2-P</text><text x="1924.4" y="285.6" text-anchor="end" style="font-size:16.8px" transform="rotate(-15 1924.4 285.6)">OVP</text><text x="1638.6" y="140.4" text-anchor="middle" style="font-size:16.6px" transform="rotate(-90 1638.6 140.4)">Percent of total cells</text><path d="M1715 85.8L1916.4 85.8" stroke="#000" stroke-width="1.25"/><text x="1815.7" y="82.5" text-anchor="middle" style="font-size:16.7px">1.09e-03</text><path d="M1715 106L1782 106" stroke="#000" stroke-width="1.25"/><text x="1748.5" y="102.7" text-anchor="middle" style="font-size:16.7px">7.15e-03</text><path d="M1715 125.5L1849 125.5" stroke="#000" stroke-width="1.25"/><text x="1782" y="122.2" text-anchor="middle" style="font-size:16.7px">2.49e-03</text><path d="M1782 145.7L1849 145.7" stroke="#000" stroke-width="1.25"/><text x="1815.5" y="142.4" text-anchor="middle" style="font-size:16.7px">4.87e-19</text><path d="M1849 165.3L1916.4 165.3" stroke="#000" stroke-width="1.25"/><text x="1882.7" y="162" text-anchor="middle" style="font-size:16.7px">7.31e-12</text><text transform="translate(940 323.5) scale(0.9 1)" style="font-size:35.5px;font-weight:bold;stroke:#000;stroke-width:0.5px">e</text><path d="M1060.5 535.2V543M1060.5 556.4V558.5" stroke="#333" stroke-width="1.3"/><rect x="1043.5" y="543" width="34" height="13.4" fill="#1170b8" stroke="#333" stroke-width="1.3"/><path d="M1043.5 551.3h34" stroke="#333" stroke-width="2.4"/><path d="M1127.4 524.9V540.4M1127.4 554.6V558.5" stroke="#333" stroke-width="1.3"/><rect x="1110.4" y="540.4" width="34" height="14.2" fill="#e88a2b" stroke="#333" stroke-width="1.3"/><path d="M1110.4 548.2h34" stroke="#333" stroke-width="2.4"/><path d="M1194.3 512V534M1194.3 553.3V558.5" stroke="#333" stroke-width="1.3"/><rect x="1177.3" y="534" width="34" height="19.4" fill="#c53e2c" stroke="#333" stroke-width="1.3"/><path d="M1177.3 544.3h34" stroke="#333" stroke-width="2.4"/><path d="M1260.7 518.4V530.1M1260.7 555.4V558.5" stroke="#333" stroke-width="1.3"/><rect x="1243.7" y="530.1" width="34" height="25.3" fill="#1f8a4f" stroke="#333" stroke-width="1.3"/><path d="M1243.7 550h34" stroke="#333" stroke-width="2.4"/><g class="pc"><circle cx="1064" cy="558.5" r="2.55"/><circle cx="1065.5" cy="556.2" r="2.55"/><circle cx="1066.2" cy="556" r="2.55"/><circle cx="1055.1" cy="555.9" r="2.55"/><circle cx="1052.2" cy="555.8" r="2.55"/><circle cx="1052.9" cy="554.4" r="2.55"/><circle cx="1059.9" cy="554" r="2.55"/><circle cx="1068.9" cy="553.2" r="2.55"/><circle cx="1059.5" cy="551.7" r="2.55"/><circle cx="1068.1" cy="550.6" r="2.55"/><circle cx="1056.8" cy="550.2" r="2.55"/><circle cx="1054.1" cy="549.5" r="2.55"/><circle cx="1058.8" cy="549.2" r="2.55"/><circle cx="1066.7" cy="547.7" r="2.55"/><circle cx="1068.9" cy="545.9" r="2.55"/><circle cx="1061.2" cy="545.3" r="2.55"/><circle cx="1058.3" cy="545.2" r="2.55"/><circle cx="1065.7" cy="544.7" r="2.55"/><circle cx="1059.2" cy="544.6" r="2.55"/><circle cx="1056.9" cy="542.9" r="2.55"/><circle cx="1065.1" cy="542.8" r="2.55"/><circle cx="1053" cy="541.8" r="2.55"/><circle cx="1065.5" cy="541.2" r="2.55"/><circle cx="1068.7" cy="540.9" r="2.55"/><circle cx="1053.4" cy="537.8" r="2.55"/><circle cx="1065.6" cy="537.6" r="2.55"/><circle cx="1051.9" cy="536.4" r="2.55"/><circle cx="1053.7" cy="535.6" r="2.55"/><circle cx="1056.8" cy="535.5" r="2.55"/><circle cx="1069.5" cy="535.2" r="2.55"/><circle cx="1052.5" cy="455.1" r="2.55"/><circle cx="1059.7" cy="509.4" r="2.55"/><circle cx="1059.5" cy="510.7" r="2.55"/><circle cx="1054.7" cy="532.7" r="2.55"/><circle cx="1069.1" cy="534" r="2.55"/></g><g class="pc"><circle cx="1133.5" cy="558.5" r="2.55"/><circle cx="1123.4" cy="557.7" r="2.55"/><circle cx="1129.8" cy="557.7" r="2.55"/><circle cx="1128.8" cy="557.7" r="2.55"/><circle cx="1130.9" cy="557.6" r="2.55"/><circle cx="1124.9" cy="557.4" r="2.55"/><circle cx="1122.5" cy="557.3" r="2.55"/><circle cx="1130.4" cy="557.3" r="2.55"/><circle cx="1133.7" cy="557.2" r="2.55"/><circle cx="1126.9" cy="557.1" r="2.55"/><circle cx="1120.9" cy="557" r="2.55"/><circle cx="1132.9" cy="556.8" r="2.55"/><circle cx="1127.9" cy="556.8" r="2.55"/><circle cx="1130.7" cy="556.7" r="2.55"/><circle cx="1120.2" cy="556.7" r="2.55"/><circle cx="1132.5" cy="556.7" r="2.55"/><circle cx="1125.1" cy="556.6" r="2.55"/><circle cx="1134.4" cy="556.4" r="2.55"/><circle cx="1122.9" cy="556.3" r="2.55"/><circle cx="1118.5" cy="556.3" r="2.55"/><circle cx="1124.1" cy="556.2" r="2.55"/><circle cx="1131.4" cy="556.2" r="2.55"/><circle cx="1131.4" cy="556" r="2.55"/><circle cx="1133.7" cy="556" r="2.55"/><circle cx="1122.2" cy="556" r="2.55"/><circle cx="1129.1" cy="555.9" r="2.55"/><circle cx="1119.7" cy="555.9" r="2.55"/><circle cx="1122.4" cy="555.7" r="2.55"/><circle cx="1119.2" cy="555.6" r="2.55"/><circle cx="1129.7" cy="555.5" r="2.55"/><circle cx="1134.5" cy="555.4" r="2.55"/><circle cx="1129.2" cy="555.3" r="2.55"/><circle cx="1129.2" cy="555.2" r="2.55"/><circle cx="1134.7" cy="555.1" r="2.55"/><circle cx="1124.3" cy="555" r="2.55"/><circle cx="1128.4" cy="554.9" r="2.55"/><circle cx="1133" cy="554.9" r="2.55"/><circle cx="1121.9" cy="554.8" r="2.55"/><circle cx="1131.1" cy="554.8" r="2.55"/><circle cx="1119.8" cy="554.7" r="2.55"/><circle cx="1125.1" cy="554.7" r="2.55"/><circle cx="1121.7" cy="554.2" r="2.55"/><circle cx="1126.2" cy="554.1" r="2.55"/><circle cx="1122.1" cy="553.7" r="2.55"/><circle cx="1119.5" cy="553.4" r="2.55"/><circle cx="1126.4" cy="553.3" r="2.55"/><circle cx="1125.4" cy="553.1" r="2.55"/><circle cx="1131.6" cy="552.7" r="2.55"/><circle cx="1118.7" cy="552.4" r="2.55"/><circle cx="1129.8" cy="551.5" r="2.55"/><circle cx="1119.2" cy="551.4" r="2.55"/><circle cx="1127.1" cy="550.9" r="2.55"/><circle cx="1118.8" cy="550.8" r="2.55"/><circle cx="1134.8" cy="550.7" r="2.55"/><circle cx="1127.2" cy="550.2" r="2.55"/><circle cx="1127" cy="550.2" r="2.55"/><circle cx="1119.7" cy="550.2" r="2.55"/><circle cx="1132.6" cy="549.9" r="2.55"/><circle cx="1123.2" cy="549.4" r="2.55"/><circle cx="1126.9" cy="549.1" r="2.55"/><circle cx="1131.4" cy="549.1" r="2.55"/><circle cx="1132.6" cy="549" r="2.55"/><circle cx="1125.4" cy="548.8" r="2.55"/><circle cx="1119.5" cy="548.5" r="2.55"/><circle cx="1136.1" cy="548.4" r="2.55"/><circle cx="1123" cy="548.4" r="2.55"/><circle cx="1119.2" cy="548.4" r="2.55"/><circle cx="1129.6" cy="547.8" r="2.55"/><circle cx="1134.1" cy="547.7" r="2.55"/><circle cx="1120" cy="547.7" r="2.55"/><circle cx="1119.2" cy="547.2" r="2.55"/><circle cx="1130.6" cy="547.1" r="2.55"/><circle cx="1128.7" cy="547.1" r="2.55"/><circle cx="1123.1" cy="546.9" r="2.55"/><circle cx="1123.2" cy="546.8" r="2.55"/><circle cx="1132.2" cy="546.4" r="2.55"/><circle cx="1118.8" cy="546.4" r="2.55"/><circle cx="1122.7" cy="546.3" r="2.55"/><circle cx="1124.9" cy="546" r="2.55"/><circle cx="1132.3" cy="545.9" r="2.55"/><circle cx="1124.1" cy="545.8" r="2.55"/><circle cx="1119.4" cy="545.6" r="2.55"/><circle cx="1131.8" cy="545.5" r="2.55"/><circle cx="1130.8" cy="545.3" r="2.55"/><circle cx="1120.7" cy="545.2" r="2.55"/><circle cx="1131.5" cy="545" r="2.55"/><circle cx="1129.6" cy="544.9" r="2.55"/><circle cx="1125" cy="544.7" r="2.55"/><circle cx="1128.8" cy="544" r="2.55"/><circle cx="1127.4" cy="543.9" r="2.55"/><circle cx="1132.7" cy="543.5" r="2.55"/><circle cx="1135.5" cy="543.2" r="2.55"/><circle cx="1124.5" cy="543.1" r="2.55"/><circle cx="1120" cy="542.9" r="2.55"/><circle cx="1125" cy="542.7" r="2.55"/><circle cx="1129.2" cy="542.5" r="2.55"/><circle cx="1123" cy="541.9" r="2.55"/><circle cx="1121.2" cy="541.9" r="2.55"/><circle cx="1122.2" cy="541.6" r="2.55"/><circle cx="1133.7" cy="541.6" r="2.55"/><circle cx="1131.3" cy="541.2" r="2.55"/><circle cx="1120.7" cy="541.1" r="2.55"/><circle cx="1123.8" cy="541" r="2.55"/><circle cx="1123.3" cy="540.7" r="2.55"/><circle cx="1120.4" cy="540.6" r="2.55"/><circle cx="1133.5" cy="540.6" r="2.55"/><circle cx="1123.6" cy="540" r="2.55"/><circle cx="1128.6" cy="539.6" r="2.55"/><circle cx="1125.3" cy="539.1" r="2.55"/><circle cx="1119.7" cy="539.1" r="2.55"/><circle cx="1119.1" cy="538.5" r="2.55"/><circle cx="1130.9" cy="537.9" r="2.55"/><circle cx="1129.7" cy="537.7" r="2.55"/><circle cx="1127.3" cy="537.1" r="2.55"/><circle cx="1121.6" cy="536.9" r="2.55"/><circle cx="1124.5" cy="536.7" r="2.55"/><circle cx="1127.5" cy="536.1" r="2.55"/><circle cx="1122.3" cy="536" r="2.55"/><circle cx="1128.8" cy="535.5" r="2.55"/><circle cx="1133.5" cy="534.9" r="2.55"/><circle cx="1121.6" cy="534.7" r="2.55"/><circle cx="1135.2" cy="533.7" r="2.55"/><circle cx="1127.5" cy="532.8" r="2.55"/><circle cx="1136" cy="532.6" r="2.55"/><circle cx="1135.8" cy="532.3" r="2.55"/><circle cx="1119.5" cy="531.4" r="2.55"/><circle cx="1130.7" cy="531.1" r="2.55"/><circle cx="1122.8" cy="531" r="2.55"/><circle cx="1129.6" cy="529" r="2.55"/><circle cx="1134.4" cy="528.5" r="2.55"/><circle cx="1126.6" cy="528.2" r="2.55"/><circle cx="1130.2" cy="528" r="2.55"/><circle cx="1130.4" cy="527.9" r="2.55"/><circle cx="1121.8" cy="527.8" r="2.55"/><circle cx="1126.1" cy="527.8" r="2.55"/><circle cx="1123.6" cy="527.7" r="2.55"/><circle cx="1127.1" cy="527.4" r="2.55"/><circle cx="1132.1" cy="527.2" r="2.55"/><circle cx="1121" cy="526.1" r="2.55"/><circle cx="1128.4" cy="524.9" r="2.55"/><circle cx="1127.5" cy="483.6" r="2.55"/><circle cx="1125.3" cy="495.2" r="2.55"/><circle cx="1133.6" cy="496.5" r="2.55"/><circle cx="1124.7" cy="497.8" r="2.55"/><circle cx="1132.8" cy="508.1" r="2.55"/><circle cx="1119.7" cy="509.4" r="2.55"/><circle cx="1126.3" cy="510.7" r="2.55"/><circle cx="1120.4" cy="514.6" r="2.55"/><circle cx="1133.6" cy="517.2" r="2.55"/><circle cx="1130.4" cy="518.4" r="2.55"/><circle cx="1122.2" cy="519.7" r="2.55"/><circle cx="1125.1" cy="522.3" r="2.55"/></g><g class="pc"><circle cx="1201.7" cy="558.5" r="2.55"/><circle cx="1192" cy="558.2" r="2.55"/><circle cx="1201.9" cy="558.1" r="2.55"/><circle cx="1194.4" cy="557.9" r="2.55"/><circle cx="1199.3" cy="557.8" r="2.55"/><circle cx="1190.2" cy="557.5" r="2.55"/><circle cx="1193.9" cy="557.5" r="2.55"/><circle cx="1195.3" cy="557.4" r="2.55"/><circle cx="1194.6" cy="557.4" r="2.55"/><circle cx="1201.9" cy="557.4" r="2.55"/><circle cx="1193.5" cy="557.3" r="2.55"/><circle cx="1201.1" cy="557.3" r="2.55"/><circle cx="1187.3" cy="557.2" r="2.55"/><circle cx="1189.1" cy="557.1" r="2.55"/><circle cx="1188.5" cy="556.7" r="2.55"/><circle cx="1188.6" cy="556.2" r="2.55"/><circle cx="1195.8" cy="556.2" r="2.55"/><circle cx="1187.1" cy="556.1" r="2.55"/><circle cx="1197.4" cy="556" r="2.55"/><circle cx="1201" cy="555.9" r="2.55"/><circle cx="1201.9" cy="555.9" r="2.55"/><circle cx="1186.3" cy="555.9" r="2.55"/><circle cx="1189.7" cy="555.8" r="2.55"/><circle cx="1193.2" cy="555.8" r="2.55"/><circle cx="1185.6" cy="555.5" r="2.55"/><circle cx="1197.4" cy="555.3" r="2.55"/><circle cx="1193.5" cy="555.3" r="2.55"/><circle cx="1193" cy="555" r="2.55"/><circle cx="1188.1" cy="555" r="2.55"/><circle cx="1186.5" cy="554.9" r="2.55"/><circle cx="1201.2" cy="554.8" r="2.55"/><circle cx="1196.1" cy="553.7" r="2.55"/><circle cx="1191.5" cy="553.7" r="2.55"/><circle cx="1201.1" cy="553.6" r="2.55"/><circle cx="1187.4" cy="553.6" r="2.55"/><circle cx="1192.5" cy="553.4" r="2.55"/><circle cx="1186.6" cy="553.4" r="2.55"/><circle cx="1199.6" cy="553.2" r="2.55"/><circle cx="1201.2" cy="553.1" r="2.55"/><circle cx="1190.4" cy="553.1" r="2.55"/><circle cx="1200" cy="552.8" r="2.55"/><circle cx="1202.4" cy="552" r="2.55"/><circle cx="1189.4" cy="551.5" r="2.55"/><circle cx="1202.7" cy="551.4" r="2.55"/><circle cx="1191.3" cy="551.1" r="2.55"/><circle cx="1198" cy="551.1" r="2.55"/><circle cx="1195" cy="550.8" r="2.55"/><circle cx="1191.6" cy="550.7" r="2.55"/><circle cx="1196.1" cy="550.5" r="2.55"/><circle cx="1185.3" cy="550.1" r="2.55"/><circle cx="1194.3" cy="550.1" r="2.55"/><circle cx="1194.3" cy="550" r="2.55"/><circle cx="1196.7" cy="549.4" r="2.55"/><circle cx="1199.1" cy="548.8" r="2.55"/><circle cx="1201.1" cy="548.7" r="2.55"/><circle cx="1199.7" cy="548.7" r="2.55"/><circle cx="1201" cy="548.6" r="2.55"/><circle cx="1192.1" cy="548.5" r="2.55"/><circle cx="1187.2" cy="548.5" r="2.55"/><circle cx="1197" cy="548.3" r="2.55"/><circle cx="1186.1" cy="548.2" r="2.55"/><circle cx="1202.5" cy="547.9" r="2.55"/><circle cx="1194" cy="547.5" r="2.55"/><circle cx="1189.9" cy="547.4" r="2.55"/><circle cx="1185.9" cy="547" r="2.55"/><circle cx="1200.5" cy="546.8" r="2.55"/><circle cx="1200.3" cy="546.4" r="2.55"/><circle cx="1187.7" cy="545.9" r="2.55"/><circle cx="1199.2" cy="545.6" r="2.55"/><circle cx="1186.9" cy="545.4" r="2.55"/><circle cx="1197.8" cy="545.4" r="2.55"/><circle cx="1194.9" cy="545.3" r="2.55"/><circle cx="1196.8" cy="544.7" r="2.55"/><circle cx="1187.8" cy="544.6" r="2.55"/><circle cx="1199.6" cy="544" r="2.55"/><circle cx="1199.5" cy="543.9" r="2.55"/><circle cx="1200.4" cy="543.6" r="2.55"/><circle cx="1192.5" cy="543.4" r="2.55"/><circle cx="1190" cy="543.3" r="2.55"/><circle cx="1195.2" cy="543" r="2.55"/><circle cx="1197.9" cy="542.8" r="2.55"/><circle cx="1199" cy="541.9" r="2.55"/><circle cx="1193.4" cy="541.4" r="2.55"/><circle cx="1196.3" cy="541.4" r="2.55"/><circle cx="1196.9" cy="541.2" r="2.55"/><circle cx="1195.9" cy="541.1" r="2.55"/><circle cx="1198.2" cy="540.6" r="2.55"/><circle cx="1190.9" cy="540.5" r="2.55"/><circle cx="1189.5" cy="539.9" r="2.55"/><circle cx="1190.5" cy="539.6" r="2.55"/><circle cx="1199.6" cy="539.5" r="2.55"/><circle cx="1202.7" cy="539.2" r="2.55"/><circle cx="1191" cy="538.5" r="2.55"/><circle cx="1197.1" cy="538.1" r="2.55"/><circle cx="1195.8" cy="537.8" r="2.55"/><circle cx="1201.1" cy="537.8" r="2.55"/><circle cx="1185.6" cy="537.7" r="2.55"/><circle cx="1196.5" cy="537.5" r="2.55"/><circle cx="1201" cy="537.1" r="2.55"/><circle cx="1202.7" cy="537" r="2.55"/><circle cx="1192.8" cy="536.9" r="2.55"/><circle cx="1194" cy="536.6" r="2.55"/><circle cx="1200.4" cy="536.4" r="2.55"/><circle cx="1202.1" cy="536.2" r="2.55"/><circle cx="1189.5" cy="535.9" r="2.55"/><circle cx="1201.3" cy="535.7" r="2.55"/><circle cx="1187.5" cy="535.7" r="2.55"/><circle cx="1186.2" cy="535.6" r="2.55"/><circle cx="1185.9" cy="534.6" r="2.55"/><circle cx="1186.7" cy="534.3" r="2.55"/><circle cx="1187" cy="534.1" r="2.55"/><circle cx="1189.5" cy="533.2" r="2.55"/><circle cx="1190.5" cy="533.1" r="2.55"/><circle cx="1202.7" cy="532.7" r="2.55"/><circle cx="1199.7" cy="531.7" r="2.55"/><circle cx="1187.2" cy="531" r="2.55"/><circle cx="1188.8" cy="530.9" r="2.55"/><circle cx="1197.8" cy="530.1" r="2.55"/><circle cx="1196.1" cy="530" r="2.55"/><circle cx="1193.3" cy="529.9" r="2.55"/><circle cx="1193" cy="529.8" r="2.55"/><circle cx="1198.7" cy="528.4" r="2.55"/><circle cx="1194.1" cy="528.1" r="2.55"/><circle cx="1198.3" cy="527.5" r="2.55"/><circle cx="1185.5" cy="527.2" r="2.55"/><circle cx="1187.1" cy="526.8" r="2.55"/><circle cx="1188.6" cy="526.7" r="2.55"/><circle cx="1196" cy="525" r="2.55"/><circle cx="1195.8" cy="523.5" r="2.55"/><circle cx="1200.9" cy="523.2" r="2.55"/><circle cx="1201.3" cy="522.7" r="2.55"/><circle cx="1199.8" cy="522.1" r="2.55"/><circle cx="1191.3" cy="521.8" r="2.55"/><circle cx="1186.4" cy="521.4" r="2.55"/><circle cx="1201.2" cy="521.4" r="2.55"/><circle cx="1202.1" cy="521.4" r="2.55"/><circle cx="1185.7" cy="520" r="2.55"/><circle cx="1185.4" cy="519.6" r="2.55"/><circle cx="1188.5" cy="518.7" r="2.55"/><circle cx="1191.8" cy="518.2" r="2.55"/><circle cx="1198" cy="517.8" r="2.55"/><circle cx="1193.5" cy="517.7" r="2.55"/><circle cx="1197.2" cy="517.2" r="2.55"/><circle cx="1199.9" cy="516.2" r="2.55"/><circle cx="1188.5" cy="515.9" r="2.55"/><circle cx="1190.9" cy="515.4" r="2.55"/><circle cx="1202.8" cy="515" r="2.55"/><circle cx="1195" cy="514.4" r="2.55"/><circle cx="1194.2" cy="513" r="2.55"/><circle cx="1195.2" cy="512" r="2.55"/><circle cx="1195.2" cy="419" r="2.55"/><circle cx="1198.3" cy="447.4" r="2.55"/><circle cx="1201" cy="451.3" r="2.55"/><circle cx="1196.5" cy="452.6" r="2.55"/><circle cx="1196.7" cy="462.9" r="2.55"/><circle cx="1195.7" cy="464.2" r="2.55"/><circle cx="1189.6" cy="470.6" r="2.55"/><circle cx="1199.1" cy="475.8" r="2.55"/><circle cx="1188.9" cy="477.1" r="2.55"/><circle cx="1189.9" cy="481" r="2.55"/><circle cx="1191.4" cy="484.9" r="2.55"/><circle cx="1194.7" cy="488.7" r="2.55"/><circle cx="1200" cy="491.3" r="2.55"/><circle cx="1191.7" cy="495.2" r="2.55"/><circle cx="1196.1" cy="497.8" r="2.55"/><circle cx="1193.1" cy="501.7" r="2.55"/><circle cx="1193.3" cy="504.2" r="2.55"/><circle cx="1202.7" cy="506.8" r="2.55"/><circle cx="1197" cy="509.4" r="2.55"/></g><g class="pc"><circle cx="1265.5" cy="558.5" r="2.55"/><circle cx="1264.5" cy="557.8" r="2.55"/><circle cx="1258.8" cy="557.7" r="2.55"/><circle cx="1269.4" cy="557" r="2.55"/><circle cx="1264.6" cy="556.8" r="2.55"/><circle cx="1262" cy="556.5" r="2.55"/><circle cx="1262.3" cy="556.3" r="2.55"/><circle cx="1253.1" cy="556.2" r="2.55"/><circle cx="1269" cy="555.6" r="2.55"/><circle cx="1269.5" cy="554.3" r="2.55"/><circle cx="1254.7" cy="554.1" r="2.55"/><circle cx="1265.5" cy="553.9" r="2.55"/><circle cx="1262.1" cy="553.2" r="2.55"/><circle cx="1258.8" cy="552.7" r="2.55"/><circle cx="1262.3" cy="552.4" r="2.55"/><circle cx="1253.9" cy="550.5" r="2.55"/><circle cx="1258" cy="550.2" r="2.55"/><circle cx="1257.7" cy="550" r="2.55"/><circle cx="1264" cy="549.9" r="2.55"/><circle cx="1261.2" cy="548.1" r="2.55"/><circle cx="1252.2" cy="540.3" r="2.55"/><circle cx="1256.9" cy="539.9" r="2.55"/><circle cx="1258.6" cy="537.6" r="2.55"/><circle cx="1258.2" cy="537.1" r="2.55"/><circle cx="1265.9" cy="529.1" r="2.55"/><circle cx="1266.6" cy="529" r="2.55"/><circle cx="1268.8" cy="528.4" r="2.55"/><circle cx="1268.6" cy="526" r="2.55"/><circle cx="1260.5" cy="524.8" r="2.55"/><circle cx="1261.8" cy="524.5" r="2.55"/><circle cx="1262.6" cy="522.8" r="2.55"/><circle cx="1260.8" cy="521.6" r="2.55"/><circle cx="1252.4" cy="520.3" r="2.55"/><circle cx="1253.7" cy="520.1" r="2.55"/><circle cx="1266" cy="518.4" r="2.55"/><circle cx="1265.3" cy="417.7" r="2.55"/><circle cx="1257.3" cy="431.9" r="2.55"/><circle cx="1255.3" cy="488.7" r="2.55"/></g><path d="M1020.6 324.9L1020.6 559.1" stroke="#000" stroke-width="1.3"/><path d="M1017.1 558.5h3.5M1017.1 493.9h3.5M1017.1 429.3h3.5M1017.1 364.7h3.5" stroke="#000" stroke-width="1.2"/><text x="1014.3" y="499.5" text-anchor="end" style="font-size:15.5px">25</text><text x="1014.3" y="434.9" text-anchor="end" style="font-size:15.5px">50</text><text x="1014.3" y="370.3" text-anchor="end" style="font-size:15.5px">75</text><path d="M1020 558.5L1301 558.5" stroke="#000" stroke-width="1.3"/><path d="M1060.5 558.5v3.5M1127.4 558.5v3.5M1194.3 558.5v3.5M1260.7 558.5v3.5" stroke="#000" stroke-width="1.2"/><text x="1070.1" y="577.6" text-anchor="end" style="font-size:16.8px" transform="rotate(-15 1070.1 577.6)">NPC</text><text x="1127.9" y="577.6" text-anchor="end" style="font-size:16.8px" transform="rotate(-15 1127.9 577.6)">OP</text><text x="1220.8" y="577.6" text-anchor="end" style="font-size:16.8px" transform="rotate(-15 1220.8 577.6)">SARS-Cov-2-P</text><text x="1266.7" y="578.3" text-anchor="end" style="font-size:16.8px" transform="rotate(-15 1266.7 578.3)">OVP</text><text x="984.7" y="436" text-anchor="middle" style="font-size:16.6px" transform="rotate(-90 984.7 436)">Percent of total cells</text><path d="M1127.4 370.2L1194.3 370.2" stroke="#000" stroke-width="1.25"/><text x="1160.8" y="366.9" text-anchor="middle" style="font-size:16.7px">1.08e-02</text><path d="M1060.5 396L1194.3 396" stroke="#000" stroke-width="1.25"/><text x="1127.4" y="392.7" text-anchor="middle" style="font-size:16.7px">4.07e-03</text><text transform="translate(1306 323.5) scale(0.9 1)" style="font-size:35.5px;font-weight:bold;stroke:#000;stroke-width:0.5px">f</text><path d="M1392.5 371.2V428M1392.5 550.3V561.3" stroke="#333" stroke-width="1.3"/><rect x="1375.5" y="428" width="34" height="122.3" fill="#1170b8" stroke="#333" stroke-width="1.3"/><path d="M1375.5 485.8h34" stroke="#333" stroke-width="2.4"/><path d="M1457.7 369.2V490.7M1457.7 556.2V561.3" stroke="#333" stroke-width="1.3"/><rect x="1440.7" y="490.7" width="34" height="65.5" fill="#e88a2b" stroke="#333" stroke-width="1.3"/><path d="M1440.7 539.7h34" stroke="#333" stroke-width="2.4"/><path d="M1522.6 428V499.6M1522.6 550.3V561.3" stroke="#333" stroke-width="1.3"/><rect x="1505.6" y="499.6" width="34" height="50.8" fill="#c53e2c" stroke="#333" stroke-width="1.3"/><path d="M1505.6 532.9h34" stroke="#333" stroke-width="2.4"/><path d="M1587 401.6V463.3M1587 551.5V561.3" stroke="#333" stroke-width="1.3"/><rect x="1570" y="463.3" width="34" height="88.2" fill="#1f8a4f" stroke="#333" stroke-width="1.3"/><path d="M1570 514.3h34" stroke="#333" stroke-width="2.4"/><g class="pc"><circle cx="1390" cy="561.3" r="2.55"/><circle cx="1398.3" cy="560.2" r="2.55"/><circle cx="1397" cy="560" r="2.55"/><circle cx="1400" cy="558.9" r="2.55"/><circle cx="1385.7" cy="557.1" r="2.55"/><circle cx="1384.8" cy="555.7" r="2.55"/><circle cx="1387.5" cy="555.6" r="2.55"/><circle cx="1392.4" cy="554.2" r="2.55"/><circle cx="1395.7" cy="554.1" r="2.55"/><circle cx="1385.6" cy="553.4" r="2.55"/><circle cx="1394.8" cy="551.4" r="2.55"/><circle cx="1387.5" cy="548.8" r="2.55"/><circle cx="1400.8" cy="534.6" r="2.55"/><circle cx="1393.5" cy="519.5" r="2.55"/><circle cx="1386" cy="514.6" r="2.55"/><circle cx="1398.5" cy="501" r="2.55"/><circle cx="1392.4" cy="487.1" r="2.55"/><circle cx="1397.4" cy="473.5" r="2.55"/><circle cx="1393.3" cy="473.1" r="2.55"/><circle cx="1399.4" cy="470" r="2.55"/><circle cx="1388.6" cy="463.3" r="2.55"/><circle cx="1401" cy="462.6" r="2.55"/><circle cx="1383.8" cy="457.7" r="2.55"/><circle cx="1390.3" cy="454" r="2.55"/><circle cx="1386.3" cy="450.7" r="2.55"/><circle cx="1401.3" cy="446.9" r="2.55"/><circle cx="1383.9" cy="429.2" r="2.55"/><circle cx="1388.7" cy="414.7" r="2.55"/><circle cx="1390.5" cy="409.8" r="2.55"/><circle cx="1384.9" cy="405.7" r="2.55"/><circle cx="1400" cy="397.3" r="2.55"/><circle cx="1397.4" cy="392.3" r="2.55"/><circle cx="1393.2" cy="390.5" r="2.55"/><circle cx="1390.8" cy="389.6" r="2.55"/><circle cx="1387" cy="371.2" r="2.55"/></g><g class="pc"><circle cx="1463.5" cy="561.3" r="2.55"/><circle cx="1463.2" cy="561" r="2.55"/><circle cx="1451.9" cy="560.9" r="2.55"/><circle cx="1451.2" cy="560.8" r="2.55"/><circle cx="1451.1" cy="560.8" r="2.55"/><circle cx="1450.2" cy="560.7" r="2.55"/><circle cx="1462.7" cy="560.7" r="2.55"/><circle cx="1455.6" cy="560.6" r="2.55"/><circle cx="1451.2" cy="560.6" r="2.55"/><circle cx="1458.6" cy="560" r="2.55"/><circle cx="1454" cy="560" r="2.55"/><circle cx="1449.6" cy="559.9" r="2.55"/><circle cx="1456.2" cy="559.2" r="2.55"/><circle cx="1463.6" cy="559" r="2.55"/><circle cx="1461.4" cy="559" r="2.55"/><circle cx="1466.4" cy="558.8" r="2.55"/><circle cx="1457.2" cy="558.6" r="2.55"/><circle cx="1466" cy="558.4" r="2.55"/><circle cx="1455.6" cy="558.1" r="2.55"/><circle cx="1457.5" cy="558.1" r="2.55"/><circle cx="1462.1" cy="558" r="2.55"/><circle cx="1457" cy="557.9" r="2.55"/><circle cx="1451.7" cy="557.8" r="2.55"/><circle cx="1461.5" cy="557.8" r="2.55"/><circle cx="1465.2" cy="557.6" r="2.55"/><circle cx="1455.1" cy="557.6" r="2.55"/><circle cx="1456.2" cy="557.4" r="2.55"/><circle cx="1454.3" cy="557" r="2.55"/><circle cx="1461.1" cy="557" r="2.55"/><circle cx="1457.6" cy="556.8" r="2.55"/><circle cx="1452.8" cy="556.7" r="2.55"/><circle cx="1464.9" cy="556.6" r="2.55"/><circle cx="1449" cy="556.6" r="2.55"/><circle cx="1463.7" cy="556.4" r="2.55"/><circle cx="1464.3" cy="556.4" r="2.55"/><circle cx="1450.4" cy="556.3" r="2.55"/><circle cx="1449" cy="556.3" r="2.55"/><circle cx="1460.3" cy="556.2" r="2.55"/><circle cx="1459.2" cy="555.5" r="2.55"/><circle cx="1451.8" cy="555.2" r="2.55"/><circle cx="1456.5" cy="555" r="2.55"/><circle cx="1450.4" cy="554.5" r="2.55"/><circle cx="1456.1" cy="554.1" r="2.55"/><circle cx="1458.2" cy="553.8" r="2.55"/><circle cx="1464.8" cy="553.6" r="2.55"/><circle cx="1455.5" cy="553.6" r="2.55"/><circle cx="1451.6" cy="553.4" r="2.55"/><circle cx="1465.8" cy="552.2" r="2.55"/><circle cx="1460.2" cy="551.8" r="2.55"/><circle cx="1451.1" cy="551.7" r="2.55"/><circle cx="1449.8" cy="551.4" r="2.55"/><circle cx="1455.6" cy="551.3" r="2.55"/><circle cx="1453.1" cy="550.9" r="2.55"/><circle cx="1455.3" cy="550.8" r="2.55"/><circle cx="1453.6" cy="549.9" r="2.55"/><circle cx="1465.1" cy="549.4" r="2.55"/><circle cx="1463.3" cy="549.2" r="2.55"/><circle cx="1460.8" cy="548.6" r="2.55"/><circle cx="1450.3" cy="548.3" r="2.55"/><circle cx="1462.9" cy="547.7" r="2.55"/><circle cx="1455.9" cy="547.4" r="2.55"/><circle cx="1464.3" cy="547.4" r="2.55"/><circle cx="1449.6" cy="546.7" r="2.55"/><circle cx="1451.3" cy="546.3" r="2.55"/><circle cx="1451" cy="545.9" r="2.55"/><circle cx="1463.4" cy="545.2" r="2.55"/><circle cx="1465.9" cy="544.9" r="2.55"/><circle cx="1462.1" cy="544.7" r="2.55"/><circle cx="1454.2" cy="544.6" r="2.55"/><circle cx="1449.6" cy="543.7" r="2.55"/><circle cx="1466.1" cy="543.1" r="2.55"/><circle cx="1451.8" cy="542.9" r="2.55"/><circle cx="1463.3" cy="542.4" r="2.55"/><circle cx="1457.2" cy="542.3" r="2.55"/><circle cx="1454.8" cy="541.8" r="2.55"/><circle cx="1456.1" cy="541.5" r="2.55"/><circle cx="1450.1" cy="540.8" r="2.55"/><circle cx="1450.8" cy="540.6" r="2.55"/><circle cx="1464.3" cy="540.5" r="2.55"/><circle cx="1456.9" cy="538.3" r="2.55"/><circle cx="1460.8" cy="537.5" r="2.55"/><circle cx="1454.7" cy="535.7" r="2.55"/><circle cx="1457.4" cy="532.7" r="2.55"/><circle cx="1463" cy="531.9" r="2.55"/><circle cx="1460.3" cy="531.8" r="2.55"/><circle cx="1455.9" cy="528.2" r="2.55"/><circle cx="1457" cy="526.5" r="2.55"/><circle cx="1466.5" cy="526.1" r="2.55"/><circle cx="1449.3" cy="526.1" r="2.55"/><circle cx="1455.9" cy="525" r="2.55"/><circle cx="1451" cy="523.7" r="2.55"/><circle cx="1450.6" cy="523.7" r="2.55"/><circle cx="1449.7" cy="522.7" r="2.55"/><circle cx="1462.5" cy="519.7" r="2.55"/><circle cx="1456.9" cy="519.2" r="2.55"/><circle cx="1458.6" cy="517.5" r="2.55"/><circle cx="1454.1" cy="516" r="2.55"/><circle cx="1455.8" cy="515" r="2.55"/><circle cx="1456.8" cy="512" r="2.55"/><circle cx="1463.6" cy="511.9" r="2.55"/><circle cx="1450.3" cy="510.2" r="2.55"/><circle cx="1451.9" cy="509.2" r="2.55"/><circle cx="1451.8" cy="509.2" r="2.55"/><circle cx="1457.1" cy="508.6" r="2.55"/><circle cx="1457.3" cy="508.1" r="2.55"/><circle cx="1460.9" cy="507.9" r="2.55"/><circle cx="1466.5" cy="507.6" r="2.55"/><circle cx="1465.2" cy="505.6" r="2.55"/><circle cx="1453" cy="503.1" r="2.55"/><circle cx="1456" cy="502.5" r="2.55"/><circle cx="1458.3" cy="499.5" r="2.55"/><circle cx="1462.9" cy="496.8" r="2.55"/><circle cx="1457.9" cy="495.4" r="2.55"/><circle cx="1451.6" cy="494.2" r="2.55"/><circle cx="1449.6" cy="491.9" r="2.55"/><circle cx="1454.8" cy="491" r="2.55"/><circle cx="1459.6" cy="491" r="2.55"/><circle cx="1451.9" cy="485.5" r="2.55"/><circle cx="1456.9" cy="479.9" r="2.55"/><circle cx="1455.6" cy="477.7" r="2.55"/><circle cx="1466" cy="477.2" r="2.55"/><circle cx="1461.3" cy="476" r="2.55"/><circle cx="1466.3" cy="475.5" r="2.55"/><circle cx="1458" cy="472.9" r="2.55"/><circle cx="1457.5" cy="468.4" r="2.55"/><circle cx="1466.3" cy="458.7" r="2.55"/><circle cx="1456" cy="457" r="2.55"/><circle cx="1458.7" cy="454.1" r="2.55"/><circle cx="1449.1" cy="444.6" r="2.55"/><circle cx="1451.7" cy="444" r="2.55"/><circle cx="1453.9" cy="443.7" r="2.55"/><circle cx="1453.1" cy="442.8" r="2.55"/><circle cx="1456.5" cy="440.4" r="2.55"/><circle cx="1464.7" cy="436.8" r="2.55"/><circle cx="1452.5" cy="435.9" r="2.55"/><circle cx="1449.6" cy="427.3" r="2.55"/><circle cx="1458.8" cy="424.8" r="2.55"/><circle cx="1455.2" cy="424.2" r="2.55"/><circle cx="1449.5" cy="424.1" r="2.55"/><circle cx="1462.4" cy="417.2" r="2.55"/><circle cx="1465.6" cy="414.8" r="2.55"/><circle cx="1462.1" cy="412.4" r="2.55"/><circle cx="1463.1" cy="403.3" r="2.55"/><circle cx="1462.4" cy="397.9" r="2.55"/><circle cx="1466.3" cy="396.6" r="2.55"/><circle cx="1451.2" cy="395.4" r="2.55"/><circle cx="1464.5" cy="390.6" r="2.55"/><circle cx="1461.3" cy="386.7" r="2.55"/><circle cx="1465.8" cy="379.9" r="2.55"/><circle cx="1463.9" cy="369.2" r="2.55"/></g><g class="pc"><circle cx="1523.9" cy="561.3" r="2.55"/><circle cx="1524.9" cy="560.7" r="2.55"/><circle cx="1530.5" cy="560.7" r="2.55"/><circle cx="1524" cy="560.7" r="2.55"/><circle cx="1528.4" cy="560.5" r="2.55"/><circle cx="1522.1" cy="560.1" r="2.55"/><circle cx="1521.8" cy="560" r="2.55"/><circle cx="1529.9" cy="558.2" r="2.55"/><circle cx="1518.7" cy="557.9" r="2.55"/><circle cx="1519" cy="557.9" r="2.55"/><circle cx="1523.4" cy="557.5" r="2.55"/><circle cx="1515.6" cy="557.4" r="2.55"/><circle cx="1516.6" cy="556.7" r="2.55"/><circle cx="1522.9" cy="556.7" r="2.55"/><circle cx="1525.1" cy="556.3" r="2.55"/><circle cx="1531.2" cy="556" r="2.55"/><circle cx="1515.6" cy="555.2" r="2.55"/><circle cx="1514.4" cy="555.1" r="2.55"/><circle cx="1526" cy="555.1" r="2.55"/><circle cx="1529.7" cy="555.1" r="2.55"/><circle cx="1515.3" cy="554.7" r="2.55"/><circle cx="1519" cy="554.5" r="2.55"/><circle cx="1525.9" cy="553.9" r="2.55"/><circle cx="1525.1" cy="553.8" r="2.55"/><circle cx="1529.3" cy="553.4" r="2.55"/><circle cx="1525.5" cy="553.3" r="2.55"/><circle cx="1530.7" cy="552.7" r="2.55"/><circle cx="1518.9" cy="552.6" r="2.55"/><circle cx="1527" cy="552.5" r="2.55"/><circle cx="1524.2" cy="552.2" r="2.55"/><circle cx="1520.7" cy="551.9" r="2.55"/><circle cx="1526.6" cy="551.6" r="2.55"/><circle cx="1528.8" cy="551" r="2.55"/><circle cx="1524" cy="550.8" r="2.55"/><circle cx="1526.5" cy="550.6" r="2.55"/><circle cx="1521" cy="550.5" r="2.55"/><circle cx="1529.1" cy="550.4" r="2.55"/><circle cx="1520.5" cy="550.3" r="2.55"/><circle cx="1524.8" cy="549.9" r="2.55"/><circle cx="1524.3" cy="549.4" r="2.55"/><circle cx="1522.8" cy="549" r="2.55"/><circle cx="1530.1" cy="548.3" r="2.55"/><circle cx="1526.3" cy="548.2" r="2.55"/><circle cx="1524.2" cy="547.9" r="2.55"/><circle cx="1526.4" cy="547.2" r="2.55"/><circle cx="1526.4" cy="547" r="2.55"/><circle cx="1519.6" cy="546.8" r="2.55"/><circle cx="1519.3" cy="545.3" r="2.55"/><circle cx="1524.6" cy="545" r="2.55"/><circle cx="1516.1" cy="544.6" r="2.55"/><circle cx="1528.2" cy="544.4" r="2.55"/><circle cx="1527.4" cy="544.1" r="2.55"/><circle cx="1525.1" cy="544" r="2.55"/><circle cx="1519.6" cy="542.3" r="2.55"/><circle cx="1531.2" cy="542.1" r="2.55"/><circle cx="1527" cy="540.8" r="2.55"/><circle cx="1529.1" cy="540.8" r="2.55"/><circle cx="1526.5" cy="540.5" r="2.55"/><circle cx="1523.7" cy="540.2" r="2.55"/><circle cx="1518.7" cy="539.6" r="2.55"/><circle cx="1516.8" cy="539.6" r="2.55"/><circle cx="1528.3" cy="538.6" r="2.55"/><circle cx="1524.8" cy="538.4" r="2.55"/><circle cx="1517.9" cy="538.4" r="2.55"/><circle cx="1517.4" cy="537.9" r="2.55"/><circle cx="1522.4" cy="537.8" r="2.55"/><circle cx="1525" cy="537.4" r="2.55"/><circle cx="1527.3" cy="536.9" r="2.55"/><circle cx="1522.2" cy="536" r="2.55"/><circle cx="1518.1" cy="535.4" r="2.55"/><circle cx="1525.8" cy="534.6" r="2.55"/><circle cx="1515.9" cy="534.3" r="2.55"/><circle cx="1516.7" cy="533.5" r="2.55"/><circle cx="1520.3" cy="533" r="2.55"/><circle cx="1523.7" cy="532.8" r="2.55"/><circle cx="1513.9" cy="532.2" r="2.55"/><circle cx="1516" cy="532.1" r="2.55"/><circle cx="1526.3" cy="529.3" r="2.55"/><circle cx="1521" cy="527.9" r="2.55"/><circle cx="1521.6" cy="526.7" r="2.55"/><circle cx="1522.1" cy="525.9" r="2.55"/><circle cx="1516.8" cy="525.5" r="2.55"/><circle cx="1531" cy="524.9" r="2.55"/><circle cx="1530.2" cy="522.5" r="2.55"/><circle cx="1525" cy="522.2" r="2.55"/><circle cx="1515.3" cy="521.3" r="2.55"/><circle cx="1526" cy="521" r="2.55"/><circle cx="1528.2" cy="520.4" r="2.55"/><circle cx="1519.6" cy="517.9" r="2.55"/><circle cx="1516.3" cy="517.7" r="2.55"/><circle cx="1526.7" cy="517.5" r="2.55"/><circle cx="1525" cy="516" r="2.55"/><circle cx="1520.7" cy="515.6" r="2.55"/><circle cx="1518.9" cy="515" r="2.55"/><circle cx="1530.3" cy="514.7" r="2.55"/><circle cx="1515.2" cy="513.3" r="2.55"/><circle cx="1519.2" cy="513" r="2.55"/><circle cx="1522.2" cy="511.8" r="2.55"/><circle cx="1524.2" cy="511.8" r="2.55"/><circle cx="1518.2" cy="511.6" r="2.55"/><circle cx="1524.3" cy="510.8" r="2.55"/><circle cx="1515.6" cy="509.9" r="2.55"/><circle cx="1523.2" cy="509.8" r="2.55"/><circle cx="1515.1" cy="509" r="2.55"/><circle cx="1520.6" cy="508.2" r="2.55"/><circle cx="1526.4" cy="508.1" r="2.55"/><circle cx="1517.2" cy="507.9" r="2.55"/><circle cx="1516.3" cy="507.7" r="2.55"/><circle cx="1531" cy="507.1" r="2.55"/><circle cx="1521.3" cy="506.5" r="2.55"/><circle cx="1514.6" cy="503.9" r="2.55"/><circle cx="1521.3" cy="502.8" r="2.55"/><circle cx="1518.5" cy="501.4" r="2.55"/><circle cx="1528.3" cy="501" r="2.55"/><circle cx="1529.4" cy="500.8" r="2.55"/><circle cx="1527.3" cy="500.6" r="2.55"/><circle cx="1525.7" cy="497.2" r="2.55"/><circle cx="1523.9" cy="496.1" r="2.55"/><circle cx="1514.6" cy="490.2" r="2.55"/><circle cx="1525.3" cy="489.2" r="2.55"/><circle cx="1520.6" cy="488.1" r="2.55"/><circle cx="1518.7" cy="486.1" r="2.55"/><circle cx="1523.8" cy="477.7" r="2.55"/><circle cx="1518" cy="476.9" r="2.55"/><circle cx="1531.4" cy="476.6" r="2.55"/><circle cx="1524.4" cy="476.3" r="2.55"/><circle cx="1527.1" cy="475.7" r="2.55"/><circle cx="1515.6" cy="475.1" r="2.55"/><circle cx="1514.3" cy="468.1" r="2.55"/><circle cx="1516.7" cy="467.6" r="2.55"/><circle cx="1516.9" cy="462.8" r="2.55"/><circle cx="1523.5" cy="461.9" r="2.55"/><circle cx="1525.4" cy="460.9" r="2.55"/><circle cx="1529.7" cy="459.5" r="2.55"/><circle cx="1515.3" cy="458.3" r="2.55"/><circle cx="1522.6" cy="453.9" r="2.55"/><circle cx="1525.5" cy="452.3" r="2.55"/><circle cx="1521.1" cy="448.2" r="2.55"/><circle cx="1514.9" cy="447.8" r="2.55"/><circle cx="1515.3" cy="446.1" r="2.55"/><circle cx="1513.8" cy="443.7" r="2.55"/><circle cx="1519.4" cy="443.1" r="2.55"/><circle cx="1516.5" cy="442.1" r="2.55"/><circle cx="1530.7" cy="441.9" r="2.55"/><circle cx="1525" cy="441.6" r="2.55"/><circle cx="1515.4" cy="437" r="2.55"/><circle cx="1525.6" cy="436.3" r="2.55"/><circle cx="1522.7" cy="431.9" r="2.55"/><circle cx="1528.5" cy="431.9" r="2.55"/><circle cx="1517" cy="428" r="2.55"/><circle cx="1519.8" cy="384.9" r="2.55"/><circle cx="1522.4" cy="386.9" r="2.55"/><circle cx="1522.8" cy="400.6" r="2.55"/><circle cx="1516.2" cy="410.4" r="2.55"/><circle cx="1528.5" cy="419.2" r="2.55"/></g><g class="pc"><circle cx="1583" cy="561.3" r="2.55"/><circle cx="1584.3" cy="556.2" r="2.55"/><circle cx="1580.1" cy="555.1" r="2.55"/><circle cx="1580.7" cy="554.9" r="2.55"/><circle cx="1580.2" cy="553.3" r="2.55"/><circle cx="1585" cy="553" r="2.55"/><circle cx="1594.7" cy="553" r="2.55"/><circle cx="1595.3" cy="547" r="2.55"/><circle cx="1579.9" cy="545.7" r="2.55"/><circle cx="1588.7" cy="545" r="2.55"/><circle cx="1578.1" cy="539.5" r="2.55"/><circle cx="1590" cy="538" r="2.55"/><circle cx="1589.3" cy="533.2" r="2.55"/><circle cx="1587.2" cy="531.3" r="2.55"/><circle cx="1583" cy="526.6" r="2.55"/><circle cx="1586.4" cy="525.4" r="2.55"/><circle cx="1578.7" cy="525" r="2.55"/><circle cx="1589.8" cy="523.4" r="2.55"/><circle cx="1592" cy="519.8" r="2.55"/><circle cx="1579.5" cy="518.1" r="2.55"/><circle cx="1596" cy="515.3" r="2.55"/><circle cx="1581.2" cy="511.3" r="2.55"/><circle cx="1594.5" cy="509.7" r="2.55"/><circle cx="1595.6" cy="509.3" r="2.55"/><circle cx="1585.6" cy="500.2" r="2.55"/><circle cx="1593.1" cy="494.8" r="2.55"/><circle cx="1588.1" cy="484.4" r="2.55"/><circle cx="1582.9" cy="476.9" r="2.55"/><circle cx="1590.4" cy="469" r="2.55"/><circle cx="1584.5" cy="460.2" r="2.55"/><circle cx="1580.8" cy="453.6" r="2.55"/><circle cx="1591.9" cy="450.6" r="2.55"/><circle cx="1581.4" cy="445.7" r="2.55"/><circle cx="1594.8" cy="434.6" r="2.55"/><circle cx="1581.6" cy="432.9" r="2.55"/><circle cx="1583.8" cy="426.3" r="2.55"/><circle cx="1592.4" cy="424.2" r="2.55"/><circle cx="1593.1" cy="421.4" r="2.55"/><circle cx="1585.2" cy="420.3" r="2.55"/><circle cx="1589" cy="401.6" r="2.55"/></g><path d="M1354.4 310.6L1354.4 561.9" stroke="#000" stroke-width="1.3"/><path d="M1350.9 561.3h3.5M1350.9 512.3h3.5M1350.9 463.3h3.5M1350.9 414.3h3.5M1350.9 365.3h3.5" stroke="#000" stroke-width="1.2"/><text x="1348.1" y="517.9" text-anchor="end" style="font-size:15.5px">25</text><text x="1348.1" y="468.9" text-anchor="end" style="font-size:15.5px">50</text><text x="1348.1" y="419.9" text-anchor="end" style="font-size:15.5px">75</text><text x="1348.1" y="370.9" text-anchor="end" style="font-size:15.5px">100</text><path d="M1353.8 561.3L1626 561.3" stroke="#000" stroke-width="1.3"/><path d="M1392.5 561.3v3.5M1457.7 561.3v3.5M1522.6 561.3v3.5M1587 561.3v3.5" stroke="#000" stroke-width="1.2"/><text x="1402.5" y="582.2" text-anchor="end" style="font-size:16.8px" transform="rotate(-15 1402.5 582.2)">NPC</text><text x="1459.5" y="580.8" text-anchor="end" style="font-size:16.8px" transform="rotate(-15 1459.5 580.8)">OP</text><text x="1552.7" y="579.3" text-anchor="end" style="font-size:16.8px" transform="rotate(-15 1552.7 579.3)">SARS-Cov-2-P</text><text x="1600.5" y="581.5" text-anchor="end" style="font-size:16.8px" transform="rotate(-15 1600.5 581.5)">OVP</text><text x="1315.7" y="437" text-anchor="middle" style="font-size:16.6px" transform="rotate(-90 1315.7 437)">Percent of total cells</text><path d="M1392.5 335.7L1522.6 335.7" stroke="#000" stroke-width="1.25"/><text x="1427.9" y="332.4" text-anchor="middle" style="font-size:16.7px">8.88e-03</text><path d="M1392.5 355.9L1457.7 355.9" stroke="#000" stroke-width="1.25"/><text x="1425.1" y="352.6" text-anchor="middle" style="font-size:16.7px">8.88e-03</text><text transform="translate(1634 323.5) scale(0.9 1)" style="font-size:35.5px;font-weight:bold;stroke:#000;stroke-width:0.5px">g</text><path d="M1718.5 381.7V422.2M1718.5 536.5V563.7" stroke="#333" stroke-width="1.3"/><rect x="1701.5" y="422.2" width="34" height="114.2" fill="#1170b8" stroke="#333" stroke-width="1.3"/><path d="M1701.5 480.2h34" stroke="#333" stroke-width="2.4"/><path d="M1783.7 376.1V392M1783.7 492.4V563.7" stroke="#333" stroke-width="1.3"/><rect x="1766.7" y="392" width="34" height="100.4" fill="#e88a2b" stroke="#333" stroke-width="1.3"/><path d="M1766.7 425.3h34" stroke="#333" stroke-width="2.4"/><path d="M1848.5 378V401.4M1848.5 519.6V563.7" stroke="#333" stroke-width="1.3"/><rect x="1831.5" y="401.4" width="34" height="118.2" fill="#c53e2c" stroke="#333" stroke-width="1.3"/><path d="M1831.5 461.5h34" stroke="#333" stroke-width="2.4"/><path d="M1913.4 378V407.4M1913.4 525.2V559.9" stroke="#333" stroke-width="1.3"/><rect x="1896.4" y="407.4" width="34" height="117.8" fill="#1f8a4f" stroke="#333" stroke-width="1.3"/><path d="M1896.4 465.2h34" stroke="#333" stroke-width="2.4"/><g class="pc"><circle cx="1724.8" cy="563.7" r="2.55"/><circle cx="1724.4" cy="550.3" r="2.55"/><circle cx="1710.9" cy="540.8" r="2.55"/><circle cx="1726.2" cy="533.9" r="2.55"/><circle cx="1724.1" cy="532.4" r="2.55"/><circle cx="1721.3" cy="527.9" r="2.55"/><circle cx="1713" cy="527.3" r="2.55"/><circle cx="1724.5" cy="505.4" r="2.55"/><circle cx="1720.1" cy="502.9" r="2.55"/><circle cx="1713.7" cy="500.1" r="2.55"/><circle cx="1721" cy="498.6" r="2.55"/><circle cx="1711.7" cy="491.1" r="2.55"/><circle cx="1722.1" cy="485.7" r="2.55"/><circle cx="1713" cy="485.5" r="2.55"/><circle cx="1715" cy="477.6" r="2.55"/><circle cx="1709.9" cy="474.4" r="2.55"/><circle cx="1716.2" cy="468.1" r="2.55"/><circle cx="1720.4" cy="466" r="2.55"/><circle cx="1721.3" cy="465.9" r="2.55"/><circle cx="1717" cy="460.9" r="2.55"/><circle cx="1714.5" cy="455.1" r="2.55"/><circle cx="1711.2" cy="436.4" r="2.55"/><circle cx="1715.9" cy="435.9" r="2.55"/><circle cx="1723.6" cy="433.7" r="2.55"/><circle cx="1726.3" cy="429.3" r="2.55"/><circle cx="1726.1" cy="421.8" r="2.55"/><circle cx="1711" cy="418.5" r="2.55"/><circle cx="1711.8" cy="407.1" r="2.55"/><circle cx="1716.1" cy="402.9" r="2.55"/><circle cx="1719.6" cy="381.7" r="2.55"/></g><g class="pc"><circle cx="1781.6" cy="563.7" r="2.55"/><circle cx="1779.8" cy="562.8" r="2.55"/><circle cx="1776.3" cy="562.5" r="2.55"/><circle cx="1784.1" cy="560.8" r="2.55"/><circle cx="1780.8" cy="560.3" r="2.55"/><circle cx="1785.2" cy="558.9" r="2.55"/><circle cx="1780.3" cy="557.9" r="2.55"/><circle cx="1783.1" cy="557.1" r="2.55"/><circle cx="1777" cy="556.4" r="2.55"/><circle cx="1775.8" cy="551.8" r="2.55"/><circle cx="1791.5" cy="549.4" r="2.55"/><circle cx="1787.9" cy="544.2" r="2.55"/><circle cx="1782.3" cy="544.1" r="2.55"/><circle cx="1778.3" cy="538.2" r="2.55"/><circle cx="1786.6" cy="534" r="2.55"/><circle cx="1785.6" cy="533.9" r="2.55"/><circle cx="1785.9" cy="532.9" r="2.55"/><circle cx="1792.3" cy="532.9" r="2.55"/><circle cx="1781.1" cy="531.9" r="2.55"/><circle cx="1791.4" cy="528.5" r="2.55"/><circle cx="1782.5" cy="520.7" r="2.55"/><circle cx="1792.3" cy="513.6" r="2.55"/><circle cx="1792.2" cy="511.7" r="2.55"/><circle cx="1782.2" cy="511.7" r="2.55"/><circle cx="1783.7" cy="511.3" r="2.55"/><circle cx="1790.8" cy="510.6" r="2.55"/><circle cx="1790.8" cy="509.5" r="2.55"/><circle cx="1776.4" cy="508.4" r="2.55"/><circle cx="1783.8" cy="505.3" r="2.55"/><circle cx="1776.5" cy="504.6" r="2.55"/><circle cx="1789.9" cy="502.3" r="2.55"/><circle cx="1779.6" cy="498.2" r="2.55"/><circle cx="1780.6" cy="494.2" r="2.55"/><circle cx="1780.5" cy="492.5" r="2.55"/><circle cx="1787.6" cy="489.8" r="2.55"/><circle cx="1780.5" cy="488.6" r="2.55"/><circle cx="1782.6" cy="488.4" r="2.55"/><circle cx="1790.4" cy="488" r="2.55"/><circle cx="1782.6" cy="487.7" r="2.55"/><circle cx="1791.2" cy="487.1" r="2.55"/><circle cx="1791.2" cy="483.6" r="2.55"/><circle cx="1782.9" cy="482.1" r="2.55"/><circle cx="1778.9" cy="480.4" r="2.55"/><circle cx="1791.6" cy="478.4" r="2.55"/><circle cx="1784.7" cy="477" r="2.55"/><circle cx="1781.1" cy="476.6" r="2.55"/><circle cx="1775.8" cy="474.8" r="2.55"/><circle cx="1783.1" cy="471.2" r="2.55"/><circle cx="1775.3" cy="466.9" r="2.55"/><circle cx="1786" cy="464.4" r="2.55"/><circle cx="1781.8" cy="462" r="2.55"/><circle cx="1779.9" cy="461.7" r="2.55"/><circle cx="1778.7" cy="460.4" r="2.55"/><circle cx="1788.3" cy="458.5" r="2.55"/><circle cx="1790.9" cy="457.7" r="2.55"/><circle cx="1774.9" cy="457.7" r="2.55"/><circle cx="1784.2" cy="456.9" r="2.55"/><circle cx="1776.1" cy="453.3" r="2.55"/><circle cx="1775.3" cy="451.7" r="2.55"/><circle cx="1792.4" cy="451.6" r="2.55"/><circle cx="1780.3" cy="451.5" r="2.55"/><circle cx="1784.3" cy="450.7" r="2.55"/><circle cx="1791" cy="447.5" r="2.55"/><circle cx="1786.3" cy="446.5" r="2.55"/><circle cx="1781" cy="442.4" r="2.55"/><circle cx="1787.3" cy="441.9" r="2.55"/><circle cx="1788.8" cy="439.7" r="2.55"/><circle cx="1786.3" cy="437.1" r="2.55"/><circle cx="1781.7" cy="434.9" r="2.55"/><circle cx="1788.3" cy="432" r="2.55"/><circle cx="1781.4" cy="424.6" r="2.55"/><circle cx="1781.2" cy="422.5" r="2.55"/><circle cx="1779.8" cy="422.3" r="2.55"/><circle cx="1792.2" cy="421.9" r="2.55"/><circle cx="1776.9" cy="421.8" r="2.55"/><circle cx="1775.7" cy="421.7" r="2.55"/><circle cx="1780" cy="421" r="2.55"/><circle cx="1776.9" cy="420.1" r="2.55"/><circle cx="1781.3" cy="419.3" r="2.55"/><circle cx="1791.6" cy="418.8" r="2.55"/><circle cx="1791.8" cy="418.4" r="2.55"/><circle cx="1778.8" cy="418.3" r="2.55"/><circle cx="1780" cy="418.3" r="2.55"/><circle cx="1781.9" cy="415.6" r="2.55"/><circle cx="1791.8" cy="413" r="2.55"/><circle cx="1779.5" cy="411" r="2.55"/><circle cx="1788.4" cy="411" r="2.55"/><circle cx="1786.2" cy="410.5" r="2.55"/><circle cx="1790.5" cy="409" r="2.55"/><circle cx="1779.7" cy="408.5" r="2.55"/><circle cx="1791.4" cy="407.2" r="2.55"/><circle cx="1792.6" cy="407.2" r="2.55"/><circle cx="1781.8" cy="407.2" r="2.55"/><circle cx="1791.5" cy="406.4" r="2.55"/><circle cx="1787.9" cy="404.8" r="2.55"/><circle cx="1778.8" cy="404" r="2.55"/><circle cx="1782.6" cy="403.6" r="2.55"/><circle cx="1779.2" cy="403.2" r="2.55"/><circle cx="1791" cy="402.9" r="2.55"/><circle cx="1778.8" cy="402.4" r="2.55"/><circle cx="1790.5" cy="401.6" r="2.55"/><circle cx="1779.7" cy="401.4" r="2.55"/><circle cx="1790.8" cy="401" r="2.55"/><circle cx="1789" cy="400" r="2.55"/><circle cx="1787.9" cy="399.6" r="2.55"/><circle cx="1779.5" cy="399.1" r="2.55"/><circle cx="1787.6" cy="399.1" r="2.55"/><circle cx="1786" cy="398.3" r="2.55"/><circle cx="1781" cy="398.2" r="2.55"/><circle cx="1792.5" cy="396.8" r="2.55"/><circle cx="1791.9" cy="395.9" r="2.55"/><circle cx="1786.5" cy="395.8" r="2.55"/><circle cx="1791" cy="395.5" r="2.55"/><circle cx="1780.7" cy="393.2" r="2.55"/><circle cx="1777.8" cy="393.1" r="2.55"/><circle cx="1780.7" cy="392.5" r="2.55"/><circle cx="1784.9" cy="390.9" r="2.55"/><circle cx="1790.9" cy="390.6" r="2.55"/><circle cx="1789.8" cy="390.3" r="2.55"/><circle cx="1779" cy="389.6" r="2.55"/><circle cx="1789.4" cy="389.3" r="2.55"/><circle cx="1790.6" cy="388" r="2.55"/><circle cx="1785.2" cy="388" r="2.55"/><circle cx="1783.6" cy="387.5" r="2.55"/><circle cx="1783.2" cy="387.3" r="2.55"/><circle cx="1778.3" cy="387.2" r="2.55"/><circle cx="1779.3" cy="386.5" r="2.55"/><circle cx="1783.8" cy="386.4" r="2.55"/><circle cx="1783.9" cy="386.3" r="2.55"/><circle cx="1784.3" cy="384.4" r="2.55"/><circle cx="1782.7" cy="384.3" r="2.55"/><circle cx="1790" cy="384" r="2.55"/><circle cx="1777.7" cy="383.9" r="2.55"/><circle cx="1777.9" cy="383.6" r="2.55"/><circle cx="1791.5" cy="383.5" r="2.55"/><circle cx="1785.2" cy="383.3" r="2.55"/><circle cx="1785.8" cy="382.4" r="2.55"/><circle cx="1783.2" cy="381.8" r="2.55"/><circle cx="1782.4" cy="381.3" r="2.55"/><circle cx="1781" cy="381.2" r="2.55"/><circle cx="1784.3" cy="381" r="2.55"/><circle cx="1789.6" cy="380.8" r="2.55"/><circle cx="1775.5" cy="380.6" r="2.55"/><circle cx="1791.7" cy="380.1" r="2.55"/><circle cx="1778.1" cy="380.1" r="2.55"/><circle cx="1783.5" cy="378.4" r="2.55"/><circle cx="1789.6" cy="376.5" r="2.55"/><circle cx="1777.1" cy="376.3" r="2.55"/><circle cx="1786.4" cy="376.3" r="2.55"/><circle cx="1785.6" cy="376.1" r="2.55"/></g><g class="pc"><circle cx="1847.4" cy="563.7" r="2.55"/><circle cx="1839.8" cy="561.3" r="2.55"/><circle cx="1845.5" cy="558.8" r="2.55"/><circle cx="1841.1" cy="557.6" r="2.55"/><circle cx="1847.7" cy="553.8" r="2.55"/><circle cx="1853.9" cy="552" r="2.55"/><circle cx="1857.2" cy="551.3" r="2.55"/><circle cx="1844.5" cy="549.5" r="2.55"/><circle cx="1842.2" cy="546.4" r="2.55"/><circle cx="1840.4" cy="545.3" r="2.55"/><circle cx="1845" cy="543" r="2.55"/><circle cx="1844.1" cy="541.8" r="2.55"/><circle cx="1843.2" cy="540.8" r="2.55"/><circle cx="1855.4" cy="540.8" r="2.55"/><circle cx="1844.6" cy="540.1" r="2.55"/><circle cx="1842.4" cy="539.5" r="2.55"/><circle cx="1842.2" cy="536.3" r="2.55"/><circle cx="1852.6" cy="534.6" r="2.55"/><circle cx="1847.2" cy="534.4" r="2.55"/><circle cx="1846.5" cy="534.2" r="2.55"/><circle cx="1852.2" cy="531.3" r="2.55"/><circle cx="1850.9" cy="527.7" r="2.55"/><circle cx="1847.8" cy="527.4" r="2.55"/><circle cx="1850.7" cy="525" r="2.55"/><circle cx="1845" cy="524.9" r="2.55"/><circle cx="1847.3" cy="524.7" r="2.55"/><circle cx="1851.7" cy="523.1" r="2.55"/><circle cx="1839.9" cy="522.8" r="2.55"/><circle cx="1846.8" cy="522.2" r="2.55"/><circle cx="1846.4" cy="522.1" r="2.55"/><circle cx="1845.3" cy="519.6" r="2.55"/><circle cx="1848.5" cy="519.3" r="2.55"/><circle cx="1851.9" cy="519.1" r="2.55"/><circle cx="1852.8" cy="518.1" r="2.55"/><circle cx="1853.4" cy="517.2" r="2.55"/><circle cx="1850.7" cy="514.5" r="2.55"/><circle cx="1839.8" cy="513.6" r="2.55"/><circle cx="1843.9" cy="512.9" r="2.55"/><circle cx="1851.5" cy="511.9" r="2.55"/><circle cx="1841.6" cy="511.8" r="2.55"/><circle cx="1849.9" cy="511.3" r="2.55"/><circle cx="1839.8" cy="506.4" r="2.55"/><circle cx="1854.6" cy="505.5" r="2.55"/><circle cx="1842.5" cy="505.4" r="2.55"/><circle cx="1847.3" cy="502.3" r="2.55"/><circle cx="1841.7" cy="501.7" r="2.55"/><circle cx="1842.7" cy="492.6" r="2.55"/><circle cx="1848" cy="492.4" r="2.55"/><circle cx="1848.9" cy="491.8" r="2.55"/><circle cx="1855" cy="488.9" r="2.55"/><circle cx="1843.2" cy="483.8" r="2.55"/><circle cx="1855.4" cy="481.4" r="2.55"/><circle cx="1843.8" cy="478.9" r="2.55"/><circle cx="1846.6" cy="476.8" r="2.55"/><circle cx="1856.8" cy="473.3" r="2.55"/><circle cx="1848.8" cy="471.8" r="2.55"/><circle cx="1844.1" cy="468.7" r="2.55"/><circle cx="1847.7" cy="466.2" r="2.55"/><circle cx="1854.3" cy="465.4" r="2.55"/><circle cx="1855.2" cy="462" r="2.55"/><circle cx="1841.5" cy="460" r="2.55"/><circle cx="1848.8" cy="455.7" r="2.55"/><circle cx="1846.3" cy="454.2" r="2.55"/><circle cx="1841" cy="449.1" r="2.55"/><circle cx="1847.4" cy="449" r="2.55"/><circle cx="1844.8" cy="448.5" r="2.55"/><circle cx="1852.8" cy="447.6" r="2.55"/><circle cx="1839.8" cy="447" r="2.55"/><circle cx="1847.6" cy="446.4" r="2.55"/><circle cx="1845.7" cy="445.3" r="2.55"/><circle cx="1847.1" cy="443.1" r="2.55"/><circle cx="1847.3" cy="440" r="2.55"/><circle cx="1857.1" cy="438.6" r="2.55"/><circle cx="1851.8" cy="437.7" r="2.55"/><circle cx="1846.4" cy="437.7" r="2.55"/><circle cx="1845.6" cy="437.5" r="2.55"/><circle cx="1847.4" cy="437.3" r="2.55"/><circle cx="1856.3" cy="436" r="2.55"/><circle cx="1850.2" cy="435" r="2.55"/><circle cx="1856.7" cy="433" r="2.55"/><circle cx="1843.2" cy="432.2" r="2.55"/><circle cx="1848.9" cy="431.7" r="2.55"/><circle cx="1852.5" cy="431.3" r="2.55"/><circle cx="1854.4" cy="428" r="2.55"/><circle cx="1841.4" cy="426.4" r="2.55"/><circle cx="1846.8" cy="425.8" r="2.55"/><circle cx="1855.2" cy="425" r="2.55"/><circle cx="1850.5" cy="423.4" r="2.55"/><circle cx="1842.1" cy="420.5" r="2.55"/><circle cx="1847.1" cy="417.3" r="2.55"/><circle cx="1848.5" cy="417.1" r="2.55"/><circle cx="1839.5" cy="415.6" r="2.55"/><circle cx="1847.1" cy="415.6" r="2.55"/><circle cx="1848" cy="414.9" r="2.55"/><circle cx="1856.8" cy="414.1" r="2.55"/><circle cx="1848.8" cy="413.6" r="2.55"/><circle cx="1849" cy="411.8" r="2.55"/><circle cx="1840.9" cy="411.6" r="2.55"/><circle cx="1840.2" cy="410.6" r="2.55"/><circle cx="1847.8" cy="407.7" r="2.55"/><circle cx="1850.8" cy="406.8" r="2.55"/><circle cx="1843.4" cy="406" r="2.55"/><circle cx="1849.8" cy="402.3" r="2.55"/><circle cx="1841.2" cy="402.2" r="2.55"/><circle cx="1844.4" cy="399.4" r="2.55"/><circle cx="1848.9" cy="398.9" r="2.55"/><circle cx="1845" cy="398.2" r="2.55"/><circle cx="1847.5" cy="397.7" r="2.55"/><circle cx="1852.3" cy="397" r="2.55"/><circle cx="1842.7" cy="396.5" r="2.55"/><circle cx="1851.3" cy="396" r="2.55"/><circle cx="1856.8" cy="395.2" r="2.55"/><circle cx="1854.3" cy="394.4" r="2.55"/><circle cx="1846.3" cy="394.4" r="2.55"/><circle cx="1851" cy="393.9" r="2.55"/><circle cx="1841.5" cy="393.6" r="2.55"/><circle cx="1852.5" cy="393.2" r="2.55"/><circle cx="1853" cy="393.1" r="2.55"/><circle cx="1843.5" cy="392.1" r="2.55"/><circle cx="1846.3" cy="391.4" r="2.55"/><circle cx="1850.4" cy="391" r="2.55"/><circle cx="1851.3" cy="390.4" r="2.55"/><circle cx="1850.7" cy="389.8" r="2.55"/><circle cx="1853" cy="389.6" r="2.55"/><circle cx="1854.8" cy="389.1" r="2.55"/><circle cx="1848" cy="388.4" r="2.55"/><circle cx="1839.8" cy="388.3" r="2.55"/><circle cx="1854" cy="387.7" r="2.55"/><circle cx="1841.5" cy="387.4" r="2.55"/><circle cx="1849" cy="386.3" r="2.55"/><circle cx="1852.3" cy="386.3" r="2.55"/><circle cx="1854" cy="386.1" r="2.55"/><circle cx="1849" cy="385.9" r="2.55"/><circle cx="1850.9" cy="385.3" r="2.55"/><circle cx="1856.9" cy="385" r="2.55"/><circle cx="1853.4" cy="384.8" r="2.55"/><circle cx="1844.6" cy="384.7" r="2.55"/><circle cx="1856.3" cy="384.1" r="2.55"/><circle cx="1851.7" cy="383.3" r="2.55"/><circle cx="1844.9" cy="383" r="2.55"/><circle cx="1844.5" cy="382.7" r="2.55"/><circle cx="1847.5" cy="381.8" r="2.55"/><circle cx="1848.7" cy="381.5" r="2.55"/><circle cx="1854.7" cy="381.5" r="2.55"/><circle cx="1847.7" cy="381.5" r="2.55"/><circle cx="1852.3" cy="380.9" r="2.55"/><circle cx="1845.5" cy="379.5" r="2.55"/><circle cx="1847.9" cy="378.7" r="2.55"/><circle cx="1845.3" cy="378.4" r="2.55"/><circle cx="1846.6" cy="378" r="2.55"/></g><g class="pc"><circle cx="1918" cy="559.9" r="2.55"/><circle cx="1914.3" cy="558.5" r="2.55"/><circle cx="1918.4" cy="551.2" r="2.55"/><circle cx="1916.3" cy="551.2" r="2.55"/><circle cx="1919.7" cy="548.2" r="2.55"/><circle cx="1913" cy="533.6" r="2.55"/><circle cx="1904.6" cy="531.1" r="2.55"/><circle cx="1922.4" cy="527.8" r="2.55"/><circle cx="1908.5" cy="526.9" r="2.55"/><circle cx="1919.2" cy="526.7" r="2.55"/><circle cx="1908" cy="526" r="2.55"/><circle cx="1913.6" cy="523.5" r="2.55"/><circle cx="1909.6" cy="515.6" r="2.55"/><circle cx="1916.2" cy="513.5" r="2.55"/><circle cx="1905.8" cy="511.3" r="2.55"/><circle cx="1905.7" cy="497.2" r="2.55"/><circle cx="1912.7" cy="487.1" r="2.55"/><circle cx="1919.7" cy="483" r="2.55"/><circle cx="1912.8" cy="467.7" r="2.55"/><circle cx="1906.5" cy="451.4" r="2.55"/><circle cx="1922.3" cy="446" r="2.55"/><circle cx="1906.3" cy="438.8" r="2.55"/><circle cx="1910" cy="434.6" r="2.55"/><circle cx="1914.6" cy="429.1" r="2.55"/><circle cx="1909.2" cy="427.7" r="2.55"/><circle cx="1917" cy="427.2" r="2.55"/><circle cx="1911.9" cy="419.2" r="2.55"/><circle cx="1918.7" cy="417.5" r="2.55"/><circle cx="1905.9" cy="414.8" r="2.55"/><circle cx="1919.2" cy="411.4" r="2.55"/><circle cx="1920.7" cy="409.3" r="2.55"/><circle cx="1909" cy="404.9" r="2.55"/><circle cx="1908.7" cy="404.8" r="2.55"/><circle cx="1920.3" cy="403.3" r="2.55"/><circle cx="1911.8" cy="403.2" r="2.55"/><circle cx="1911.6" cy="401.3" r="2.55"/><circle cx="1914.9" cy="400.8" r="2.55"/><circle cx="1914.3" cy="400.6" r="2.55"/><circle cx="1919" cy="399.8" r="2.55"/><circle cx="1916.5" cy="378" r="2.55"/></g><path d="M1680.4 312.6L1680.4 564.3" stroke="#000" stroke-width="1.3"/><path d="M1676.9 563.7h3.5M1676.9 516.8h3.5M1676.9 469.9h3.5M1676.9 423h3.5M1676.9 376.1h3.5" stroke="#000" stroke-width="1.2"/><text x="1674.1" y="522.4" text-anchor="end" style="font-size:15.5px">25</text><text x="1674.1" y="475.5" text-anchor="end" style="font-size:15.5px">50</text><text x="1674.1" y="428.6" text-anchor="end" style="font-size:15.5px">75</text><text x="1674.1" y="381.7" text-anchor="end" style="font-size:15.5px">100</text><path d="M1679.8 563.7L1950 563.7" stroke="#000" stroke-width="1.3"/><path d="M1718.5 563.7v3.5M1783.7 563.7v3.5M1848.5 563.7v3.5M1913.4 563.7v3.5" stroke="#000" stroke-width="1.2"/><text x="1728.5" y="583.9" text-anchor="end" style="font-size:16.8px" transform="rotate(-15 1728.5 583.9)">NPC</text><text x="1785.6" y="583.2" text-anchor="end" style="font-size:16.8px" transform="rotate(-15 1785.6 583.2)">OP</text><text x="1878.6" y="581.7" text-anchor="end" style="font-size:16.8px" transform="rotate(-15 1878.6 581.7)">SARS-Cov-2-P</text><text x="1924.9" y="584.6" text-anchor="end" style="font-size:16.8px" transform="rotate(-15 1924.9 584.6)">OVP</text><text x="1641.7" y="439" text-anchor="middle" style="font-size:16.6px" transform="rotate(-90 1641.7 439)">Percent of total cells</text><path d="M1718.5 337.7L1783.7 337.7" stroke="#000" stroke-width="1.25"/><text x="1751.1" y="334.4" text-anchor="middle" style="font-size:16.7px">5.94e-03</text><path d="M1783.7 347.6L1913.4 347.6" stroke="#000" stroke-width="1.25"/><text x="1848.6" y="344.3" text-anchor="middle" style="font-size:16.7px">4.12e-02</text><path d="M1783.7 366L1848.5 366" stroke="#000" stroke-width="1.25"/><text x="1816.1" y="362.7" text-anchor="middle" style="font-size:16.7px">5.65e-03</text><text transform="translate(0 639) scale(0.9 1)" style="font-size:35.5px;font-weight:bold;stroke:#000;stroke-width:0.5px">h</text><path d="M125.5 993.4V1017.2M125.5 1037.1V1041.7" stroke="#333" stroke-width="1.3"/><rect x="115.5" y="1017.2" width="20" height="19.9" fill="#1170b8" stroke="#333" stroke-width="1.3"/><path d="M115.5 1034.2h20" stroke="#333" stroke-width="2.6"/><path d="M156 1028.6V1032.2M156 1041V1041.7" stroke="#333" stroke-width="1.3"/><rect x="146.5" y="1032.2" width="19" height="8.8" fill="#94c1e2" stroke="#2a2a2a" stroke-width="2.5"/><path d="M146.5 1037.1h19" stroke="#333" stroke-width="2.8"/><path d="M201 1005.8V1026M201 1041V1041.7" stroke="#333" stroke-width="1.3"/><rect x="191" y="1026" width="20" height="15" fill="#e88a2b" stroke="#333" stroke-width="1.3"/><path d="M191 1039.1h20" stroke="#333" stroke-width="2.6"/><path d="M231.5 1022.1V1032.9M231.5 1041.4V1041.7" stroke="#333" stroke-width="1.3"/><rect x="222" y="1032.9" width="19" height="8.5" fill="#f5cf9f" stroke="#2a2a2a" stroke-width="2.5"/><path d="M222 1039.1h19" stroke="#333" stroke-width="2.8"/><path d="M277.2 953.6V992.7M277.2 1029V1041.7" stroke="#333" stroke-width="1.3"/><rect x="267.2" y="992.7" width="20" height="36.2" fill="#c53e2c" stroke="#333" stroke-width="1.3"/><path d="M267.2 1018.2h20" stroke="#333" stroke-width="2.6"/><path d="M307.7 950.3V1003.8M307.7 1040.7V1041.7" stroke="#333" stroke-width="1.3"/><rect x="298.2" y="1003.8" width="19" height="36.9" fill="#eeaea5" stroke="#2a2a2a" stroke-width="2.5"/><path d="M298.2 1032.6h19" stroke="#333" stroke-width="2.8"/><path d="M353.5 1027V1028M353.5 1041V1041.7" stroke="#333" stroke-width="1.3"/><rect x="343.5" y="1028" width="20" height="13.1" fill="#1f8a4f" stroke="#333" stroke-width="1.3"/><path d="M343.5 1039.7h20" stroke="#333" stroke-width="2.6"/><path d="M383.5 1015.6V1029M383.5 1040.1V1041.7" stroke="#333" stroke-width="1.3"/><rect x="374" y="1029" width="19" height="11.1" fill="#9fd1b4" stroke="#2a2a2a" stroke-width="2.5"/><path d="M374 1036.2h19" stroke="#333" stroke-width="2.8"/><g class="ps"><circle cx="123" cy="1041.7" r="2.1"/><circle cx="122.7" cy="1039.9" r="2.1"/><circle cx="126.4" cy="1038.7" r="2.1"/><circle cx="124.8" cy="1038.1" r="2.1"/><circle cx="122.3" cy="1037" r="2.1"/><circle cx="122.8" cy="1036.7" r="2.1"/><circle cx="124.5" cy="1036.5" r="2.1"/><circle cx="122.4" cy="1035" r="2.1"/><circle cx="127.6" cy="1034.5" r="2.1"/><circle cx="123.4" cy="1034.4" r="2.1"/><circle cx="127.7" cy="1034.4" r="2.1"/><circle cx="122.2" cy="1033.3" r="2.1"/><circle cx="124.4" cy="1028" r="2.1"/><circle cx="128.5" cy="1026.6" r="2.1"/><circle cx="123.1" cy="1024.6" r="2.1"/><circle cx="122.3" cy="1021.8" r="2.1"/><circle cx="127.9" cy="1020.2" r="2.1"/><circle cx="127.6" cy="1014.8" r="2.1"/><circle cx="125.5" cy="1007.2" r="2.1"/><circle cx="122.9" cy="993.4" r="2.1"/><circle cx="124.1" cy="968.3" r="2.1"/></g><g fill="none" stroke="#2a2a2a" stroke-width="1.15" stroke-opacity="0.5"><path d="M156.9 1039.3l3.2 5h-6.4z"/><path d="M154.7 1038.7l3.2 5h-6.4z"/><path d="M155.6 1036.9l3.2 5h-6.4z"/><path d="M159.5 1036.7l3.2 5h-6.4z"/><path d="M152.6 1035.6l3.2 5h-6.4z"/><path d="M157 1035.6l3.2 5h-6.4z"/><path d="M153.8 1035.1l3.2 5h-6.4z"/><path d="M159.2 1034.1l3.2 5h-6.4z"/><path d="M158.2 1033l3.2 5h-6.4z"/><path d="M158.3 1031.6l3.2 5h-6.4z"/><path d="M158.4 1031.3l3.2 5h-6.4z"/><path d="M154.9 1030.7l3.2 5h-6.4z"/><path d="M156 1029.5l3.2 5h-6.4z"/><path d="M159 1028.1l3.2 5h-6.4z"/><path d="M155.8 1026.2l3.2 5h-6.4z"/><path d="M159.1 951.2l3.2 5h-6.4z"/><path d="M158.2 996.9l3.2 5h-6.4z"/><path d="M155.9 1000.1l3.2 5h-6.4z"/></g><g class="ps"><circle cx="202.2" cy="1041.7" r="2.1"/><circle cx="203.9" cy="1041.6" r="2.1"/><circle cx="199.4" cy="1041.5" r="2.1"/><circle cx="202.3" cy="1041.5" r="2.1"/><circle cx="203.7" cy="1041.5" r="2.1"/><circle cx="203.4" cy="1041.5" r="2.1"/><circle cx="204.2" cy="1041.4" r="2.1"/><circle cx="198.3" cy="1041.3" r="2.1"/><circle cx="202.2" cy="1041.3" r="2.1"/><circle cx="199.5" cy="1041.2" r="2.1"/><circle cx="197.8" cy="1041.1" r="2.1"/><circle cx="201" cy="1041.1" r="2.1"/><circle cx="204.2" cy="1040.9" r="2.1"/><circle cx="199.9" cy="1040.8" r="2.1"/><circle cx="199.3" cy="1040.8" r="2.1"/><circle cx="204.4" cy="1040.3" r="2.1"/><circle cx="202.2" cy="1040.2" r="2.1"/><circle cx="198.6" cy="1040.1" r="2.1"/><circle cx="197.6" cy="1039.7" r="2.1"/><circle cx="198.1" cy="1039.7" r="2.1"/><circle cx="198.1" cy="1039.2" r="2.1"/><circle cx="203.7" cy="1039.2" r="2.1"/><circle cx="202.4" cy="1039.2" r="2.1"/><circle cx="198.8" cy="1039.1" r="2.1"/><circle cx="200.5" cy="1038" r="2.1"/><circle cx="200.6" cy="1037.7" r="2.1"/><circle cx="203.5" cy="1037.4" r="2.1"/><circle cx="204.3" cy="1036" r="2.1"/><circle cx="197.6" cy="1033.9" r="2.1"/><circle cx="197.7" cy="1033" r="2.1"/><circle cx="201.8" cy="1032.9" r="2.1"/><circle cx="197.9" cy="1032.4" r="2.1"/><circle cx="200.4" cy="1032.2" r="2.1"/><circle cx="202" cy="1030" r="2.1"/><circle cx="201.1" cy="1028.3" r="2.1"/><circle cx="198.8" cy="1028.3" r="2.1"/><circle cx="199.5" cy="1027.8" r="2.1"/><circle cx="201.3" cy="1026.6" r="2.1"/><circle cx="198.6" cy="1026.6" r="2.1"/><circle cx="204" cy="1026.6" r="2.1"/><circle cx="199.3" cy="1025.8" r="2.1"/><circle cx="203.4" cy="1024" r="2.1"/><circle cx="198.9" cy="1022" r="2.1"/><circle cx="201" cy="1018.7" r="2.1"/><circle cx="203.2" cy="1016.1" r="2.1"/><circle cx="202.2" cy="1015.8" r="2.1"/><circle cx="198.4" cy="1015.5" r="2.1"/><circle cx="199.3" cy="1010.8" r="2.1"/><circle cx="200.2" cy="1009.1" r="2.1"/><circle cx="201" cy="1005.8" r="2.1"/><circle cx="204.3" cy="953.6" r="2.1"/><circle cx="199.9" cy="969.9" r="2.1"/><circle cx="200" cy="978.1" r="2.1"/><circle cx="201.3" cy="992.7" r="2.1"/><circle cx="199.1" cy="1000.9" r="2.1"/><circle cx="203.3" cy="1002.5" r="2.1"/></g><g fill="none" stroke="#2a2a2a" stroke-width="1.15" stroke-opacity="0.5"><path d="M232.8 1039.3l3.2 5h-6.4z"/><path d="M232.4 1039.3l3.2 5h-6.4z"/><path d="M233.5 1039.3l3.2 5h-6.4z"/><path d="M229.5 1039.3l3.2 5h-6.4z"/><path d="M228.4 1039.3l3.2 5h-6.4z"/><path d="M231 1039.2l3.2 5h-6.4z"/><path d="M233.5 1039.2l3.2 5h-6.4z"/><path d="M233.3 1039.2l3.2 5h-6.4z"/><path d="M230.7 1039.2l3.2 5h-6.4z"/><path d="M233.2 1039.1l3.2 5h-6.4z"/><path d="M233.4 1039.1l3.2 5h-6.4z"/><path d="M233.6 1039.1l3.2 5h-6.4z"/><path d="M234.7 1039.1l3.2 5h-6.4z"/><path d="M231.2 1039l3.2 5h-6.4z"/><path d="M233.1 1039l3.2 5h-6.4z"/><path d="M234.4 1039l3.2 5h-6.4z"/><path d="M230 1038.8l3.2 5h-6.4z"/><path d="M234.9 1038.7l3.2 5h-6.4z"/><path d="M230.4 1038.7l3.2 5h-6.4z"/><path d="M232.7 1038.7l3.2 5h-6.4z"/><path d="M229 1038.7l3.2 5h-6.4z"/><path d="M229.3 1038.7l3.2 5h-6.4z"/><path d="M228.6 1038.5l3.2 5h-6.4z"/><path d="M232.5 1038.5l3.2 5h-6.4z"/><path d="M228.2 1038.5l3.2 5h-6.4z"/><path d="M231.4 1038.3l3.2 5h-6.4z"/><path d="M233.2 1038.3l3.2 5h-6.4z"/><path d="M229.9 1038.2l3.2 5h-6.4z"/><path d="M229.4 1038.2l3.2 5h-6.4z"/><path d="M234.7 1037.8l3.2 5h-6.4z"/><path d="M229.4 1037.6l3.2 5h-6.4z"/><path d="M232.1 1037.5l3.2 5h-6.4z"/><path d="M231.2 1037.4l3.2 5h-6.4z"/><path d="M234.3 1037.1l3.2 5h-6.4z"/><path d="M232.4 1037.1l3.2 5h-6.4z"/><path d="M231.4 1037l3.2 5h-6.4z"/><path d="M229.8 1036.9l3.2 5h-6.4z"/><path d="M233.9 1036.7l3.2 5h-6.4z"/><path d="M230.2 1036.6l3.2 5h-6.4z"/><path d="M233.7 1036.3l3.2 5h-6.4z"/><path d="M232.9 1036.3l3.2 5h-6.4z"/><path d="M231.9 1036.2l3.2 5h-6.4z"/><path d="M235 1036.1l3.2 5h-6.4z"/><path d="M232.5 1036l3.2 5h-6.4z"/><path d="M232.2 1035.5l3.2 5h-6.4z"/><path d="M232.9 1035.5l3.2 5h-6.4z"/><path d="M229.2 1035.4l3.2 5h-6.4z"/><path d="M231.1 1035l3.2 5h-6.4z"/><path d="M228 1034.8l3.2 5h-6.4z"/><path d="M229 1034.7l3.2 5h-6.4z"/><path d="M228.2 1034.3l3.2 5h-6.4z"/><path d="M232 1033.3l3.2 5h-6.4z"/><path d="M230.3 1033l3.2 5h-6.4z"/><path d="M229.2 1032.6l3.2 5h-6.4z"/><path d="M230.8 1032.5l3.2 5h-6.4z"/><path d="M234.7 1032.3l3.2 5h-6.4z"/><path d="M228.4 1032.2l3.2 5h-6.4z"/><path d="M228.8 1032.1l3.2 5h-6.4z"/><path d="M234.1 1031.9l3.2 5h-6.4z"/><path d="M229.5 1031.8l3.2 5h-6.4z"/><path d="M232.7 1031.6l3.2 5h-6.4z"/><path d="M228.6 1031.5l3.2 5h-6.4z"/><path d="M228.3 1031.3l3.2 5h-6.4z"/><path d="M232.3 1031.2l3.2 5h-6.4z"/><path d="M233.2 1031.1l3.2 5h-6.4z"/><path d="M229.4 1030.8l3.2 5h-6.4z"/><path d="M231.2 1030.4l3.2 5h-6.4z"/><path d="M229.1 1030.4l3.2 5h-6.4z"/><path d="M233.8 1029.9l3.2 5h-6.4z"/><path d="M228.9 1029.6l3.2 5h-6.4z"/><path d="M231.9 1029.5l3.2 5h-6.4z"/><path d="M234.6 1029.4l3.2 5h-6.4z"/><path d="M229.5 1029.3l3.2 5h-6.4z"/><path d="M233.1 1027.2l3.2 5h-6.4z"/><path d="M231.5 1026.2l3.2 5h-6.4z"/><path d="M234 1025.7l3.2 5h-6.4z"/><path d="M234 1025.6l3.2 5h-6.4z"/><path d="M231.5 1024.9l3.2 5h-6.4z"/><path d="M231.3 1024.5l3.2 5h-6.4z"/><path d="M233.4 1023.7l3.2 5h-6.4z"/><path d="M233 1023.4l3.2 5h-6.4z"/><path d="M230.3 1023.2l3.2 5h-6.4z"/><path d="M234.6 1022.8l3.2 5h-6.4z"/><path d="M231.5 1022.3l3.2 5h-6.4z"/><path d="M229.7 1021.7l3.2 5h-6.4z"/><path d="M230.8 1021.3l3.2 5h-6.4z"/><path d="M230.8 1021.2l3.2 5h-6.4z"/><path d="M231.5 1020.7l3.2 5h-6.4z"/><path d="M230.4 1020.4l3.2 5h-6.4z"/><path d="M231.2 1019.7l3.2 5h-6.4z"/><path d="M234.8 928.3l3.2 5h-6.4z"/><path d="M235 956.1l3.2 5h-6.4z"/><path d="M229.8 956.1l3.2 5h-6.4z"/><path d="M230.2 974l3.2 5h-6.4z"/><path d="M230.6 990.3l3.2 5h-6.4z"/><path d="M229.6 996.9l3.2 5h-6.4z"/><path d="M229.6 1005l3.2 5h-6.4z"/><path d="M231.4 1006.7l3.2 5h-6.4z"/></g><g class="ps"><circle cx="279" cy="1041.7" r="2.1"/><circle cx="277.5" cy="1036.2" r="2.1"/><circle cx="276.5" cy="1036" r="2.1"/><circle cx="278.3" cy="1035.8" r="2.1"/><circle cx="278.5" cy="1033.7" r="2.1"/><circle cx="278.8" cy="1032.5" r="2.1"/><circle cx="275.9" cy="1030.4" r="2.1"/><circle cx="276.5" cy="1028.6" r="2.1"/><circle cx="275.3" cy="1026.7" r="2.1"/><circle cx="274.7" cy="1026.6" r="2.1"/><circle cx="275.9" cy="1024.9" r="2.1"/><circle cx="275.5" cy="1022.8" r="2.1"/><circle cx="275.7" cy="1022.5" r="2.1"/><circle cx="277.1" cy="1021.8" r="2.1"/><circle cx="276.4" cy="1019.3" r="2.1"/><circle cx="278.8" cy="1018.6" r="2.1"/><circle cx="275.5" cy="1018.2" r="2.1"/><circle cx="278.7" cy="1017.5" r="2.1"/><circle cx="279.9" cy="1016.1" r="2.1"/><circle cx="277.2" cy="1015.8" r="2.1"/><circle cx="279.3" cy="1005.2" r="2.1"/><circle cx="274.2" cy="1003.7" r="2.1"/><circle cx="275.5" cy="1003.5" r="2.1"/><circle cx="274.3" cy="1000.9" r="2.1"/><circle cx="277.2" cy="997.5" r="2.1"/><circle cx="276.4" cy="993.9" r="2.1"/><circle cx="277.1" cy="993.1" r="2.1"/><circle cx="275.3" cy="976.8" r="2.1"/><circle cx="273.9" cy="965.2" r="2.1"/><circle cx="279" cy="964.7" r="2.1"/><circle cx="280.3" cy="964.1" r="2.1"/><circle cx="275" cy="963.2" r="2.1"/><circle cx="278.9" cy="961.1" r="2.1"/><circle cx="276.2" cy="958.9" r="2.1"/><circle cx="278.9" cy="953.6" r="2.1"/><circle cx="277.9" cy="899.7" r="2.1"/><circle cx="279" cy="901.3" r="2.1"/><circle cx="280.6" cy="932.4" r="2.1"/></g><g fill="none" stroke="#2a2a2a" stroke-width="1.15" stroke-opacity="0.5"><path d="M309.5 1039.3l3.2 5h-6.4z"/><path d="M307.4 1039.3l3.2 5h-6.4z"/><path d="M308.1 1039.2l3.2 5h-6.4z"/><path d="M310.3 1039.2l3.2 5h-6.4z"/><path d="M310.4 1039.2l3.2 5h-6.4z"/><path d="M308.3 1039l3.2 5h-6.4z"/><path d="M310.8 1039l3.2 5h-6.4z"/><path d="M308 1039l3.2 5h-6.4z"/><path d="M310.4 1039l3.2 5h-6.4z"/><path d="M307.5 1038.9l3.2 5h-6.4z"/><path d="M306.1 1038.8l3.2 5h-6.4z"/><path d="M307.7 1038.8l3.2 5h-6.4z"/><path d="M305.3 1038.7l3.2 5h-6.4z"/><path d="M306.9 1038.7l3.2 5h-6.4z"/><path d="M305.8 1038.7l3.2 5h-6.4z"/><path d="M307.4 1038.7l3.2 5h-6.4z"/><path d="M304.8 1038.6l3.2 5h-6.4z"/><path d="M307.2 1038.6l3.2 5h-6.4z"/><path d="M308.2 1038.5l3.2 5h-6.4z"/><path d="M311.1 1038.5l3.2 5h-6.4z"/><path d="M311.2 1038.5l3.2 5h-6.4z"/><path d="M308.8 1038.5l3.2 5h-6.4z"/><path d="M307.4 1038.5l3.2 5h-6.4z"/><path d="M309.4 1038.5l3.2 5h-6.4z"/><path d="M310.7 1038.5l3.2 5h-6.4z"/><path d="M309 1038.5l3.2 5h-6.4z"/><path d="M305.5 1038.5l3.2 5h-6.4z"/><path d="M308.5 1038.5l3.2 5h-6.4z"/><path d="M307.7 1038.4l3.2 5h-6.4z"/><path d="M310.6 1038.4l3.2 5h-6.4z"/><path d="M308.9 1038.2l3.2 5h-6.4z"/><path d="M311 1038.1l3.2 5h-6.4z"/><path d="M304.5 1037.9l3.2 5h-6.4z"/><path d="M309.1 1037.9l3.2 5h-6.4z"/><path d="M305.7 1037.3l3.2 5h-6.4z"/><path d="M307.5 1037.3l3.2 5h-6.4z"/><path d="M310.1 1037.3l3.2 5h-6.4z"/><path d="M311.2 1037.2l3.2 5h-6.4z"/><path d="M305.8 1036.9l3.2 5h-6.4z"/><path d="M310.2 1036.8l3.2 5h-6.4z"/><path d="M305.1 1036.6l3.2 5h-6.4z"/><path d="M306.3 1036.4l3.2 5h-6.4z"/><path d="M305.7 1036.1l3.2 5h-6.4z"/><path d="M311 1035.4l3.2 5h-6.4z"/><path d="M304.9 1035.2l3.2 5h-6.4z"/><path d="M309.8 1034.9l3.2 5h-6.4z"/><path d="M307.9 1034.9l3.2 5h-6.4z"/><path d="M309.2 1034.8l3.2 5h-6.4z"/><path d="M304.8 1034.8l3.2 5h-6.4z"/><path d="M307.4 1034.7l3.2 5h-6.4z"/><path d="M308.1 1034.3l3.2 5h-6.4z"/><path d="M306.2 1034.3l3.2 5h-6.4z"/><path d="M308.8 1034.2l3.2 5h-6.4z"/><path d="M304.8 1034.2l3.2 5h-6.4z"/><path d="M304.8 1034.1l3.2 5h-6.4z"/><path d="M308.8 1033.8l3.2 5h-6.4z"/><path d="M306 1033.7l3.2 5h-6.4z"/><path d="M310.2 1033.5l3.2 5h-6.4z"/><path d="M308.2 1032.5l3.2 5h-6.4z"/><path d="M310.4 1032.4l3.2 5h-6.4z"/><path d="M310.2 1032.2l3.2 5h-6.4z"/><path d="M309.1 1032.2l3.2 5h-6.4z"/><path d="M311.1 1031.9l3.2 5h-6.4z"/><path d="M305.9 1031.8l3.2 5h-6.4z"/><path d="M308.1 1031.6l3.2 5h-6.4z"/><path d="M305.1 1031.5l3.2 5h-6.4z"/><path d="M309.2 1031.3l3.2 5h-6.4z"/><path d="M309.9 1031.1l3.2 5h-6.4z"/><path d="M310.5 1031l3.2 5h-6.4z"/><path d="M307.9 1030.6l3.2 5h-6.4z"/><path d="M310.7 1030.5l3.2 5h-6.4z"/><path d="M306.9 1029.9l3.2 5h-6.4z"/><path d="M306.7 1028.8l3.2 5h-6.4z"/><path d="M309.3 1027.6l3.2 5h-6.4z"/><path d="M310.6 1026.5l3.2 5h-6.4z"/><path d="M304.8 1026l3.2 5h-6.4z"/><path d="M307.8 1022.8l3.2 5h-6.4z"/><path d="M307.3 1022.3l3.2 5h-6.4z"/><path d="M304.4 1022.2l3.2 5h-6.4z"/><path d="M305 1022l3.2 5h-6.4z"/><path d="M309.9 1021.8l3.2 5h-6.4z"/><path d="M310.8 1021.1l3.2 5h-6.4z"/><path d="M308.2 1021l3.2 5h-6.4z"/><path d="M305.9 1017.4l3.2 5h-6.4z"/><path d="M311.1 1017.2l3.2 5h-6.4z"/><path d="M307.2 1016.5l3.2 5h-6.4z"/><path d="M305.1 1016.3l3.2 5h-6.4z"/><path d="M309.7 1013.9l3.2 5h-6.4z"/><path d="M309.1 1012.9l3.2 5h-6.4z"/><path d="M309 1012.6l3.2 5h-6.4z"/><path d="M306.9 1009l3.2 5h-6.4z"/><path d="M306.2 1008.5l3.2 5h-6.4z"/><path d="M305.8 1008l3.2 5h-6.4z"/><path d="M308.4 1007.9l3.2 5h-6.4z"/><path d="M306.4 1007.5l3.2 5h-6.4z"/><path d="M309.3 1004.4l3.2 5h-6.4z"/><path d="M310.6 1002.9l3.2 5h-6.4z"/><path d="M310.1 1000.8l3.2 5h-6.4z"/><path d="M304.4 998.6l3.2 5h-6.4z"/><path d="M308.7 998.1l3.2 5h-6.4z"/><path d="M304.6 995.9l3.2 5h-6.4z"/><path d="M306.3 995.5l3.2 5h-6.4z"/><path d="M306.3 992.7l3.2 5h-6.4z"/><path d="M308.1 991.8l3.2 5h-6.4z"/><path d="M304.5 990.6l3.2 5h-6.4z"/><path d="M305.8 989.2l3.2 5h-6.4z"/><path d="M310.7 985.6l3.2 5h-6.4z"/><path d="M304.4 985.5l3.2 5h-6.4z"/><path d="M306.6 981.7l3.2 5h-6.4z"/><path d="M307.6 980.7l3.2 5h-6.4z"/><path d="M305 978.7l3.2 5h-6.4z"/><path d="M306.2 978.5l3.2 5h-6.4z"/><path d="M308.6 977.2l3.2 5h-6.4z"/><path d="M306.5 976.3l3.2 5h-6.4z"/><path d="M308.1 974.9l3.2 5h-6.4z"/><path d="M310.8 973.9l3.2 5h-6.4z"/><path d="M304.9 973.7l3.2 5h-6.4z"/><path d="M308.9 972.6l3.2 5h-6.4z"/><path d="M304.4 972.1l3.2 5h-6.4z"/><path d="M306.9 971.9l3.2 5h-6.4z"/><path d="M309.2 969.8l3.2 5h-6.4z"/><path d="M310.9 967.8l3.2 5h-6.4z"/><path d="M307.4 965l3.2 5h-6.4z"/><path d="M308.6 960.9l3.2 5h-6.4z"/><path d="M307.6 958.8l3.2 5h-6.4z"/><path d="M305 958.4l3.2 5h-6.4z"/><path d="M304.8 958.1l3.2 5h-6.4z"/><path d="M308.1 956.5l3.2 5h-6.4z"/><path d="M310.3 954.1l3.2 5h-6.4z"/><path d="M306 947.9l3.2 5h-6.4z"/><path d="M309.4 853.3l3.2 5h-6.4z"/><path d="M308.6 854.9l3.2 5h-6.4z"/><path d="M306.6 895.7l3.2 5h-6.4z"/><path d="M308.8 898.9l3.2 5h-6.4z"/><path d="M304.6 902.2l3.2 5h-6.4z"/><path d="M306 905.5l3.2 5h-6.4z"/><path d="M306.9 931.6l3.2 5h-6.4z"/><path d="M308.7 934.9l3.2 5h-6.4z"/><path d="M304.5 938.1l3.2 5h-6.4z"/><path d="M304.5 941.4l3.2 5h-6.4z"/></g><g class="ps"><circle cx="350.3" cy="1041.7" r="2.1"/><circle cx="353" cy="1041.6" r="2.1"/><circle cx="354.8" cy="1041.3" r="2.1"/><circle cx="350.1" cy="1040.5" r="2.1"/><circle cx="356.3" cy="1040.4" r="2.1"/><circle cx="350.6" cy="1040.3" r="2.1"/><circle cx="351.7" cy="1038.4" r="2.1"/><circle cx="352.7" cy="1031.4" r="2.1"/><circle cx="350.8" cy="1028" r="2.1"/><circle cx="355.2" cy="1027.4" r="2.1"/><circle cx="354.8" cy="1027.3" r="2.1"/><circle cx="354.1" cy="1027.1" r="2.1"/><circle cx="353" cy="1027.1" r="2.1"/><circle cx="354.2" cy="1027" r="2.1"/><circle cx="352.6" cy="1027" r="2.1"/><circle cx="354.7" cy="878.5" r="2.1"/><circle cx="356.3" cy="963.4" r="2.1"/><circle cx="355.4" cy="1004.2" r="2.1"/></g><g fill="none" stroke="#2a2a2a" stroke-width="1.15" stroke-opacity="0.5"><path d="M381.9 1039.3l3.2 5h-6.4z"/><path d="M380.6 1039l3.2 5h-6.4z"/><path d="M384.9 1038.5l3.2 5h-6.4z"/><path d="M382.5 1038.3l3.2 5h-6.4z"/><path d="M384.6 1038l3.2 5h-6.4z"/><path d="M380.2 1037.4l3.2 5h-6.4z"/><path d="M385.2 1037l3.2 5h-6.4z"/><path d="M380.9 1036.7l3.2 5h-6.4z"/><path d="M386.9 1035.8l3.2 5h-6.4z"/><path d="M381.9 1035.1l3.2 5h-6.4z"/><path d="M383.4 1031.3l3.2 5h-6.4z"/><path d="M385.8 1028.6l3.2 5h-6.4z"/><path d="M384.4 1026.9l3.2 5h-6.4z"/><path d="M380.6 1020.6l3.2 5h-6.4z"/><path d="M386.5 1020l3.2 5h-6.4z"/><path d="M385.1 1019.9l3.2 5h-6.4z"/><path d="M385.3 1019.3l3.2 5h-6.4z"/><path d="M383.6 1015.6l3.2 5h-6.4z"/><path d="M381.2 1014.6l3.2 5h-6.4z"/><path d="M384.6 1013.2l3.2 5h-6.4z"/><path d="M382.2 998.5l3.2 5h-6.4z"/><path d="M385.8 1003.4l3.2 5h-6.4z"/><path d="M382.3 1008.3l3.2 5h-6.4z"/></g><path d="M95.7 654.4L95.7 1042.3" stroke="#000" stroke-width="1.3"/><path d="M92.2 1041.7h3.5M92.2 960.1h3.5M92.2 878.5h3.5M92.2 796.9h3.5M92.2 715.3h3.5" stroke="#000" stroke-width="1.2"/><text x="89.4" y="1047.4" text-anchor="end" style="font-size:15.8px">0</text><text x="89.4" y="965.8" text-anchor="end" style="font-size:15.8px">25</text><text x="89.4" y="884.2" text-anchor="end" style="font-size:15.8px">50</text><text x="89.4" y="802.6" text-anchor="end" style="font-size:15.8px">75</text><text x="89.4" y="721" text-anchor="end" style="font-size:15.8px">100</text><path d="M95.1 1041.7L412.8 1041.7" stroke="#000" stroke-width="1.3"/><path d="M140.8 1041.7v3.5M216.2 1041.7v3.5M292.4 1041.7v3.5M368.5 1041.7v3.5" stroke="#000" stroke-width="1.2"/><text x="152.2" y="1061" text-anchor="end" style="font-size:20.7px" transform="rotate(-24.5 152.2 1061)">NPC</text><text x="227.8" y="1061" text-anchor="end" style="font-size:20.7px" transform="rotate(-24.5 227.8 1061)">OP</text><text x="311.8" y="1059.7" text-anchor="end" style="font-size:20.7px" transform="rotate(-24.5 311.8 1059.7)">SARS−CoV−2−P</text><text x="381.1" y="1061.2" text-anchor="end" style="font-size:20.7px" transform="rotate(-24.5 381.1 1061.2)">OVP</text><text x="59.3" y="831.8" text-anchor="middle" style="font-size:19.4px" transform="rotate(-90 59.3 831.8)">Percent of total cells</text><path d="M231.5 682.6L383.5 682.6" stroke="#000" stroke-width="1.25"/><text x="307.5" y="679.1" text-anchor="middle" style="font-size:16.7px">4.69e−02</text><path d="M276.6 715.2L307.7 715.2" stroke="#000" stroke-width="1.25"/><text x="292.1" y="711.7" text-anchor="middle" style="font-size:16.7px">1.67e−02</text><path d="M125 747.5L277.7 747.5" stroke="#000" stroke-width="1.25"/><text x="201.3" y="744" text-anchor="middle" style="font-size:16.7px">1.48e−02</text><path d="M276.6 780.5L353.5 780.5" stroke="#000" stroke-width="1.25"/><text x="315.1" y="777" text-anchor="middle" style="font-size:16.7px">8.34e−04</text><path d="M200.8 813.2L277.7 813.2" stroke="#000" stroke-width="1.25"/><text x="239.2" y="809.7" text-anchor="middle" style="font-size:16.7px">1.73e−06</text><path d="M231.6 845.8L307.7 845.8" stroke="#000" stroke-width="1.25"/><text x="269.6" y="842.3" text-anchor="middle" style="font-size:16.7px">1.20e−06</text><text x="403.5" y="662" style="font-size:20.5px">Diagnosis</text><rect x="407.5" y="674.4" width="11.6" height="10.7" fill="#1170b8"/><text x="432.5" y="685.2" style="font-size:17.1px">NPC</text><rect x="407.5" y="694.5" width="11.6" height="10.7" fill="#e88a2b"/><text x="432.5" y="705.2" style="font-size:17.1px">OP</text><rect x="407.5" y="714.5" width="11.6" height="10.7" fill="#c53e2c"/><text x="432.5" y="725.3" style="font-size:17.1px">SARS−CoV−2−P</text><rect x="407.5" y="734.6" width="11.6" height="10.7" fill="#1f8a4f"/><text x="432.5" y="745.4" style="font-size:17.1px">OVP</text><text x="403.5" y="774.5" style="font-size:17.3px">Timing of BAL</text><text x="403.5" y="792" style="font-size:20.8px">relative to intubation</text><rect x="402.5" y="801.6" width="21" height="19.8" fill="#fff" stroke="#c8c8c8" stroke-width="0.9"/><rect x="402.5" y="821.4" width="21" height="19.8" fill="#fff" stroke="#c8c8c8" stroke-width="0.9"/><circle cx="413" cy="811.5" r="2.6" fill="none" stroke="#000" stroke-width="1.1"/><path d="M413 828.3l3 5h-6z" fill="none" stroke="#000" stroke-width="1.1"/><text x="432.5" y="816.8" style="font-size:17.1px">≤ 48hrs</text><text x="432.5" y="836.4" style="font-size:17.1px">&gt; 48hrs</text><text transform="translate(621.5 645) scale(0.9 1)" style="font-size:35.5px;font-weight:bold;stroke:#000;stroke-width:0.5px">i</text><path d="M720.5 1023.1V1029M720.5 1043V1045.9" stroke="#333" stroke-width="1.3"/><rect x="710.5" y="1029" width="20" height="14" fill="#1170b8" stroke="#333" stroke-width="1.3"/><path d="M710.5 1037.1h20" stroke="#333" stroke-width="2.6"/><path d="M750.5 1013.3V1030.9M750.5 1044.6V1045.9" stroke="#333" stroke-width="1.3"/><rect x="741" y="1030.9" width="19" height="13.7" fill="#94c1e2" stroke="#2a2a2a" stroke-width="2.5"/><path d="M741 1041h19" stroke="#333" stroke-width="2.8"/><path d="M796.5 1014.9V1032.9M796.5 1045.2V1045.9" stroke="#333" stroke-width="1.3"/><rect x="786.5" y="1032.9" width="20" height="12.4" fill="#e88a2b" stroke="#333" stroke-width="1.3"/><path d="M786.5 1042.6h20" stroke="#333" stroke-width="2.6"/><path d="M826.3 1029.6V1038.4M826.3 1045.2V1045.9" stroke="#333" stroke-width="1.3"/><rect x="816.8" y="1038.4" width="19" height="6.8" fill="#f5cf9f" stroke="#2a2a2a" stroke-width="2.5"/><path d="M816.8 1043.3h19" stroke="#333" stroke-width="2.8"/><path d="M871.9 938.4V989.2M871.9 1029.6V1045.9" stroke="#333" stroke-width="1.3"/><rect x="861.9" y="989.2" width="20" height="40.4" fill="#c53e2c" stroke="#333" stroke-width="1.3"/><path d="M861.9 1024.1h20" stroke="#333" stroke-width="2.6"/><path d="M902 959.5V1008.7M902 1044.3V1045.9" stroke="#333" stroke-width="1.3"/><rect x="892.5" y="1008.7" width="19" height="35.5" fill="#eeaea5" stroke="#2a2a2a" stroke-width="2.5"/><path d="M892.5 1036.1h19" stroke="#333" stroke-width="2.8"/><path d="M948 1013.3V1018.2M948 1045.9V1045.9" stroke="#333" stroke-width="1.3"/><rect x="938" y="1018.2" width="20" height="27.7" fill="#1f8a4f" stroke="#333" stroke-width="1.3"/><path d="M938 1038.4h20" stroke="#333" stroke-width="2.6"/><path d="M978 1013.3V1024.7M978 1042.6V1045.9" stroke="#333" stroke-width="1.3"/><rect x="968.5" y="1024.7" width="19" height="17.9" fill="#9fd1b4" stroke="#2a2a2a" stroke-width="2.5"/><path d="M968.5 1035.1h19" stroke="#333" stroke-width="2.8"/><g class="ps"><circle cx="718.4" cy="1045.9" r="2.1"/><circle cx="718.7" cy="1044.1" r="2.1"/><circle cx="719.3" cy="1043.7" r="2.1"/><circle cx="722.2" cy="1041.4" r="2.1"/><circle cx="718.1" cy="1038.3" r="2.1"/><circle cx="721.5" cy="1035.7" r="2.1"/><circle cx="722.7" cy="1034.2" r="2.1"/><circle cx="720.6" cy="1032.3" r="2.1"/><circle cx="723.4" cy="1031.5" r="2.1"/><circle cx="722" cy="1031.2" r="2.1"/><circle cx="720.6" cy="1029.3" r="2.1"/><circle cx="723.8" cy="1029.1" r="2.1"/><circle cx="720.9" cy="1027.1" r="2.1"/><circle cx="718" cy="1026.9" r="2.1"/><circle cx="718.5" cy="1023.1" r="2.1"/><circle cx="722.8" cy="869.9" r="2.1"/><circle cx="723" cy="1003.5" r="2.1"/></g><g fill="none" stroke="#2a2a2a" stroke-width="1.15" stroke-opacity="0.5"><path d="M750.4 1043.5l3.2 5h-6.4z"/><path d="M750.5 1043.1l3.2 5h-6.4z"/><path d="M752 1042.6l3.2 5h-6.4z"/><path d="M752.2 1042.4l3.2 5h-6.4z"/><path d="M749.7 1042.4l3.2 5h-6.4z"/><path d="M750.2 1040.8l3.2 5h-6.4z"/><path d="M749 1040.6l3.2 5h-6.4z"/><path d="M748.1 1040.1l3.2 5h-6.4z"/><path d="M749.8 1039.4l3.2 5h-6.4z"/><path d="M751.1 1038.9l3.2 5h-6.4z"/><path d="M754 1036.2l3.2 5h-6.4z"/><path d="M752.2 1021.7l3.2 5h-6.4z"/><path d="M752.7 1018.5l3.2 5h-6.4z"/><path d="M752.8 1015.1l3.2 5h-6.4z"/><path d="M753.5 1010.9l3.2 5h-6.4z"/><path d="M753.4 1009.3l3.2 5h-6.4z"/></g><g class="ps"><circle cx="797.4" cy="1045.9" r="2.1"/><circle cx="794" cy="1045.8" r="2.1"/><circle cx="797.3" cy="1045.8" r="2.1"/><circle cx="793.9" cy="1045.8" r="2.1"/><circle cx="794.1" cy="1045.7" r="2.1"/><circle cx="793.9" cy="1045.7" r="2.1"/><circle cx="796.8" cy="1045.6" r="2.1"/><circle cx="793.8" cy="1045.6" r="2.1"/><circle cx="795.5" cy="1045.6" r="2.1"/><circle cx="796" cy="1045.6" r="2.1"/><circle cx="799.9" cy="1045.5" r="2.1"/><circle cx="798.5" cy="1045.4" r="2.1"/><circle cx="797.1" cy="1045.4" r="2.1"/><circle cx="798.1" cy="1045.4" r="2.1"/><circle cx="793.1" cy="1045.4" r="2.1"/><circle cx="795.6" cy="1045.3" r="2.1"/><circle cx="795" cy="1045.3" r="2.1"/><circle cx="797.6" cy="1045.3" r="2.1"/><circle cx="793.9" cy="1045.1" r="2.1"/><circle cx="799.6" cy="1044.8" r="2.1"/><circle cx="795.3" cy="1044.5" r="2.1"/><circle cx="799.1" cy="1043.9" r="2.1"/><circle cx="798.9" cy="1043.9" r="2.1"/><circle cx="796.3" cy="1043.7" r="2.1"/><circle cx="793" cy="1043.7" r="2.1"/><circle cx="793.8" cy="1043.4" r="2.1"/><circle cx="795.7" cy="1043" r="2.1"/><circle cx="798.2" cy="1042.8" r="2.1"/><circle cx="796.3" cy="1042.5" r="2.1"/><circle cx="799.6" cy="1042.3" r="2.1"/><circle cx="799.3" cy="1040.5" r="2.1"/><circle cx="795.3" cy="1040.2" r="2.1"/><circle cx="799.9" cy="1040" r="2.1"/><circle cx="796.7" cy="1039.9" r="2.1"/><circle cx="793.5" cy="1039.8" r="2.1"/><circle cx="793.3" cy="1035.6" r="2.1"/><circle cx="795.6" cy="1034.6" r="2.1"/><circle cx="795.9" cy="1032" r="2.1"/><circle cx="794.3" cy="1031.5" r="2.1"/><circle cx="799.3" cy="1029.1" r="2.1"/><circle cx="795.2" cy="1027.6" r="2.1"/><circle cx="798.4" cy="1024.6" r="2.1"/><circle cx="794.5" cy="1018.9" r="2.1"/><circle cx="796" cy="1017.9" r="2.1"/><circle cx="795.7" cy="1014.9" r="2.1"/><circle cx="798.4" cy="884.6" r="2.1"/><circle cx="795.6" cy="940" r="2.1"/><circle cx="794.6" cy="985.6" r="2.1"/><circle cx="798.9" cy="987.2" r="2.1"/><circle cx="797.6" cy="995.4" r="2.1"/><circle cx="794.2" cy="1003.5" r="2.1"/><circle cx="794.7" cy="1005.2" r="2.1"/><circle cx="793.7" cy="1013.3" r="2.1"/><circle cx="798.8" cy="1014.9" r="2.1"/></g><g fill="none" stroke="#2a2a2a" stroke-width="1.15" stroke-opacity="0.5"><path d="M829 1043.5l3.2 5h-6.4z"/><path d="M828.8 1043.5l3.2 5h-6.4z"/><path d="M828.2 1043.5l3.2 5h-6.4z"/><path d="M827.7 1043.4l3.2 5h-6.4z"/><path d="M829.5 1043.4l3.2 5h-6.4z"/><path d="M826.3 1043.4l3.2 5h-6.4z"/><path d="M829.2 1043.3l3.2 5h-6.4z"/><path d="M823.4 1043.3l3.2 5h-6.4z"/><path d="M827.8 1043.3l3.2 5h-6.4z"/><path d="M823.6 1043.3l3.2 5h-6.4z"/><path d="M825.4 1043.2l3.2 5h-6.4z"/><path d="M826.9 1043.2l3.2 5h-6.4z"/><path d="M827.6 1043.1l3.2 5h-6.4z"/><path d="M827.6 1043.1l3.2 5h-6.4z"/><path d="M824.1 1043.1l3.2 5h-6.4z"/><path d="M823.4 1043l3.2 5h-6.4z"/><path d="M823.8 1042.9l3.2 5h-6.4z"/><path d="M827.1 1042.9l3.2 5h-6.4z"/><path d="M824.1 1042.8l3.2 5h-6.4z"/><path d="M829.2 1042.8l3.2 5h-6.4z"/><path d="M827.6 1042.7l3.2 5h-6.4z"/><path d="M824.9 1042.7l3.2 5h-6.4z"/><path d="M827.2 1042.6l3.2 5h-6.4z"/><path d="M823.3 1042.5l3.2 5h-6.4z"/><path d="M827 1042.5l3.2 5h-6.4z"/><path d="M823.9 1042.5l3.2 5h-6.4z"/><path d="M827.2 1042.2l3.2 5h-6.4z"/><path d="M824.8 1042.1l3.2 5h-6.4z"/><path d="M826.7 1042.1l3.2 5h-6.4z"/><path d="M827.7 1042l3.2 5h-6.4z"/><path d="M824.3 1041.8l3.2 5h-6.4z"/><path d="M823.2 1041.8l3.2 5h-6.4z"/><path d="M823.8 1041.8l3.2 5h-6.4z"/><path d="M828.7 1041.5l3.2 5h-6.4z"/><path d="M829.5 1041.5l3.2 5h-6.4z"/><path d="M826.8 1041.4l3.2 5h-6.4z"/><path d="M823.4 1041.4l3.2 5h-6.4z"/><path d="M827 1041.2l3.2 5h-6.4z"/><path d="M825.2 1041.2l3.2 5h-6.4z"/><path d="M824 1041.2l3.2 5h-6.4z"/><path d="M828 1041.2l3.2 5h-6.4z"/><path d="M828.9 1041l3.2 5h-6.4z"/><path d="M826.5 1041l3.2 5h-6.4z"/><path d="M826.8 1040.8l3.2 5h-6.4z"/><path d="M829.4 1040.6l3.2 5h-6.4z"/><path d="M822.8 1040.3l3.2 5h-6.4z"/><path d="M828.8 1040.2l3.2 5h-6.4z"/><path d="M829.3 1040.1l3.2 5h-6.4z"/><path d="M828.7 1039.8l3.2 5h-6.4z"/><path d="M826.7 1039.3l3.2 5h-6.4z"/><path d="M829 1038.8l3.2 5h-6.4z"/><path d="M826.3 1038.8l3.2 5h-6.4z"/><path d="M825.4 1038.7l3.2 5h-6.4z"/><path d="M826.3 1038.6l3.2 5h-6.4z"/><path d="M823.1 1038.4l3.2 5h-6.4z"/><path d="M823 1038.3l3.2 5h-6.4z"/><path d="M826.4 1038.1l3.2 5h-6.4z"/><path d="M826.9 1037.6l3.2 5h-6.4z"/><path d="M823.3 1037.6l3.2 5h-6.4z"/><path d="M828.1 1037.5l3.2 5h-6.4z"/><path d="M823.9 1036.8l3.2 5h-6.4z"/><path d="M824.3 1036.6l3.2 5h-6.4z"/><path d="M826.1 1036.4l3.2 5h-6.4z"/><path d="M828.2 1036.4l3.2 5h-6.4z"/><path d="M826.2 1036.3l3.2 5h-6.4z"/><path d="M829.1 1036.3l3.2 5h-6.4z"/><path d="M828.1 1036.1l3.2 5h-6.4z"/><path d="M826.7 1035.9l3.2 5h-6.4z"/><path d="M828.9 1035.8l3.2 5h-6.4z"/><path d="M825.2 1035.6l3.2 5h-6.4z"/><path d="M826.9 1035.4l3.2 5h-6.4z"/><path d="M827.3 1034.8l3.2 5h-6.4z"/><path d="M823.4 1034.7l3.2 5h-6.4z"/><path d="M824.6 1034.5l3.2 5h-6.4z"/><path d="M829.7 1033.8l3.2 5h-6.4z"/><path d="M824.9 1033.7l3.2 5h-6.4z"/><path d="M829.2 1033.5l3.2 5h-6.4z"/><path d="M823.2 1033.2l3.2 5h-6.4z"/><path d="M824.5 1032.7l3.2 5h-6.4z"/><path d="M824.4 1032.2l3.2 5h-6.4z"/><path d="M822.8 1031.8l3.2 5h-6.4z"/><path d="M827.9 1031.7l3.2 5h-6.4z"/><path d="M824.4 1031.6l3.2 5h-6.4z"/><path d="M826.9 1031.4l3.2 5h-6.4z"/><path d="M823.5 1030.6l3.2 5h-6.4z"/><path d="M826.8 1030l3.2 5h-6.4z"/><path d="M826.3 1028.8l3.2 5h-6.4z"/><path d="M826.1 1028.4l3.2 5h-6.4z"/><path d="M828.3 1027.5l3.2 5h-6.4z"/><path d="M825.3 1027.2l3.2 5h-6.4z"/><path d="M827.8 971.8l3.2 5h-6.4z"/><path d="M828.4 991.4l3.2 5h-6.4z"/><path d="M824.5 997.9l3.2 5h-6.4z"/><path d="M824.9 999.5l3.2 5h-6.4z"/><path d="M827.1 1002.8l3.2 5h-6.4z"/><path d="M824.1 1009.3l3.2 5h-6.4z"/><path d="M822.8 1012.5l3.2 5h-6.4z"/><path d="M827.1 1019.1l3.2 5h-6.4z"/><path d="M827.7 1022.3l3.2 5h-6.4z"/></g><g class="ps"><circle cx="869.6" cy="1045.9" r="2.1"/><circle cx="870.7" cy="1043.1" r="2.1"/><circle cx="869.4" cy="1040.5" r="2.1"/><circle cx="873.4" cy="1040.4" r="2.1"/><circle cx="874.6" cy="1040.3" r="2.1"/><circle cx="869.9" cy="1040.2" r="2.1"/><circle cx="872.5" cy="1038.9" r="2.1"/><circle cx="868.6" cy="1038.7" r="2.1"/><circle cx="873.2" cy="1033.9" r="2.1"/><circle cx="869.4" cy="1033.8" r="2.1"/><circle cx="870.6" cy="1028.4" r="2.1"/><circle cx="872.3" cy="1027.1" r="2.1"/><circle cx="871.6" cy="1026.8" r="2.1"/><circle cx="873.8" cy="1026.3" r="2.1"/><circle cx="868.6" cy="1024.6" r="2.1"/><circle cx="869.9" cy="1024.5" r="2.1"/><circle cx="869.8" cy="1023.6" r="2.1"/><circle cx="871.1" cy="1022.6" r="2.1"/><circle cx="874.3" cy="1018.8" r="2.1"/><circle cx="875.1" cy="1014.3" r="2.1"/><circle cx="875.1" cy="1009.7" r="2.1"/><circle cx="869.7" cy="1007.4" r="2.1"/><circle cx="869.8" cy="1002.2" r="2.1"/><circle cx="870.4" cy="996.7" r="2.1"/><circle cx="872.5" cy="968.6" r="2.1"/><circle cx="874.2" cy="966.5" r="2.1"/><circle cx="872" cy="966.1" r="2.1"/><circle cx="868.7" cy="951.3" r="2.1"/><circle cx="873.2" cy="944.4" r="2.1"/><circle cx="872.7" cy="938.4" r="2.1"/><circle cx="871" cy="879.7" r="2.1"/><circle cx="872.2" cy="907.4" r="2.1"/></g><g fill="none" stroke="#2a2a2a" stroke-width="1.15" stroke-opacity="0.5"><path d="M900.4 1043.5l3.2 5h-6.4z"/><path d="M899.3 1043.4l3.2 5h-6.4z"/><path d="M901.3 1043.4l3.2 5h-6.4z"/><path d="M900.1 1043.4l3.2 5h-6.4z"/><path d="M901.2 1043.4l3.2 5h-6.4z"/><path d="M899.5 1043.3l3.2 5h-6.4z"/><path d="M901.3 1043.3l3.2 5h-6.4z"/><path d="M904.9 1043.3l3.2 5h-6.4z"/><path d="M898.6 1043.2l3.2 5h-6.4z"/><path d="M902.5 1043.1l3.2 5h-6.4z"/><path d="M901.4 1043.1l3.2 5h-6.4z"/><path d="M904.4 1043l3.2 5h-6.4z"/><path d="M903.9 1043l3.2 5h-6.4z"/><path d="M901.7 1043l3.2 5h-6.4z"/><path d="M900.3 1043l3.2 5h-6.4z"/><path d="M905.1 1043l3.2 5h-6.4z"/><path d="M904.2 1042.9l3.2 5h-6.4z"/><path d="M904.7 1042.9l3.2 5h-6.4z"/><path d="M899.1 1042.9l3.2 5h-6.4z"/><path d="M901.3 1042.8l3.2 5h-6.4z"/><path d="M901.8 1042.7l3.2 5h-6.4z"/><path d="M900.6 1042.7l3.2 5h-6.4z"/><path d="M900.1 1042.7l3.2 5h-6.4z"/><path d="M900.8 1042.6l3.2 5h-6.4z"/><path d="M899.7 1042.6l3.2 5h-6.4z"/><path d="M905.2 1042.4l3.2 5h-6.4z"/><path d="M904.8 1042.4l3.2 5h-6.4z"/><path d="M902.8 1042.4l3.2 5h-6.4z"/><path d="M902.5 1042.4l3.2 5h-6.4z"/><path d="M905.4 1042.3l3.2 5h-6.4z"/><path d="M902 1042.3l3.2 5h-6.4z"/><path d="M903.8 1042.3l3.2 5h-6.4z"/><path d="M898.7 1042.2l3.2 5h-6.4z"/><path d="M901.5 1042.1l3.2 5h-6.4z"/><path d="M899.8 1042.1l3.2 5h-6.4z"/><path d="M899.1 1042.1l3.2 5h-6.4z"/><path d="M904.4 1042.1l3.2 5h-6.4z"/><path d="M903.6 1042l3.2 5h-6.4z"/><path d="M901 1041.9l3.2 5h-6.4z"/><path d="M899.4 1041.9l3.2 5h-6.4z"/><path d="M904.1 1041.6l3.2 5h-6.4z"/><path d="M901 1041.6l3.2 5h-6.4z"/><path d="M904 1041l3.2 5h-6.4z"/><path d="M902.7 1040.2l3.2 5h-6.4z"/><path d="M903.5 1040.1l3.2 5h-6.4z"/><path d="M902.7 1040.1l3.2 5h-6.4z"/><path d="M905.2 1040l3.2 5h-6.4z"/><path d="M900.2 1039.4l3.2 5h-6.4z"/><path d="M904.6 1039l3.2 5h-6.4z"/><path d="M902.9 1038.9l3.2 5h-6.4z"/><path d="M903.4 1038.9l3.2 5h-6.4z"/><path d="M905.4 1038.8l3.2 5h-6.4z"/><path d="M898.7 1038.6l3.2 5h-6.4z"/><path d="M900.4 1038.6l3.2 5h-6.4z"/><path d="M903.6 1038.5l3.2 5h-6.4z"/><path d="M904 1038.5l3.2 5h-6.4z"/><path d="M900.2 1038.3l3.2 5h-6.4z"/><path d="M901.8 1038l3.2 5h-6.4z"/><path d="M904.5 1037.9l3.2 5h-6.4z"/><path d="M905.3 1037.9l3.2 5h-6.4z"/><path d="M905.3 1037.4l3.2 5h-6.4z"/><path d="M900 1037.4l3.2 5h-6.4z"/><path d="M901.2 1037.2l3.2 5h-6.4z"/><path d="M901.5 1037.1l3.2 5h-6.4z"/><path d="M901.9 1036.9l3.2 5h-6.4z"/><path d="M904.5 1036.9l3.2 5h-6.4z"/><path d="M901.9 1035.9l3.2 5h-6.4z"/><path d="M900.6 1035.8l3.2 5h-6.4z"/><path d="M902.9 1035.8l3.2 5h-6.4z"/><path d="M904 1033l3.2 5h-6.4z"/><path d="M902.7 1031.9l3.2 5h-6.4z"/><path d="M905 1030.7l3.2 5h-6.4z"/><path d="M905.4 1028.2l3.2 5h-6.4z"/><path d="M903.7 1027.9l3.2 5h-6.4z"/><path d="M904.7 1024.8l3.2 5h-6.4z"/><path d="M899.1 1024.3l3.2 5h-6.4z"/><path d="M902.6 1024.2l3.2 5h-6.4z"/><path d="M898.7 1023.8l3.2 5h-6.4z"/><path d="M900.4 1023.6l3.2 5h-6.4z"/><path d="M903 1023l3.2 5h-6.4z"/><path d="M903.3 1022.7l3.2 5h-6.4z"/><path d="M904.3 1021.9l3.2 5h-6.4z"/><path d="M904.4 1021.9l3.2 5h-6.4z"/><path d="M900.4 1021.3l3.2 5h-6.4z"/><path d="M901.6 1021l3.2 5h-6.4z"/><path d="M903.9 1020.5l3.2 5h-6.4z"/><path d="M900 1018.6l3.2 5h-6.4z"/><path d="M904.7 1018.5l3.2 5h-6.4z"/><path d="M898.7 1018.4l3.2 5h-6.4z"/><path d="M901.1 1016.2l3.2 5h-6.4z"/><path d="M898.8 1015.8l3.2 5h-6.4z"/><path d="M900.5 1015.3l3.2 5h-6.4z"/><path d="M904.4 1015l3.2 5h-6.4z"/><path d="M905.4 1015l3.2 5h-6.4z"/><path d="M901.5 1013.8l3.2 5h-6.4z"/><path d="M900.2 1013.6l3.2 5h-6.4z"/><path d="M900.8 1012.4l3.2 5h-6.4z"/><path d="M904.4 1011.9l3.2 5h-6.4z"/><path d="M899.9 1010.5l3.2 5h-6.4z"/><path d="M903.9 1008.3l3.2 5h-6.4z"/><path d="M900.7 1008.3l3.2 5h-6.4z"/><path d="M900.2 1007.4l3.2 5h-6.4z"/><path d="M904.8 1007.2l3.2 5h-6.4z"/><path d="M900 1005.3l3.2 5h-6.4z"/><path d="M905.1 1002.1l3.2 5h-6.4z"/><path d="M901.6 998.3l3.2 5h-6.4z"/><path d="M905.5 997.4l3.2 5h-6.4z"/><path d="M903.6 993.1l3.2 5h-6.4z"/><path d="M904.3 991.8l3.2 5h-6.4z"/><path d="M902.3 987.2l3.2 5h-6.4z"/><path d="M905.3 983.8l3.2 5h-6.4z"/><path d="M903.5 981.4l3.2 5h-6.4z"/><path d="M901.6 979.8l3.2 5h-6.4z"/><path d="M898.9 979.3l3.2 5h-6.4z"/><path d="M899.8 978.1l3.2 5h-6.4z"/><path d="M904.6 973.7l3.2 5h-6.4z"/><path d="M905.1 973.5l3.2 5h-6.4z"/><path d="M898.7 966.2l3.2 5h-6.4z"/><path d="M901.4 965.7l3.2 5h-6.4z"/><path d="M901.6 957.1l3.2 5h-6.4z"/><path d="M899.6 867.5l3.2 5h-6.4z"/><path d="M898.7 877.3l3.2 5h-6.4z"/><path d="M904.5 893.6l3.2 5h-6.4z"/><path d="M904.3 929.4l3.2 5h-6.4z"/><path d="M904.7 931.1l3.2 5h-6.4z"/><path d="M900.6 932.7l3.2 5h-6.4z"/><path d="M904.7 936l3.2 5h-6.4z"/><path d="M905.3 939.2l3.2 5h-6.4z"/><path d="M904.1 942.5l3.2 5h-6.4z"/><path d="M900.9 945.7l3.2 5h-6.4z"/><path d="M901.1 949l3.2 5h-6.4z"/><path d="M902 952.2l3.2 5h-6.4z"/></g><g class="ps"><circle cx="948" cy="1045.9" r="2.1"/><circle cx="946.9" cy="1045.9" r="2.1"/><circle cx="946" cy="1045.9" r="2.1"/><circle cx="948.5" cy="1045.9" r="2.1"/><circle cx="945.8" cy="1045.9" r="2.1"/><circle cx="947" cy="1045.5" r="2.1"/><circle cx="944.9" cy="1043.6" r="2.1"/><circle cx="949.2" cy="1040.6" r="2.1"/><circle cx="948.7" cy="1039.2" r="2.1"/><circle cx="949.3" cy="1039.1" r="2.1"/><circle cx="950.4" cy="1038.4" r="2.1"/><circle cx="948.3" cy="1032.9" r="2.1"/><circle cx="947.1" cy="1027.6" r="2.1"/><circle cx="946.3" cy="1025.2" r="2.1"/><circle cx="948.1" cy="1016.3" r="2.1"/><circle cx="947.6" cy="1015.9" r="2.1"/><circle cx="947.6" cy="1015" r="2.1"/><circle cx="946.4" cy="1013.3" r="2.1"/><circle cx="945.9" cy="863.4" r="2.1"/><circle cx="950.1" cy="972.6" r="2.1"/><circle cx="951.3" cy="974.2" r="2.1"/></g><g fill="none" stroke="#2a2a2a" stroke-width="1.15" stroke-opacity="0.5"><path d="M978.1 1043.5l3.2 5h-6.4z"/><path d="M978.9 1043.2l3.2 5h-6.4z"/><path d="M980.8 1042.9l3.2 5h-6.4z"/><path d="M976.3 1042.5l3.2 5h-6.4z"/><path d="M976.3 1041.3l3.2 5h-6.4z"/><path d="M981.4 1040.7l3.2 5h-6.4z"/><path d="M978.1 1040.6l3.2 5h-6.4z"/><path d="M974.7 1039l3.2 5h-6.4z"/><path d="M979.8 1034.8l3.2 5h-6.4z"/><path d="M978.5 1034.4l3.2 5h-6.4z"/><path d="M974.8 1031.3l3.2 5h-6.4z"/><path d="M977.1 1028.5l3.2 5h-6.4z"/><path d="M978.7 1028.4l3.2 5h-6.4z"/><path d="M980.6 1025.7l3.2 5h-6.4z"/><path d="M979.1 1021.3l3.2 5h-6.4z"/><path d="M979 1018.1l3.2 5h-6.4z"/><path d="M979.7 1016.9l3.2 5h-6.4z"/><path d="M977.4 1013.6l3.2 5h-6.4z"/><path d="M980.2 1013.6l3.2 5h-6.4z"/><path d="M979.6 1013.4l3.2 5h-6.4z"/><path d="M975.2 1012.9l3.2 5h-6.4z"/><path d="M979.6 1010.9l3.2 5h-6.4z"/><path d="M980.8 978.3l3.2 5h-6.4z"/><path d="M981.1 979.9l3.2 5h-6.4z"/><path d="M977.6 983.2l3.2 5h-6.4z"/><path d="M975.4 1009.3l3.2 5h-6.4z"/><path d="M978.5 1014.2l3.2 5h-6.4z"/></g><path d="M690 655.5L690 1046.5" stroke="#000" stroke-width="1.3"/><path d="M686.5 1045.9h3.5M686.5 964.4h3.5M686.5 883h3.5M686.5 801.5h3.5M686.5 720h3.5" stroke="#000" stroke-width="1.2"/><text x="683.7" y="1051.7" text-anchor="end" style="font-size:16px">0</text><text x="683.7" y="970.2" text-anchor="end" style="font-size:16px">25</text><text x="683.7" y="888.7" text-anchor="end" style="font-size:16px">50</text><text x="683.7" y="807.2" text-anchor="end" style="font-size:16px">75</text><text x="683.7" y="725.8" text-anchor="end" style="font-size:16px">100</text><path d="M689.4 1045.9L1008 1045.9" stroke="#000" stroke-width="1.3"/><path d="M735.5 1045.9v3.5M811.4 1045.9v3.5M887 1045.9v3.5M963 1045.9v3.5" stroke="#000" stroke-width="1.2"/><text x="747" y="1065.2" text-anchor="end" style="font-size:20.7px" transform="rotate(-24.5 747 1065.2)">NPC</text><text x="822.9" y="1065.2" text-anchor="end" style="font-size:20.7px" transform="rotate(-24.5 822.9 1065.2)">OP</text><text x="906.2" y="1063.9" text-anchor="end" style="font-size:20.7px" transform="rotate(-24.5 906.2 1063.9)">SARS−CoV−2−P</text><text x="975.6" y="1065.4" text-anchor="end" style="font-size:20.7px" transform="rotate(-24.5 975.6 1065.4)">OVP</text><text x="654.4" y="835.9" text-anchor="middle" style="font-size:19.5px" transform="rotate(-90 654.4 835.9)">Percent of total cells</text><path d="M871.7 687L947.9 687" stroke="#000" stroke-width="1.25"/><text x="909.8" y="683.5" text-anchor="middle" style="font-size:16.7px">1.81e−02</text><path d="M871.7 719.7L902 719.7" stroke="#000" stroke-width="1.25"/><text x="886.9" y="716.2" text-anchor="middle" style="font-size:16.7px">2.92e−03</text><path d="M720 752.4L871.7 752.4" stroke="#000" stroke-width="1.25"/><text x="795.9" y="748.9" text-anchor="middle" style="font-size:16.7px">2.44e−03</text><path d="M826.3 784.6L978 784.6" stroke="#000" stroke-width="1.25"/><text x="902.1" y="781.1" text-anchor="middle" style="font-size:16.7px">1.35e−05</text><path d="M796.3 817.7L871.7 817.7" stroke="#000" stroke-width="1.25"/><text x="834" y="814.2" text-anchor="middle" style="font-size:16.7px">1.61e−07</text><path d="M826.3 849.6L902 849.6" stroke="#000" stroke-width="1.25"/><text x="864.1" y="846.1" text-anchor="middle" style="font-size:16.7px">8.38e−10</text><text x="997.8" y="665.7" style="font-size:20.5px">Diagnosis</text><rect x="1001.8" y="678.1" width="11.6" height="10.7" fill="#1170b8"/><text x="1026.8" y="688.9" style="font-size:17.1px">NPC</text><rect x="1001.8" y="698.2" width="11.6" height="10.7" fill="#e88a2b"/><text x="1026.8" y="709" style="font-size:17.1px">OP</text><rect x="1001.8" y="718.2" width="11.6" height="10.7" fill="#c53e2c"/><text x="1026.8" y="729" style="font-size:17.1px">SARS−CoV−2−P</text><rect x="1001.8" y="738.3" width="11.6" height="10.7" fill="#1f8a4f"/><text x="1026.8" y="749.1" style="font-size:17.1px">OVP</text><text x="997.8" y="778.7" style="font-size:20.8px">Timing of BAL</text><text x="997.8" y="795.7" style="font-size:20.8px">relative to intubation</text><rect x="996.8" y="805.3" width="21" height="19.8" fill="#fff" stroke="#c8c8c8" stroke-width="0.9"/><rect x="996.8" y="825.1" width="21" height="19.8" fill="#fff" stroke="#c8c8c8" stroke-width="0.9"/><circle cx="1007.3" cy="815.2" r="2.6" fill="none" stroke="#000" stroke-width="1.1"/><path d="M1007.3 832l3 5h-6z" fill="none" stroke="#000" stroke-width="1.1"/><text x="1026.8" y="820.5" style="font-size:17.1px">≤ 48hrs</text><text x="1026.8" y="840.1" style="font-size:17.1px">&gt; 48hrs</text><text transform="translate(1221 648) scale(0.9 1)" style="font-size:35.5px;font-weight:bold;stroke:#000;stroke-width:0.5px">j</text><path d="M1315 1043.4V1045M1315 1046.4V1046.6" stroke="#333" stroke-width="1.3"/><rect x="1305" y="1045" width="20" height="1.4" fill="#1170b8" stroke="#333" stroke-width="1.3"/><path d="M1305 1046h20" stroke="#333" stroke-width="2.6"/><path d="M1345 1041.8V1044.2M1345 1046.4V1046.6" stroke="#333" stroke-width="1.3"/><rect x="1335.5" y="1044.2" width="19" height="2.2" fill="#94c1e2" stroke="#2a2a2a" stroke-width="2.5"/><path d="M1335.5 1045.8h19" stroke="#333" stroke-width="2.8"/><path d="M1393 1042.6V1045M1393 1046.4V1046.6" stroke="#333" stroke-width="1.3"/><rect x="1383" y="1045" width="20" height="1.4" fill="#e88a2b" stroke="#333" stroke-width="1.3"/><path d="M1383 1045.8h20" stroke="#333" stroke-width="2.6"/><path d="M1424.7 1041V1044.2M1424.7 1046.2V1046.6" stroke="#333" stroke-width="1.3"/><rect x="1415.2" y="1044.2" width="19" height="2" fill="#f5cf9f" stroke="#2a2a2a" stroke-width="2.5"/><path d="M1415.2 1045.4h19" stroke="#333" stroke-width="2.8"/><path d="M1471.6 1014.8V1025.1M1471.6 1042.6V1046.6" stroke="#333" stroke-width="1.3"/><rect x="1461.6" y="1025.1" width="20" height="17.5" fill="#c53e2c" stroke="#333" stroke-width="1.3"/><path d="M1461.6 1036.3h20" stroke="#333" stroke-width="2.6"/><path d="M1503 1028.3V1038.6M1503 1045.8V1046.6" stroke="#333" stroke-width="1.3"/><rect x="1493.5" y="1038.6" width="19" height="7.2" fill="#eeaea5" stroke="#2a2a2a" stroke-width="2.5"/><path d="M1493.5 1043.4h19" stroke="#333" stroke-width="2.8"/><path d="M1550.4 1045V1045.8M1550.4 1046.5V1046.6" stroke="#333" stroke-width="1.3"/><rect x="1540.4" y="1045.8" width="20" height="0.7" fill="#1f8a4f" stroke="#333" stroke-width="1.3"/><path d="M1540.4 1046.2h20" stroke="#333" stroke-width="2.6"/><path d="M1581.5 1044.2V1045.4M1581.5 1046.4V1046.6" stroke="#333" stroke-width="1.3"/><rect x="1572" y="1045.4" width="19" height="1" fill="#9fd1b4" stroke="#2a2a2a" stroke-width="2.5"/><path d="M1572 1046.1h19" stroke="#333" stroke-width="2.8"/><g class="ps"><circle cx="1315.9" cy="1046.6" r="2.1"/><circle cx="1315.2" cy="1046.4" r="2.1"/><circle cx="1317.1" cy="1046.2" r="2.1"/><circle cx="1313.4" cy="1046.2" r="2.1"/><circle cx="1311.9" cy="1046" r="2.1"/><circle cx="1312.6" cy="1045.9" r="2.1"/><circle cx="1314.5" cy="1045.7" r="2.1"/><circle cx="1316.4" cy="1045.6" r="2.1"/><circle cx="1312.6" cy="1045.6" r="2.1"/><circle cx="1314.4" cy="1045.2" r="2.1"/><circle cx="1315.9" cy="1045.2" r="2.1"/><circle cx="1312.9" cy="1045" r="2.1"/><circle cx="1316" cy="1045" r="2.1"/><circle cx="1316.1" cy="1044.8" r="2.1"/><circle cx="1313.1" cy="1043.4" r="2.1"/><circle cx="1317.7" cy="1027.5" r="2.1"/><circle cx="1318.2" cy="1039.4" r="2.1"/><circle cx="1318" cy="1041" r="2.1"/></g><g fill="none" stroke="#2a2a2a" stroke-width="1.15" stroke-opacity="0.5"><path d="M1343.2 1044.2l3.2 5h-6.4z"/><path d="M1342.4 1044.1l3.2 5h-6.4z"/><path d="M1342.3 1044.1l3.2 5h-6.4z"/><path d="M1346.9 1044.1l3.2 5h-6.4z"/><path d="M1343.4 1044.1l3.2 5h-6.4z"/><path d="M1347.8 1044.1l3.2 5h-6.4z"/><path d="M1341.6 1044l3.2 5h-6.4z"/><path d="M1343.7 1043.9l3.2 5h-6.4z"/><path d="M1343.6 1043.9l3.2 5h-6.4z"/><path d="M1344.3 1043.1l3.2 5h-6.4z"/><path d="M1345.6 1042.7l3.2 5h-6.4z"/><path d="M1345 1042.4l3.2 5h-6.4z"/><path d="M1343.9 1042.2l3.2 5h-6.4z"/><path d="M1343.9 1041.2l3.2 5h-6.4z"/><path d="M1346.5 1039.4l3.2 5h-6.4z"/><path d="M1343.7 979.8l3.2 5h-6.4z"/><path d="M1346.4 1024.3l3.2 5h-6.4z"/><path d="M1345 1033.9l3.2 5h-6.4z"/><path d="M1343.2 1037.8l3.2 5h-6.4z"/></g><g class="ps"><circle cx="1394.3" cy="1046.6" r="2.1"/><circle cx="1396.2" cy="1046.5" r="2.1"/><circle cx="1396.3" cy="1046.5" r="2.1"/><circle cx="1393.5" cy="1046.5" r="2.1"/><circle cx="1391.3" cy="1046.5" r="2.1"/><circle cx="1393.4" cy="1046.5" r="2.1"/><circle cx="1391.6" cy="1046.5" r="2.1"/><circle cx="1393.1" cy="1046.5" r="2.1"/><circle cx="1394.8" cy="1046.4" r="2.1"/><circle cx="1394.6" cy="1046.4" r="2.1"/><circle cx="1392.7" cy="1046.3" r="2.1"/><circle cx="1391.6" cy="1046.3" r="2.1"/><circle cx="1389.7" cy="1046.2" r="2.1"/><circle cx="1395.5" cy="1046.2" r="2.1"/><circle cx="1395.3" cy="1046.2" r="2.1"/><circle cx="1393.7" cy="1046.2" r="2.1"/><circle cx="1395.2" cy="1046.1" r="2.1"/><circle cx="1390.9" cy="1046.1" r="2.1"/><circle cx="1394.1" cy="1046.1" r="2.1"/><circle cx="1391.5" cy="1046" r="2.1"/><circle cx="1395.3" cy="1046" r="2.1"/><circle cx="1392.3" cy="1046" r="2.1"/><circle cx="1392.9" cy="1045.9" r="2.1"/><circle cx="1392.1" cy="1045.9" r="2.1"/><circle cx="1392.5" cy="1045.8" r="2.1"/><circle cx="1395.6" cy="1045.8" r="2.1"/><circle cx="1396.3" cy="1045.8" r="2.1"/><circle cx="1391.4" cy="1045.7" r="2.1"/><circle cx="1395.1" cy="1045.7" r="2.1"/><circle cx="1396.2" cy="1045.5" r="2.1"/><circle cx="1393.1" cy="1045.4" r="2.1"/><circle cx="1393.7" cy="1045.4" r="2.1"/><circle cx="1395.3" cy="1045.3" r="2.1"/><circle cx="1394.1" cy="1045.1" r="2.1"/><circle cx="1393.3" cy="1045.1" r="2.1"/><circle cx="1395.8" cy="1045" r="2.1"/><circle cx="1393.4" cy="1045" r="2.1"/><circle cx="1395" cy="1044.8" r="2.1"/><circle cx="1395.9" cy="1044.8" r="2.1"/><circle cx="1391.7" cy="1044.3" r="2.1"/><circle cx="1395.3" cy="1044.2" r="2.1"/><circle cx="1390.8" cy="1044" r="2.1"/><circle cx="1393.3" cy="1043.6" r="2.1"/><circle cx="1394.1" cy="1043.3" r="2.1"/><circle cx="1395.5" cy="1042.6" r="2.1"/><circle cx="1391.7" cy="990.9" r="2.1"/><circle cx="1396.3" cy="1019.5" r="2.1"/><circle cx="1394.8" cy="1032.3" r="2.1"/><circle cx="1396" cy="1034.7" r="2.1"/><circle cx="1391.3" cy="1035.5" r="2.1"/><circle cx="1393.3" cy="1037.1" r="2.1"/><circle cx="1392.7" cy="1038.6" r="2.1"/><circle cx="1396.2" cy="1039.4" r="2.1"/></g><g fill="none" stroke="#2a2a2a" stroke-width="1.15" stroke-opacity="0.5"><path d="M1421.4 1044.2l3.2 5h-6.4z"/><path d="M1424.5 1044.1l3.2 5h-6.4z"/><path d="M1427.1 1044.1l3.2 5h-6.4z"/><path d="M1422.9 1044.1l3.2 5h-6.4z"/><path d="M1425.3 1044.1l3.2 5h-6.4z"/><path d="M1422.9 1044.1l3.2 5h-6.4z"/><path d="M1428 1044.1l3.2 5h-6.4z"/><path d="M1422.9 1044.1l3.2 5h-6.4z"/><path d="M1422.7 1044.1l3.2 5h-6.4z"/><path d="M1425.5 1044.1l3.2 5h-6.4z"/><path d="M1423.2 1044.1l3.2 5h-6.4z"/><path d="M1427.2 1044.1l3.2 5h-6.4z"/><path d="M1426.6 1044.1l3.2 5h-6.4z"/><path d="M1426 1044.1l3.2 5h-6.4z"/><path d="M1427.9 1044.1l3.2 5h-6.4z"/><path d="M1424.2 1044l3.2 5h-6.4z"/><path d="M1421.5 1044l3.2 5h-6.4z"/><path d="M1423.4 1044l3.2 5h-6.4z"/><path d="M1423 1044l3.2 5h-6.4z"/><path d="M1422.4 1044l3.2 5h-6.4z"/><path d="M1424 1044l3.2 5h-6.4z"/><path d="M1421.6 1044l3.2 5h-6.4z"/><path d="M1421.2 1043.9l3.2 5h-6.4z"/><path d="M1424.9 1043.9l3.2 5h-6.4z"/><path d="M1422.2 1043.9l3.2 5h-6.4z"/><path d="M1427 1043.9l3.2 5h-6.4z"/><path d="M1422 1043.9l3.2 5h-6.4z"/><path d="M1421.9 1043.9l3.2 5h-6.4z"/><path d="M1425.3 1043.9l3.2 5h-6.4z"/><path d="M1426.8 1043.8l3.2 5h-6.4z"/><path d="M1426.7 1043.8l3.2 5h-6.4z"/><path d="M1427.2 1043.8l3.2 5h-6.4z"/><path d="M1424.4 1043.7l3.2 5h-6.4z"/><path d="M1422.9 1043.6l3.2 5h-6.4z"/><path d="M1421.4 1043.6l3.2 5h-6.4z"/><path d="M1427.8 1043.6l3.2 5h-6.4z"/><path d="M1425.3 1043.5l3.2 5h-6.4z"/><path d="M1427.8 1043.5l3.2 5h-6.4z"/><path d="M1427.1 1043.5l3.2 5h-6.4z"/><path d="M1425.8 1043.5l3.2 5h-6.4z"/><path d="M1426.6 1043.5l3.2 5h-6.4z"/><path d="M1422.4 1043.5l3.2 5h-6.4z"/><path d="M1427.5 1043.4l3.2 5h-6.4z"/><path d="M1427.2 1043.3l3.2 5h-6.4z"/><path d="M1424.5 1043.3l3.2 5h-6.4z"/><path d="M1424.3 1043.2l3.2 5h-6.4z"/><path d="M1424.7 1043.2l3.2 5h-6.4z"/><path d="M1425.2 1043.1l3.2 5h-6.4z"/><path d="M1422.4 1043.1l3.2 5h-6.4z"/><path d="M1427.8 1043.1l3.2 5h-6.4z"/><path d="M1423.7 1043.1l3.2 5h-6.4z"/><path d="M1421.5 1043.1l3.2 5h-6.4z"/><path d="M1425.4 1043l3.2 5h-6.4z"/><path d="M1422.2 1043l3.2 5h-6.4z"/><path d="M1428.2 1042.9l3.2 5h-6.4z"/><path d="M1427.7 1042.9l3.2 5h-6.4z"/><path d="M1426.5 1042.8l3.2 5h-6.4z"/><path d="M1421.7 1042.8l3.2 5h-6.4z"/><path d="M1427.1 1042.7l3.2 5h-6.4z"/><path d="M1422.5 1042.6l3.2 5h-6.4z"/><path d="M1425.6 1042.5l3.2 5h-6.4z"/><path d="M1422.4 1042.5l3.2 5h-6.4z"/><path d="M1426.2 1042.5l3.2 5h-6.4z"/><path d="M1426.1 1042.4l3.2 5h-6.4z"/><path d="M1423.6 1042.3l3.2 5h-6.4z"/><path d="M1422.9 1042.3l3.2 5h-6.4z"/><path d="M1427.1 1042.2l3.2 5h-6.4z"/><path d="M1427.8 1042.2l3.2 5h-6.4z"/><path d="M1422.4 1042.2l3.2 5h-6.4z"/><path d="M1428.2 1042.2l3.2 5h-6.4z"/><path d="M1425.2 1042.1l3.2 5h-6.4z"/><path d="M1423.5 1042.1l3.2 5h-6.4z"/><path d="M1424.6 1042l3.2 5h-6.4z"/><path d="M1421.7 1042l3.2 5h-6.4z"/><path d="M1424.8 1041.8l3.2 5h-6.4z"/><path d="M1425.4 1041.5l3.2 5h-6.4z"/><path d="M1424.8 1041.3l3.2 5h-6.4z"/><path d="M1421.4 1041l3.2 5h-6.4z"/><path d="M1426.4 1040.7l3.2 5h-6.4z"/><path d="M1424.6 1040.6l3.2 5h-6.4z"/><path d="M1422.4 1040.5l3.2 5h-6.4z"/><path d="M1427 1040.2l3.2 5h-6.4z"/><path d="M1425.5 1039.8l3.2 5h-6.4z"/><path d="M1421.3 1039.8l3.2 5h-6.4z"/><path d="M1424.2 1039.7l3.2 5h-6.4z"/><path d="M1426.5 1039.6l3.2 5h-6.4z"/><path d="M1425.7 1039.6l3.2 5h-6.4z"/><path d="M1423.9 1039.5l3.2 5h-6.4z"/><path d="M1426.8 1039.5l3.2 5h-6.4z"/><path d="M1424.5 1038.6l3.2 5h-6.4z"/><path d="M1422.3 1021.9l3.2 5h-6.4z"/><path d="M1422.2 1031.5l3.2 5h-6.4z"/><path d="M1427.5 1033.1l3.2 5h-6.4z"/><path d="M1423 1034.7l3.2 5h-6.4z"/><path d="M1425.3 1036.2l3.2 5h-6.4z"/><path d="M1422.9 1037l3.2 5h-6.4z"/></g><g class="ps"><circle cx="1475" cy="1046.6" r="2.1"/><circle cx="1470.7" cy="1046.4" r="2.1"/><circle cx="1474.2" cy="1046.1" r="2.1"/><circle cx="1471.2" cy="1045.2" r="2.1"/><circle cx="1474.2" cy="1043.7" r="2.1"/><circle cx="1473.1" cy="1043.5" r="2.1"/><circle cx="1474.1" cy="1042.1" r="2.1"/><circle cx="1473.2" cy="1041.9" r="2.1"/><circle cx="1472.4" cy="1041.6" r="2.1"/><circle cx="1474.3" cy="1041.2" r="2.1"/><circle cx="1472.8" cy="1040.8" r="2.1"/><circle cx="1473.9" cy="1040.7" r="2.1"/><circle cx="1472.8" cy="1039.8" r="2.1"/><circle cx="1471.3" cy="1038.7" r="2.1"/><circle cx="1470.1" cy="1037.7" r="2.1"/><circle cx="1470.4" cy="1036.9" r="2.1"/><circle cx="1473.9" cy="1035.8" r="2.1"/><circle cx="1469.9" cy="1033" r="2.1"/><circle cx="1470.1" cy="1030.9" r="2.1"/><circle cx="1474.9" cy="1029.1" r="2.1"/><circle cx="1472.8" cy="1026.2" r="2.1"/><circle cx="1470.5" cy="1024.3" r="2.1"/><circle cx="1473" cy="1023.9" r="2.1"/><circle cx="1471.2" cy="1023.3" r="2.1"/><circle cx="1468.6" cy="1022.9" r="2.1"/><circle cx="1474.4" cy="1019.7" r="2.1"/><circle cx="1468.5" cy="1019.2" r="2.1"/><circle cx="1474.7" cy="1016.8" r="2.1"/><circle cx="1471" cy="1015.9" r="2.1"/><circle cx="1471.9" cy="1014.8" r="2.1"/><circle cx="1471.5" cy="954.3" r="2.1"/><circle cx="1471.3" cy="967.8" r="2.1"/><circle cx="1474" cy="990.1" r="2.1"/><circle cx="1470.4" cy="1012.4" r="2.1"/><circle cx="1475" cy="1016.4" r="2.1"/></g><g fill="none" stroke="#2a2a2a" stroke-width="1.15" stroke-opacity="0.5"><path d="M1501.5 1044.2l3.2 5h-6.4z"/><path d="M1502.2 1044.2l3.2 5h-6.4z"/><path d="M1506.3 1044.1l3.2 5h-6.4z"/><path d="M1503.3 1044.1l3.2 5h-6.4z"/><path d="M1500.8 1044.1l3.2 5h-6.4z"/><path d="M1500.4 1044l3.2 5h-6.4z"/><path d="M1504 1044l3.2 5h-6.4z"/><path d="M1503.3 1044l3.2 5h-6.4z"/><path d="M1503 1043.9l3.2 5h-6.4z"/><path d="M1503.8 1043.8l3.2 5h-6.4z"/><path d="M1500 1043.8l3.2 5h-6.4z"/><path d="M1499.9 1043.8l3.2 5h-6.4z"/><path d="M1501.5 1043.7l3.2 5h-6.4z"/><path d="M1501.5 1043.7l3.2 5h-6.4z"/><path d="M1504.5 1043.7l3.2 5h-6.4z"/><path d="M1505.6 1043.7l3.2 5h-6.4z"/><path d="M1503.5 1043.7l3.2 5h-6.4z"/><path d="M1505 1043.7l3.2 5h-6.4z"/><path d="M1505.1 1043.7l3.2 5h-6.4z"/><path d="M1502.3 1043.7l3.2 5h-6.4z"/><path d="M1503.5 1043.6l3.2 5h-6.4z"/><path d="M1505.1 1043.6l3.2 5h-6.4z"/><path d="M1506.2 1043.6l3.2 5h-6.4z"/><path d="M1505.2 1043.5l3.2 5h-6.4z"/><path d="M1502.4 1043.5l3.2 5h-6.4z"/><path d="M1500.2 1043.5l3.2 5h-6.4z"/><path d="M1501.2 1043.5l3.2 5h-6.4z"/><path d="M1503.2 1043.5l3.2 5h-6.4z"/><path d="M1501 1043.4l3.2 5h-6.4z"/><path d="M1504.7 1043.4l3.2 5h-6.4z"/><path d="M1501.4 1043.4l3.2 5h-6.4z"/><path d="M1502.5 1043.3l3.2 5h-6.4z"/><path d="M1502.3 1043.3l3.2 5h-6.4z"/><path d="M1506.4 1043.3l3.2 5h-6.4z"/><path d="M1502.4 1043.2l3.2 5h-6.4z"/><path d="M1504.2 1043.1l3.2 5h-6.4z"/><path d="M1506.2 1042.9l3.2 5h-6.4z"/><path d="M1504.7 1042.8l3.2 5h-6.4z"/><path d="M1504.5 1042.8l3.2 5h-6.4z"/><path d="M1505.3 1042.7l3.2 5h-6.4z"/><path d="M1502.3 1042.4l3.2 5h-6.4z"/><path d="M1501.2 1042.3l3.2 5h-6.4z"/><path d="M1501.1 1042l3.2 5h-6.4z"/><path d="M1500.2 1041.9l3.2 5h-6.4z"/><path d="M1500 1041.9l3.2 5h-6.4z"/><path d="M1505.6 1041.8l3.2 5h-6.4z"/><path d="M1506 1041.7l3.2 5h-6.4z"/><path d="M1505.3 1041.7l3.2 5h-6.4z"/><path d="M1501.1 1041.6l3.2 5h-6.4z"/><path d="M1499.8 1041.5l3.2 5h-6.4z"/><path d="M1504.7 1041.5l3.2 5h-6.4z"/><path d="M1503.3 1041.4l3.2 5h-6.4z"/><path d="M1503.6 1041.4l3.2 5h-6.4z"/><path d="M1502.3 1041.4l3.2 5h-6.4z"/><path d="M1503.7 1041.4l3.2 5h-6.4z"/><path d="M1504.7 1041.2l3.2 5h-6.4z"/><path d="M1502.9 1041.2l3.2 5h-6.4z"/><path d="M1502.5 1041.2l3.2 5h-6.4z"/><path d="M1502.6 1041.2l3.2 5h-6.4z"/><path d="M1499.8 1041.1l3.2 5h-6.4z"/><path d="M1502.1 1041.1l3.2 5h-6.4z"/><path d="M1502.2 1040.9l3.2 5h-6.4z"/><path d="M1501.3 1040.7l3.2 5h-6.4z"/><path d="M1504.4 1040.7l3.2 5h-6.4z"/><path d="M1505.1 1040.6l3.2 5h-6.4z"/><path d="M1502.3 1040.5l3.2 5h-6.4z"/><path d="M1504.6 1040.2l3.2 5h-6.4z"/><path d="M1503.1 1039.7l3.2 5h-6.4z"/><path d="M1501.6 1039.6l3.2 5h-6.4z"/><path d="M1499.7 1039.5l3.2 5h-6.4z"/><path d="M1501.7 1039.4l3.2 5h-6.4z"/><path d="M1505.7 1039.3l3.2 5h-6.4z"/><path d="M1505.4 1039.3l3.2 5h-6.4z"/><path d="M1506.1 1039.3l3.2 5h-6.4z"/><path d="M1505 1039.1l3.2 5h-6.4z"/><path d="M1504 1039l3.2 5h-6.4z"/><path d="M1499.9 1038.8l3.2 5h-6.4z"/><path d="M1500 1038.7l3.2 5h-6.4z"/><path d="M1505.4 1038.3l3.2 5h-6.4z"/><path d="M1500.5 1038l3.2 5h-6.4z"/><path d="M1500.4 1037.8l3.2 5h-6.4z"/><path d="M1505.9 1037.8l3.2 5h-6.4z"/><path d="M1502.4 1037.6l3.2 5h-6.4z"/><path d="M1500.1 1037.5l3.2 5h-6.4z"/><path d="M1501.1 1037.3l3.2 5h-6.4z"/><path d="M1501.2 1037.1l3.2 5h-6.4z"/><path d="M1502.9 1037.1l3.2 5h-6.4z"/><path d="M1500 1036.8l3.2 5h-6.4z"/><path d="M1503.1 1036.6l3.2 5h-6.4z"/><path d="M1501.7 1036.6l3.2 5h-6.4z"/><path d="M1500.1 1036.3l3.2 5h-6.4z"/><path d="M1502.6 1036.2l3.2 5h-6.4z"/><path d="M1503.6 1035.6l3.2 5h-6.4z"/><path d="M1501.6 1035.5l3.2 5h-6.4z"/><path d="M1501.8 1035.4l3.2 5h-6.4z"/><path d="M1501.8 1035.3l3.2 5h-6.4z"/><path d="M1506.2 1035.2l3.2 5h-6.4z"/><path d="M1505.6 1035.1l3.2 5h-6.4z"/><path d="M1501.8 1034.2l3.2 5h-6.4z"/><path d="M1504.7 1033.5l3.2 5h-6.4z"/><path d="M1505.4 1033.4l3.2 5h-6.4z"/><path d="M1504.2 1033.4l3.2 5h-6.4z"/><path d="M1504.4 1032.9l3.2 5h-6.4z"/><path d="M1500.1 1032l3.2 5h-6.4z"/><path d="M1505.2 1031.6l3.2 5h-6.4z"/><path d="M1499.9 1031.6l3.2 5h-6.4z"/><path d="M1506.4 1031.2l3.2 5h-6.4z"/><path d="M1500.9 1030.7l3.2 5h-6.4z"/><path d="M1501.1 1030.5l3.2 5h-6.4z"/><path d="M1502.8 1030.1l3.2 5h-6.4z"/><path d="M1502.2 1029.9l3.2 5h-6.4z"/><path d="M1500.4 1029.5l3.2 5h-6.4z"/><path d="M1500.7 1028.5l3.2 5h-6.4z"/><path d="M1506.3 1028.1l3.2 5h-6.4z"/><path d="M1500.9 1027.9l3.2 5h-6.4z"/><path d="M1499.7 1027.8l3.2 5h-6.4z"/><path d="M1501.7 1027.2l3.2 5h-6.4z"/><path d="M1502.8 1026.9l3.2 5h-6.4z"/><path d="M1500 1026.8l3.2 5h-6.4z"/><path d="M1504.3 1025.9l3.2 5h-6.4z"/><path d="M1502.8 937.6l3.2 5h-6.4z"/><path d="M1505.3 975l3.2 5h-6.4z"/><path d="M1501.2 1007.6l3.2 5h-6.4z"/><path d="M1499.8 1014l3.2 5h-6.4z"/><path d="M1503.4 1015.6l3.2 5h-6.4z"/><path d="M1506.5 1017.9l3.2 5h-6.4z"/><path d="M1499.8 1020.3l3.2 5h-6.4z"/><path d="M1504.7 1021.9l3.2 5h-6.4z"/><path d="M1502.6 1023.5l3.2 5h-6.4z"/><path d="M1504.5 1024.3l3.2 5h-6.4z"/></g><g class="ps"><circle cx="1551.9" cy="1046.6" r="2.1"/><circle cx="1548.6" cy="1046.5" r="2.1"/><circle cx="1549.4" cy="1046.5" r="2.1"/><circle cx="1548.8" cy="1046.5" r="2.1"/><circle cx="1552.4" cy="1046.5" r="2.1"/><circle cx="1551.2" cy="1046.4" r="2.1"/><circle cx="1549.2" cy="1046.4" r="2.1"/><circle cx="1550.7" cy="1046.4" r="2.1"/><circle cx="1552.3" cy="1046.4" r="2.1"/><circle cx="1548.6" cy="1046.4" r="2.1"/><circle cx="1549.7" cy="1046.3" r="2.1"/><circle cx="1549.7" cy="1046.1" r="2.1"/><circle cx="1550.8" cy="1046" r="2.1"/><circle cx="1547.2" cy="1045.9" r="2.1"/><circle cx="1549.2" cy="1045.9" r="2.1"/><circle cx="1548.4" cy="1045.5" r="2.1"/><circle cx="1547.9" cy="1045.3" r="2.1"/><circle cx="1549.3" cy="1045" r="2.1"/><circle cx="1548.5" cy="1032.3" r="2.1"/><circle cx="1551.5" cy="1037.1" r="2.1"/></g><g fill="none" stroke="#2a2a2a" stroke-width="1.15" stroke-opacity="0.5"><path d="M1579.8 1044.2l3.2 5h-6.4z"/><path d="M1583 1044.2l3.2 5h-6.4z"/><path d="M1579.1 1044.1l3.2 5h-6.4z"/><path d="M1581.8 1044.1l3.2 5h-6.4z"/><path d="M1583.4 1044.1l3.2 5h-6.4z"/><path d="M1581.6 1044.1l3.2 5h-6.4z"/><path d="M1581.1 1044.1l3.2 5h-6.4z"/><path d="M1582.4 1043.9l3.2 5h-6.4z"/><path d="M1578.5 1043.9l3.2 5h-6.4z"/><path d="M1578.6 1043.9l3.2 5h-6.4z"/><path d="M1578.7 1043.9l3.2 5h-6.4z"/><path d="M1580 1043.8l3.2 5h-6.4z"/><path d="M1580.8 1043.4l3.2 5h-6.4z"/><path d="M1580.2 1043.4l3.2 5h-6.4z"/><path d="M1580.4 1042.8l3.2 5h-6.4z"/><path d="M1582.9 1042.6l3.2 5h-6.4z"/><path d="M1583.6 1042.4l3.2 5h-6.4z"/><path d="M1583.1 1042.1l3.2 5h-6.4z"/><path d="M1582.9 1042.1l3.2 5h-6.4z"/><path d="M1578.3 1041.8l3.2 5h-6.4z"/><path d="M1580.3 1041l3.2 5h-6.4z"/></g><path d="M1285 656.3L1285 1047.2" stroke="#000" stroke-width="1.3"/><path d="M1281.5 1046.6h3.5M1281.5 1006.8h3.5M1281.5 967h3.5M1281.5 927.3h3.5M1281.5 887.5h3.5M1281.5 847.7h3.5" stroke="#000" stroke-width="1.2"/><text x="1278.7" y="1052.4" text-anchor="end" style="font-size:16px">0</text><text x="1278.7" y="1012.6" text-anchor="end" style="font-size:16px">5</text><text x="1278.7" y="972.8" text-anchor="end" style="font-size:16px">10</text><text x="1278.7" y="933" text-anchor="end" style="font-size:16px">15</text><text x="1278.7" y="893.2" text-anchor="end" style="font-size:16px">20</text><text x="1278.7" y="853.5" text-anchor="end" style="font-size:16px">25</text><path d="M1284.4 1046.6L1611.6 1046.6" stroke="#000" stroke-width="1.3"/><path d="M1330 1046.6v3.5M1408.8 1046.6v3.5M1487.3 1046.6v3.5M1566 1046.6v3.5" stroke="#000" stroke-width="1.2"/><text x="1305.3" y="1070.4" text-anchor="end" style="font-size:20.7px" transform="rotate(-24.5 1305.3 1070.4)">NPC</text><text x="1380" y="1070.4" text-anchor="end" style="font-size:20.7px" transform="rotate(-24.5 1380 1070.4)">OP</text><text x="1464.2" y="1069.4" text-anchor="end" style="font-size:20.7px" transform="rotate(-24.5 1464.2 1069.4)">SARS−CoV−2−P</text><text x="1533" y="1071.3" text-anchor="end" style="font-size:20.7px" transform="rotate(-24.5 1533 1071.3)">OVP</text><text x="1245" y="837.3" text-anchor="middle" style="font-size:19.5px" transform="rotate(-90 1245 837.3)">Percent of total cells</text><path d="M1315 735L1550.4 735" stroke="#000" stroke-width="1.25"/><text x="1432.7" y="731.5" text-anchor="middle" style="font-size:16.7px">6.96e−03</text><path d="M1471.6 767L1503.5 767" stroke="#000" stroke-width="1.25"/><text x="1487.5" y="763.5" text-anchor="middle" style="font-size:16.7px">3.84e−06</text><path d="M1502.4 799L1581.5 799" stroke="#000" stroke-width="1.25"/><text x="1542" y="795.5" text-anchor="middle" style="font-size:16.7px">2.97e−06</text><path d="M1471.6 831.2L1550.4 831.2" stroke="#000" stroke-width="1.25"/><text x="1511" y="827.7" text-anchor="middle" style="font-size:16.7px">1.70e−06</text><path d="M1315 863L1472 863" stroke="#000" stroke-width="1.25"/><text x="1393.5" y="859.5" text-anchor="middle" style="font-size:16.7px">1.60e−06</text><path d="M1393 895.4L1472 895.4" stroke="#000" stroke-width="1.25"/><text x="1432.5" y="891.9" text-anchor="middle" style="font-size:16.7px">6.81e−10</text><path d="M1424.7 927.3L1503.5 927.3" stroke="#000" stroke-width="1.25"/><text x="1464.1" y="923.8" text-anchor="middle" style="font-size:16.7px">8.67e−11</text><text x="1601.4" y="667.5" style="font-size:20.5px">Diagnosis</text><rect x="1605.4" y="679.9" width="11.6" height="10.7" fill="#1170b8"/><text x="1630.4" y="690.7" style="font-size:17.1px">NPC</text><rect x="1605.4" y="700" width="11.6" height="10.7" fill="#e88a2b"/><text x="1630.4" y="710.8" style="font-size:17.1px">OP</text><rect x="1605.4" y="720" width="11.6" height="10.7" fill="#c53e2c"/><text x="1630.4" y="730.8" style="font-size:17.1px">SARS−CoV−2−P</text><rect x="1605.4" y="740.1" width="11.6" height="10.7" fill="#1f8a4f"/><text x="1630.4" y="750.9" style="font-size:17.1px">OVP</text><text x="1601.4" y="780.5" style="font-size:20.8px">Timing of BAL</text><text x="1601.4" y="797.5" style="font-size:20.8px">relative to intubation</text><rect x="1600.4" y="807.1" width="21" height="19.8" fill="#fff" stroke="#c8c8c8" stroke-width="0.9"/><rect x="1600.4" y="826.9" width="21" height="19.8" fill="#fff" stroke="#c8c8c8" stroke-width="0.9"/><circle cx="1610.9" cy="817" r="2.6" fill="none" stroke="#000" stroke-width="1.1"/><path d="M1610.9 833.8l3 5h-6z" fill="none" stroke="#000" stroke-width="1.1"/><text x="1630.4" y="822.3" style="font-size:17.1px">≤ 48hrs</text><text x="1630.4" y="841.9" style="font-size:17.1px">&gt; 48hrs</text><text transform="translate(621 1158) scale(0.9 1)" style="font-size:35.5px;font-weight:bold;stroke:#000;stroke-width:0.5px">l</text><path d="M719.3 1514.2V1527.7M719.3 1544V1545.8" stroke="#333" stroke-width="1.3"/><rect x="709.3" y="1527.7" width="20" height="16.3" fill="#1170b8" stroke="#333" stroke-width="1.3"/><path d="M709.3 1537.1h20" stroke="#333" stroke-width="2.6"/><path d="M749 1518.7V1526.2M749 1544.6V1545.8" stroke="#333" stroke-width="1.3"/><rect x="739.5" y="1526.2" width="19" height="18.4" fill="#94c1e2" stroke="#2a2a2a" stroke-width="2.5"/><path d="M739.5 1536.8h19" stroke="#333" stroke-width="2.8"/><path d="M796 1485.5V1514.2M796 1538.9V1545.8" stroke="#333" stroke-width="1.3"/><rect x="786" y="1514.2" width="20" height="24.7" fill="#e88a2b" stroke="#333" stroke-width="1.3"/><path d="M786 1530.7h20" stroke="#333" stroke-width="2.6"/><path d="M825.5 1515.7V1528.3M825.5 1541.9V1545.8" stroke="#333" stroke-width="1.3"/><rect x="816" y="1528.3" width="19" height="13.6" fill="#f5cf9f" stroke="#2a2a2a" stroke-width="2.5"/><path d="M816 1535.3h19" stroke="#333" stroke-width="2.8"/><path d="M871.5 1383.1V1459.6M871.5 1520.2V1545.8" stroke="#333" stroke-width="1.3"/><rect x="861.5" y="1459.6" width="20" height="60.6" fill="#c53e2c" stroke="#333" stroke-width="1.3"/><path d="M861.5 1505.4h20" stroke="#333" stroke-width="2.6"/><path d="M902 1509.6V1526.2M902 1538.9V1545.8" stroke="#333" stroke-width="1.3"/><rect x="892.5" y="1526.2" width="19" height="12.7" fill="#eeaea5" stroke="#2a2a2a" stroke-width="2.5"/><path d="M892.5 1533.7h19" stroke="#333" stroke-width="2.8"/><path d="M948 1466V1508.4M948 1539.8V1545.8" stroke="#333" stroke-width="1.3"/><rect x="938" y="1508.4" width="20" height="31.3" fill="#1f8a4f" stroke="#333" stroke-width="1.3"/><path d="M938 1525.6h20" stroke="#333" stroke-width="2.6"/><path d="M976.4 1512.7V1527.7M976.4 1542.8V1545.8" stroke="#333" stroke-width="1.3"/><rect x="966.9" y="1527.7" width="19" height="15.1" fill="#9fd1b4" stroke="#2a2a2a" stroke-width="2.5"/><path d="M966.9 1535.3h19" stroke="#333" stroke-width="2.8"/><g class="ps"><circle cx="720.8" cy="1545.8" r="2.1"/><circle cx="715.9" cy="1544.1" r="2.1"/><circle cx="719.2" cy="1539.8" r="2.1"/><circle cx="722.5" cy="1538.9" r="2.1"/><circle cx="716.7" cy="1537.7" r="2.1"/><circle cx="720.4" cy="1534.3" r="2.1"/><circle cx="718.3" cy="1533.6" r="2.1"/><circle cx="718.7" cy="1533.5" r="2.1"/><circle cx="722.2" cy="1533.3" r="2.1"/><circle cx="721.6" cy="1532.5" r="2.1"/><circle cx="718.3" cy="1527.9" r="2.1"/><circle cx="720.5" cy="1525.6" r="2.1"/><circle cx="717.7" cy="1522.2" r="2.1"/><circle cx="719.7" cy="1519.1" r="2.1"/><circle cx="717.1" cy="1514.2" r="2.1"/><circle cx="721.3" cy="1425.3" r="2.1"/><circle cx="716.8" cy="1488.6" r="2.1"/></g><g fill="none" stroke="#2a2a2a" stroke-width="1.15" stroke-opacity="0.5"><path d="M748.8 1543.4l3.2 5h-6.4z"/><path d="M750.7 1543.2l3.2 5h-6.4z"/><path d="M748.4 1543.1l3.2 5h-6.4z"/><path d="M752.4 1543.1l3.2 5h-6.4z"/><path d="M750.5 1543.1l3.2 5h-6.4z"/><path d="M745.5 1542.9l3.2 5h-6.4z"/><path d="M748.4 1542.9l3.2 5h-6.4z"/><path d="M747.6 1542l3.2 5h-6.4z"/><path d="M750.9 1540.1l3.2 5h-6.4z"/><path d="M745.9 1532l3.2 5h-6.4z"/><path d="M751.6 1527.5l3.2 5h-6.4z"/><path d="M749.8 1526.4l3.2 5h-6.4z"/><path d="M751.6 1525.8l3.2 5h-6.4z"/><path d="M747.8 1521.5l3.2 5h-6.4z"/><path d="M751.9 1516.3l3.2 5h-6.4z"/><path d="M745.9 1486.2l3.2 5h-6.4z"/></g><g class="ps"><circle cx="795.3" cy="1545.8" r="2.1"/><circle cx="793" cy="1543.8" r="2.1"/><circle cx="797.6" cy="1543.5" r="2.1"/><circle cx="794.9" cy="1542.7" r="2.1"/><circle cx="794.8" cy="1542.1" r="2.1"/><circle cx="798.9" cy="1541.2" r="2.1"/><circle cx="796.2" cy="1541" r="2.1"/><circle cx="799.1" cy="1539.7" r="2.1"/><circle cx="799.4" cy="1539.7" r="2.1"/><circle cx="792.7" cy="1539.7" r="2.1"/><circle cx="797.7" cy="1539.6" r="2.1"/><circle cx="796.2" cy="1538.7" r="2.1"/><circle cx="792.8" cy="1537.3" r="2.1"/><circle cx="797.2" cy="1537.1" r="2.1"/><circle cx="795.3" cy="1537" r="2.1"/><circle cx="796.9" cy="1535.5" r="2.1"/><circle cx="793.3" cy="1535.5" r="2.1"/><circle cx="793.4" cy="1535.1" r="2.1"/><circle cx="797.3" cy="1534.5" r="2.1"/><circle cx="796.4" cy="1534.3" r="2.1"/><circle cx="793.5" cy="1534.2" r="2.1"/><circle cx="796.8" cy="1532.1" r="2.1"/><circle cx="797.2" cy="1531.8" r="2.1"/><circle cx="796.3" cy="1531.7" r="2.1"/><circle cx="797.4" cy="1530.5" r="2.1"/><circle cx="793.4" cy="1530.2" r="2.1"/><circle cx="799.1" cy="1528.5" r="2.1"/><circle cx="793.5" cy="1527" r="2.1"/><circle cx="793.1" cy="1526.9" r="2.1"/><circle cx="796.6" cy="1523.1" r="2.1"/><circle cx="798.3" cy="1521.6" r="2.1"/><circle cx="798.4" cy="1521.2" r="2.1"/><circle cx="795.6" cy="1518.7" r="2.1"/><circle cx="795.2" cy="1518.6" r="2.1"/><circle cx="797.4" cy="1517.2" r="2.1"/><circle cx="793.3" cy="1516.6" r="2.1"/><circle cx="797.1" cy="1516.2" r="2.1"/><circle cx="792.7" cy="1512.6" r="2.1"/><circle cx="792.7" cy="1512.1" r="2.1"/><circle cx="796.6" cy="1510.8" r="2.1"/><circle cx="796.5" cy="1509.9" r="2.1"/><circle cx="795.2" cy="1505.9" r="2.1"/><circle cx="794.3" cy="1505.6" r="2.1"/><circle cx="798.3" cy="1504.5" r="2.1"/><circle cx="796.9" cy="1498.8" r="2.1"/><circle cx="794.4" cy="1496.5" r="2.1"/><circle cx="793.5" cy="1496.4" r="2.1"/><circle cx="797.3" cy="1495.8" r="2.1"/><circle cx="799.2" cy="1494.9" r="2.1"/><circle cx="798" cy="1485.5" r="2.1"/><circle cx="794" cy="1458.4" r="2.1"/><circle cx="793.3" cy="1473.5" r="2.1"/><circle cx="796.8" cy="1475" r="2.1"/></g><g fill="none" stroke="#2a2a2a" stroke-width="1.15" stroke-opacity="0.5"><path d="M828 1543.4l3.2 5h-6.4z"/><path d="M826.6 1543.2l3.2 5h-6.4z"/><path d="M822.7 1542.9l3.2 5h-6.4z"/><path d="M823.8 1542.5l3.2 5h-6.4z"/><path d="M827.5 1542.5l3.2 5h-6.4z"/><path d="M822.7 1542.4l3.2 5h-6.4z"/><path d="M828.2 1542.3l3.2 5h-6.4z"/><path d="M822.8 1542l3.2 5h-6.4z"/><path d="M825.8 1542l3.2 5h-6.4z"/><path d="M823.3 1541.9l3.2 5h-6.4z"/><path d="M825.8 1541.9l3.2 5h-6.4z"/><path d="M823.2 1541.8l3.2 5h-6.4z"/><path d="M822.8 1541.8l3.2 5h-6.4z"/><path d="M824.5 1541.3l3.2 5h-6.4z"/><path d="M827 1541.2l3.2 5h-6.4z"/><path d="M825.7 1540.6l3.2 5h-6.4z"/><path d="M825.9 1540.5l3.2 5h-6.4z"/><path d="M825.6 1540.5l3.2 5h-6.4z"/><path d="M826 1540.2l3.2 5h-6.4z"/><path d="M823 1540.2l3.2 5h-6.4z"/><path d="M825.1 1540.1l3.2 5h-6.4z"/><path d="M822.6 1539.7l3.2 5h-6.4z"/><path d="M822.7 1539.7l3.2 5h-6.4z"/><path d="M823.6 1539.3l3.2 5h-6.4z"/><path d="M822.2 1539.3l3.2 5h-6.4z"/><path d="M823.1 1539.1l3.2 5h-6.4z"/><path d="M824.8 1538.7l3.2 5h-6.4z"/><path d="M822.1 1538.1l3.2 5h-6.4z"/><path d="M828.8 1538.1l3.2 5h-6.4z"/><path d="M828.2 1537.9l3.2 5h-6.4z"/><path d="M827.1 1537.4l3.2 5h-6.4z"/><path d="M823.8 1536.6l3.2 5h-6.4z"/><path d="M826.4 1536.5l3.2 5h-6.4z"/><path d="M823.3 1536.5l3.2 5h-6.4z"/><path d="M828.9 1536.1l3.2 5h-6.4z"/><path d="M827 1536.1l3.2 5h-6.4z"/><path d="M824.8 1535.8l3.2 5h-6.4z"/><path d="M825.2 1534.5l3.2 5h-6.4z"/><path d="M824.7 1534.5l3.2 5h-6.4z"/><path d="M828 1534.4l3.2 5h-6.4z"/><path d="M826.4 1534.4l3.2 5h-6.4z"/><path d="M822.7 1534.2l3.2 5h-6.4z"/><path d="M822.7 1534.2l3.2 5h-6.4z"/><path d="M827.6 1534.1l3.2 5h-6.4z"/><path d="M824 1533.9l3.2 5h-6.4z"/><path d="M825 1533.8l3.2 5h-6.4z"/><path d="M826.3 1533.7l3.2 5h-6.4z"/><path d="M824.1 1533.5l3.2 5h-6.4z"/><path d="M827.3 1533.4l3.2 5h-6.4z"/><path d="M826.9 1533.1l3.2 5h-6.4z"/><path d="M822.5 1533l3.2 5h-6.4z"/><path d="M826.1 1532.9l3.2 5h-6.4z"/><path d="M828.5 1532.8l3.2 5h-6.4z"/><path d="M826.6 1532.7l3.2 5h-6.4z"/><path d="M823.6 1532.3l3.2 5h-6.4z"/><path d="M823.9 1531.3l3.2 5h-6.4z"/><path d="M828 1531.3l3.2 5h-6.4z"/><path d="M827.4 1531.2l3.2 5h-6.4z"/><path d="M823.8 1530.6l3.2 5h-6.4z"/><path d="M825.5 1529.4l3.2 5h-6.4z"/><path d="M824.4 1528.7l3.2 5h-6.4z"/><path d="M827.7 1528.6l3.2 5h-6.4z"/><path d="M822.5 1527.2l3.2 5h-6.4z"/><path d="M822.2 1527l3.2 5h-6.4z"/><path d="M829 1526.9l3.2 5h-6.4z"/><path d="M823.6 1526.8l3.2 5h-6.4z"/><path d="M823.6 1526.5l3.2 5h-6.4z"/><path d="M827.9 1526.3l3.2 5h-6.4z"/><path d="M828.2 1526.1l3.2 5h-6.4z"/><path d="M826.2 1526.1l3.2 5h-6.4z"/><path d="M823.3 1525.5l3.2 5h-6.4z"/><path d="M823.7 1525.1l3.2 5h-6.4z"/><path d="M823.3 1524.9l3.2 5h-6.4z"/><path d="M822 1524.9l3.2 5h-6.4z"/><path d="M822.2 1524.7l3.2 5h-6.4z"/><path d="M825.1 1524.3l3.2 5h-6.4z"/><path d="M826.1 1524l3.2 5h-6.4z"/><path d="M822.9 1523.2l3.2 5h-6.4z"/><path d="M822.2 1523.1l3.2 5h-6.4z"/><path d="M823.3 1522.5l3.2 5h-6.4z"/><path d="M822.7 1522.5l3.2 5h-6.4z"/><path d="M822.6 1522l3.2 5h-6.4z"/><path d="M823.8 1521l3.2 5h-6.4z"/><path d="M823.8 1520l3.2 5h-6.4z"/><path d="M822.8 1519.5l3.2 5h-6.4z"/><path d="M822.8 1519l3.2 5h-6.4z"/><path d="M822.2 1516.3l3.2 5h-6.4z"/><path d="M825.3 1516.3l3.2 5h-6.4z"/><path d="M822.5 1514.6l3.2 5h-6.4z"/><path d="M826.5 1513.3l3.2 5h-6.4z"/><path d="M828.3 1471.1l3.2 5h-6.4z"/><path d="M823.5 1483.1l3.2 5h-6.4z"/><path d="M823.5 1486.2l3.2 5h-6.4z"/><path d="M827.2 1489.2l3.2 5h-6.4z"/><path d="M825.8 1493.7l3.2 5h-6.4z"/><path d="M822.4 1498.2l3.2 5h-6.4z"/><path d="M828.5 1499.7l3.2 5h-6.4z"/></g><g class="ps"><circle cx="873.6" cy="1545.8" r="2.1"/><circle cx="869.5" cy="1542.1" r="2.1"/><circle cx="871.8" cy="1532.2" r="2.1"/><circle cx="868.4" cy="1531.4" r="2.1"/><circle cx="873.6" cy="1530.8" r="2.1"/><circle cx="870.5" cy="1525.2" r="2.1"/><circle cx="873.8" cy="1520.1" r="2.1"/><circle cx="872.3" cy="1519.5" r="2.1"/><circle cx="872" cy="1518.8" r="2.1"/><circle cx="869.9" cy="1518.5" r="2.1"/><circle cx="873.5" cy="1518.5" r="2.1"/><circle cx="869.5" cy="1510.4" r="2.1"/><circle cx="868.9" cy="1508.7" r="2.1"/><circle cx="870.2" cy="1508" r="2.1"/><circle cx="872.7" cy="1507.6" r="2.1"/><circle cx="873.1" cy="1507.5" r="2.1"/><circle cx="868.6" cy="1507.4" r="2.1"/><circle cx="874.4" cy="1506.8" r="2.1"/><circle cx="869.4" cy="1500.4" r="2.1"/><circle cx="874.2" cy="1499.5" r="2.1"/><circle cx="871.9" cy="1495.5" r="2.1"/><circle cx="874.9" cy="1492.5" r="2.1"/><circle cx="868.6" cy="1490.3" r="2.1"/><circle cx="872.1" cy="1486.8" r="2.1"/><circle cx="871.4" cy="1457.1" r="2.1"/><circle cx="869.3" cy="1435.1" r="2.1"/><circle cx="873.2" cy="1429.5" r="2.1"/><circle cx="871.3" cy="1391.7" r="2.1"/><circle cx="874" cy="1388.4" r="2.1"/><circle cx="873.9" cy="1383.1" r="2.1"/></g><g fill="none" stroke="#2a2a2a" stroke-width="1.15" stroke-opacity="0.5"><path d="M903.8 1543.4l3.2 5h-6.4z"/><path d="M902.8 1543.2l3.2 5h-6.4z"/><path d="M900 1543l3.2 5h-6.4z"/><path d="M905 1542.9l3.2 5h-6.4z"/><path d="M901.8 1542.9l3.2 5h-6.4z"/><path d="M900 1542.7l3.2 5h-6.4z"/><path d="M904.4 1542.5l3.2 5h-6.4z"/><path d="M902.9 1541.9l3.2 5h-6.4z"/><path d="M901.1 1541.7l3.2 5h-6.4z"/><path d="M903.7 1541.7l3.2 5h-6.4z"/><path d="M901.8 1541.2l3.2 5h-6.4z"/><path d="M903.1 1540.6l3.2 5h-6.4z"/><path d="M904.6 1540.5l3.2 5h-6.4z"/><path d="M898.6 1540.4l3.2 5h-6.4z"/><path d="M903.8 1540.3l3.2 5h-6.4z"/><path d="M904.9 1539.9l3.2 5h-6.4z"/><path d="M904.3 1539.6l3.2 5h-6.4z"/><path d="M905.5 1539.6l3.2 5h-6.4z"/><path d="M901.5 1539.5l3.2 5h-6.4z"/><path d="M900.2 1539.5l3.2 5h-6.4z"/><path d="M901 1539.1l3.2 5h-6.4z"/><path d="M898.7 1538.5l3.2 5h-6.4z"/><path d="M903.1 1538.3l3.2 5h-6.4z"/><path d="M899.4 1538.1l3.2 5h-6.4z"/><path d="M904.5 1538l3.2 5h-6.4z"/><path d="M905.5 1538l3.2 5h-6.4z"/><path d="M901.5 1537.7l3.2 5h-6.4z"/><path d="M903.7 1537l3.2 5h-6.4z"/><path d="M900.5 1536.9l3.2 5h-6.4z"/><path d="M905.4 1536.9l3.2 5h-6.4z"/><path d="M904.9 1536.6l3.2 5h-6.4z"/><path d="M903.2 1536.4l3.2 5h-6.4z"/><path d="M902.3 1536.3l3.2 5h-6.4z"/><path d="M898.6 1536l3.2 5h-6.4z"/><path d="M905.3 1535.4l3.2 5h-6.4z"/><path d="M898.5 1535.4l3.2 5h-6.4z"/><path d="M905 1535.4l3.2 5h-6.4z"/><path d="M901.9 1535.3l3.2 5h-6.4z"/><path d="M905.4 1535.2l3.2 5h-6.4z"/><path d="M901.2 1535.1l3.2 5h-6.4z"/><path d="M900.9 1534.9l3.2 5h-6.4z"/><path d="M903 1534.7l3.2 5h-6.4z"/><path d="M903.6 1534.6l3.2 5h-6.4z"/><path d="M902.6 1534.5l3.2 5h-6.4z"/><path d="M898.7 1534.4l3.2 5h-6.4z"/><path d="M899.7 1534.2l3.2 5h-6.4z"/><path d="M901.3 1534.1l3.2 5h-6.4z"/><path d="M900.8 1533.9l3.2 5h-6.4z"/><path d="M903 1533.8l3.2 5h-6.4z"/><path d="M905.2 1533.5l3.2 5h-6.4z"/><path d="M902.9 1533.5l3.2 5h-6.4z"/><path d="M902.6 1533.1l3.2 5h-6.4z"/><path d="M898.9 1532.7l3.2 5h-6.4z"/><path d="M900.6 1532.3l3.2 5h-6.4z"/><path d="M904.1 1531.7l3.2 5h-6.4z"/><path d="M904.3 1531.7l3.2 5h-6.4z"/><path d="M899.6 1531.6l3.2 5h-6.4z"/><path d="M903.4 1530.8l3.2 5h-6.4z"/><path d="M904.5 1530.6l3.2 5h-6.4z"/><path d="M905 1530.6l3.2 5h-6.4z"/><path d="M901.7 1530.2l3.2 5h-6.4z"/><path d="M901.3 1530l3.2 5h-6.4z"/><path d="M899 1529.9l3.2 5h-6.4z"/><path d="M900.5 1529.9l3.2 5h-6.4z"/><path d="M899.1 1529.8l3.2 5h-6.4z"/><path d="M902.3 1528.8l3.2 5h-6.4z"/><path d="M900 1528.6l3.2 5h-6.4z"/><path d="M904.7 1528.6l3.2 5h-6.4z"/><path d="M899.7 1528.3l3.2 5h-6.4z"/><path d="M898.9 1528.2l3.2 5h-6.4z"/><path d="M904.8 1528.1l3.2 5h-6.4z"/><path d="M902.8 1527.9l3.2 5h-6.4z"/><path d="M902.7 1527.7l3.2 5h-6.4z"/><path d="M903.1 1527.4l3.2 5h-6.4z"/><path d="M898.9 1527.3l3.2 5h-6.4z"/><path d="M899 1527.1l3.2 5h-6.4z"/><path d="M900.7 1526.9l3.2 5h-6.4z"/><path d="M901.6 1526.9l3.2 5h-6.4z"/><path d="M902 1526.9l3.2 5h-6.4z"/><path d="M903.6 1526.7l3.2 5h-6.4z"/><path d="M902.6 1526.3l3.2 5h-6.4z"/><path d="M901.9 1526.2l3.2 5h-6.4z"/><path d="M904 1526.1l3.2 5h-6.4z"/><path d="M902.4 1525.8l3.2 5h-6.4z"/><path d="M898.9 1525.8l3.2 5h-6.4z"/><path d="M902 1525.3l3.2 5h-6.4z"/><path d="M901.1 1525.1l3.2 5h-6.4z"/><path d="M901 1524.4l3.2 5h-6.4z"/><path d="M899.9 1524.1l3.2 5h-6.4z"/><path d="M903.4 1524l3.2 5h-6.4z"/><path d="M900 1523.9l3.2 5h-6.4z"/><path d="M899.4 1522.7l3.2 5h-6.4z"/><path d="M903.1 1522.3l3.2 5h-6.4z"/><path d="M904.1 1522.3l3.2 5h-6.4z"/><path d="M904.9 1522.3l3.2 5h-6.4z"/><path d="M900.1 1522l3.2 5h-6.4z"/><path d="M898.5 1521.7l3.2 5h-6.4z"/><path d="M902.3 1521.6l3.2 5h-6.4z"/><path d="M905.4 1520.7l3.2 5h-6.4z"/><path d="M900.1 1519.8l3.2 5h-6.4z"/><path d="M901 1519.3l3.2 5h-6.4z"/><path d="M904.8 1519l3.2 5h-6.4z"/><path d="M903.1 1518.7l3.2 5h-6.4z"/><path d="M902.7 1518.3l3.2 5h-6.4z"/><path d="M903.6 1517.4l3.2 5h-6.4z"/><path d="M899.6 1517.2l3.2 5h-6.4z"/><path d="M901.7 1516.1l3.2 5h-6.4z"/><path d="M900 1515.1l3.2 5h-6.4z"/><path d="M902.7 1514.3l3.2 5h-6.4z"/><path d="M903 1513l3.2 5h-6.4z"/><path d="M902.1 1512.4l3.2 5h-6.4z"/><path d="M903.8 1512.2l3.2 5h-6.4z"/><path d="M899.6 1512.2l3.2 5h-6.4z"/><path d="M901.8 1512.1l3.2 5h-6.4z"/><path d="M898.6 1511.7l3.2 5h-6.4z"/><path d="M900.2 1511.6l3.2 5h-6.4z"/><path d="M899.2 1511.1l3.2 5h-6.4z"/><path d="M900.6 1510.3l3.2 5h-6.4z"/><path d="M904.8 1509.9l3.2 5h-6.4z"/><path d="M904.9 1507.2l3.2 5h-6.4z"/><path d="M900.5 1413.8l3.2 5h-6.4z"/><path d="M902.4 1430.4l3.2 5h-6.4z"/><path d="M900.4 1462l3.2 5h-6.4z"/><path d="M900.2 1477.1l3.2 5h-6.4z"/><path d="M901.9 1483.1l3.2 5h-6.4z"/><path d="M905 1495.2l3.2 5h-6.4z"/><path d="M904.9 1496.7l3.2 5h-6.4z"/><path d="M904.7 1501.2l3.2 5h-6.4z"/></g><g class="ps"><circle cx="949" cy="1545.8" r="2.1"/><circle cx="946.9" cy="1544.5" r="2.1"/><circle cx="947.2" cy="1544.4" r="2.1"/><circle cx="947.1" cy="1542.1" r="2.1"/><circle cx="950.2" cy="1541.2" r="2.1"/><circle cx="946.1" cy="1540.2" r="2.1"/><circle cx="949.6" cy="1535.7" r="2.1"/><circle cx="945.9" cy="1534.3" r="2.1"/><circle cx="948.9" cy="1527.6" r="2.1"/><circle cx="948.5" cy="1525.3" r="2.1"/><circle cx="945.8" cy="1514.1" r="2.1"/><circle cx="948.7" cy="1513" r="2.1"/><circle cx="945.6" cy="1512.6" r="2.1"/><circle cx="948.5" cy="1491" r="2.1"/><circle cx="949.3" cy="1490.8" r="2.1"/><circle cx="946.4" cy="1477.8" r="2.1"/><circle cx="946.2" cy="1477.6" r="2.1"/><circle cx="946.3" cy="1466" r="2.1"/><circle cx="944.8" cy="1398.2" r="2.1"/></g><g fill="none" stroke="#2a2a2a" stroke-width="1.15" stroke-opacity="0.5"><path d="M974.6 1543.4l3.2 5h-6.4z"/><path d="M976.7 1542.5l3.2 5h-6.4z"/><path d="M975.3 1542.2l3.2 5h-6.4z"/><path d="M978.7 1542.2l3.2 5h-6.4z"/><path d="M979.6 1541.5l3.2 5h-6.4z"/><path d="M973 1540.9l3.2 5h-6.4z"/><path d="M973.2 1538.1l3.2 5h-6.4z"/><path d="M977.9 1536.3l3.2 5h-6.4z"/><path d="M979.7 1534.9l3.2 5h-6.4z"/><path d="M974.8 1534.4l3.2 5h-6.4z"/><path d="M977.3 1533.7l3.2 5h-6.4z"/><path d="M973 1533.5l3.2 5h-6.4z"/><path d="M978.1 1533.2l3.2 5h-6.4z"/><path d="M976.4 1531.6l3.2 5h-6.4z"/><path d="M979.8 1531.5l3.2 5h-6.4z"/><path d="M979.5 1531l3.2 5h-6.4z"/><path d="M973.7 1529.5l3.2 5h-6.4z"/><path d="M974.3 1524l3.2 5h-6.4z"/><path d="M977.2 1518.2l3.2 5h-6.4z"/><path d="M973.9 1515.2l3.2 5h-6.4z"/><path d="M977.1 1513.3l3.2 5h-6.4z"/><path d="M978.3 1510.3l3.2 5h-6.4z"/><path d="M976.6 1377.7l3.2 5h-6.4z"/><path d="M976 1489.2l3.2 5h-6.4z"/><path d="M979.8 1495.2l3.2 5h-6.4z"/><path d="M979 1498.2l3.2 5h-6.4z"/><path d="M978.1 1507.2l3.2 5h-6.4z"/></g><path d="M689.3 1154.4L689.3 1546.4" stroke="#000" stroke-width="1.3"/><path d="M685.8 1545.8h3.5M685.8 1470.5h3.5M685.8 1395.1h3.5M685.8 1319.8h3.5M685.8 1244.5h3.5" stroke="#000" stroke-width="1.2"/><text x="683" y="1476.1" text-anchor="end" style="font-size:15.5px">25</text><text x="683" y="1400.7" text-anchor="end" style="font-size:15.5px">50</text><text x="683" y="1325.4" text-anchor="end" style="font-size:15.5px">75</text><text x="683" y="1250.1" text-anchor="end" style="font-size:15.5px">100</text><path d="M688.7 1545.8L1007 1545.8" stroke="#000" stroke-width="1.3"/><path d="M734.1 1545.8v3.5M810.8 1545.8v3.5M886.8 1545.8v3.5M962.2 1545.8v3.5" stroke="#000" stroke-width="1.2"/><text x="745.6" y="1565.1" text-anchor="end" style="font-size:20.7px" transform="rotate(-24.5 745.6 1565.1)">NPC</text><text x="822.2" y="1565.1" text-anchor="end" style="font-size:20.7px" transform="rotate(-24.5 822.2 1565.1)">OP</text><text x="906" y="1563.8" text-anchor="end" style="font-size:20.7px" transform="rotate(-24.5 906 1563.8)">SARS−CoV−2−P</text><text x="974.8" y="1565.3" text-anchor="end" style="font-size:20.7px" transform="rotate(-24.5 974.8 1565.3)">OVP</text><text x="653.7" y="1336.6" text-anchor="middle" style="font-size:19.5px" transform="rotate(-90 653.7 1336.6)">Percent of total cells</text><path d="M825.2 1184.4L902 1184.4" stroke="#000" stroke-width="1.25"/><text x="863.6" y="1180.9" text-anchor="middle" style="font-size:16.7px">4.01e−02</text><path d="M719.3 1214.4L796 1214.4" stroke="#000" stroke-width="1.25"/><text x="757.6" y="1210.9" text-anchor="middle" style="font-size:16.7px">4.01e−02</text><path d="M871 1244.5L948 1244.5" stroke="#000" stroke-width="1.25"/><text x="909.5" y="1241" text-anchor="middle" style="font-size:16.7px">1.82e−02</text><path d="M795 1274.5L826 1274.5" stroke="#000" stroke-width="1.25"/><text x="810.5" y="1271" text-anchor="middle" style="font-size:16.7px">1.66e−02</text><path d="M719.3 1304.5L871.7 1304.5" stroke="#000" stroke-width="1.25"/><text x="795.5" y="1301" text-anchor="middle" style="font-size:16.7px">3.96e−05</text><path d="M795 1335L871.7 1335" stroke="#000" stroke-width="1.25"/><text x="833.4" y="1331.5" text-anchor="middle" style="font-size:16.7px">8.97e−06</text><path d="M871 1365.3L902 1365.3" stroke="#000" stroke-width="1.25"/><text x="886.5" y="1361.8" text-anchor="middle" style="font-size:16.7px">5.72e−09</text><text x="997.8" y="1165.7" style="font-size:20.5px">Diagnosis</text><rect x="1001.8" y="1178.1" width="11.6" height="10.7" fill="#1170b8"/><text x="1026.8" y="1188.9" style="font-size:17.1px">NPC</text><rect x="1001.8" y="1198.2" width="11.6" height="10.7" fill="#e88a2b"/><text x="1026.8" y="1209" style="font-size:17.1px">OP</text><rect x="1001.8" y="1218.2" width="11.6" height="10.7" fill="#c53e2c"/><text x="1026.8" y="1229" style="font-size:17.1px">SARS−CoV−2−P</text><rect x="1001.8" y="1238.3" width="11.6" height="10.7" fill="#1f8a4f"/><text x="1026.8" y="1249.1" style="font-size:17.1px">OVP</text><text x="997.8" y="1278.7" style="font-size:20.8px">Timing of BAL</text><text x="997.8" y="1295.7" style="font-size:20.8px">relative to intubation</text><rect x="996.8" y="1305.3" width="21" height="19.8" fill="#fff" stroke="#c8c8c8" stroke-width="0.9"/><rect x="996.8" y="1325.1" width="21" height="19.8" fill="#fff" stroke="#c8c8c8" stroke-width="0.9"/><circle cx="1007.3" cy="1315.2" r="2.6" fill="none" stroke="#000" stroke-width="1.1"/><path d="M1007.3 1332l3 5h-6z" fill="none" stroke="#000" stroke-width="1.1"/><text x="1026.8" y="1320.5" style="font-size:17.1px">≤ 48hrs</text><text x="1026.8" y="1340.1" style="font-size:17.1px">&gt; 48hrs</text><text transform="translate(0 1683.5) scale(0.9 1)" style="font-size:35.5px;font-weight:bold;stroke:#000;stroke-width:0.5px">n</text><path d="M120.7 1790.1V1884.7M120.7 2044.2V2071.5" stroke="#333" stroke-width="1.3"/><rect x="111" y="1884.7" width="19.5" height="159.6" fill="#1170b8" stroke="#333" stroke-width="1.3"/><path d="M111 1981.6h19.5" stroke="#333" stroke-width="2.6"/><path d="M149.6 1793V1820.9M149.6 1984.2V2071.5" stroke="#333" stroke-width="1.3"/><rect x="140.3" y="1820.9" width="18.5" height="163.3" fill="#94c1e2" stroke="#2a2a2a" stroke-width="2.5"/><path d="M140.3 1922.1h18.5" stroke="#333" stroke-width="2.8"/><path d="M196.3 1781.4V1808.7M196.3 1961.6V2071.5" stroke="#333" stroke-width="1.3"/><rect x="186.6" y="1808.7" width="19.5" height="152.9" fill="#e88a2b" stroke="#333" stroke-width="1.3"/><path d="M186.6 1856.2h19.5" stroke="#333" stroke-width="2.6"/><path d="M224.5 1781.4V1803.2M224.5 1961.6V2071.5" stroke="#333" stroke-width="1.3"/><rect x="215.2" y="1803.2" width="18.5" height="158.4" fill="#f5cf9f" stroke="#2a2a2a" stroke-width="2.5"/><path d="M215.2 1859.4h18.5" stroke="#333" stroke-width="2.8"/><path d="M272.3 1787.2V1944.7M272.3 2050.6V2068.6" stroke="#333" stroke-width="1.3"/><rect x="262.6" y="1944.7" width="19.5" height="105.9" fill="#c53e2c" stroke="#333" stroke-width="1.3"/><path d="M262.6 1993.5h19.5" stroke="#333" stroke-width="2.6"/><path d="M300.4 1784.3V1815.3M300.4 1988V2071.5" stroke="#333" stroke-width="1.3"/><rect x="291.1" y="1815.3" width="18.5" height="172.6" fill="#eeaea5" stroke="#2a2a2a" stroke-width="2.5"/><path d="M291.1 1869.6h18.5" stroke="#333" stroke-width="2.8"/><path d="M347.5 1784.3V1820.9M347.5 2014.1V2065.7" stroke="#333" stroke-width="1.3"/><rect x="337.8" y="1820.9" width="19.5" height="193.2" fill="#1f8a4f" stroke="#333" stroke-width="1.3"/><path d="M337.8 1976.6h19.5" stroke="#333" stroke-width="2.6"/><path d="M376.1 1795.9V1837.7M376.1 1994.3V2065.7" stroke="#333" stroke-width="1.3"/><rect x="366.9" y="1837.7" width="18.5" height="156.7" fill="#9fd1b4" stroke="#2a2a2a" stroke-width="2.5"/><path d="M366.9 1885.3h18.5" stroke="#333" stroke-width="2.8"/><g class="ps"><circle cx="121.9" cy="2071.5" r="2.1"/><circle cx="122.5" cy="2050.6" r="2.1"/><circle cx="121.4" cy="2049.1" r="2.1"/><circle cx="120.4" cy="2044.9" r="2.1"/><circle cx="122.4" cy="2036.1" r="2.1"/><circle cx="118" cy="2029.6" r="2.1"/><circle cx="117.4" cy="2025" r="2.1"/><circle cx="118.7" cy="2012.3" r="2.1"/><circle cx="122.3" cy="2004.6" r="2.1"/><circle cx="121" cy="1988.4" r="2.1"/><circle cx="119.3" cy="1965" r="2.1"/><circle cx="122" cy="1946.6" r="2.1"/><circle cx="119.6" cy="1925.5" r="2.1"/><circle cx="119.6" cy="1924" r="2.1"/><circle cx="122.7" cy="1889.1" r="2.1"/><circle cx="124" cy="1885.1" r="2.1"/><circle cx="124.1" cy="1856.7" r="2.1"/><circle cx="119.2" cy="1790.1" r="2.1"/></g><g fill="none" stroke="#2a2a2a" stroke-width="1.15" stroke-opacity="0.5"><path d="M147.2 2069.1l3.2 5h-6.4z"/><path d="M152.7 1990.8l3.2 5h-6.4z"/><path d="M148.9 1990.6l3.2 5h-6.4z"/><path d="M151.6 1989.4l3.2 5h-6.4z"/><path d="M149.7 1968.9l3.2 5h-6.4z"/><path d="M151 1966.8l3.2 5h-6.4z"/><path d="M150.7 1960.9l3.2 5h-6.4z"/><path d="M150.2 1944.8l3.2 5h-6.4z"/><path d="M152.6 1934.4l3.2 5h-6.4z"/><path d="M150 1879.8l3.2 5h-6.4z"/><path d="M149.9 1825.3l3.2 5h-6.4z"/><path d="M151.5 1816.9l3.2 5h-6.4z"/><path d="M149.3 1811.5l3.2 5h-6.4z"/><path d="M148.7 1790.6l3.2 5h-6.4z"/></g><g class="ps"><circle cx="198.5" cy="2071.5" r="2.1"/><circle cx="198" cy="2051" r="2.1"/><circle cx="193.6" cy="2043.4" r="2.1"/><circle cx="193.1" cy="2043.3" r="2.1"/><circle cx="193.3" cy="2040.1" r="2.1"/><circle cx="193.5" cy="2033" r="2.1"/><circle cx="197.7" cy="2027.3" r="2.1"/><circle cx="193.1" cy="2017.2" r="2.1"/><circle cx="198.1" cy="2012.6" r="2.1"/><circle cx="196.9" cy="2012.2" r="2.1"/><circle cx="199.3" cy="2008.8" r="2.1"/><circle cx="194.9" cy="2007.1" r="2.1"/><circle cx="199" cy="1994.7" r="2.1"/><circle cx="199.3" cy="1989.9" r="2.1"/><circle cx="196.2" cy="1981" r="2.1"/><circle cx="195.5" cy="1964.6" r="2.1"/><circle cx="196.5" cy="1951.6" r="2.1"/><circle cx="198.5" cy="1938.4" r="2.1"/><circle cx="198.9" cy="1919.8" r="2.1"/><circle cx="197.2" cy="1919" r="2.1"/><circle cx="194.2" cy="1918.9" r="2.1"/><circle cx="192.9" cy="1907.2" r="2.1"/><circle cx="198.6" cy="1901.1" r="2.1"/><circle cx="198.3" cy="1895.1" r="2.1"/><circle cx="195.2" cy="1892.2" r="2.1"/><circle cx="194.8" cy="1889.7" r="2.1"/><circle cx="198.8" cy="1881.7" r="2.1"/><circle cx="195.4" cy="1872.2" r="2.1"/><circle cx="193.9" cy="1872.1" r="2.1"/><circle cx="197.4" cy="1866.4" r="2.1"/><circle cx="199.7" cy="1863.4" r="2.1"/><circle cx="197.1" cy="1857.5" r="2.1"/><circle cx="193.3" cy="1854.1" r="2.1"/><circle cx="194.2" cy="1846.1" r="2.1"/><circle cx="195.1" cy="1840.5" r="2.1"/><circle cx="199.7" cy="1835.6" r="2.1"/><circle cx="194.2" cy="1835.6" r="2.1"/><circle cx="194.9" cy="1833.6" r="2.1"/><circle cx="193.1" cy="1828.1" r="2.1"/><circle cx="195" cy="1821.3" r="2.1"/><circle cx="198.8" cy="1821.2" r="2.1"/><circle cx="194.9" cy="1814.3" r="2.1"/><circle cx="198" cy="1812" r="2.1"/><circle cx="199.8" cy="1806" r="2.1"/><circle cx="193.7" cy="1805.8" r="2.1"/><circle cx="194.6" cy="1805.3" r="2.1"/><circle cx="195.4" cy="1799.8" r="2.1"/><circle cx="192.9" cy="1799.1" r="2.1"/><circle cx="193" cy="1799.1" r="2.1"/><circle cx="199.2" cy="1798.4" r="2.1"/><circle cx="199.7" cy="1795.7" r="2.1"/><circle cx="195.9" cy="1793.6" r="2.1"/><circle cx="199.2" cy="1791.3" r="2.1"/><circle cx="194.3" cy="1789.5" r="2.1"/><circle cx="195.6" cy="1784.8" r="2.1"/><circle cx="197.6" cy="1784.8" r="2.1"/><circle cx="194.8" cy="1784.8" r="2.1"/><circle cx="197.5" cy="1781.9" r="2.1"/><circle cx="197" cy="1781.8" r="2.1"/><circle cx="199.6" cy="1781.4" r="2.1"/></g><g fill="none" stroke="#2a2a2a" stroke-width="1.15" stroke-opacity="0.5"><path d="M222.2 2069.1l3.2 5h-6.4z"/><path d="M227.1 2055.8l3.2 5h-6.4z"/><path d="M226.3 2055.2l3.2 5h-6.4z"/><path d="M222.2 2053.9l3.2 5h-6.4z"/><path d="M221.1 2050.9l3.2 5h-6.4z"/><path d="M221.5 2046.8l3.2 5h-6.4z"/><path d="M224.6 2043.8l3.2 5h-6.4z"/><path d="M222.8 2025.8l3.2 5h-6.4z"/><path d="M226 2024.8l3.2 5h-6.4z"/><path d="M224.9 2018.8l3.2 5h-6.4z"/><path d="M223.7 2012l3.2 5h-6.4z"/><path d="M224.9 2005.4l3.2 5h-6.4z"/><path d="M226.1 2004.6l3.2 5h-6.4z"/><path d="M226 2001.4l3.2 5h-6.4z"/><path d="M222 2000.7l3.2 5h-6.4z"/><path d="M222.8 1996.1l3.2 5h-6.4z"/><path d="M222.4 1986.6l3.2 5h-6.4z"/><path d="M225.2 1982.9l3.2 5h-6.4z"/><path d="M227.7 1963.6l3.2 5h-6.4z"/><path d="M224.3 1962.5l3.2 5h-6.4z"/><path d="M221.4 1961.6l3.2 5h-6.4z"/><path d="M223.7 1952l3.2 5h-6.4z"/><path d="M223 1951.5l3.2 5h-6.4z"/><path d="M224.2 1948.5l3.2 5h-6.4z"/><path d="M227.8 1947.2l3.2 5h-6.4z"/><path d="M227.8 1944.8l3.2 5h-6.4z"/><path d="M224.9 1934.2l3.2 5h-6.4z"/><path d="M226.1 1932.2l3.2 5h-6.4z"/><path d="M221.2 1927.9l3.2 5h-6.4z"/><path d="M225.1 1927.8l3.2 5h-6.4z"/><path d="M225.3 1922.3l3.2 5h-6.4z"/><path d="M226.9 1921.3l3.2 5h-6.4z"/><path d="M224 1914.8l3.2 5h-6.4z"/><path d="M223.9 1910.1l3.2 5h-6.4z"/><path d="M227 1904.8l3.2 5h-6.4z"/><path d="M222 1886.6l3.2 5h-6.4z"/><path d="M227.7 1885.2l3.2 5h-6.4z"/><path d="M225.9 1884.1l3.2 5h-6.4z"/><path d="M227.1 1884.1l3.2 5h-6.4z"/><path d="M227.1 1872.9l3.2 5h-6.4z"/><path d="M223.8 1862.7l3.2 5h-6.4z"/><path d="M227.5 1853.3l3.2 5h-6.4z"/><path d="M226 1851.1l3.2 5h-6.4z"/><path d="M225.4 1851l3.2 5h-6.4z"/><path d="M221.9 1850.4l3.2 5h-6.4z"/><path d="M224.5 1849.7l3.2 5h-6.4z"/><path d="M224.9 1848.3l3.2 5h-6.4z"/><path d="M222 1847.7l3.2 5h-6.4z"/><path d="M223.3 1841.8l3.2 5h-6.4z"/><path d="M224.4 1840.3l3.2 5h-6.4z"/><path d="M222.5 1839.7l3.2 5h-6.4z"/><path d="M222.7 1836.2l3.2 5h-6.4z"/><path d="M223.8 1829.6l3.2 5h-6.4z"/><path d="M221.9 1824.4l3.2 5h-6.4z"/><path d="M223.2 1821.7l3.2 5h-6.4z"/><path d="M223.8 1820.5l3.2 5h-6.4z"/><path d="M222.8 1819l3.2 5h-6.4z"/><path d="M222.6 1818.7l3.2 5h-6.4z"/><path d="M223.9 1804.1l3.2 5h-6.4z"/><path d="M225.7 1803.6l3.2 5h-6.4z"/><path d="M221.4 1800.2l3.2 5h-6.4z"/><path d="M223.3 1799.7l3.2 5h-6.4z"/><path d="M223 1798.9l3.2 5h-6.4z"/><path d="M225.1 1797.8l3.2 5h-6.4z"/><path d="M221.7 1797.5l3.2 5h-6.4z"/><path d="M221.8 1796.4l3.2 5h-6.4z"/><path d="M227.6 1796.3l3.2 5h-6.4z"/><path d="M224.8 1794.9l3.2 5h-6.4z"/><path d="M225.2 1794l3.2 5h-6.4z"/><path d="M222.1 1792.7l3.2 5h-6.4z"/><path d="M221.1 1792.3l3.2 5h-6.4z"/><path d="M221.6 1790.8l3.2 5h-6.4z"/><path d="M221.3 1790.5l3.2 5h-6.4z"/><path d="M223.5 1790.3l3.2 5h-6.4z"/><path d="M222.7 1789l3.2 5h-6.4z"/><path d="M227.7 1788.3l3.2 5h-6.4z"/><path d="M221.3 1787.3l3.2 5h-6.4z"/><path d="M221 1785.7l3.2 5h-6.4z"/><path d="M221.6 1785.4l3.2 5h-6.4z"/><path d="M221.1 1785.1l3.2 5h-6.4z"/><path d="M224.4 1784.6l3.2 5h-6.4z"/><path d="M223.8 1784.5l3.2 5h-6.4z"/><path d="M223.1 1783.5l3.2 5h-6.4z"/><path d="M227.7 1783l3.2 5h-6.4z"/><path d="M226.2 1781.9l3.2 5h-6.4z"/><path d="M222.3 1781.1l3.2 5h-6.4z"/><path d="M221.7 1780.6l3.2 5h-6.4z"/><path d="M227.2 1780.3l3.2 5h-6.4z"/><path d="M227 1779l3.2 5h-6.4z"/><path d="M221.5 1779l3.2 5h-6.4z"/></g><g class="ps"><circle cx="274.1" cy="2068.6" r="2.1"/><circle cx="269.8" cy="2064.8" r="2.1"/><circle cx="274.5" cy="2064.8" r="2.1"/><circle cx="273.7" cy="2058.8" r="2.1"/><circle cx="270.1" cy="2058.3" r="2.1"/><circle cx="271.9" cy="2055.7" r="2.1"/><circle cx="273.4" cy="2050.6" r="2.1"/><circle cx="270.1" cy="2046.5" r="2.1"/><circle cx="270.2" cy="2034.8" r="2.1"/><circle cx="270.1" cy="2030.5" r="2.1"/><circle cx="269.3" cy="2023.6" r="2.1"/><circle cx="275.5" cy="2008.3" r="2.1"/><circle cx="270.3" cy="2000.4" r="2.1"/><circle cx="272.6" cy="1994" r="2.1"/><circle cx="270.1" cy="1972.3" r="2.1"/><circle cx="270.7" cy="1967.8" r="2.1"/><circle cx="275" cy="1966.9" r="2.1"/><circle cx="270.1" cy="1961.3" r="2.1"/><circle cx="269.3" cy="1956.9" r="2.1"/><circle cx="274.7" cy="1956.6" r="2.1"/><circle cx="272.4" cy="1949.5" r="2.1"/><circle cx="271.9" cy="1949.4" r="2.1"/><circle cx="275.4" cy="1929" r="2.1"/><circle cx="271.3" cy="1926.1" r="2.1"/><circle cx="274.3" cy="1895.4" r="2.1"/><circle cx="271.6" cy="1887.9" r="2.1"/><circle cx="271.8" cy="1877.5" r="2.1"/><circle cx="273.9" cy="1849.3" r="2.1"/><circle cx="271.6" cy="1831" r="2.1"/><circle cx="269" cy="1787.2" r="2.1"/></g><g fill="none" stroke="#2a2a2a" stroke-width="1.15" stroke-opacity="0.5"><path d="M297 2069.1l3.2 5h-6.4z"/><path d="M299.1 2058.6l3.2 5h-6.4z"/><path d="M299.1 2058.5l3.2 5h-6.4z"/><path d="M303.6 2051.8l3.2 5h-6.4z"/><path d="M298.9 2047.9l3.2 5h-6.4z"/><path d="M302.3 2046.9l3.2 5h-6.4z"/><path d="M298.1 2046.7l3.2 5h-6.4z"/><path d="M298.3 2045.2l3.2 5h-6.4z"/><path d="M301.5 2044.4l3.2 5h-6.4z"/><path d="M300.9 2043.2l3.2 5h-6.4z"/><path d="M300.8 2042.7l3.2 5h-6.4z"/><path d="M298 2037.8l3.2 5h-6.4z"/><path d="M302.8 2033.7l3.2 5h-6.4z"/><path d="M302.8 2031.5l3.2 5h-6.4z"/><path d="M298.6 2026.8l3.2 5h-6.4z"/><path d="M300.9 2020.8l3.2 5h-6.4z"/><path d="M299.2 2019l3.2 5h-6.4z"/><path d="M298.2 2016.7l3.2 5h-6.4z"/><path d="M303.5 2014.8l3.2 5h-6.4z"/><path d="M300.8 2014l3.2 5h-6.4z"/><path d="M297.6 2011.5l3.2 5h-6.4z"/><path d="M300 2001.5l3.2 5h-6.4z"/><path d="M298.7 2000.9l3.2 5h-6.4z"/><path d="M303.7 1997.5l3.2 5h-6.4z"/><path d="M298.9 1996.2l3.2 5h-6.4z"/><path d="M300.2 1995.4l3.2 5h-6.4z"/><path d="M299.2 1991.7l3.2 5h-6.4z"/><path d="M297.7 1987.2l3.2 5h-6.4z"/><path d="M303.1 1981.9l3.2 5h-6.4z"/><path d="M301.8 1981.6l3.2 5h-6.4z"/><path d="M303.3 1979.1l3.2 5h-6.4z"/><path d="M302.9 1975.5l3.2 5h-6.4z"/><path d="M301.1 1973.6l3.2 5h-6.4z"/><path d="M301 1960.2l3.2 5h-6.4z"/><path d="M301.8 1954.8l3.2 5h-6.4z"/><path d="M299.6 1952l3.2 5h-6.4z"/><path d="M302 1950.1l3.2 5h-6.4z"/><path d="M297.8 1946l3.2 5h-6.4z"/><path d="M301 1940.4l3.2 5h-6.4z"/><path d="M301.8 1930.4l3.2 5h-6.4z"/><path d="M297.9 1930.1l3.2 5h-6.4z"/><path d="M297.2 1930l3.2 5h-6.4z"/><path d="M299.8 1924.7l3.2 5h-6.4z"/><path d="M302.3 1923.6l3.2 5h-6.4z"/><path d="M299.1 1923.4l3.2 5h-6.4z"/><path d="M298.1 1923.4l3.2 5h-6.4z"/><path d="M301.8 1917.8l3.2 5h-6.4z"/><path d="M302 1914.7l3.2 5h-6.4z"/><path d="M298.9 1911.4l3.2 5h-6.4z"/><path d="M298 1906.9l3.2 5h-6.4z"/><path d="M300 1905.5l3.2 5h-6.4z"/><path d="M298.2 1903.2l3.2 5h-6.4z"/><path d="M297 1892.5l3.2 5h-6.4z"/><path d="M302.7 1882.3l3.2 5h-6.4z"/><path d="M300.6 1882.3l3.2 5h-6.4z"/><path d="M298.2 1878.2l3.2 5h-6.4z"/><path d="M299 1871.8l3.2 5h-6.4z"/><path d="M299.1 1871.1l3.2 5h-6.4z"/><path d="M299.9 1869l3.2 5h-6.4z"/><path d="M303.4 1868.1l3.2 5h-6.4z"/><path d="M302.5 1867.5l3.2 5h-6.4z"/><path d="M297.7 1867l3.2 5h-6.4z"/><path d="M301.9 1865l3.2 5h-6.4z"/><path d="M300.1 1861.1l3.2 5h-6.4z"/><path d="M298.7 1856.1l3.2 5h-6.4z"/><path d="M297.4 1854.6l3.2 5h-6.4z"/><path d="M301.3 1853.7l3.2 5h-6.4z"/><path d="M303.7 1852.7l3.2 5h-6.4z"/><path d="M297.1 1851.2l3.2 5h-6.4z"/><path d="M303.3 1850l3.2 5h-6.4z"/><path d="M302.9 1849.1l3.2 5h-6.4z"/><path d="M299.2 1848.8l3.2 5h-6.4z"/><path d="M301.9 1847.4l3.2 5h-6.4z"/><path d="M301.8 1844.1l3.2 5h-6.4z"/><path d="M301.8 1844l3.2 5h-6.4z"/><path d="M301.3 1838l3.2 5h-6.4z"/><path d="M302.6 1836.6l3.2 5h-6.4z"/><path d="M302.9 1830.5l3.2 5h-6.4z"/><path d="M298.6 1828.8l3.2 5h-6.4z"/><path d="M300.5 1827.4l3.2 5h-6.4z"/><path d="M303.3 1826.1l3.2 5h-6.4z"/><path d="M297.6 1821.8l3.2 5h-6.4z"/><path d="M300.8 1820.2l3.2 5h-6.4z"/><path d="M302.5 1819.1l3.2 5h-6.4z"/><path d="M303.2 1818.8l3.2 5h-6.4z"/><path d="M301.5 1816.1l3.2 5h-6.4z"/><path d="M300.6 1814.6l3.2 5h-6.4z"/><path d="M300.4 1814l3.2 5h-6.4z"/><path d="M298.8 1810.8l3.2 5h-6.4z"/><path d="M299.3 1810.6l3.2 5h-6.4z"/><path d="M301.7 1810.5l3.2 5h-6.4z"/><path d="M303.1 1810.1l3.2 5h-6.4z"/><path d="M303.5 1809.4l3.2 5h-6.4z"/><path d="M303.4 1808.5l3.2 5h-6.4z"/><path d="M298.8 1808.1l3.2 5h-6.4z"/><path d="M298.6 1807.4l3.2 5h-6.4z"/><path d="M297.5 1807l3.2 5h-6.4z"/><path d="M303.2 1804.8l3.2 5h-6.4z"/><path d="M300.8 1804.8l3.2 5h-6.4z"/><path d="M299.2 1804.5l3.2 5h-6.4z"/><path d="M301.4 1804.3l3.2 5h-6.4z"/><path d="M302.7 1804.3l3.2 5h-6.4z"/><path d="M302 1804.3l3.2 5h-6.4z"/><path d="M298.2 1804l3.2 5h-6.4z"/><path d="M300.8 1803.1l3.2 5h-6.4z"/><path d="M297 1802l3.2 5h-6.4z"/><path d="M298.9 1799.4l3.2 5h-6.4z"/><path d="M300.9 1798.9l3.2 5h-6.4z"/><path d="M301.4 1798.8l3.2 5h-6.4z"/><path d="M298.4 1798.4l3.2 5h-6.4z"/><path d="M301.7 1798.3l3.2 5h-6.4z"/><path d="M299.4 1796.9l3.2 5h-6.4z"/><path d="M297.3 1796.7l3.2 5h-6.4z"/><path d="M303.8 1794.3l3.2 5h-6.4z"/><path d="M300.8 1793.8l3.2 5h-6.4z"/><path d="M301.1 1792.6l3.2 5h-6.4z"/><path d="M298 1791.9l3.2 5h-6.4z"/><path d="M302.2 1788.5l3.2 5h-6.4z"/><path d="M297.4 1787.6l3.2 5h-6.4z"/><path d="M298 1781.9l3.2 5h-6.4z"/></g><g class="ps"><circle cx="344.3" cy="2065.7" r="2.1"/><circle cx="345.5" cy="2039.5" r="2.1"/><circle cx="346.1" cy="2037.4" r="2.1"/><circle cx="347.1" cy="2033" r="2.1"/><circle cx="348.8" cy="2029.4" r="2.1"/><circle cx="349.3" cy="2010.9" r="2.1"/><circle cx="350.3" cy="1999.4" r="2.1"/><circle cx="349.6" cy="1995.9" r="2.1"/><circle cx="346.2" cy="1986.7" r="2.1"/><circle cx="350.9" cy="1984.9" r="2.1"/><circle cx="346.4" cy="1979" r="2.1"/><circle cx="345" cy="1861.2" r="2.1"/><circle cx="350.2" cy="1818.5" r="2.1"/><circle cx="350.4" cy="1809.9" r="2.1"/><circle cx="347" cy="1808.7" r="2.1"/><circle cx="345.3" cy="1797.2" r="2.1"/><circle cx="346.2" cy="1796.3" r="2.1"/><circle cx="350.6" cy="1784.3" r="2.1"/></g><g fill="none" stroke="#2a2a2a" stroke-width="1.15" stroke-opacity="0.5"><path d="M379.4 2063.3l3.2 5h-6.4z"/><path d="M376.5 2060.8l3.2 5h-6.4z"/><path d="M378.2 2060.4l3.2 5h-6.4z"/><path d="M378.3 2053l3.2 5h-6.4z"/><path d="M376.6 2043.1l3.2 5h-6.4z"/><path d="M374.2 2035.1l3.2 5h-6.4z"/><path d="M374.8 2027.2l3.2 5h-6.4z"/><path d="M378.6 2015.2l3.2 5h-6.4z"/><path d="M379.4 2009.5l3.2 5h-6.4z"/><path d="M374 2009.3l3.2 5h-6.4z"/><path d="M377.4 1933.3l3.2 5h-6.4z"/><path d="M378 1887.1l3.2 5h-6.4z"/><path d="M373.9 1863.8l3.2 5h-6.4z"/><path d="M376.6 1854.7l3.2 5h-6.4z"/><path d="M377.3 1840.6l3.2 5h-6.4z"/><path d="M375.3 1837.3l3.2 5h-6.4z"/><path d="M375.3 1833.3l3.2 5h-6.4z"/><path d="M374.9 1825.3l3.2 5h-6.4z"/><path d="M377.8 1817.9l3.2 5h-6.4z"/><path d="M378.9 1800.7l3.2 5h-6.4z"/><path d="M376.8 1798.5l3.2 5h-6.4z"/><path d="M373.2 1793.5l3.2 5h-6.4z"/></g><path d="M89.3 1680L89.3 2072.1" stroke="#000" stroke-width="1.3"/><path d="M85.8 2071.5h3.5M85.8 1999h3.5M85.8 1926.5h3.5M85.8 1853.9h3.5M85.8 1781.4h3.5" stroke="#000" stroke-width="1.2"/><text x="83" y="2004.7" text-anchor="end" style="font-size:15.8px">25</text><text x="83" y="1932.1" text-anchor="end" style="font-size:15.8px">50</text><text x="83" y="1859.6" text-anchor="end" style="font-size:15.8px">75</text><text x="83" y="1787.1" text-anchor="end" style="font-size:15.8px">100</text><path d="M88.7 2071.5L407 2071.5" stroke="#000" stroke-width="1.3"/><path d="M135.2 2071.5v3.5M210.4 2071.5v3.5M286.4 2071.5v3.5M361.8 2071.5v3.5" stroke="#000" stroke-width="1.2"/><text x="146.7" y="2090.8" text-anchor="end" style="font-size:20.7px" transform="rotate(-24.5 146.7 2090.8)">NPC</text><text x="221.9" y="2090.8" text-anchor="end" style="font-size:20.7px" transform="rotate(-24.5 221.9 2090.8)">OP</text><text x="305.7" y="2089.5" text-anchor="end" style="font-size:20.7px" transform="rotate(-24.5 305.7 2089.5)">SARS−CoV−2−P</text><text x="374.4" y="2091" text-anchor="end" style="font-size:20.7px" transform="rotate(-24.5 374.4 2091)">OVP</text><text x="44.3" y="1861" text-anchor="middle" style="font-size:19.5px" transform="rotate(-90 44.3 1861)">Percent of total cells</text><path d="M119.3 1709L196 1709" stroke="#000" stroke-width="1.25"/><text x="157.7" y="1705.5" text-anchor="middle" style="font-size:16.7px">1.48e−02</text><path d="M271 1737.5L302 1737.5" stroke="#000" stroke-width="1.25"/><text x="286.5" y="1734" text-anchor="middle" style="font-size:16.7px">1.55e−04</text><path d="M195 1766.4L272 1766.4" stroke="#000" stroke-width="1.25"/><text x="233.5" y="1762.9" text-anchor="middle" style="font-size:16.7px">4.43e−05</text><text x="397.8" y="1691.3" style="font-size:20.5px">Diagnosis</text><rect x="401.8" y="1703.7" width="11.6" height="10.7" fill="#1170b8"/><text x="426.8" y="1714.5" style="font-size:17.1px">NPC</text><rect x="401.8" y="1723.8" width="11.6" height="10.7" fill="#e88a2b"/><text x="426.8" y="1734.5" style="font-size:17.1px">OP</text><rect x="401.8" y="1743.8" width="11.6" height="10.7" fill="#c53e2c"/><text x="426.8" y="1754.6" style="font-size:17.1px">SARS−CoV−2−P</text><rect x="401.8" y="1763.9" width="11.6" height="10.7" fill="#1f8a4f"/><text x="426.8" y="1774.7" style="font-size:17.1px">OVP</text><text x="397.8" y="1804.3" style="font-size:20.8px">Timing of BAL</text><text x="397.8" y="1821.3" style="font-size:20.8px">relative to intubation</text><rect x="396.8" y="1830.9" width="21" height="19.8" fill="#fff" stroke="#c8c8c8" stroke-width="0.9"/><rect x="396.8" y="1850.7" width="21" height="19.8" fill="#fff" stroke="#c8c8c8" stroke-width="0.9"/><circle cx="407.3" cy="1840.8" r="2.6" fill="none" stroke="#000" stroke-width="1.1"/><path d="M407.3 1857.6l3 5h-6z" fill="none" stroke="#000" stroke-width="1.1"/><text x="426.8" y="1846.1" style="font-size:17.1px">≤ 48hrs</text><text x="426.8" y="1865.7" style="font-size:17.1px">&gt; 48hrs</text><text transform="translate(0.5 2214.5) scale(0.9 1)" style="font-size:35.5px;font-weight:bold;stroke:#000;stroke-width:0.5px">q</text><path d="M117.8 2283.5V2344.8M117.8 2527.8V2600.4" stroke="#333" stroke-width="1.3"/><rect x="108" y="2344.8" width="19.5" height="183" fill="#1170b8" stroke="#333" stroke-width="1.3"/><path d="M108 2465.8h19.5" stroke="#333" stroke-width="2.6"/><path d="M146 2269.8V2417.4M146 2585.4V2590.2" stroke="#333" stroke-width="1.3"/><rect x="136.8" y="2417.4" width="18.5" height="168" fill="#94c1e2" stroke="#2a2a2a" stroke-width="2.5"/><path d="M136.8 2520h18.5" stroke="#333" stroke-width="2.8"/><path d="M193.6 2355V2497.1M193.6 2592.9V2600.4" stroke="#333" stroke-width="1.3"/><rect x="183.8" y="2497.1" width="19.5" height="95.8" fill="#e88a2b" stroke="#333" stroke-width="1.3"/><path d="M183.8 2566h19.5" stroke="#333" stroke-width="2.6"/><path d="M222.2 2263V2457.9M222.2 2590.2V2600.4" stroke="#333" stroke-width="1.3"/><rect x="212.9" y="2457.9" width="18.5" height="132.2" fill="#f5cf9f" stroke="#2a2a2a" stroke-width="2.5"/><path d="M212.9 2559.8h18.5" stroke="#333" stroke-width="2.8"/><path d="M269.8 2368.7V2468.5M269.8 2555.1V2597" stroke="#333" stroke-width="1.3"/><rect x="260.1" y="2468.5" width="19.5" height="86.6" fill="#c53e2c" stroke="#333" stroke-width="1.3"/><path d="M260.1 2523h19.5" stroke="#333" stroke-width="2.6"/><path d="M297.6 2378.9V2499.2M297.6 2586.4V2600.4" stroke="#333" stroke-width="1.3"/><rect x="288.4" y="2499.2" width="18.5" height="87.2" fill="#eeaea5" stroke="#2a2a2a" stroke-width="2.5"/><path d="M288.4 2557.5h18.5" stroke="#333" stroke-width="2.8"/><path d="M344.7 2344.8V2420.1M344.7 2585.4V2600.4" stroke="#333" stroke-width="1.3"/><rect x="334.9" y="2420.1" width="19.5" height="165.3" fill="#1f8a4f" stroke="#333" stroke-width="1.3"/><path d="M334.9 2538.7h19.5" stroke="#333" stroke-width="2.6"/><path d="M373.6 2324.4V2450.8M373.6 2581V2597" stroke="#333" stroke-width="1.3"/><rect x="364.4" y="2450.8" width="18.5" height="130.2" fill="#9fd1b4" stroke="#2a2a2a" stroke-width="2.5"/><path d="M364.4 2510.4h18.5" stroke="#333" stroke-width="2.8"/><g class="ps"><circle cx="119.3" cy="2600.4" r="2.1"/><circle cx="118.4" cy="2487.4" r="2.1"/><circle cx="115.2" cy="2476.3" r="2.1"/><circle cx="114.7" cy="2467.8" r="2.1"/><circle cx="115.1" cy="2440.8" r="2.1"/><circle cx="119.6" cy="2422.7" r="2.1"/><circle cx="114.7" cy="2418.4" r="2.1"/><circle cx="115.9" cy="2414.6" r="2.1"/><circle cx="118.8" cy="2413.4" r="2.1"/><circle cx="117.1" cy="2378" r="2.1"/><circle cx="114.5" cy="2362" r="2.1"/><circle cx="121" cy="2351.5" r="2.1"/><circle cx="120.4" cy="2347.1" r="2.1"/><circle cx="114.4" cy="2328.2" r="2.1"/><circle cx="118.4" cy="2314.9" r="2.1"/><circle cx="120.8" cy="2309.4" r="2.1"/><circle cx="115.1" cy="2302.8" r="2.1"/><circle cx="117.7" cy="2283.5" r="2.1"/></g><g fill="none" stroke="#2a2a2a" stroke-width="1.15" stroke-opacity="0.5"><path d="M146.9 2587.8l3.2 5h-6.4z"/><path d="M146.3 2586.4l3.2 5h-6.4z"/><path d="M144.3 2586.3l3.2 5h-6.4z"/><path d="M145.2 2583.9l3.2 5h-6.4z"/><path d="M146.2 2574.9l3.2 5h-6.4z"/><path d="M146.9 2550.3l3.2 5h-6.4z"/><path d="M148.8 2545.9l3.2 5h-6.4z"/><path d="M146.5 2534.7l3.2 5h-6.4z"/><path d="M148.7 2533l3.2 5h-6.4z"/><path d="M146.6 2524.9l3.2 5h-6.4z"/><path d="M146.5 2476.6l3.2 5h-6.4z"/><path d="M143.5 2461.6l3.2 5h-6.4z"/><path d="M147.3 2420.4l3.2 5h-6.4z"/><path d="M149.5 2279.4l3.2 5h-6.4z"/><path d="M144 2267.4l3.2 5h-6.4z"/></g><g class="ps"><circle cx="195.3" cy="2600.4" r="2.1"/><circle cx="194.5" cy="2597.9" r="2.1"/><circle cx="194.2" cy="2597.1" r="2.1"/><circle cx="194.2" cy="2596.8" r="2.1"/><circle cx="191.2" cy="2596.5" r="2.1"/><circle cx="196.1" cy="2596" r="2.1"/><circle cx="194.7" cy="2595.8" r="2.1"/><circle cx="190.8" cy="2595" r="2.1"/><circle cx="193.8" cy="2594.5" r="2.1"/><circle cx="191.6" cy="2593.8" r="2.1"/><circle cx="193.3" cy="2593.6" r="2.1"/><circle cx="195.5" cy="2593.3" r="2.1"/><circle cx="190.4" cy="2591.8" r="2.1"/><circle cx="195.3" cy="2587.6" r="2.1"/><circle cx="192.9" cy="2580.1" r="2.1"/><circle cx="190.8" cy="2579.2" r="2.1"/><circle cx="190.8" cy="2576.8" r="2.1"/><circle cx="196.9" cy="2576.4" r="2.1"/><circle cx="193" cy="2575.3" r="2.1"/><circle cx="192" cy="2574.2" r="2.1"/><circle cx="195.5" cy="2567.3" r="2.1"/><circle cx="190.1" cy="2566.2" r="2.1"/><circle cx="196.8" cy="2562.2" r="2.1"/><circle cx="193.9" cy="2552.4" r="2.1"/><circle cx="190.6" cy="2547.4" r="2.1"/><circle cx="194.1" cy="2542.5" r="2.1"/><circle cx="196.1" cy="2536.3" r="2.1"/><circle cx="193.8" cy="2532.6" r="2.1"/><circle cx="190.4" cy="2528.1" r="2.1"/><circle cx="192.7" cy="2523" r="2.1"/><circle cx="191.2" cy="2500.3" r="2.1"/><circle cx="190.2" cy="2481.5" r="2.1"/><circle cx="195" cy="2478.3" r="2.1"/><circle cx="195" cy="2462.8" r="2.1"/><circle cx="190.8" cy="2461.6" r="2.1"/><circle cx="192.9" cy="2447.3" r="2.1"/><circle cx="195.1" cy="2445.8" r="2.1"/><circle cx="191.5" cy="2444.3" r="2.1"/><circle cx="193.9" cy="2436.2" r="2.1"/><circle cx="191.1" cy="2428.2" r="2.1"/><circle cx="190.6" cy="2427.5" r="2.1"/><circle cx="195.2" cy="2423" r="2.1"/><circle cx="192.3" cy="2408.7" r="2.1"/><circle cx="194.7" cy="2408.2" r="2.1"/><circle cx="194.5" cy="2397" r="2.1"/><circle cx="196" cy="2391.8" r="2.1"/><circle cx="190.8" cy="2374.9" r="2.1"/><circle cx="193.5" cy="2374" r="2.1"/><circle cx="190.5" cy="2370" r="2.1"/><circle cx="195.7" cy="2355" r="2.1"/><circle cx="193.4" cy="2271.5" r="2.1"/><circle cx="195" cy="2324.4" r="2.1"/><circle cx="196.3" cy="2327.8" r="2.1"/><circle cx="194.7" cy="2334.6" r="2.1"/></g><g fill="none" stroke="#2a2a2a" stroke-width="1.15" stroke-opacity="0.5"><path d="M222.3 2598l3.2 5h-6.4z"/><path d="M225.4 2597.6l3.2 5h-6.4z"/><path d="M224.6 2596.9l3.2 5h-6.4z"/><path d="M221.1 2596.8l3.2 5h-6.4z"/><path d="M223 2596l3.2 5h-6.4z"/><path d="M221 2595.8l3.2 5h-6.4z"/><path d="M224.2 2595.8l3.2 5h-6.4z"/><path d="M223.8 2595.7l3.2 5h-6.4z"/><path d="M219.9 2595.5l3.2 5h-6.4z"/><path d="M224.2 2595.4l3.2 5h-6.4z"/><path d="M225.4 2595.2l3.2 5h-6.4z"/><path d="M223.1 2594.8l3.2 5h-6.4z"/><path d="M224.4 2594.7l3.2 5h-6.4z"/><path d="M221.2 2594.7l3.2 5h-6.4z"/><path d="M219.4 2594.5l3.2 5h-6.4z"/><path d="M223.7 2593.9l3.2 5h-6.4z"/><path d="M223.9 2593.6l3.2 5h-6.4z"/><path d="M223.1 2593.2l3.2 5h-6.4z"/><path d="M224.9 2592.8l3.2 5h-6.4z"/><path d="M219.8 2592.4l3.2 5h-6.4z"/><path d="M222.4 2592.2l3.2 5h-6.4z"/><path d="M219.4 2591.3l3.2 5h-6.4z"/><path d="M224.4 2591.3l3.2 5h-6.4z"/><path d="M220.2 2591.2l3.2 5h-6.4z"/><path d="M219.5 2590.4l3.2 5h-6.4z"/><path d="M224.4 2590.3l3.2 5h-6.4z"/><path d="M222.2 2590.2l3.2 5h-6.4z"/><path d="M223.4 2590.2l3.2 5h-6.4z"/><path d="M224.4 2590.1l3.2 5h-6.4z"/><path d="M224 2590l3.2 5h-6.4z"/><path d="M225.6 2589.4l3.2 5h-6.4z"/><path d="M224.5 2588.6l3.2 5h-6.4z"/><path d="M225 2588.4l3.2 5h-6.4z"/><path d="M219.8 2588.4l3.2 5h-6.4z"/><path d="M219.2 2588.1l3.2 5h-6.4z"/><path d="M224.9 2585.1l3.2 5h-6.4z"/><path d="M221.7 2584.8l3.2 5h-6.4z"/><path d="M224.6 2584.5l3.2 5h-6.4z"/><path d="M224.8 2584.4l3.2 5h-6.4z"/><path d="M223.7 2582.8l3.2 5h-6.4z"/><path d="M221.7 2582.7l3.2 5h-6.4z"/><path d="M223.4 2580l3.2 5h-6.4z"/><path d="M222.5 2578.1l3.2 5h-6.4z"/><path d="M223.7 2577.9l3.2 5h-6.4z"/><path d="M219.2 2576.8l3.2 5h-6.4z"/><path d="M220.9 2574.8l3.2 5h-6.4z"/><path d="M222.4 2572.5l3.2 5h-6.4z"/><path d="M223 2571.6l3.2 5h-6.4z"/><path d="M220.9 2571.4l3.2 5h-6.4z"/><path d="M221 2567.2l3.2 5h-6.4z"/><path d="M219.2 2565.2l3.2 5h-6.4z"/><path d="M224.9 2563.1l3.2 5h-6.4z"/><path d="M225.1 2561.6l3.2 5h-6.4z"/><path d="M220.5 2560.8l3.2 5h-6.4z"/><path d="M220.6 2559.2l3.2 5h-6.4z"/><path d="M219.5 2548.4l3.2 5h-6.4z"/><path d="M223.5 2533.4l3.2 5h-6.4z"/><path d="M223.2 2512l3.2 5h-6.4z"/><path d="M221.4 2511.7l3.2 5h-6.4z"/><path d="M224.3 2511.3l3.2 5h-6.4z"/><path d="M224.4 2509.7l3.2 5h-6.4z"/><path d="M219.1 2504.8l3.2 5h-6.4z"/><path d="M219.1 2503.8l3.2 5h-6.4z"/><path d="M223.4 2496.9l3.2 5h-6.4z"/><path d="M220.9 2495l3.2 5h-6.4z"/><path d="M224.9 2486.3l3.2 5h-6.4z"/><path d="M219.9 2480.7l3.2 5h-6.4z"/><path d="M220.9 2476l3.2 5h-6.4z"/><path d="M219.6 2472.4l3.2 5h-6.4z"/><path d="M224.7 2468.9l3.2 5h-6.4z"/><path d="M224.9 2468.1l3.2 5h-6.4z"/><path d="M223.1 2465.1l3.2 5h-6.4z"/><path d="M225.6 2465l3.2 5h-6.4z"/><path d="M223.6 2447.6l3.2 5h-6.4z"/><path d="M220.2 2438.2l3.2 5h-6.4z"/><path d="M221.2 2422.9l3.2 5h-6.4z"/><path d="M224.7 2412.2l3.2 5h-6.4z"/><path d="M220.9 2408.4l3.2 5h-6.4z"/><path d="M220.9 2401l3.2 5h-6.4z"/><path d="M223.7 2400.3l3.2 5h-6.4z"/><path d="M224.6 2397l3.2 5h-6.4z"/><path d="M225.2 2390.3l3.2 5h-6.4z"/><path d="M223.4 2387.1l3.2 5h-6.4z"/><path d="M219.5 2380.9l3.2 5h-6.4z"/><path d="M220 2377.3l3.2 5h-6.4z"/><path d="M224.4 2367.6l3.2 5h-6.4z"/><path d="M221 2357.8l3.2 5h-6.4z"/><path d="M224 2350.4l3.2 5h-6.4z"/><path d="M219.4 2341.5l3.2 5h-6.4z"/><path d="M221.5 2329.8l3.2 5h-6.4z"/><path d="M223.9 2324.7l3.2 5h-6.4z"/><path d="M223.5 2322.6l3.2 5h-6.4z"/><path d="M224.1 2321.3l3.2 5h-6.4z"/><path d="M224 2305.7l3.2 5h-6.4z"/><path d="M223.2 2301.3l3.2 5h-6.4z"/><path d="M225.5 2299.9l3.2 5h-6.4z"/><path d="M223.1 2293.2l3.2 5h-6.4z"/><path d="M220.7 2289.4l3.2 5h-6.4z"/><path d="M223.4 2286.1l3.2 5h-6.4z"/><path d="M221.6 2260.6l3.2 5h-6.4z"/></g><g class="ps"><circle cx="266.5" cy="2597" r="2.1"/><circle cx="271" cy="2595.5" r="2.1"/><circle cx="269.4" cy="2589.6" r="2.1"/><circle cx="268.1" cy="2587.5" r="2.1"/><circle cx="268.8" cy="2585" r="2.1"/><circle cx="267.5" cy="2582.7" r="2.1"/><circle cx="267.2" cy="2574.6" r="2.1"/><circle cx="269.1" cy="2571.4" r="2.1"/><circle cx="269.5" cy="2553.7" r="2.1"/><circle cx="267.5" cy="2552.7" r="2.1"/><circle cx="266.5" cy="2542.3" r="2.1"/><circle cx="267.3" cy="2537.2" r="2.1"/><circle cx="271.4" cy="2534.8" r="2.1"/><circle cx="272.7" cy="2532.6" r="2.1"/><circle cx="273.2" cy="2512.4" r="2.1"/><circle cx="267.6" cy="2511.3" r="2.1"/><circle cx="269.5" cy="2510" r="2.1"/><circle cx="273" cy="2503.9" r="2.1"/><circle cx="267.3" cy="2502.3" r="2.1"/><circle cx="272.6" cy="2484.1" r="2.1"/><circle cx="266.8" cy="2474.4" r="2.1"/><circle cx="269.4" cy="2472.9" r="2.1"/><circle cx="268.6" cy="2471.8" r="2.1"/><circle cx="271.5" cy="2438.3" r="2.1"/><circle cx="273.1" cy="2426.5" r="2.1"/><circle cx="269.8" cy="2409.1" r="2.1"/><circle cx="272.7" cy="2394.8" r="2.1"/><circle cx="272.6" cy="2392.9" r="2.1"/><circle cx="271.8" cy="2391.8" r="2.1"/><circle cx="268.8" cy="2368.7" r="2.1"/></g><g fill="none" stroke="#2a2a2a" stroke-width="1.15" stroke-opacity="0.5"><path d="M296 2598l3.2 5h-6.4z"/><path d="M296.3 2596l3.2 5h-6.4z"/><path d="M296.8 2595.9l3.2 5h-6.4z"/><path d="M299.2 2595.6l3.2 5h-6.4z"/><path d="M299.3 2595.5l3.2 5h-6.4z"/><path d="M300.3 2595.5l3.2 5h-6.4z"/><path d="M295.5 2595.4l3.2 5h-6.4z"/><path d="M299.8 2594.6l3.2 5h-6.4z"/><path d="M294.3 2594.5l3.2 5h-6.4z"/><path d="M300.8 2593.3l3.2 5h-6.4z"/><path d="M299.7 2592l3.2 5h-6.4z"/><path d="M300.3 2591.2l3.2 5h-6.4z"/><path d="M296.7 2590.6l3.2 5h-6.4z"/><path d="M295.9 2590.6l3.2 5h-6.4z"/><path d="M296.1 2589.5l3.2 5h-6.4z"/><path d="M296.1 2589.1l3.2 5h-6.4z"/><path d="M299.3 2588.7l3.2 5h-6.4z"/><path d="M297.5 2588.5l3.2 5h-6.4z"/><path d="M300.3 2588.5l3.2 5h-6.4z"/><path d="M296.3 2587.2l3.2 5h-6.4z"/><path d="M294.1 2586.9l3.2 5h-6.4z"/><path d="M294.4 2586.3l3.2 5h-6.4z"/><path d="M300 2586l3.2 5h-6.4z"/><path d="M298.2 2585.9l3.2 5h-6.4z"/><path d="M300.2 2585.8l3.2 5h-6.4z"/><path d="M295.5 2585.2l3.2 5h-6.4z"/><path d="M296.6 2584.7l3.2 5h-6.4z"/><path d="M299.3 2584.3l3.2 5h-6.4z"/><path d="M297.7 2583.3l3.2 5h-6.4z"/><path d="M298.9 2582.5l3.2 5h-6.4z"/><path d="M299.9 2581.3l3.2 5h-6.4z"/><path d="M295.5 2579.2l3.2 5h-6.4z"/><path d="M294.8 2578.4l3.2 5h-6.4z"/><path d="M300 2577.9l3.2 5h-6.4z"/><path d="M297.1 2576.1l3.2 5h-6.4z"/><path d="M299.5 2574.7l3.2 5h-6.4z"/><path d="M301 2574.3l3.2 5h-6.4z"/><path d="M294.9 2573.8l3.2 5h-6.4z"/><path d="M296 2572.8l3.2 5h-6.4z"/><path d="M301 2571.8l3.2 5h-6.4z"/><path d="M296.6 2571.3l3.2 5h-6.4z"/><path d="M300.4 2570.3l3.2 5h-6.4z"/><path d="M298.4 2569.3l3.2 5h-6.4z"/><path d="M298.5 2569l3.2 5h-6.4z"/><path d="M294.5 2568.5l3.2 5h-6.4z"/><path d="M294.6 2567.5l3.2 5h-6.4z"/><path d="M299.2 2566l3.2 5h-6.4z"/><path d="M299.3 2565.7l3.2 5h-6.4z"/><path d="M296.2 2565.1l3.2 5h-6.4z"/><path d="M299 2563.6l3.2 5h-6.4z"/><path d="M300.3 2563.1l3.2 5h-6.4z"/><path d="M294.9 2562.5l3.2 5h-6.4z"/><path d="M297.3 2561.8l3.2 5h-6.4z"/><path d="M300.3 2561.7l3.2 5h-6.4z"/><path d="M294.8 2561.6l3.2 5h-6.4z"/><path d="M296.3 2561.5l3.2 5h-6.4z"/><path d="M299.2 2560.8l3.2 5h-6.4z"/><path d="M300.4 2560.4l3.2 5h-6.4z"/><path d="M299.6 2560l3.2 5h-6.4z"/><path d="M294.3 2558.5l3.2 5h-6.4z"/><path d="M297 2557.3l3.2 5h-6.4z"/><path d="M295.3 2556.8l3.2 5h-6.4z"/><path d="M294.5 2555.8l3.2 5h-6.4z"/><path d="M296.8 2554.7l3.2 5h-6.4z"/><path d="M296.4 2553.3l3.2 5h-6.4z"/><path d="M299.4 2538.6l3.2 5h-6.4z"/><path d="M297.8 2536.8l3.2 5h-6.4z"/><path d="M296.1 2535.9l3.2 5h-6.4z"/><path d="M297.8 2532.7l3.2 5h-6.4z"/><path d="M296.5 2531.6l3.2 5h-6.4z"/><path d="M296.3 2530.5l3.2 5h-6.4z"/><path d="M299.2 2528.8l3.2 5h-6.4z"/><path d="M295.2 2526l3.2 5h-6.4z"/><path d="M294.2 2520.9l3.2 5h-6.4z"/><path d="M294.1 2519.5l3.2 5h-6.4z"/><path d="M296.4 2519l3.2 5h-6.4z"/><path d="M297.4 2518.3l3.2 5h-6.4z"/><path d="M300.9 2518.1l3.2 5h-6.4z"/><path d="M300.8 2516.8l3.2 5h-6.4z"/><path d="M295.2 2513.4l3.2 5h-6.4z"/><path d="M298.9 2512.9l3.2 5h-6.4z"/><path d="M294.2 2511.9l3.2 5h-6.4z"/><path d="M298.8 2507.5l3.2 5h-6.4z"/><path d="M301 2502.2l3.2 5h-6.4z"/><path d="M298.3 2500.3l3.2 5h-6.4z"/><path d="M298.9 2498.6l3.2 5h-6.4z"/><path d="M298.6 2491.7l3.2 5h-6.4z"/><path d="M294.2 2491.7l3.2 5h-6.4z"/><path d="M296.1 2490.4l3.2 5h-6.4z"/><path d="M297.2 2490.1l3.2 5h-6.4z"/><path d="M297.8 2487.8l3.2 5h-6.4z"/><path d="M297.9 2487.2l3.2 5h-6.4z"/><path d="M298.8 2486.2l3.2 5h-6.4z"/><path d="M297.2 2484.7l3.2 5h-6.4z"/><path d="M296.1 2477.9l3.2 5h-6.4z"/><path d="M299 2474.2l3.2 5h-6.4z"/><path d="M294.5 2465.9l3.2 5h-6.4z"/><path d="M294.6 2460.2l3.2 5h-6.4z"/><path d="M297.5 2451.5l3.2 5h-6.4z"/><path d="M296.8 2451l3.2 5h-6.4z"/><path d="M296.1 2441.2l3.2 5h-6.4z"/><path d="M296.2 2439l3.2 5h-6.4z"/><path d="M299.9 2438.2l3.2 5h-6.4z"/><path d="M298.5 2435.9l3.2 5h-6.4z"/><path d="M294.2 2427.4l3.2 5h-6.4z"/><path d="M295.8 2424.5l3.2 5h-6.4z"/><path d="M297.1 2423.9l3.2 5h-6.4z"/><path d="M295.8 2423.8l3.2 5h-6.4z"/><path d="M297 2421.6l3.2 5h-6.4z"/><path d="M297.5 2417.2l3.2 5h-6.4z"/><path d="M294.9 2413.8l3.2 5h-6.4z"/><path d="M296.7 2411.6l3.2 5h-6.4z"/><path d="M297.7 2409l3.2 5h-6.4z"/><path d="M297.3 2408.7l3.2 5h-6.4z"/><path d="M298.5 2404.8l3.2 5h-6.4z"/><path d="M296.6 2402.5l3.2 5h-6.4z"/><path d="M296.6 2401l3.2 5h-6.4z"/><path d="M297.2 2388.9l3.2 5h-6.4z"/><path d="M299.8 2383.2l3.2 5h-6.4z"/><path d="M300.6 2376.5l3.2 5h-6.4z"/><path d="M298 2293l3.2 5h-6.4z"/><path d="M299.4 2296.4l3.2 5h-6.4z"/><path d="M297.5 2320.2l3.2 5h-6.4z"/><path d="M299.1 2333.9l3.2 5h-6.4z"/><path d="M297.3 2350.9l3.2 5h-6.4z"/></g><g class="ps"><circle cx="347.9" cy="2600.4" r="2.1"/><circle cx="341.5" cy="2595.9" r="2.1"/><circle cx="344.4" cy="2586.7" r="2.1"/><circle cx="344.7" cy="2572.7" r="2.1"/><circle cx="342" cy="2568" r="2.1"/><circle cx="341.9" cy="2551" r="2.1"/><circle cx="342" cy="2536.1" r="2.1"/><circle cx="341.8" cy="2512.4" r="2.1"/><circle cx="342.3" cy="2493.7" r="2.1"/><circle cx="343" cy="2477.5" r="2.1"/><circle cx="347" cy="2439" r="2.1"/><circle cx="342.3" cy="2436.9" r="2.1"/><circle cx="346.1" cy="2397.6" r="2.1"/><circle cx="346.7" cy="2375.4" r="2.1"/><circle cx="347.9" cy="2364.4" r="2.1"/><circle cx="342.7" cy="2353.2" r="2.1"/><circle cx="345.5" cy="2353.2" r="2.1"/><circle cx="341.7" cy="2344.8" r="2.1"/></g><g fill="none" stroke="#2a2a2a" stroke-width="1.15" stroke-opacity="0.5"><path d="M373.5 2594.6l3.2 5h-6.4z"/><path d="M370.2 2581.8l3.2 5h-6.4z"/><path d="M371.3 2580.2l3.2 5h-6.4z"/><path d="M370.6 2574.1l3.2 5h-6.4z"/><path d="M373.2 2558.4l3.2 5h-6.4z"/><path d="M376.8 2544.9l3.2 5h-6.4z"/><path d="M376.6 2539.9l3.2 5h-6.4z"/><path d="M373 2523.1l3.2 5h-6.4z"/><path d="M376.9 2512.6l3.2 5h-6.4z"/><path d="M371.7 2504.1l3.2 5h-6.4z"/><path d="M372.8 2501.6l3.2 5h-6.4z"/><path d="M376.4 2497.1l3.2 5h-6.4z"/><path d="M373.6 2493.3l3.2 5h-6.4z"/><path d="M371.9 2489.1l3.2 5h-6.4z"/><path d="M374.4 2484.5l3.2 5h-6.4z"/><path d="M371.4 2459.6l3.2 5h-6.4z"/><path d="M374.1 2424.3l3.2 5h-6.4z"/><path d="M372.6 2395.7l3.2 5h-6.4z"/><path d="M371.9 2390.5l3.2 5h-6.4z"/><path d="M371.2 2339.4l3.2 5h-6.4z"/><path d="M374 2338.7l3.2 5h-6.4z"/><path d="M375.2 2322l3.2 5h-6.4z"/></g><path d="M87 2209.3L87 2601" stroke="#000" stroke-width="1.3"/><path d="M83.5 2600.4h3.5M83.5 2515.2h3.5M83.5 2430h3.5M83.5 2344.8h3.5M83.5 2259.6h3.5" stroke="#000" stroke-width="1.2"/><text x="80.7" y="2520.9" text-anchor="end" style="font-size:15.8px">25</text><text x="80.7" y="2435.7" text-anchor="end" style="font-size:15.8px">50</text><text x="80.7" y="2350.5" text-anchor="end" style="font-size:15.8px">75</text><text x="80.7" y="2265.3" text-anchor="end" style="font-size:15.8px">100</text><path d="M86.4 2600.4L404.2 2600.4" stroke="#000" stroke-width="1.3"/><path d="M131.9 2600.4v3.5M207.9 2600.4v3.5M283.7 2600.4v3.5M359.1 2600.4v3.5" stroke="#000" stroke-width="1.2"/><text x="143.4" y="2619.7" text-anchor="end" style="font-size:20.7px" transform="rotate(-24.5 143.4 2619.7)">NPC</text><text x="219.4" y="2619.7" text-anchor="end" style="font-size:20.7px" transform="rotate(-24.5 219.4 2619.7)">OP</text><text x="303" y="2618.4" text-anchor="end" style="font-size:20.7px" transform="rotate(-24.5 303 2618.4)">SARS−CoV−2−P</text><text x="371.8" y="2619.9" text-anchor="end" style="font-size:20.7px" transform="rotate(-24.5 371.8 2619.9)">OVP</text><text x="45" y="2390.2" text-anchor="middle" style="font-size:19.5px" transform="rotate(-90 45 2390.2)">Percent of total cells</text><path d="M117 2242L193.3 2242" stroke="#000" stroke-width="1.25"/><text x="155.2" y="2238.5" text-anchor="middle" style="font-size:16.7px">1.05e−02</text><text x="394" y="2220.6" style="font-size:20.5px">Diagnosis</text><rect x="398" y="2233" width="11.6" height="10.7" fill="#1170b8"/><text x="423" y="2243.8" style="font-size:17.1px">NPC</text><rect x="398" y="2253" width="11.6" height="10.7" fill="#e88a2b"/><text x="423" y="2263.8" style="font-size:17.1px">OP</text><rect x="398" y="2273.1" width="11.6" height="10.7" fill="#c53e2c"/><text x="423" y="2283.9" style="font-size:17.1px">SARS−CoV−2−P</text><rect x="398" y="2293.1" width="11.6" height="10.7" fill="#1f8a4f"/><text x="423" y="2303.9" style="font-size:17.1px">OVP</text><text x="394" y="2333.6" style="font-size:20.8px">Timing of BAL</text><text x="394" y="2350.6" style="font-size:20.8px">relative to intubation</text><rect x="393" y="2360.2" width="21" height="19.8" fill="#fff" stroke="#c8c8c8" stroke-width="0.9"/><rect x="393" y="2380" width="21" height="19.8" fill="#fff" stroke="#c8c8c8" stroke-width="0.9"/><circle cx="403.5" cy="2370.1" r="2.6" fill="none" stroke="#000" stroke-width="1.1"/><path d="M403.5 2386.9l3 5h-6z" fill="none" stroke="#000" stroke-width="1.1"/><text x="423" y="2375.4" style="font-size:17.1px">≤ 48hrs</text><text x="423" y="2395" style="font-size:17.1px">&gt; 48hrs</text><text transform="translate(0 1160) scale(0.9 1)" style="font-size:35.5px;font-weight:bold;stroke:#000;stroke-width:0.5px">k</text><path d="M120 1289.3V1408.5M120 1508.7V1540" stroke="#333" stroke-width="1.3"/><rect x="111.8" y="1408.5" width="16.3" height="100.3" fill="#c53e2c" stroke="#333" stroke-width="1.3"/><path d="M111.8 1481.4h16.3" stroke="#333" stroke-width="2.6"/><path d="M144.4 1279.5V1413.7M144.4 1504.8V1533.5" stroke="#333" stroke-width="1.3"/><rect x="136.2" y="1413.7" width="16.3" height="91.2" fill="#e28d85" stroke="#333" stroke-width="1.3"/><path d="M136.2 1469.7h16.3" stroke="#333" stroke-width="2.6"/><path d="M185.6 1312.1V1438.1M185.6 1530.6V1540" stroke="#333" stroke-width="1.3"/><rect x="177.4" y="1438.1" width="16.3" height="92.5" fill="#c53e2c" stroke="#333" stroke-width="1.3"/><path d="M177.4 1493.1h16.3" stroke="#333" stroke-width="2.6"/><path d="M210.3 1406.5V1484M210.3 1537.4V1540" stroke="#333" stroke-width="1.3"/><rect x="202.2" y="1484" width="16.3" height="53.4" fill="#e28d85" stroke="#333" stroke-width="1.3"/><path d="M202.2 1535.1h16.3" stroke="#333" stroke-width="2.6"/><g class="ps"><circle cx="117.2" cy="1540" r="2.1"/><circle cx="119.5" cy="1537.1" r="2.1"/><circle cx="124.6" cy="1535.7" r="2.1"/><circle cx="115.8" cy="1526.7" r="2.1"/><circle cx="116.2" cy="1522.5" r="2.1"/><circle cx="119.5" cy="1516.3" r="2.1"/><circle cx="117.2" cy="1514.9" r="2.1"/><circle cx="123.7" cy="1513.7" r="2.1"/><circle cx="115.9" cy="1511.3" r="2.1"/><circle cx="123.9" cy="1505.7" r="2.1"/><circle cx="115.4" cy="1500.3" r="2.1"/><circle cx="117.3" cy="1493.4" r="2.1"/><circle cx="115.1" cy="1492.4" r="2.1"/><circle cx="116.2" cy="1490.1" r="2.1"/><circle cx="118.7" cy="1489.1" r="2.1"/><circle cx="118.6" cy="1482.1" r="2.1"/><circle cx="116.4" cy="1469.3" r="2.1"/><circle cx="117" cy="1467.7" r="2.1"/><circle cx="118.8" cy="1459.2" r="2.1"/><circle cx="115.4" cy="1434.6" r="2.1"/><circle cx="124.3" cy="1422.8" r="2.1"/><circle cx="123" cy="1422.7" r="2.1"/><circle cx="115.4" cy="1419.3" r="2.1"/><circle cx="118.1" cy="1417.4" r="2.1"/><circle cx="117.6" cy="1407.3" r="2.1"/><circle cx="121.8" cy="1405.7" r="2.1"/><circle cx="122.5" cy="1384" r="2.1"/><circle cx="115.6" cy="1379.8" r="2.1"/><circle cx="121.6" cy="1314.9" r="2.1"/><circle cx="115.1" cy="1289.3" r="2.1"/><circle cx="116" cy="1336.5" r="2.1"/><circle cx="119.8" cy="1372.3" r="2.1"/><circle cx="116.3" cy="1393.5" r="2.1"/><circle cx="116.2" cy="1396.7" r="2.1"/></g><g class="ps"><circle cx="144.6" cy="1533.5" r="2.1"/><circle cx="139.5" cy="1417.6" r="2.1"/><circle cx="148" cy="1405.2" r="2.1"/><circle cx="145.1" cy="1279.5" r="2.1"/><circle cx="144" cy="1403.2" r="2.1"/><circle cx="142.5" cy="1442.3" r="2.1"/></g><g class="ps"><circle cx="182.1" cy="1540" r="2.1"/><circle cx="189.4" cy="1539.2" r="2.1"/><circle cx="189" cy="1538.9" r="2.1"/><circle cx="186" cy="1537.6" r="2.1"/><circle cx="182.5" cy="1537.2" r="2.1"/><circle cx="187.2" cy="1536.8" r="2.1"/><circle cx="185.8" cy="1536.5" r="2.1"/><circle cx="184.9" cy="1536" r="2.1"/><circle cx="187.8" cy="1535.1" r="2.1"/><circle cx="183.3" cy="1534.4" r="2.1"/><circle cx="186.5" cy="1534.2" r="2.1"/><circle cx="189.4" cy="1534.1" r="2.1"/><circle cx="183.3" cy="1533.6" r="2.1"/><circle cx="180.7" cy="1533.5" r="2.1"/><circle cx="186.5" cy="1533.1" r="2.1"/><circle cx="183.1" cy="1532.5" r="2.1"/><circle cx="181.4" cy="1531.4" r="2.1"/><circle cx="183.9" cy="1531.3" r="2.1"/><circle cx="185" cy="1530.2" r="2.1"/><circle cx="183.6" cy="1527.6" r="2.1"/><circle cx="185.2" cy="1527.2" r="2.1"/><circle cx="189.7" cy="1524.4" r="2.1"/><circle cx="184.3" cy="1523" r="2.1"/><circle cx="183" cy="1520.8" r="2.1"/><circle cx="181.6" cy="1519.9" r="2.1"/><circle cx="180.9" cy="1518.7" r="2.1"/><circle cx="189.2" cy="1518.3" r="2.1"/><circle cx="188" cy="1518.2" r="2.1"/><circle cx="182.9" cy="1517.4" r="2.1"/><circle cx="184.4" cy="1516.6" r="2.1"/><circle cx="190.2" cy="1514.4" r="2.1"/><circle cx="184" cy="1507.7" r="2.1"/><circle cx="182" cy="1503.4" r="2.1"/><circle cx="186.9" cy="1500.3" r="2.1"/><circle cx="190.4" cy="1499.3" r="2.1"/><circle cx="184.7" cy="1497.7" r="2.1"/><circle cx="188.8" cy="1497.1" r="2.1"/><circle cx="187.9" cy="1496.5" r="2.1"/><circle cx="186.9" cy="1495.7" r="2.1"/><circle cx="182.8" cy="1492.5" r="2.1"/><circle cx="181.8" cy="1487" r="2.1"/><circle cx="187.6" cy="1475.5" r="2.1"/><circle cx="187.3" cy="1472.1" r="2.1"/><circle cx="189.8" cy="1466.9" r="2.1"/><circle cx="182.4" cy="1461.1" r="2.1"/><circle cx="182.9" cy="1454.4" r="2.1"/><circle cx="190" cy="1452.7" r="2.1"/><circle cx="184.3" cy="1451.3" r="2.1"/><circle cx="187.6" cy="1447.9" r="2.1"/><circle cx="189.5" cy="1447.3" r="2.1"/><circle cx="186" cy="1444.5" r="2.1"/><circle cx="180.7" cy="1430.6" r="2.1"/><circle cx="188.8" cy="1426.4" r="2.1"/><circle cx="190.2" cy="1423.8" r="2.1"/><circle cx="187.5" cy="1421.2" r="2.1"/><circle cx="183.5" cy="1418.5" r="2.1"/><circle cx="185" cy="1415.3" r="2.1"/><circle cx="184" cy="1407.5" r="2.1"/><circle cx="182.5" cy="1381.3" r="2.1"/><circle cx="185.9" cy="1371.6" r="2.1"/><circle cx="189.1" cy="1366.1" r="2.1"/><circle cx="186.3" cy="1364.8" r="2.1"/><circle cx="188.6" cy="1364.7" r="2.1"/><circle cx="185.5" cy="1353.9" r="2.1"/><circle cx="181.5" cy="1350.4" r="2.1"/><circle cx="181.9" cy="1348" r="2.1"/><circle cx="181.3" cy="1346.4" r="2.1"/><circle cx="188.1" cy="1332.9" r="2.1"/><circle cx="184.7" cy="1325.7" r="2.1"/><circle cx="183.9" cy="1312.1" r="2.1"/><circle cx="189.9" cy="1235.6" r="2.1"/><circle cx="186.2" cy="1242.1" r="2.1"/><circle cx="185.6" cy="1269.8" r="2.1"/></g><g class="ps"><circle cx="205.5" cy="1540" r="2.1"/><circle cx="212.2" cy="1539.8" r="2.1"/><circle cx="209.4" cy="1539.7" r="2.1"/><circle cx="207.2" cy="1539.6" r="2.1"/><circle cx="208.6" cy="1539.5" r="2.1"/><circle cx="214.4" cy="1539.4" r="2.1"/><circle cx="207" cy="1539.2" r="2.1"/><circle cx="210.7" cy="1539" r="2.1"/><circle cx="207.3" cy="1539" r="2.1"/><circle cx="214.8" cy="1538.9" r="2.1"/><circle cx="206.4" cy="1538.9" r="2.1"/><circle cx="205.5" cy="1538.8" r="2.1"/><circle cx="206.5" cy="1538.8" r="2.1"/><circle cx="215" cy="1538.5" r="2.1"/><circle cx="208.8" cy="1538.4" r="2.1"/><circle cx="213.5" cy="1538.3" r="2.1"/><circle cx="206.4" cy="1538.3" r="2.1"/><circle cx="207.9" cy="1538.3" r="2.1"/><circle cx="213.6" cy="1538.1" r="2.1"/><circle cx="209.7" cy="1538" r="2.1"/><circle cx="206.5" cy="1537.8" r="2.1"/><circle cx="212.8" cy="1537.6" r="2.1"/><circle cx="213.3" cy="1537.4" r="2.1"/><circle cx="212.5" cy="1537.3" r="2.1"/><circle cx="208.3" cy="1537.3" r="2.1"/><circle cx="214" cy="1536.9" r="2.1"/><circle cx="205.9" cy="1536.7" r="2.1"/><circle cx="212.6" cy="1536.6" r="2.1"/><circle cx="211.6" cy="1536.6" r="2.1"/><circle cx="210" cy="1536.4" r="2.1"/><circle cx="209.9" cy="1536.1" r="2.1"/><circle cx="211.8" cy="1536" r="2.1"/><circle cx="213.5" cy="1536" r="2.1"/><circle cx="211.9" cy="1536" r="2.1"/><circle cx="214.9" cy="1535.9" r="2.1"/><circle cx="214" cy="1535.9" r="2.1"/><circle cx="213.5" cy="1535.8" r="2.1"/><circle cx="214.8" cy="1535.7" r="2.1"/><circle cx="206.3" cy="1535.7" r="2.1"/><circle cx="212.8" cy="1535.6" r="2.1"/><circle cx="210.8" cy="1535.5" r="2.1"/><circle cx="214.8" cy="1535.5" r="2.1"/><circle cx="208.2" cy="1535.4" r="2.1"/><circle cx="212.3" cy="1535.2" r="2.1"/><circle cx="211.2" cy="1535.2" r="2.1"/><circle cx="209" cy="1531.4" r="2.1"/><circle cx="213.1" cy="1530.8" r="2.1"/><circle cx="213.6" cy="1529" r="2.1"/><circle cx="212.7" cy="1525.5" r="2.1"/><circle cx="212" cy="1524.9" r="2.1"/><circle cx="206.2" cy="1523.6" r="2.1"/><circle cx="210" cy="1520" r="2.1"/><circle cx="212.2" cy="1518.8" r="2.1"/><circle cx="212.8" cy="1513.7" r="2.1"/><circle cx="214.3" cy="1511.5" r="2.1"/><circle cx="205.3" cy="1510.5" r="2.1"/><circle cx="209.2" cy="1509.5" r="2.1"/><circle cx="213.9" cy="1509.1" r="2.1"/><circle cx="210.1" cy="1504.8" r="2.1"/><circle cx="206.7" cy="1503.3" r="2.1"/><circle cx="205.9" cy="1502" r="2.1"/><circle cx="211.8" cy="1501.5" r="2.1"/><circle cx="206.9" cy="1501.2" r="2.1"/><circle cx="209.7" cy="1501.1" r="2.1"/><circle cx="209.5" cy="1500.9" r="2.1"/><circle cx="209.1" cy="1497.4" r="2.1"/><circle cx="209.6" cy="1496.7" r="2.1"/><circle cx="211.3" cy="1488" r="2.1"/><circle cx="212.7" cy="1487.9" r="2.1"/><circle cx="214" cy="1487" r="2.1"/><circle cx="210.3" cy="1486.7" r="2.1"/><circle cx="214.7" cy="1486.2" r="2.1"/><circle cx="205.7" cy="1482.8" r="2.1"/><circle cx="206.3" cy="1482.6" r="2.1"/><circle cx="205.5" cy="1476.8" r="2.1"/><circle cx="207.8" cy="1475.4" r="2.1"/><circle cx="210.4" cy="1472" r="2.1"/><circle cx="215" cy="1471.5" r="2.1"/><circle cx="208.3" cy="1470" r="2.1"/><circle cx="206.4" cy="1465.7" r="2.1"/><circle cx="207.2" cy="1465.5" r="2.1"/><circle cx="206.2" cy="1464.9" r="2.1"/><circle cx="207.2" cy="1452.6" r="2.1"/><circle cx="207.5" cy="1444.4" r="2.1"/><circle cx="207.5" cy="1434.5" r="2.1"/><circle cx="209.9" cy="1434.4" r="2.1"/><circle cx="205.7" cy="1424.7" r="2.1"/><circle cx="207.4" cy="1417.1" r="2.1"/><circle cx="205.3" cy="1417" r="2.1"/><circle cx="212.2" cy="1406.5" r="2.1"/><circle cx="212.8" cy="1243.7" r="2.1"/><circle cx="215.2" cy="1248.6" r="2.1"/><circle cx="213.7" cy="1290.9" r="2.1"/><circle cx="213.6" cy="1352.8" r="2.1"/><circle cx="207.9" cy="1375.6" r="2.1"/><circle cx="213.9" cy="1382.1" r="2.1"/><circle cx="208.4" cy="1393.5" r="2.1"/><circle cx="212.1" cy="1395.1" r="2.1"/></g><path d="M92.5 1150L92.5 1540.6" stroke="#000" stroke-width="1.3"/><path d="M89 1540h3.5M89 1458.6h3.5M89 1377.2h3.5M89 1295.8h3.5M89 1214.4h3.5" stroke="#000" stroke-width="1.2"/><text x="86.2" y="1463.6" text-anchor="end" style="font-size:13.8px">25</text><text x="86.2" y="1382.2" text-anchor="end" style="font-size:13.8px">50</text><text x="86.2" y="1300.8" text-anchor="end" style="font-size:13.8px">75</text><text x="86.2" y="1219.4" text-anchor="end" style="font-size:13.8px">100</text><path d="M91.9 1540L275.3 1540" stroke="#000" stroke-width="1.3"/><path d="M131.5 1540v3.5M199.3 1540v3.5" stroke="#000" stroke-width="1.2"/><text x="134.7" y="1563.8" text-anchor="middle" style="font-size:20.2px">Early</text><text x="199.3" y="1563.8" text-anchor="middle" style="font-size:20.2px">Late</text><text x="59.3" y="1326.5" text-anchor="middle" style="font-size:19.2px" transform="rotate(-90 59.3 1326.5)">Percent of total cells</text><path d="M184 1182.4L212 1182.4" stroke="#000" stroke-width="1.25"/><text x="198" y="1178.9" text-anchor="middle" style="font-size:15.5px">4.64e−03</text><path d="M118.6 1214.6L212 1214.6" stroke="#000" stroke-width="1.25"/><text x="165.3" y="1211.1" text-anchor="middle" style="font-size:15.5px">1.20e−03</text><text x="255" y="1176.6" style="font-size:20.8px">Infection status</text><rect x="262" y="1189.2" width="10" height="9.3" fill="#c53e2c"/><text x="281.4" y="1198.3" style="font-size:17.2px">SARS−CoV−2−P only</text><rect x="262" y="1208" width="10" height="9.3" fill="#e28d85"/><text x="281.4" y="1217.2" style="font-size:17.2px">SARS−CoV−2−P with</text><text x="279.7" y="1236.6" style="font-size:17.2px">bacterial superinfection</text><text transform="translate(1222 1685) scale(0.9 1)" style="font-size:35.5px;font-weight:bold;stroke:#000;stroke-width:0.5px">p</text><path d="M1307 1776.1V1932.3M1307 2054.7V2069.2" stroke="#333" stroke-width="1.3"/><rect x="1298.6" y="1932.3" width="16.8" height="122.4" fill="#c53e2c" stroke="#333" stroke-width="1.3"/><path d="M1298.6 1981.6h16.8" stroke="#333" stroke-width="2.6"/><path d="M1331.3 1954.4V1967.4M1331.3 2012.1V2048" stroke="#333" stroke-width="1.3"/><rect x="1322.9" y="1967.4" width="16.8" height="44.7" fill="#e28d85" stroke="#333" stroke-width="1.3"/><path d="M1322.9 2008.8h16.8" stroke="#333" stroke-width="2.6"/><path d="M1371.7 1773V1809.3M1371.7 2010V2069.2" stroke="#333" stroke-width="1.3"/><rect x="1363.3" y="1809.3" width="16.8" height="200.7" fill="#c53e2c" stroke="#333" stroke-width="1.3"/><path d="M1363.3 1914.2h16.8" stroke="#333" stroke-width="2.6"/><path d="M1396 1773V1802.4M1396 1948.3V2060.1" stroke="#333" stroke-width="1.3"/><rect x="1387.6" y="1802.4" width="16.8" height="146" fill="#e28d85" stroke="#333" stroke-width="1.3"/><path d="M1387.6 1842.5h16.8" stroke="#333" stroke-width="2.6"/><g class="ps"><circle cx="1306.2" cy="2069.2" r="2.1"/><circle cx="1304.2" cy="2067.3" r="2.1"/><circle cx="1304.1" cy="2066.2" r="2.1"/><circle cx="1305" cy="2062.5" r="2.1"/><circle cx="1303.5" cy="2062.2" r="2.1"/><circle cx="1302.7" cy="2062.1" r="2.1"/><circle cx="1304.7" cy="2060" r="2.1"/><circle cx="1304.9" cy="2057.7" r="2.1"/><circle cx="1308.6" cy="2050.5" r="2.1"/><circle cx="1308.3" cy="2045.9" r="2.1"/><circle cx="1305.7" cy="2030.1" r="2.1"/><circle cx="1308.3" cy="2021.2" r="2.1"/><circle cx="1304.6" cy="2006.7" r="2.1"/><circle cx="1306.6" cy="2006.3" r="2.1"/><circle cx="1305.4" cy="2001.8" r="2.1"/><circle cx="1302.8" cy="1985.4" r="2.1"/><circle cx="1305.4" cy="1979.9" r="2.1"/><circle cx="1310.4" cy="1979" r="2.1"/><circle cx="1309" cy="1975" r="2.1"/><circle cx="1303.9" cy="1973.1" r="2.1"/><circle cx="1311" cy="1961.4" r="2.1"/><circle cx="1309.1" cy="1957.4" r="2.1"/><circle cx="1311.6" cy="1955" r="2.1"/><circle cx="1304" cy="1949.4" r="2.1"/><circle cx="1307.8" cy="1910.7" r="2.1"/><circle cx="1308.8" cy="1905.2" r="2.1"/><circle cx="1302.2" cy="1888.8" r="2.1"/><circle cx="1306.1" cy="1875.8" r="2.1"/><circle cx="1310" cy="1834.1" r="2.1"/><circle cx="1310.5" cy="1776.1" r="2.1"/></g><g class="ps"><circle cx="1334.6" cy="2048" r="2.1"/><circle cx="1332.6" cy="2024.8" r="2.1"/><circle cx="1328.1" cy="2021.2" r="2.1"/><circle cx="1334" cy="2011.5" r="2.1"/><circle cx="1327.6" cy="1954.4" r="2.1"/><circle cx="1334.5" cy="1782.1" r="2.1"/></g><g class="ps"><circle cx="1370.2" cy="2069.2" r="2.1"/><circle cx="1376.4" cy="2063.6" r="2.1"/><circle cx="1374.5" cy="2063" r="2.1"/><circle cx="1374.9" cy="2049.2" r="2.1"/><circle cx="1371.3" cy="2048.2" r="2.1"/><circle cx="1374" cy="2043.6" r="2.1"/><circle cx="1367.3" cy="2041.1" r="2.1"/><circle cx="1373.2" cy="2040.6" r="2.1"/><circle cx="1370.4" cy="2038.1" r="2.1"/><circle cx="1368.9" cy="2036.1" r="2.1"/><circle cx="1375.6" cy="2024.6" r="2.1"/><circle cx="1367.1" cy="2017.6" r="2.1"/><circle cx="1370.7" cy="2010.5" r="2.1"/><circle cx="1371.8" cy="2010.3" r="2.1"/><circle cx="1376.5" cy="2007.8" r="2.1"/><circle cx="1373.1" cy="2006.6" r="2.1"/><circle cx="1368.2" cy="2004.3" r="2.1"/><circle cx="1372.5" cy="1990" r="2.1"/><circle cx="1374.6" cy="1989.5" r="2.1"/><circle cx="1373.7" cy="1988.1" r="2.1"/><circle cx="1372.2" cy="1980.6" r="2.1"/><circle cx="1369.5" cy="1975" r="2.1"/><circle cx="1370.7" cy="1967.7" r="2.1"/><circle cx="1375.5" cy="1964.4" r="2.1"/><circle cx="1367.2" cy="1962.6" r="2.1"/><circle cx="1372" cy="1958.7" r="2.1"/><circle cx="1369.3" cy="1954.5" r="2.1"/><circle cx="1368.7" cy="1943.6" r="2.1"/><circle cx="1368.7" cy="1940.3" r="2.1"/><circle cx="1368.9" cy="1934.8" r="2.1"/><circle cx="1375.4" cy="1915.3" r="2.1"/><circle cx="1376.7" cy="1913.1" r="2.1"/><circle cx="1374.8" cy="1911.7" r="2.1"/><circle cx="1376.3" cy="1904.5" r="2.1"/><circle cx="1368.2" cy="1902.6" r="2.1"/><circle cx="1376.4" cy="1888.3" r="2.1"/><circle cx="1369" cy="1860" r="2.1"/><circle cx="1368.9" cy="1859.6" r="2.1"/><circle cx="1370" cy="1828.3" r="2.1"/><circle cx="1371" cy="1826.4" r="2.1"/><circle cx="1375.4" cy="1825.1" r="2.1"/><circle cx="1375" cy="1816.5" r="2.1"/><circle cx="1368.1" cy="1813.2" r="2.1"/><circle cx="1374.7" cy="1812.8" r="2.1"/><circle cx="1373" cy="1812.8" r="2.1"/><circle cx="1376.5" cy="1809" r="2.1"/><circle cx="1373.3" cy="1808.1" r="2.1"/><circle cx="1370.8" cy="1807.2" r="2.1"/><circle cx="1371.4" cy="1802.8" r="2.1"/><circle cx="1376" cy="1801.8" r="2.1"/><circle cx="1366.9" cy="1797.2" r="2.1"/><circle cx="1376.2" cy="1796.8" r="2.1"/><circle cx="1371.5" cy="1796.2" r="2.1"/><circle cx="1367.7" cy="1791.4" r="2.1"/><circle cx="1375.7" cy="1789.4" r="2.1"/><circle cx="1375" cy="1788.1" r="2.1"/><circle cx="1369.7" cy="1787.1" r="2.1"/><circle cx="1371.3" cy="1785.5" r="2.1"/><circle cx="1369.8" cy="1780.1" r="2.1"/><circle cx="1370" cy="1773" r="2.1"/></g><g class="ps"><circle cx="1391.1" cy="2060.1" r="2.1"/><circle cx="1392.2" cy="2055.5" r="2.1"/><circle cx="1399.3" cy="2048.3" r="2.1"/><circle cx="1393.6" cy="2037.8" r="2.1"/><circle cx="1394.8" cy="2034.9" r="2.1"/><circle cx="1392.2" cy="2029.5" r="2.1"/><circle cx="1392.4" cy="2014.9" r="2.1"/><circle cx="1396.6" cy="2008.5" r="2.1"/><circle cx="1396.3" cy="2003.9" r="2.1"/><circle cx="1395.1" cy="2000.4" r="2.1"/><circle cx="1397" cy="1995" r="2.1"/><circle cx="1392.4" cy="1994.7" r="2.1"/><circle cx="1396.6" cy="1994" r="2.1"/><circle cx="1392.1" cy="1984.9" r="2.1"/><circle cx="1393.2" cy="1978.4" r="2.1"/><circle cx="1394.6" cy="1977.6" r="2.1"/><circle cx="1393.6" cy="1977.2" r="2.1"/><circle cx="1394.4" cy="1964.1" r="2.1"/><circle cx="1395.7" cy="1963" r="2.1"/><circle cx="1397.5" cy="1960.2" r="2.1"/><circle cx="1392.2" cy="1939.7" r="2.1"/><circle cx="1397.2" cy="1919.2" r="2.1"/><circle cx="1394.4" cy="1913.6" r="2.1"/><circle cx="1393.4" cy="1913.3" r="2.1"/><circle cx="1392.2" cy="1908.6" r="2.1"/><circle cx="1395.7" cy="1902" r="2.1"/><circle cx="1391.2" cy="1895" r="2.1"/><circle cx="1392.9" cy="1889.8" r="2.1"/><circle cx="1394.3" cy="1881.5" r="2.1"/><circle cx="1400.8" cy="1870.7" r="2.1"/><circle cx="1395.5" cy="1864.7" r="2.1"/><circle cx="1395.7" cy="1861.9" r="2.1"/><circle cx="1399.8" cy="1859.2" r="2.1"/><circle cx="1396.6" cy="1858.4" r="2.1"/><circle cx="1397.4" cy="1844.2" r="2.1"/><circle cx="1394.6" cy="1841" r="2.1"/><circle cx="1392.2" cy="1838.9" r="2.1"/><circle cx="1393.1" cy="1838.4" r="2.1"/><circle cx="1391.8" cy="1832.6" r="2.1"/><circle cx="1396.4" cy="1827.3" r="2.1"/><circle cx="1391.9" cy="1827.3" r="2.1"/><circle cx="1395.4" cy="1826.4" r="2.1"/><circle cx="1393.6" cy="1826.2" r="2.1"/><circle cx="1391" cy="1825.7" r="2.1"/><circle cx="1397.9" cy="1825.1" r="2.1"/><circle cx="1391.3" cy="1819.9" r="2.1"/><circle cx="1396.5" cy="1817" r="2.1"/><circle cx="1395.2" cy="1816.6" r="2.1"/><circle cx="1399.6" cy="1816.1" r="2.1"/><circle cx="1394.9" cy="1815.1" r="2.1"/><circle cx="1392.4" cy="1815" r="2.1"/><circle cx="1395" cy="1814.9" r="2.1"/><circle cx="1395.6" cy="1812" r="2.1"/><circle cx="1391.8" cy="1806.8" r="2.1"/><circle cx="1393.3" cy="1804.6" r="2.1"/><circle cx="1392.8" cy="1801.9" r="2.1"/><circle cx="1393.1" cy="1799.1" r="2.1"/><circle cx="1399" cy="1797.9" r="2.1"/><circle cx="1394" cy="1795.2" r="2.1"/><circle cx="1397.8" cy="1793" r="2.1"/><circle cx="1391.2" cy="1792.9" r="2.1"/><circle cx="1401" cy="1792.1" r="2.1"/><circle cx="1399.6" cy="1790.2" r="2.1"/><circle cx="1395.3" cy="1789.6" r="2.1"/><circle cx="1391.7" cy="1783.2" r="2.1"/><circle cx="1395.7" cy="1781.7" r="2.1"/><circle cx="1397.7" cy="1780.8" r="2.1"/><circle cx="1394" cy="1780.8" r="2.1"/><circle cx="1391" cy="1780" r="2.1"/><circle cx="1394" cy="1773" r="2.1"/></g><path d="M1280.7 1678.2L1280.7 2069.8" stroke="#000" stroke-width="1.3"/><path d="M1277.2 2069.2h3.5M1277.2 1993.6h3.5M1277.2 1918.1h3.5M1277.2 1842.5h3.5M1277.2 1767h3.5" stroke="#000" stroke-width="1.2"/><text x="1274.4" y="1999" text-anchor="end" style="font-size:15px">25</text><text x="1274.4" y="1923.5" text-anchor="end" style="font-size:15px">50</text><text x="1274.4" y="1847.9" text-anchor="end" style="font-size:15px">75</text><text x="1274.4" y="1772.4" text-anchor="end" style="font-size:15px">100</text><path d="M1280.1 2069.2L1466.5 2069.2" stroke="#000" stroke-width="1.3"/><path d="M1319.3 2069.2v3.5M1385 2069.2v3.5" stroke="#000" stroke-width="1.2"/><text x="1322.5" y="2093.6" text-anchor="middle" style="font-size:20.2px">Early</text><text x="1385" y="2093.6" text-anchor="middle" style="font-size:20.2px">Late</text><text x="1238.7" y="1854.2" text-anchor="middle" style="font-size:19.5px" transform="rotate(-90 1238.7 1854.2)">Percent of total cells</text><path d="M1370.8 1709.3L1397.8 1709.3" stroke="#000" stroke-width="1.25"/><text x="1384.3" y="1705.8" text-anchor="middle" style="font-size:15.5px">2.15e−02</text><path d="M1306.2 1730.7L1397.8 1730.7" stroke="#000" stroke-width="1.25"/><text x="1352" y="1727.2" text-anchor="middle" style="font-size:15.5px">9.59e−06</text><path d="M1306.2 1752L1372 1752" stroke="#000" stroke-width="1.25"/><text x="1339.1" y="1748.5" text-anchor="middle" style="font-size:15.5px">2.15e−02</text><text x="1454" y="1686.8" style="font-size:20.8px">Infection status</text><rect x="1461.6" y="1699.4" width="10" height="9.3" fill="#c53e2c"/><text x="1481.5" y="1708.5" style="font-size:17.2px">SARS−CoV−2−P only</text><rect x="1461.6" y="1718.2" width="10" height="9.3" fill="#e28d85"/><text x="1481.5" y="1727.4" style="font-size:17.2px">SARS−CoV−2−P with</text><text x="1479.8" y="1746.8" style="font-size:17.2px">bacterial superinfection</text><text transform="translate(1222 1155.6) scale(0.9 1)" style="font-size:35.5px;font-weight:bold;stroke:#000;stroke-width:0.5px">m</text><g fill="none" stroke="#e8933a" stroke-width="1.15" stroke-opacity="0.7"><path d="M1351.3 1435.7h5v5h-5z"/><path d="M1292 1488.4h5v5h-5z"/><path d="M1346.7 1430.8h5v5h-5z"/><path d="M1300.2 1431.9h5v5h-5z"/><path d="M1297 1473h5v5h-5z"/><path d="M1314.8 1465.4h5v5h-5z"/><path d="M1299.6 1414.1h5v5h-5z"/><path d="M1300.2 1467.9h5v5h-5z"/><path d="M1336 1476.3h5v5h-5z"/><path d="M1351 1477.4h5v5h-5z"/><path d="M1348.3 1469.1h5v5h-5z"/><path d="M1337.1 1481.9h5v5h-5z"/><path d="M1399.2 1490.6h5v5h-5z"/><path d="M1417.4 1474.3h5v5h-5z"/><path d="M1298.8 1478.1h5v5h-5z"/><path d="M1394.1 1477.7h5v5h-5z"/><path d="M1332.2 1437.4h5v5h-5z"/><path d="M1329.4 1485.3h5v5h-5z"/><path d="M1349.3 1471.4h5v5h-5z"/><path d="M1348.2 1466.3h5v5h-5z"/><path d="M1340.4 1452.8h5v5h-5z"/><path d="M1378.2 1451.8h5v5h-5z"/><path d="M1323.3 1470.2h5v5h-5z"/><path d="M1347.5 1493.4h5v5h-5z"/><path d="M1301.1 1478.9h5v5h-5z"/><path d="M1412.5 1484.5h5v5h-5z"/><path d="M1298.6 1493.7h5v5h-5z"/><path d="M1365.2 1473.8h5v5h-5z"/><path d="M1333.3 1476.2h5v5h-5z"/><path d="M1296.7 1466.7h5v5h-5z"/><path d="M1419.4 1477.5h5v5h-5z"/><path d="M1348.3 1484.3h5v5h-5z"/><path d="M1298.2 1448.7h5v5h-5z"/><path d="M1303.7 1485.7h5v5h-5z"/><path d="M1349.3 1494.4h5v5h-5z"/><path d="M1427.7 1489.1h5v5h-5z"/><path d="M1296 1448.5h5v5h-5z"/><path d="M1300.5 1492.4h5v5h-5z"/><path d="M1302.1 1470.9h5v5h-5z"/><path d="M1310 1473.5h5v5h-5z"/><path d="M1390.3 1471.7h5v5h-5z"/><path d="M1337 1482.5h5v5h-5z"/><path d="M1294.1 1476.7h5v5h-5z"/><path d="M1349 1486.8h5v5h-5z"/><path d="M1312.1 1486.3h5v5h-5z"/><path d="M1293.9 1439.6h5v5h-5z"/><path d="M1309.5 1469.4h5v5h-5z"/><path d="M1300.7 1492.7h5v5h-5z"/><path d="M1422.6 1476.9h5v5h-5z"/><path d="M1344.9 1476.4h5v5h-5z"/><path d="M1359.1 1465.3h5v5h-5z"/><path d="M1406.2 1473.7h5v5h-5z"/><path d="M1335.6 1491h5v5h-5z"/><path d="M1293.5 1332.2h5v5h-5z"/><path d="M1301.2 1482.3h5v5h-5z"/><path d="M1298.7 1448.7h5v5h-5z"/><path d="M1326 1472.4h5v5h-5z"/><path d="M1475 1479.9h5v5h-5z"/><path d="M1327.1 1437.5h5v5h-5z"/><path d="M1348.7 1486.8h5v5h-5z"/><path d="M1295.4 1475.8h5v5h-5z"/><path d="M1417.4 1484.6h5v5h-5z"/><path d="M1401 1478.8h5v5h-5z"/><path d="M1401.8 1478h5v5h-5z"/><path d="M1347.4 1485.3h5v5h-5z"/><path d="M1312.8 1475.8h5v5h-5z"/><path d="M1292.8 1468.9h5v5h-5z"/><path d="M1302.1 1482.2h5v5h-5z"/><path d="M1347.4 1490.9h5v5h-5z"/><path d="M1301.6 1354.2h5v5h-5z"/><path d="M1310.6 1487.3h5v5h-5z"/><path d="M1312.1 1455.3h5v5h-5z"/><path d="M1296.1 1471.6h5v5h-5z"/><path d="M1297 1479.9h5v5h-5z"/><path d="M1306.3 1489h5v5h-5z"/><path d="M1342.8 1479.9h5v5h-5z"/><path d="M1299.3 1432.2h5v5h-5z"/><path d="M1349.7 1456.2h5v5h-5z"/><path d="M1349 1473.8h5v5h-5z"/><path d="M1359.5 1470.2h5v5h-5z"/><path d="M1368 1492.7h5v5h-5z"/><path d="M1373.2 1469.8h5v5h-5z"/><path d="M1390.8 1478h5v5h-5z"/></g><g fill="none" stroke="#e8933a" stroke-width="1.4" stroke-opacity="0.75"><path d="M1295.7 1478.5h6.8M1299.1 1475.1v6.8M1296.7 1476.1l4.8 4.8M1296.7 1480.9l4.8 -4.8"/><path d="M1313.4 1487.4h6.8M1316.8 1484v6.8M1314.4 1485l4.8 4.8M1314.4 1489.8l4.8 -4.8"/><path d="M1357.6 1443.3h6.8M1361 1439.9v6.8M1358.6 1440.9l4.8 4.8M1358.6 1445.7l4.8 -4.8"/><path d="M1426.4 1475.1h6.8M1429.8 1471.7v6.8M1427.4 1472.7l4.8 4.8M1427.4 1477.5l4.8 -4.8"/><path d="M1312.1 1477h6.8M1315.5 1473.6v6.8M1313.1 1474.6l4.8 4.8M1313.1 1479.4l4.8 -4.8"/><path d="M1299.1 1462.4h6.8M1302.5 1459v6.8M1300.1 1460l4.8 4.8M1300.1 1464.8l4.8 -4.8"/><path d="M1300.5 1479.7h6.8M1303.9 1476.3v6.8M1301.5 1477.3l4.8 4.8M1301.5 1482.1l4.8 -4.8"/><path d="M1371.4 1446.2h6.8M1374.8 1442.8v6.8M1372.4 1443.8l4.8 4.8M1372.4 1448.6l4.8 -4.8"/><path d="M1297.7 1379.7h6.8M1301.1 1376.3v6.8M1298.7 1377.3l4.8 4.8M1298.7 1382.1l4.8 -4.8"/><path d="M1293.7 1452.7h6.8M1297.1 1449.3v6.8M1294.7 1450.3l4.8 4.8M1294.7 1455.1l4.8 -4.8"/><path d="M1312.9 1491.5h6.8M1316.3 1488.1v6.8M1313.9 1489.1l4.8 4.8M1313.9 1493.9l4.8 -4.8"/><path d="M1304.2 1484.3h6.8M1307.6 1480.9v6.8M1305.2 1481.9l4.8 4.8M1305.2 1486.7l4.8 -4.8"/><path d="M1372.4 1482.5h6.8M1375.8 1479.1v6.8M1373.4 1480.1l4.8 4.8M1373.4 1484.9l4.8 -4.8"/><path d="M1293.7 1489.4h6.8M1297.1 1486v6.8M1294.7 1487l4.8 4.8M1294.7 1491.8l4.8 -4.8"/><path d="M1294.2 1457.1h6.8M1297.6 1453.7v6.8M1295.2 1454.7l4.8 4.8M1295.2 1459.5l4.8 -4.8"/><path d="M1301.4 1399.8h6.8M1304.8 1396.4v6.8M1302.4 1397.4l4.8 4.8M1302.4 1402.2l4.8 -4.8"/><path d="M1332.2 1449.8h6.8M1335.6 1446.4v6.8M1333.2 1447.4l4.8 4.8M1333.2 1452.2l4.8 -4.8"/><path d="M1296.9 1494h6.8M1300.3 1490.6v6.8M1297.9 1491.6l4.8 4.8M1297.9 1496.4l4.8 -4.8"/><path d="M1348.5 1479.6h6.8M1351.9 1476.2v6.8M1349.5 1477.2l4.8 4.8M1349.5 1482l4.8 -4.8"/><path d="M1387.6 1477.4h6.8M1391 1474v6.8M1388.6 1475l4.8 4.8M1388.6 1479.8l4.8 -4.8"/><path d="M1294.8 1491.8h6.8M1298.2 1488.4v6.8M1295.8 1489.4l4.8 4.8M1295.8 1494.2l4.8 -4.8"/><path d="M1544.8 1486.6h6.8M1548.2 1483.2v6.8M1545.8 1484.2l4.8 4.8M1545.8 1489l4.8 -4.8"/><path d="M1376.1 1497h6.8M1379.5 1493.6v6.8M1377.1 1494.6l4.8 4.8M1377.1 1499.4l4.8 -4.8"/><path d="M1347.3 1468.3h6.8M1350.7 1464.9v6.8M1348.3 1465.9l4.8 4.8M1348.3 1470.7l4.8 -4.8"/><path d="M1419.4 1475.4h6.8M1422.8 1472v6.8M1420.4 1473l4.8 4.8M1420.4 1477.8l4.8 -4.8"/><path d="M1376.4 1480.7h6.8M1379.8 1477.3v6.8M1377.4 1478.3l4.8 4.8M1377.4 1483.1l4.8 -4.8"/><path d="M1304.7 1477.5h6.8M1308.1 1474.1v6.8M1305.7 1475.1l4.8 4.8M1305.7 1479.9l4.8 -4.8"/><path d="M1301.6 1398.2h6.8M1305 1394.8v6.8M1302.6 1395.8l4.8 4.8M1302.6 1400.6l4.8 -4.8"/><path d="M1298.9 1486.4h6.8M1302.3 1483v6.8M1299.9 1484l4.8 4.8M1299.9 1488.8l4.8 -4.8"/><path d="M1337.5 1488.8h6.8M1340.9 1485.4v6.8M1338.5 1486.4l4.8 4.8M1338.5 1491.2l4.8 -4.8"/><path d="M1301.2 1447.3h6.8M1304.6 1443.9v6.8M1302.2 1444.9l4.8 4.8M1302.2 1449.7l4.8 -4.8"/><path d="M1312 1486.5h6.8M1315.4 1483.1v6.8M1313 1484.1l4.8 4.8M1313 1488.9l4.8 -4.8"/><path d="M1300.3 1484.4h6.8M1303.7 1481v6.8M1301.3 1482l4.8 4.8M1301.3 1486.8l4.8 -4.8"/><path d="M1374.4 1478.4h6.8M1377.8 1475v6.8M1375.4 1476l4.8 4.8M1375.4 1480.8l4.8 -4.8"/><path d="M1351.8 1468.6h6.8M1355.2 1465.2v6.8M1352.8 1466.2l4.8 4.8M1352.8 1471l4.8 -4.8"/><path d="M1390.1 1439.9h6.8M1393.5 1436.5v6.8M1391.1 1437.5l4.8 4.8M1391.1 1442.3l4.8 -4.8"/><path d="M1314.2 1479.1h6.8M1317.6 1475.7v6.8M1315.2 1476.7l4.8 4.8M1315.2 1481.5l4.8 -4.8"/><path d="M1301 1479.6h6.8M1304.4 1476.2v6.8M1302 1477.2l4.8 4.8M1302 1482l4.8 -4.8"/></g><g fill="none" stroke="#c4473a" stroke-width="1.15" stroke-opacity="0.7"><path d="M1350 1463.3h5v5h-5z"/><path d="M1292.9 1492h5v5h-5z"/><path d="M1302.7 1392.5h5v5h-5z"/><path d="M1316.5 1492.1h5v5h-5z"/><path d="M1313 1494h5v5h-5z"/><path d="M1395.2 1490.1h5v5h-5z"/><path d="M1389.7 1486.9h5v5h-5z"/><path d="M1294 1487.3h5v5h-5z"/><path d="M1424.2 1484.9h5v5h-5z"/><path d="M1299.7 1490h5v5h-5z"/><path d="M1300.3 1472h5v5h-5z"/><path d="M1300.4 1442.7h5v5h-5z"/><path d="M1303.7 1471.1h5v5h-5z"/><path d="M1496.4 1487.1h5v5h-5z"/><path d="M1292.2 1456.6h5v5h-5z"/><path d="M1297.7 1483.8h5v5h-5z"/><path d="M1318.5 1467.3h5v5h-5z"/><path d="M1380.5 1465.9h5v5h-5z"/><path d="M1298.1 1477.1h5v5h-5z"/><path d="M1301.8 1489.6h5v5h-5z"/><path d="M1294 1474.2h5v5h-5z"/><path d="M1294.7 1464.4h5v5h-5z"/><path d="M1484.5 1473.9h5v5h-5z"/><path d="M1338.8 1440.2h5v5h-5z"/><path d="M1334.3 1456h5v5h-5z"/><path d="M1292.3 1476h5v5h-5z"/><path d="M1396.2 1473.9h5v5h-5z"/><path d="M1381.5 1469h5v5h-5z"/><path d="M1349.5 1494h5v5h-5z"/><path d="M1334 1488.2h5v5h-5z"/><path d="M1298.2 1473h5v5h-5z"/><path d="M1308.3 1471.5h5v5h-5z"/><path d="M1312.4 1466.8h5v5h-5z"/><path d="M1298.8 1467.4h5v5h-5z"/><path d="M1328.3 1469h5v5h-5z"/><path d="M1312.1 1490.5h5v5h-5z"/><path d="M1384.5 1471.5h5v5h-5z"/><path d="M1369.8 1487.2h5v5h-5z"/><path d="M1344.9 1480.7h5v5h-5z"/><path d="M1298.4 1467.6h5v5h-5z"/><path d="M1349.4 1467.1h5v5h-5z"/><path d="M1303.3 1467.9h5v5h-5z"/><path d="M1293.6 1476.6h5v5h-5z"/><path d="M1298.9 1434.2h5v5h-5z"/><path d="M1318.6 1491.8h5v5h-5z"/><path d="M1301.9 1493.7h5v5h-5z"/><path d="M1411.2 1484.5h5v5h-5z"/><path d="M1295.7 1481.4h5v5h-5z"/><path d="M1299.4 1478.1h5v5h-5z"/><path d="M1328.2 1478h5v5h-5z"/><path d="M1299.7 1485.5h5v5h-5z"/><path d="M1416.7 1482.9h5v5h-5z"/><path d="M1342 1475.1h5v5h-5z"/><path d="M1296.1 1470.3h5v5h-5z"/><path d="M1295.6 1468.8h5v5h-5z"/><path d="M1301.3 1488.5h5v5h-5z"/><path d="M1297.1 1486.7h5v5h-5z"/><path d="M1296.1 1483.6h5v5h-5z"/><path d="M1294.1 1428.1h5v5h-5z"/><path d="M1292.3 1476.8h5v5h-5z"/><path d="M1368.5 1468.6h5v5h-5z"/><path d="M1349.8 1489.9h5v5h-5z"/><path d="M1294.4 1494.5h5v5h-5z"/><path d="M1293.7 1449.8h5v5h-5z"/><path d="M1303.4 1465.8h5v5h-5z"/><path d="M1302.8 1470.5h5v5h-5z"/><path d="M1326.3 1492.7h5v5h-5z"/><path d="M1297.6 1419.9h5v5h-5z"/><path d="M1355.9 1490.3h5v5h-5z"/><path d="M1301.8 1494.7h5v5h-5z"/><path d="M1306.1 1480h5v5h-5z"/><path d="M1297.2 1435.5h5v5h-5z"/><path d="M1399 1479.1h5v5h-5z"/><path d="M1407.9 1473.8h5v5h-5z"/><path d="M1291.8 1491.4h5v5h-5z"/><path d="M1294.8 1484.1h5v5h-5z"/><path d="M1302.4 1483.7h5v5h-5z"/><path d="M1295.9 1472.7h5v5h-5z"/><path d="M1354.8 1480.1h5v5h-5z"/><path d="M1314.1 1469.2h5v5h-5z"/><path d="M1304 1446.2h5v5h-5z"/><path d="M1294.4 1472.2h5v5h-5z"/><path d="M1339.5 1466.4h5v5h-5z"/><path d="M1353.5 1471.8h5v5h-5z"/><path d="M1296.8 1454.5h5v5h-5z"/><path d="M1357 1480.9h5v5h-5z"/><path d="M1411.4 1483.9h5v5h-5z"/><path d="M1392.8 1484.2h5v5h-5z"/><path d="M1298.8 1473.7h5v5h-5z"/><path d="M1368.8 1489h5v5h-5z"/><path d="M1301.9 1465.3h5v5h-5z"/><path d="M1296.9 1487.5h5v5h-5z"/><path d="M1350.4 1479.6h5v5h-5z"/><path d="M1297.1 1417.8h5v5h-5z"/><path d="M1299.9 1433.7h5v5h-5z"/><path d="M1330.2 1467.6h5v5h-5z"/><path d="M1296.8 1472.8h5v5h-5z"/><path d="M1392 1459.6h5v5h-5z"/><path d="M1295.3 1482.5h5v5h-5z"/><path d="M1317 1484.5h5v5h-5z"/><path d="M1353.5 1465.9h5v5h-5z"/><path d="M1420.9 1480.9h5v5h-5z"/><path d="M1325.3 1490.1h5v5h-5z"/><path d="M1335.9 1479.8h5v5h-5z"/><path d="M1315 1490.7h5v5h-5z"/><path d="M1302.8 1469.3h5v5h-5z"/><path d="M1368.8 1484h5v5h-5z"/><path d="M1329.1 1493.1h5v5h-5z"/><path d="M1322.6 1469.5h5v5h-5z"/><path d="M1293.4 1483.6h5v5h-5z"/><path d="M1301.2 1487.4h5v5h-5z"/></g><g fill="none" stroke="#c4473a" stroke-width="1.4" stroke-opacity="0.75"><path d="M1296.3 1361.2h6.8M1299.7 1357.8v6.8M1297.3 1358.8l4.8 4.8M1297.3 1363.6l4.8 -4.8"/><path d="M1316 1491.3h6.8M1319.4 1487.9v6.8M1317 1488.9l4.8 4.8M1317 1493.7l4.8 -4.8"/><path d="M1308.4 1476.7h6.8M1311.8 1473.3v6.8M1309.4 1474.3l4.8 4.8M1309.4 1479.1l4.8 -4.8"/><path d="M1296.5 1436.6h6.8M1299.9 1433.2v6.8M1297.5 1434.2l4.8 4.8M1297.5 1439l4.8 -4.8"/><path d="M1301.5 1477.5h6.8M1304.9 1474.1v6.8M1302.5 1475.1l4.8 4.8M1302.5 1479.9l4.8 -4.8"/><path d="M1426.1 1488.9h6.8M1429.5 1485.5v6.8M1427.1 1486.5l4.8 4.8M1427.1 1491.3l4.8 -4.8"/><path d="M1402.8 1480.7h6.8M1406.2 1477.3v6.8M1403.8 1478.3l4.8 4.8M1403.8 1483.1l4.8 -4.8"/><path d="M1303.8 1493.8h6.8M1307.2 1490.4v6.8M1304.8 1491.4l4.8 4.8M1304.8 1496.2l4.8 -4.8"/><path d="M1420.9 1481.2h6.8M1424.3 1477.8v6.8M1421.9 1478.8l4.8 4.8M1421.9 1483.6l4.8 -4.8"/><path d="M1402.8 1479.5h6.8M1406.2 1476.1v6.8M1403.8 1477.1l4.8 4.8M1403.8 1481.9l4.8 -4.8"/><path d="M1314.8 1482.5h6.8M1318.2 1479.1v6.8M1315.8 1480.1l4.8 4.8M1315.8 1484.9l4.8 -4.8"/><path d="M1294 1471h6.8M1297.4 1467.6v6.8M1295 1468.6l4.8 4.8M1295 1473.4l4.8 -4.8"/><path d="M1335.6 1473.8h6.8M1339 1470.4v6.8M1336.6 1471.4l4.8 4.8M1336.6 1476.2l4.8 -4.8"/><path d="M1299.3 1487.3h6.8M1302.7 1483.9v6.8M1300.3 1484.9l4.8 4.8M1300.3 1489.7l4.8 -4.8"/><path d="M1372.3 1476.3h6.8M1375.7 1472.9v6.8M1373.3 1473.9l4.8 4.8M1373.3 1478.7l4.8 -4.8"/><path d="M1300.1 1475.4h6.8M1303.5 1472v6.8M1301.1 1473l4.8 4.8M1301.1 1477.8l4.8 -4.8"/><path d="M1449.7 1475.7h6.8M1453.1 1472.3v6.8M1450.7 1473.3l4.8 4.8M1450.7 1478.1l4.8 -4.8"/><path d="M1303.6 1472.1h6.8M1307 1468.7v6.8M1304.6 1469.7l4.8 4.8M1304.6 1474.5l4.8 -4.8"/><path d="M1299.3 1497.2h6.8M1302.7 1493.8v6.8M1300.3 1494.8l4.8 4.8M1300.3 1499.6l4.8 -4.8"/><path d="M1337.9 1488.2h6.8M1341.3 1484.8v6.8M1338.9 1485.8l4.8 4.8M1338.9 1490.6l4.8 -4.8"/><path d="M1402 1485.3h6.8M1405.4 1481.9v6.8M1403 1482.9l4.8 4.8M1403 1487.7l4.8 -4.8"/><path d="M1302.1 1356.8h6.8M1305.5 1353.4v6.8M1303.1 1354.4l4.8 4.8M1303.1 1359.2l4.8 -4.8"/><path d="M1293.1 1469.8h6.8M1296.5 1466.4v6.8M1294.1 1467.4l4.8 4.8M1294.1 1472.2l4.8 -4.8"/><path d="M1312.7 1475.6h6.8M1316.1 1472.2v6.8M1313.7 1473.2l4.8 4.8M1313.7 1478l4.8 -4.8"/><path d="M1412.2 1487h6.8M1415.6 1483.6v6.8M1413.2 1484.6l4.8 4.8M1413.2 1489.4l4.8 -4.8"/><path d="M1373.4 1495.3h6.8M1376.8 1491.9v6.8M1374.4 1492.9l4.8 4.8M1374.4 1497.7l4.8 -4.8"/><path d="M1385.9 1486.4h6.8M1389.3 1483v6.8M1386.9 1484l4.8 4.8M1386.9 1488.8l4.8 -4.8"/><path d="M1337.9 1485.7h6.8M1341.3 1482.3v6.8M1338.9 1483.3l4.8 4.8M1338.9 1488.1l4.8 -4.8"/><path d="M1406.9 1492.3h6.8M1410.3 1488.9v6.8M1407.9 1489.9l4.8 4.8M1407.9 1494.7l4.8 -4.8"/><path d="M1295.8 1478.4h6.8M1299.2 1475v6.8M1296.8 1476l4.8 4.8M1296.8 1480.8l4.8 -4.8"/><path d="M1371.6 1489.5h6.8M1375 1486.1v6.8M1372.6 1487.1l4.8 4.8M1372.6 1491.9l4.8 -4.8"/><path d="M1383.3 1480.2h6.8M1386.7 1476.8v6.8M1384.3 1477.8l4.8 4.8M1384.3 1482.6l4.8 -4.8"/><path d="M1329.3 1496.8h6.8M1332.7 1493.4v6.8M1330.3 1494.4l4.8 4.8M1330.3 1499.2l4.8 -4.8"/><path d="M1331.4 1468.3h6.8M1334.8 1464.9v6.8M1332.4 1465.9l4.8 4.8M1332.4 1470.7l4.8 -4.8"/><path d="M1294.9 1375.7h6.8M1298.3 1372.3v6.8M1295.9 1373.3l4.8 4.8M1295.9 1378.1l4.8 -4.8"/><path d="M1420.5 1496.1h6.8M1423.9 1492.7v6.8M1421.5 1493.7l4.8 4.8M1421.5 1498.5l4.8 -4.8"/><path d="M1343.6 1468.3h6.8M1347 1464.9v6.8M1344.6 1465.9l4.8 4.8M1344.6 1470.7l4.8 -4.8"/><path d="M1291.8 1443.6h6.8M1295.2 1440.2v6.8M1292.8 1441.2l4.8 4.8M1292.8 1446l4.8 -4.8"/><path d="M1392 1477.4h6.8M1395.4 1474v6.8M1393 1475l4.8 4.8M1393 1479.8l4.8 -4.8"/><path d="M1399.4 1495.7h6.8M1402.8 1492.3v6.8M1400.4 1493.3l4.8 4.8M1400.4 1498.1l4.8 -4.8"/><path d="M1328.7 1486.4h6.8M1332.1 1483v6.8M1329.7 1484l4.8 4.8M1329.7 1488.8l4.8 -4.8"/><path d="M1344.1 1465.2h6.8M1347.5 1461.8v6.8M1345.1 1462.8l4.8 4.8M1345.1 1467.6l4.8 -4.8"/><path d="M1298.6 1427.3h6.8M1302 1423.9v6.8M1299.6 1424.9l4.8 4.8M1299.6 1429.7l4.8 -4.8"/><path d="M1369.4 1471.4h6.8M1372.8 1468v6.8M1370.4 1469l4.8 4.8M1370.4 1473.8l4.8 -4.8"/><path d="M1297.7 1492.6h6.8M1301.1 1489.2v6.8M1298.7 1490.2l4.8 4.8M1298.7 1495l4.8 -4.8"/><path d="M1294.1 1490.8h6.8M1297.5 1487.4v6.8M1295.1 1488.4l4.8 4.8M1295.1 1493.2l4.8 -4.8"/><path d="M1304.8 1479.8h6.8M1308.2 1476.4v6.8M1305.8 1477.4l4.8 4.8M1305.8 1482.2l4.8 -4.8"/><path d="M1295.7 1468.2h6.8M1299.1 1464.8v6.8M1296.7 1465.8l4.8 4.8M1296.7 1470.6l4.8 -4.8"/><path d="M1326.1 1484.2h6.8M1329.5 1480.8v6.8M1327.1 1481.8l4.8 4.8M1327.1 1486.6l4.8 -4.8"/><path d="M1296 1481.6h6.8M1299.4 1478.2v6.8M1297 1479.2l4.8 4.8M1297 1484l4.8 -4.8"/></g><g fill="none" stroke="#2c7bb6" stroke-width="1.15" stroke-opacity="0.7"><path d="M1305.7 1478.7h5v5h-5z"/><path d="M1301 1433.8h5v5h-5z"/><path d="M1307.8 1426.2h5v5h-5z"/><path d="M1381.5 1471.9h5v5h-5z"/><path d="M1319.5 1490.1h5v5h-5z"/><path d="M1326.5 1481.2h5v5h-5z"/><path d="M1339.7 1476.2h5v5h-5z"/><path d="M1378.8 1480h5v5h-5z"/><path d="M1409.2 1491.4h5v5h-5z"/><path d="M1296.1 1480.2h5v5h-5z"/><path d="M1303.5 1480.8h5v5h-5z"/><path d="M1332.3 1477.4h5v5h-5z"/><path d="M1294.2 1470.2h5v5h-5z"/><path d="M1339.3 1472.5h5v5h-5z"/></g><g fill="none" stroke="#2c7bb6" stroke-width="1.4" stroke-opacity="0.75"><path d="M1351.9 1490.8h6.8M1355.3 1487.4v6.8M1352.9 1488.4l4.8 4.8M1352.9 1493.2l4.8 -4.8"/><path d="M1297.4 1471.9h6.8M1300.8 1468.5v6.8M1298.4 1469.5l4.8 4.8M1298.4 1474.3l4.8 -4.8"/></g><g fill="none" stroke="#2a8f57" stroke-width="1.15" stroke-opacity="0.7"><path d="M1295.8 1438.8h5v5h-5z"/><path d="M1297 1492.5h5v5h-5z"/><path d="M1299.5 1457.6h5v5h-5z"/><path d="M1296.9 1475.5h5v5h-5z"/><path d="M1298.9 1476.8h5v5h-5z"/><path d="M1298.9 1466.3h5v5h-5z"/><path d="M1421.5 1492.4h5v5h-5z"/><path d="M1294.5 1480.3h5v5h-5z"/><path d="M1367.7 1477.4h5v5h-5z"/><path d="M1297 1469.8h5v5h-5z"/><path d="M1362.8 1486.4h5v5h-5z"/><path d="M1294.3 1431.5h5v5h-5z"/><path d="M1304.4 1483.7h5v5h-5z"/><path d="M1296 1420.6h5v5h-5z"/><path d="M1345.7 1453.3h5v5h-5z"/><path d="M1301.1 1455.1h5v5h-5z"/><path d="M1299.7 1487.1h5v5h-5z"/><path d="M1341.4 1476.8h5v5h-5z"/><path d="M1295.4 1486.1h5v5h-5z"/><path d="M1343.2 1478.2h5v5h-5z"/></g><g fill="none" stroke="#2a8f57" stroke-width="1.4" stroke-opacity="0.75"><path d="M1337.3 1488.2h6.8M1340.7 1484.8v6.8M1338.3 1485.8l4.8 4.8M1338.3 1490.6l4.8 -4.8"/><path d="M1299.7 1393h6.8M1303.1 1389.6v6.8M1300.7 1390.6l4.8 4.8M1300.7 1395.4l4.8 -4.8"/><path d="M1298 1482.4h6.8M1301.4 1479v6.8M1299 1480l4.8 4.8M1299 1484.8l4.8 -4.8"/><path d="M1337.3 1492h6.8M1340.7 1488.6v6.8M1338.3 1489.6l4.8 4.8M1338.3 1494.4l4.8 -4.8"/><path d="M1335.1 1496h6.8M1338.5 1492.6v6.8M1336.1 1493.6l4.8 4.8M1336.1 1498.4l4.8 -4.8"/><path d="M1300 1390.2h6.8M1303.4 1386.8v6.8M1301 1387.8l4.8 4.8M1301 1392.6l4.8 -4.8"/><path d="M1298.2 1480h6.8M1301.6 1476.6v6.8M1299.2 1477.6l4.8 4.8M1299.2 1482.4l4.8 -4.8"/><path d="M1292.4 1488.1h6.8M1295.8 1484.7v6.8M1293.4 1485.7l4.8 4.8M1293.4 1490.5l4.8 -4.8"/><path d="M1394.6 1491.3h6.8M1398 1487.9v6.8M1395.6 1488.9l4.8 4.8M1395.6 1493.7l4.8 -4.8"/><path d="M1291.7 1349.1h6.8M1295.1 1345.7v6.8M1292.7 1346.7l4.8 4.8M1292.7 1351.5l4.8 -4.8"/><path d="M1349.2 1476.1h6.8M1352.6 1472.7v6.8M1350.2 1473.7l4.8 4.8M1350.2 1478.5l4.8 -4.8"/><path d="M1310.9 1486.7h6.8M1314.3 1483.3v6.8M1311.9 1484.3l4.8 4.8M1311.9 1489.1l4.8 -4.8"/></g><path d="M1295 1483L1594.2 1482.7" stroke="#1a72b8" stroke-width="3.8"/><path d="M1295 1481L1594.2 1473.6" stroke="#e08a2e" stroke-width="3.8"/><path d="M1295 1457.9L1594.2 1543" stroke="#c0392b" stroke-width="3.8"/><path d="M1295 1469.1L1594.2 1518.5" stroke="#1e8a4f" stroke-width="3.8"/><path d="M1280 1151.9L1280 1550.3" stroke="#000" stroke-width="1.3"/><path d="M1276.5 1497.2h3.5M1276.5 1423.4h3.5M1276.5 1349.5h3.5M1276.5 1275.7h3.5M1276.5 1201.8h3.5" stroke="#000" stroke-width="1.2"/><text x="1274" y="1502.5" text-anchor="end" style="font-size:14.6px">0</text><text x="1274" y="1428.6" text-anchor="end" style="font-size:14.6px">25</text><text x="1274" y="1354.8" text-anchor="end" style="font-size:14.6px">50</text><text x="1274" y="1280.9" text-anchor="end" style="font-size:14.6px">75</text><text x="1274" y="1207.1" text-anchor="end" style="font-size:14.6px">100</text><path d="M1279.4 1549.7L1609 1549.7" stroke="#000" stroke-width="1.3"/><path d="M1295 1549.7v3.5M1376.6 1549.7v3.5M1458.2 1549.7v3.5M1539.8 1549.7v3.5" stroke="#000" stroke-width="1.2"/><text x="1295" y="1565.8" text-anchor="middle" style="font-size:14.6px">0</text><text x="1376.6" y="1565.8" text-anchor="middle" style="font-size:14.6px">30</text><text x="1458.2" y="1565.8" text-anchor="middle" style="font-size:14.6px">60</text><text x="1539.8" y="1565.8" text-anchor="middle" style="font-size:14.6px">90</text><text x="1447" y="1588.4" text-anchor="middle" style="font-size:20.9px">Days from intubation</text><text x="1237.5" y="1329.3" text-anchor="middle" style="font-size:19.5px" transform="rotate(-90 1237.5 1329.3)">Percent of total cells</text><text x="1323.1" y="1204.4" style="font-size:11.8px;fill:#1a72b8" textLength="104.7" lengthAdjust="spacing"><tspan style="font-style:italic">R</tspan> = 0.018, <tspan style="font-style:italic">p</tspan> = 0.9</text><text x="1323.1" y="1227.3" style="font-size:11.8px;fill:#e08a2e" textLength="110.6" lengthAdjust="spacing"><tspan style="font-style:italic">R</tspan> = - 0.15, <tspan style="font-style:italic">p</tspan> = 0.05</text><text x="1323.1" y="1250.2" style="font-size:11.8px;fill:#c0392b" textLength="111.9" lengthAdjust="spacing"><tspan style="font-style:italic">R</tspan> = - 0.5, <tspan style="font-style:italic">p</tspan> = 8e-12</text><text x="1323.1" y="1273" style="font-size:11.8px;fill:#1e8a4f" textLength="103.8" lengthAdjust="spacing"><tspan style="font-style:italic">R</tspan> = - 0.15, <tspan style="font-style:italic">p</tspan> = 0.3</text><text x="1568.5" y="1162" style="font-size:20.3px">Diagnosis</text><path d="M1569.5 1176.5h15" stroke="#1a72b8" stroke-width="1" stroke-opacity="0.35"/><rect x="1571.8" y="1171.8" width="10.2" height="9.6" fill="#1a72b8"/><text x="1594" y="1182" style="font-size:16.6px">NPC</text><path d="M1569.5 1195.2h15" stroke="#e08a2e" stroke-width="1" stroke-opacity="0.35"/><rect x="1571.8" y="1190.5" width="10.2" height="9.6" fill="#e08a2e"/><text x="1594" y="1200.7" style="font-size:16.6px">OP</text><path d="M1569.5 1213.2h15" stroke="#c0392b" stroke-width="1" stroke-opacity="0.35"/><rect x="1571.8" y="1208.5" width="10.2" height="9.6" fill="#c0392b"/><text x="1594" y="1218.7" style="font-size:16.6px">SARS−CoV−2−P</text><path d="M1569.5 1231.5h15" stroke="#1e8a4f" stroke-width="1" stroke-opacity="0.35"/><rect x="1571.8" y="1226.8" width="10.2" height="9.6" fill="#1e8a4f"/><text x="1594" y="1237" style="font-size:16.6px">OVP</text><text x="1568.5" y="1263.7" style="font-size:20.3px">Outcome</text><rect x="1574.5" y="1275.5" width="5" height="5" fill="none" stroke="#333" stroke-width="1.1"/><text x="1594" y="1284" style="font-size:16.6px">Discharged</text><path d="M1574 1296.8h6M1577 1293.8v6M1574.8 1294.6l4.4 4.4M1574.8 1299l4.4 -4.4" stroke="#333" stroke-width="1.2"/><text x="1594" y="1302.8" style="font-size:16.6px">Deceased</text><clipPath id="co"><rect x="600" y="1600" width="600" height="509.7"/></clipPath><g clip-path="url(#co)"><text transform="translate(623 1684.5) scale(0.9 1)" style="font-size:35.5px;font-weight:bold;stroke:#000;stroke-width:0.5px">o</text><g fill="none" stroke="#e8933a" stroke-width="1.15" stroke-opacity="0.7"><path d="M746.9 1822h5v5h-5z"/><path d="M769.9 1785.6h5v5h-5z"/><path d="M703.5 1811h5v5h-5z"/><path d="M850.2 1818h5v5h-5z"/><path d="M794.3 2017.3h5v5h-5z"/><path d="M742.6 1817.9h5v5h-5z"/><path d="M705.2 1961.9h5v5h-5z"/><path d="M828.2 2048.6h5v5h-5z"/><path d="M726.1 1806.8h5v5h-5z"/><path d="M707.6 2017.3h5v5h-5z"/><path d="M796.9 1806.1h5v5h-5z"/><path d="M809.4 2060.3h5v5h-5z"/><path d="M750.9 1909.8h5v5h-5z"/><path d="M708.8 1892.1h5v5h-5z"/><path d="M738.2 1817.5h5v5h-5z"/><path d="M773.2 2024.7h5v5h-5z"/><path d="M705.2 1837.3h5v5h-5z"/><path d="M763.4 1805h5v5h-5z"/><path d="M702 1900.1h5v5h-5z"/><path d="M803.2 1800.4h5v5h-5z"/><path d="M701.8 1815.3h5v5h-5z"/><path d="M733.8 1798.1h5v5h-5z"/><path d="M759.2 2055.6h5v5h-5z"/><path d="M806.7 1976.8h5v5h-5z"/><path d="M739.3 1779.1h5v5h-5z"/><path d="M705.2 1953.8h5v5h-5z"/><path d="M704.4 1822.5h5v5h-5z"/><path d="M785.5 1782.4h5v5h-5z"/><path d="M815.6 1868.9h5v5h-5z"/><path d="M799.5 2053.9h5v5h-5z"/><path d="M814.6 1814.7h5v5h-5z"/><path d="M712.2 1813.9h5v5h-5z"/><path d="M820 1874.4h5v5h-5z"/><path d="M806.4 1796h5v5h-5z"/><path d="M707.2 1786.8h5v5h-5z"/><path d="M899.5 1777.5h5v5h-5z"/><path d="M704.9 1786.5h5v5h-5z"/><path d="M708.6 1944.9h5v5h-5z"/><path d="M750 1769.5h5v5h-5z"/><path d="M703 1996.9h5v5h-5z"/><path d="M829.1 2029.6h5v5h-5z"/><path d="M745.2 1768h5v5h-5z"/><path d="M706.3 1790.7h5v5h-5z"/><path d="M812.8 1816.9h5v5h-5z"/><path d="M709 2051.9h5v5h-5z"/><path d="M706.8 1790.9h5v5h-5z"/><path d="M812.4 1771.6h5v5h-5z"/><path d="M702.8 2000.7h5v5h-5z"/><path d="M747.6 1878.7h5v5h-5z"/><path d="M705.2 1834h5v5h-5z"/><path d="M706.5 1864.7h5v5h-5z"/><path d="M743.2 1847.7h5v5h-5z"/><path d="M705.1 1833.4h5v5h-5z"/><path d="M725.3 1782.6h5v5h-5z"/><path d="M822.9 1976.1h5v5h-5z"/><path d="M754.9 1806.3h5v5h-5z"/><path d="M714 1966.7h5v5h-5z"/><path d="M702.9 1809.1h5v5h-5z"/><path d="M803.5 2048.5h5v5h-5z"/><path d="M767.1 1778.4h5v5h-5z"/><path d="M708.9 1765.1h5v5h-5z"/><path d="M700.9 1961h5v5h-5z"/><path d="M704.1 1809.9h5v5h-5z"/><path d="M781.4 1803.1h5v5h-5z"/><path d="M754.2 1810.9h5v5h-5z"/><path d="M705 1896.5h5v5h-5z"/><path d="M703 1825.9h5v5h-5z"/><path d="M708.2 1793.3h5v5h-5z"/><path d="M824.2 2006.8h5v5h-5z"/><path d="M703.6 1777.3h5v5h-5z"/><path d="M758.7 1797.3h5v5h-5z"/><path d="M787.3 1786.8h5v5h-5z"/><path d="M703.8 2029.1h5v5h-5z"/><path d="M800 1779.3h5v5h-5z"/><path d="M963.6 1817.9h5v5h-5z"/><path d="M704.4 1836.7h5v5h-5z"/><path d="M701.9 1782.4h5v5h-5z"/><path d="M708 1792.1h5v5h-5z"/><path d="M742.2 1968.9h5v5h-5z"/><path d="M758.9 1876.6h5v5h-5z"/><path d="M801.3 1915.1h5v5h-5z"/><path d="M833.9 2060.6h5v5h-5z"/><path d="M709.1 1864.8h5v5h-5z"/><path d="M701.1 1765.9h5v5h-5z"/><path d="M707.8 1812.2h5v5h-5z"/><path d="M701.1 1923.7h5v5h-5z"/><path d="M811.4 1816.3h5v5h-5z"/><path d="M701.9 2058.5h5v5h-5z"/><path d="M703 1798.6h5v5h-5z"/><path d="M719.4 2015.4h5v5h-5z"/><path d="M783.1 1795.8h5v5h-5z"/><path d="M710.4 1893.5h5v5h-5z"/><path d="M767.2 1818.7h5v5h-5z"/><path d="M726.2 1993.1h5v5h-5z"/><path d="M753.5 1830.3h5v5h-5z"/><path d="M703 1808.9h5v5h-5z"/><path d="M719.6 1809.3h5v5h-5z"/><path d="M706.1 1810.4h5v5h-5z"/><path d="M744.7 1766.6h5v5h-5z"/><path d="M702.1 2030.6h5v5h-5z"/><path d="M899 1821.7h5v5h-5z"/><path d="M828.7 1802.6h5v5h-5z"/><path d="M838.4 1820.3h5v5h-5z"/><path d="M733.6 1812.5h5v5h-5z"/><path d="M827.9 1791.4h5v5h-5z"/><path d="M711.9 1774.6h5v5h-5z"/><path d="M722.3 1785.9h5v5h-5z"/><path d="M707.3 1959.8h5v5h-5z"/><path d="M772.7 1958.1h5v5h-5z"/></g><g fill="none" stroke="#e8933a" stroke-width="1.4" stroke-opacity="0.75"><path d="M798 1986.5h6.8M801.4 1983.1v6.8M799 1984.1l4.8 4.8M799 1988.9l4.8 -4.8"/><path d="M699.9 1997.3h6.8M703.3 1993.9v6.8M700.9 1994.9l4.8 4.8M700.9 1999.7l4.8 -4.8"/><path d="M705.9 2063.6h6.8M709.3 2060.2v6.8M706.9 2061.2l4.8 4.8M706.9 2066l4.8 -4.8"/><path d="M973.8 1781.4h6.8M977.2 1778v6.8M974.8 1779l4.8 4.8M974.8 1783.8l4.8 -4.8"/><path d="M977.8 1787.3h6.8M981.2 1783.9v6.8M978.8 1784.9l4.8 4.8M978.8 1789.7l4.8 -4.8"/><path d="M782.3 1806.9h6.8M785.7 1803.5v6.8M783.3 1804.5l4.8 4.8M783.3 1809.3l4.8 -4.8"/><path d="M717.8 1799.2h6.8M721.2 1795.8v6.8M718.8 1796.8l4.8 4.8M718.8 1801.6l4.8 -4.8"/><path d="M708 2012.2h6.8M711.4 2008.8v6.8M709 2009.8l4.8 4.8M709 2014.6l4.8 -4.8"/><path d="M751.9 1969.8h6.8M755.3 1966.4v6.8M752.9 1967.4l4.8 4.8M752.9 1972.2l4.8 -4.8"/><path d="M830.5 2017.4h6.8M833.9 2014v6.8M831.5 2015l4.8 4.8M831.5 2019.8l4.8 -4.8"/><path d="M745 1970.9h6.8M748.4 1967.5v6.8M746 1968.5l4.8 4.8M746 1973.3l4.8 -4.8"/><path d="M702.4 1989h6.8M705.8 1985.6v6.8M703.4 1986.6l4.8 4.8M703.4 1991.4l4.8 -4.8"/><path d="M717.6 1808.6h6.8M721 1805.2v6.8M718.6 1806.2l4.8 4.8M718.6 1811l4.8 -4.8"/><path d="M791.4 1773.2h6.8M794.8 1769.8v6.8M792.4 1770.8l4.8 4.8M792.4 1775.6l4.8 -4.8"/><path d="M700.4 1870.4h6.8M703.8 1867v6.8M701.4 1868l4.8 4.8M701.4 1872.8l4.8 -4.8"/><path d="M825.2 1821.6h6.8M828.6 1818.2v6.8M826.2 1819.2l4.8 4.8M826.2 1824l4.8 -4.8"/><path d="M745.2 1822.5h6.8M748.6 1819.1v6.8M746.2 1820.1l4.8 4.8M746.2 1824.9l4.8 -4.8"/><path d="M718.8 1945.9h6.8M722.2 1942.5v6.8M719.8 1943.5l4.8 4.8M719.8 1948.3l4.8 -4.8"/><path d="M754.5 1790.7h6.8M757.9 1787.3v6.8M755.5 1788.3l4.8 4.8M755.5 1793.1l4.8 -4.8"/><path d="M961.7 1851.6h6.8M965.1 1848.2v6.8M962.7 1849.2l4.8 4.8M962.7 1854l4.8 -4.8"/><path d="M761.4 2045.4h6.8M764.8 2042v6.8M762.4 2043l4.8 4.8M762.4 2047.8l4.8 -4.8"/><path d="M730.8 2018.1h6.8M734.2 2014.7v6.8M731.8 2015.7l4.8 4.8M731.8 2020.5l4.8 -4.8"/><path d="M704.6 1955.7h6.8M708 1952.3v6.8M705.6 1953.3l4.8 4.8M705.6 1958.1l4.8 -4.8"/><path d="M708.6 1783h6.8M712 1779.6v6.8M709.6 1780.6l4.8 4.8M709.6 1785.4l4.8 -4.8"/><path d="M817.7 1775h6.8M821.1 1771.6v6.8M818.7 1772.6l4.8 4.8M818.7 1777.4l4.8 -4.8"/><path d="M746.9 1792.9h6.8M750.3 1789.5v6.8M747.9 1790.5l4.8 4.8M747.9 1795.3l4.8 -4.8"/><path d="M708.7 1963.8h6.8M712.1 1960.4v6.8M709.7 1961.4l4.8 4.8M709.7 1966.2l4.8 -4.8"/><path d="M708.9 1775.2h6.8M712.3 1771.8v6.8M709.9 1772.8l4.8 4.8M709.9 1777.6l4.8 -4.8"/><path d="M750.1 1802.2h6.8M753.5 1798.8v6.8M751.1 1799.8l4.8 4.8M751.1 1804.6l4.8 -4.8"/><path d="M707.3 1818h6.8M710.7 1814.6v6.8M708.3 1815.6l4.8 4.8M708.3 1820.4l4.8 -4.8"/><path d="M808.5 1954.9h6.8M811.9 1951.5v6.8M809.5 1952.5l4.8 4.8M809.5 1957.3l4.8 -4.8"/><path d="M729.7 1927.1h6.8M733.1 1923.7v6.8M730.7 1924.7l4.8 4.8M730.7 1929.5l4.8 -4.8"/><path d="M824.2 1779.8h6.8M827.6 1776.4v6.8M825.2 1777.4l4.8 4.8M825.2 1782.2l4.8 -4.8"/><path d="M708.4 1784h6.8M711.8 1780.6v6.8M709.4 1781.6l4.8 4.8M709.4 1786.4l4.8 -4.8"/><path d="M836.4 1829.9h6.8M839.8 1826.5v6.8M837.4 1827.5l4.8 4.8M837.4 1832.3l4.8 -4.8"/><path d="M703.4 1769.3h6.8M706.8 1765.9v6.8M704.4 1766.9l4.8 4.8M704.4 1771.7l4.8 -4.8"/><path d="M703.1 1817.3h6.8M706.5 1813.9v6.8M704.1 1814.9l4.8 4.8M704.1 1819.7l4.8 -4.8"/><path d="M708.5 1790.7h6.8M711.9 1787.3v6.8M709.5 1788.3l4.8 4.8M709.5 1793.1l4.8 -4.8"/><path d="M709.1 1773.5h6.8M712.5 1770.1v6.8M710.1 1771.1l4.8 4.8M710.1 1775.9l4.8 -4.8"/><path d="M709.2 1822.9h6.8M712.6 1819.5v6.8M710.2 1820.5l4.8 4.8M710.2 1825.3l4.8 -4.8"/><path d="M702.3 1828.9h6.8M705.7 1825.5v6.8M703.3 1826.5l4.8 4.8M703.3 1831.3l4.8 -4.8"/><path d="M709.2 2002.2h6.8M712.6 1998.8v6.8M710.2 1999.8l4.8 4.8M710.2 2004.6l4.8 -4.8"/><path d="M704.9 1774.8h6.8M708.3 1771.4v6.8M705.9 1772.4l4.8 4.8M705.9 1777.2l4.8 -4.8"/><path d="M754.1 1815.8h6.8M757.5 1812.4v6.8M755.1 1813.4l4.8 4.8M755.1 1818.2l4.8 -4.8"/><path d="M709.5 1875.7h6.8M712.9 1872.3v6.8M710.5 1873.3l4.8 4.8M710.5 1878.1l4.8 -4.8"/><path d="M701.5 1786h6.8M704.9 1782.6v6.8M702.5 1783.6l4.8 4.8M702.5 1788.4l4.8 -4.8"/><path d="M740.3 1815.6h6.8M743.7 1812.2v6.8M741.3 1813.2l4.8 4.8M741.3 1818l4.8 -4.8"/><path d="M722.2 1980.3h6.8M725.6 1976.9v6.8M723.2 1977.9l4.8 4.8M723.2 1982.7l4.8 -4.8"/><path d="M726.9 1789.3h6.8M730.3 1785.9v6.8M727.9 1786.9l4.8 4.8M727.9 1791.7l4.8 -4.8"/><path d="M777 1983.1h6.8M780.4 1979.7v6.8M778 1980.7l4.8 4.8M778 1985.5l4.8 -4.8"/><path d="M727 1883.4h6.8M730.4 1880v6.8M728 1881l4.8 4.8M728 1885.8l4.8 -4.8"/><path d="M823.6 1781.4h6.8M827 1778v6.8M824.6 1779l4.8 4.8M824.6 1783.8l4.8 -4.8"/><path d="M711.6 1817.3h6.8M715 1813.9v6.8M712.6 1814.9l4.8 4.8M712.6 1819.7l4.8 -4.8"/><path d="M707.5 1767.6h6.8M710.9 1764.2v6.8M708.5 1765.2l4.8 4.8M708.5 1770l4.8 -4.8"/><path d="M704.2 1840.4h6.8M707.6 1837v6.8M705.2 1838l4.8 4.8M705.2 1842.8l4.8 -4.8"/><path d="M705.6 1824h6.8M709 1820.6v6.8M706.6 1821.6l4.8 4.8M706.6 1826.4l4.8 -4.8"/><path d="M717 1814.6h6.8M720.4 1811.2v6.8M718 1812.2l4.8 4.8M718 1817l4.8 -4.8"/><path d="M707.7 1824.9h6.8M711.1 1821.5v6.8M708.7 1822.5l4.8 4.8M708.7 1827.3l4.8 -4.8"/></g><g fill="none" stroke="#c4473a" stroke-width="1.15" stroke-opacity="0.7"><path d="M886.8 1828.7h5v5h-5z"/><path d="M720.3 1764h5v5h-5z"/><path d="M702.6 1810.8h5v5h-5z"/><path d="M701.4 2000.9h5v5h-5z"/><path d="M712.3 1796.6h5v5h-5z"/><path d="M705.1 1883.1h5v5h-5z"/><path d="M744.6 1990.6h5v5h-5z"/><path d="M791.1 1780h5v5h-5z"/><path d="M711.3 1808.4h5v5h-5z"/><path d="M701.1 1963.6h5v5h-5z"/><path d="M724.2 1769.5h5v5h-5z"/><path d="M733.5 1789.5h5v5h-5z"/><path d="M709 1775h5v5h-5z"/><path d="M790.1 1945.3h5v5h-5z"/><path d="M709.5 1822h5v5h-5z"/><path d="M700 2060.4h5v5h-5z"/><path d="M710.9 1806.2h5v5h-5z"/><path d="M746.6 2045.8h5v5h-5z"/><path d="M702.9 1829.5h5v5h-5z"/><path d="M708.9 1838.6h5v5h-5z"/><path d="M705.4 2016.7h5v5h-5z"/><path d="M813.6 2034.9h5v5h-5z"/><path d="M709.5 1784.2h5v5h-5z"/><path d="M726.3 1913.5h5v5h-5z"/><path d="M842.2 1794.8h5v5h-5z"/><path d="M704.1 1948h5v5h-5z"/><path d="M709.7 1889.3h5v5h-5z"/><path d="M745.2 2019.2h5v5h-5z"/><path d="M709.7 1902.3h5v5h-5z"/><path d="M718.4 1878.8h5v5h-5z"/><path d="M708.4 1782.4h5v5h-5z"/><path d="M750.1 1967.1h5v5h-5z"/><path d="M738.3 1781.7h5v5h-5z"/><path d="M712.6 1814.4h5v5h-5z"/><path d="M738.7 1816h5v5h-5z"/><path d="M701.8 1787.7h5v5h-5z"/><path d="M713 2039.6h5v5h-5z"/><path d="M711.8 1913.1h5v5h-5z"/><path d="M721.9 1795.9h5v5h-5z"/><path d="M701.4 1884.6h5v5h-5z"/><path d="M763.3 1782.9h5v5h-5z"/><path d="M760.7 2034.9h5v5h-5z"/><path d="M704.6 1771.6h5v5h-5z"/><path d="M746 1858.2h5v5h-5z"/><path d="M709.1 1801.1h5v5h-5z"/><path d="M703.6 2056.6h5v5h-5z"/><path d="M755.8 1966.3h5v5h-5z"/><path d="M823.9 1904.5h5v5h-5z"/><path d="M727.2 2009.8h5v5h-5z"/><path d="M707.8 1848.7h5v5h-5z"/><path d="M706 1799h5v5h-5z"/><path d="M706.1 1979.7h5v5h-5z"/><path d="M700.8 1963.2h5v5h-5z"/><path d="M704.9 2033.7h5v5h-5z"/><path d="M814.9 1949.5h5v5h-5z"/><path d="M748.6 2038.6h5v5h-5z"/><path d="M770.6 1827.4h5v5h-5z"/><path d="M705.3 1886h5v5h-5z"/><path d="M748.4 1827.4h5v5h-5z"/><path d="M722.4 1817h5v5h-5z"/><path d="M739.1 1783.9h5v5h-5z"/><path d="M824.9 2011.8h5v5h-5z"/><path d="M741.6 1942.4h5v5h-5z"/><path d="M782.2 1801.4h5v5h-5z"/><path d="M700.5 1906h5v5h-5z"/><path d="M705.2 1823.7h5v5h-5z"/><path d="M712.4 1805.1h5v5h-5z"/><path d="M710.8 1792.3h5v5h-5z"/><path d="M708.7 1828.4h5v5h-5z"/><path d="M834.5 1781.7h5v5h-5z"/><path d="M705.2 1828.7h5v5h-5z"/><path d="M705.6 2056.3h5v5h-5z"/><path d="M704.6 1802.8h5v5h-5z"/><path d="M768.4 1832.9h5v5h-5z"/><path d="M708.9 1820.2h5v5h-5z"/><path d="M708.7 1764.2h5v5h-5z"/><path d="M707.7 1780.9h5v5h-5z"/><path d="M707.8 2028.7h5v5h-5z"/><path d="M722.5 1846h5v5h-5z"/><path d="M757.2 1791h5v5h-5z"/><path d="M710.8 1977.9h5v5h-5z"/><path d="M702.5 1978.6h5v5h-5z"/><path d="M723.8 1981.7h5v5h-5z"/><path d="M701.6 1991h5v5h-5z"/><path d="M834.5 1841.1h5v5h-5z"/><path d="M709 1802.3h5v5h-5z"/><path d="M809.4 1787.5h5v5h-5z"/><path d="M735.1 2017.9h5v5h-5z"/><path d="M702.4 1826.7h5v5h-5z"/><path d="M705.2 1790.5h5v5h-5z"/><path d="M723.8 1951.1h5v5h-5z"/><path d="M754.7 1944h5v5h-5z"/><path d="M711.1 1813h5v5h-5z"/><path d="M732.7 1953.6h5v5h-5z"/><path d="M707.4 1898.6h5v5h-5z"/><path d="M708 1765.7h5v5h-5z"/><path d="M831 1771.3h5v5h-5z"/><path d="M708.2 1823.5h5v5h-5z"/><path d="M712.1 2015h5v5h-5z"/><path d="M704.6 1800.8h5v5h-5z"/><path d="M829.1 1894.4h5v5h-5z"/><path d="M704.6 1821.3h5v5h-5z"/><path d="M752 1909.6h5v5h-5z"/><path d="M702.7 1787.4h5v5h-5z"/><path d="M747.5 1776.2h5v5h-5z"/><path d="M700.7 1786.7h5v5h-5z"/><path d="M792.4 2002.7h5v5h-5z"/><path d="M710.2 1825.7h5v5h-5z"/><path d="M707.6 2054.1h5v5h-5z"/><path d="M701.4 1808.2h5v5h-5z"/><path d="M747.9 1889.8h5v5h-5z"/><path d="M773.4 1935.2h5v5h-5z"/><path d="M748.9 1793h5v5h-5z"/><path d="M701.2 1880.1h5v5h-5z"/><path d="M702.6 1806.5h5v5h-5z"/><path d="M701.9 2063.5h5v5h-5z"/><path d="M790.2 1925.1h5v5h-5z"/><path d="M941.3 1772.4h5v5h-5z"/><path d="M721.8 1978.9h5v5h-5z"/><path d="M744.2 1870.7h5v5h-5z"/><path d="M705.1 1776.4h5v5h-5z"/><path d="M706.9 2054h5v5h-5z"/><path d="M771.3 2002.5h5v5h-5z"/><path d="M707 1944.2h5v5h-5z"/><path d="M711.6 1924.7h5v5h-5z"/><path d="M776.7 1874.8h5v5h-5z"/><path d="M704.4 2042.3h5v5h-5z"/><path d="M765.8 1904.4h5v5h-5z"/><path d="M703.2 1802.9h5v5h-5z"/><path d="M757 1811.3h5v5h-5z"/><path d="M765.5 1853.8h5v5h-5z"/><path d="M706.6 2016.8h5v5h-5z"/><path d="M772.4 1848.5h5v5h-5z"/><path d="M709 1916h5v5h-5z"/><path d="M703.9 1812.5h5v5h-5z"/><path d="M801.8 1802.5h5v5h-5z"/><path d="M701.6 1787.9h5v5h-5z"/><path d="M760.6 1803.8h5v5h-5z"/><path d="M825 1766.3h5v5h-5z"/><path d="M751.5 1947.4h5v5h-5z"/><path d="M701.9 1807.1h5v5h-5z"/><path d="M759.9 1983.9h5v5h-5z"/><path d="M702.1 1923.8h5v5h-5z"/><path d="M838.7 1981.8h5v5h-5z"/><path d="M725.1 1878.3h5v5h-5z"/><path d="M708 1998.3h5v5h-5z"/><path d="M703 1803.3h5v5h-5z"/><path d="M715.8 1879.5h5v5h-5z"/><path d="M701.4 2024.9h5v5h-5z"/><path d="M710.2 1839.9h5v5h-5z"/></g><g fill="none" stroke="#c4473a" stroke-width="1.4" stroke-opacity="0.75"><path d="M932.3 1916.5h6.8M935.7 1913.1v6.8M933.3 1914.1l4.8 4.8M933.3 1918.9l4.8 -4.8"/><path d="M710.8 1904.5h6.8M714.2 1901.1v6.8M711.8 1902.1l4.8 4.8M711.8 1906.9l4.8 -4.8"/><path d="M699.5 1808h6.8M702.9 1804.6v6.8M700.5 1805.6l4.8 4.8M700.5 1810.4l4.8 -4.8"/><path d="M772.5 2058.8h6.8M775.9 2055.4v6.8M773.5 2056.4l4.8 4.8M773.5 2061.2l4.8 -4.8"/><path d="M703.2 2003.6h6.8M706.6 2000.2v6.8M704.2 2001.2l4.8 4.8M704.2 2006l4.8 -4.8"/><path d="M700 1834.3h6.8M703.4 1830.9v6.8M701 1831.9l4.8 4.8M701 1836.7l4.8 -4.8"/><path d="M796.9 1828.3h6.8M800.3 1824.9v6.8M797.9 1825.9l4.8 4.8M797.9 1830.7l4.8 -4.8"/><path d="M703.9 1876.3h6.8M707.3 1872.9v6.8M704.9 1873.9l4.8 4.8M704.9 1878.7l4.8 -4.8"/><path d="M807 1907.6h6.8M810.4 1904.2v6.8M808 1905.2l4.8 4.8M808 1910l4.8 -4.8"/><path d="M750.3 1791.4h6.8M753.7 1788v6.8M751.3 1789l4.8 4.8M751.3 1793.8l4.8 -4.8"/><path d="M781.5 1812.2h6.8M784.9 1808.8v6.8M782.5 1809.8l4.8 4.8M782.5 1814.6l4.8 -4.8"/><path d="M705.6 1849.9h6.8M709 1846.5v6.8M706.6 1847.5l4.8 4.8M706.6 1852.3l4.8 -4.8"/><path d="M837 1808.8h6.8M840.4 1805.4v6.8M838 1806.4l4.8 4.8M838 1811.2l4.8 -4.8"/><path d="M763.5 2065.8h6.8M766.9 2062.4v6.8M764.5 2063.4l4.8 4.8M764.5 2068.2l4.8 -4.8"/><path d="M702.2 1986.4h6.8M705.6 1983v6.8M703.2 1984l4.8 4.8M703.2 1988.8l4.8 -4.8"/><path d="M706.5 1816h6.8M709.9 1812.6v6.8M707.5 1813.6l4.8 4.8M707.5 1818.4l4.8 -4.8"/><path d="M754.2 2016.9h6.8M757.6 2013.5v6.8M755.2 2014.5l4.8 4.8M755.2 2019.3l4.8 -4.8"/><path d="M706.7 1856.2h6.8M710.1 1852.8v6.8M707.7 1853.8l4.8 4.8M707.7 1858.6l4.8 -4.8"/><path d="M735.2 1936.6h6.8M738.6 1933.2v6.8M736.2 1934.2l4.8 4.8M736.2 1939l4.8 -4.8"/><path d="M704.1 1784.4h6.8M707.5 1781v6.8M705.1 1782l4.8 4.8M705.1 1786.8l4.8 -4.8"/><path d="M759.6 1975.3h6.8M763 1971.9v6.8M760.6 1972.9l4.8 4.8M760.6 1977.7l4.8 -4.8"/><path d="M723.2 1772.1h6.8M726.6 1768.7v6.8M724.2 1769.7l4.8 4.8M724.2 1774.5l4.8 -4.8"/><path d="M703.7 1863.9h6.8M707.1 1860.5v6.8M704.7 1861.5l4.8 4.8M704.7 1866.3l4.8 -4.8"/><path d="M705.1 2022.4h6.8M708.5 2019v6.8M706.1 2020l4.8 4.8M706.1 2024.8l4.8 -4.8"/><path d="M702.2 1784.5h6.8M705.6 1781.1v6.8M703.2 1782.1l4.8 4.8M703.2 1786.9l4.8 -4.8"/><path d="M706.6 2044.9h6.8M710 2041.5v6.8M707.6 2042.5l4.8 4.8M707.6 2047.3l4.8 -4.8"/><path d="M828 1818.4h6.8M831.4 1815v6.8M829 1816l4.8 4.8M829 1820.8l4.8 -4.8"/><path d="M724.1 1909.7h6.8M727.5 1906.3v6.8M725.1 1907.3l4.8 4.8M725.1 1912.1l4.8 -4.8"/><path d="M744 1816.8h6.8M747.4 1813.4v6.8M745 1814.4l4.8 4.8M745 1819.2l4.8 -4.8"/><path d="M776.7 1834.5h6.8M780.1 1831.1v6.8M777.7 1832.1l4.8 4.8M777.7 1836.9l4.8 -4.8"/><path d="M707.2 1792.7h6.8M710.6 1789.3v6.8M708.2 1790.3l4.8 4.8M708.2 1795.1l4.8 -4.8"/><path d="M794.8 1880.6h6.8M798.2 1877.2v6.8M795.8 1878.2l4.8 4.8M795.8 1883l4.8 -4.8"/><path d="M740.2 2010.1h6.8M743.6 2006.7v6.8M741.2 2007.7l4.8 4.8M741.2 2012.5l4.8 -4.8"/><path d="M702.1 1945.4h6.8M705.5 1942v6.8M703.1 1943l4.8 4.8M703.1 1947.8l4.8 -4.8"/><path d="M702.9 1816.3h6.8M706.3 1812.9v6.8M703.9 1813.9l4.8 4.8M703.9 1818.7l4.8 -4.8"/><path d="M733.6 1915.9h6.8M737 1912.5v6.8M734.6 1913.5l4.8 4.8M734.6 1918.3l4.8 -4.8"/><path d="M756.8 2048.8h6.8M760.2 2045.4v6.8M757.8 2046.4l4.8 4.8M757.8 2051.2l4.8 -4.8"/><path d="M703.2 2037.8h6.8M706.6 2034.4v6.8M704.2 2035.4l4.8 4.8M704.2 2040.2l4.8 -4.8"/><path d="M703.4 2001.7h6.8M706.8 1998.3v6.8M704.4 1999.3l4.8 4.8M704.4 2004.1l4.8 -4.8"/><path d="M760.8 1768.9h6.8M764.2 1765.5v6.8M761.8 1766.5l4.8 4.8M761.8 1771.3l4.8 -4.8"/><path d="M822.5 1775.8h6.8M825.9 1772.4v6.8M823.5 1773.4l4.8 4.8M823.5 1778.2l4.8 -4.8"/><path d="M738.3 1785.3h6.8M741.7 1781.9v6.8M739.3 1782.9l4.8 4.8M739.3 1787.7l4.8 -4.8"/><path d="M708.3 1879.2h6.8M711.7 1875.8v6.8M709.3 1876.8l4.8 4.8M709.3 1881.6l4.8 -4.8"/><path d="M704.2 1805.7h6.8M707.6 1802.3v6.8M705.2 1803.3l4.8 4.8M705.2 1808.1l4.8 -4.8"/><path d="M704.2 1794h6.8M707.6 1790.6v6.8M705.2 1791.6l4.8 4.8M705.2 1796.4l4.8 -4.8"/><path d="M719.8 1886.6h6.8M723.2 1883.2v6.8M720.8 1884.2l4.8 4.8M720.8 1889l4.8 -4.8"/><path d="M722.9 1917.2h6.8M726.3 1913.8v6.8M723.9 1914.8l4.8 4.8M723.9 1919.6l4.8 -4.8"/><path d="M748.4 1919.1h6.8M751.8 1915.7v6.8M749.4 1916.7l4.8 4.8M749.4 1921.5l4.8 -4.8"/><path d="M813.1 1949.9h6.8M816.5 1946.5v6.8M814.1 1947.5l4.8 4.8M814.1 1952.3l4.8 -4.8"/><path d="M702.2 2023.2h6.8M705.6 2019.8v6.8M703.2 2020.8l4.8 4.8M703.2 2025.6l4.8 -4.8"/><path d="M711.6 1780h6.8M715 1776.6v6.8M712.6 1777.6l4.8 4.8M712.6 1782.4l4.8 -4.8"/><path d="M702.5 1769.3h6.8M705.9 1765.9v6.8M703.5 1766.9l4.8 4.8M703.5 1771.7l4.8 -4.8"/></g><g fill="none" stroke="#2c7bb6" stroke-width="1.15" stroke-opacity="0.7"><path d="M751.9 1894.1h5v5h-5z"/><path d="M703.8 1816.9h5v5h-5z"/><path d="M829 1811.8h5v5h-5z"/><path d="M790.9 1781.9h5v5h-5z"/><path d="M724.4 1987.4h5v5h-5z"/><path d="M710.9 1779.6h5v5h-5z"/><path d="M712.2 1774.4h5v5h-5z"/><path d="M700.9 1838.8h5v5h-5z"/><path d="M805.3 1804.4h5v5h-5z"/><path d="M711 1800.8h5v5h-5z"/><path d="M710.5 2009.5h5v5h-5z"/><path d="M709.9 1787.5h5v5h-5z"/><path d="M710.8 1765.9h5v5h-5z"/><path d="M834.1 2017.6h5v5h-5z"/><path d="M710 2048h5v5h-5z"/></g><g fill="none" stroke="#2c7bb6" stroke-width="1.4" stroke-opacity="0.75"><path d="M707.2 1792.2h6.8M710.6 1788.8v6.8M708.2 1789.8l4.8 4.8M708.2 1794.6l4.8 -4.8"/><path d="M777.8 2043.9h6.8M781.2 2040.5v6.8M778.8 2041.5l4.8 4.8M778.8 2046.3l4.8 -4.8"/><path d="M724.2 1989.1h6.8M727.6 1985.7v6.8M725.2 1986.7l4.8 4.8M725.2 1991.5l4.8 -4.8"/><path d="M707.6 2042.3h6.8M711 2038.9v6.8M708.6 2039.9l4.8 4.8M708.6 2044.7l4.8 -4.8"/><path d="M705.7 1902.3h6.8M709.1 1898.9v6.8M706.7 1899.9l4.8 4.8M706.7 1904.7l4.8 -4.8"/><path d="M717.3 1887.9h6.8M720.7 1884.5v6.8M718.3 1885.5l4.8 4.8M718.3 1890.3l4.8 -4.8"/><path d="M702.2 1937.8h6.8M705.6 1934.4v6.8M703.2 1935.4l4.8 4.8M703.2 1940.2l4.8 -4.8"/><path d="M724.7 1793.9h6.8M728.1 1790.5v6.8M725.7 1791.5l4.8 4.8M725.7 1796.3l4.8 -4.8"/><path d="M812.3 2037.6h6.8M815.7 2034.2v6.8M813.3 2035.2l4.8 4.8M813.3 2040l4.8 -4.8"/></g><g fill="none" stroke="#2a8f57" stroke-width="1.15" stroke-opacity="0.7"><path d="M712.1 2004h5v5h-5z"/><path d="M786.4 1790.2h5v5h-5z"/><path d="M756 1914h5v5h-5z"/><path d="M752.3 1810.3h5v5h-5z"/><path d="M704.1 1934.6h5v5h-5z"/><path d="M712.3 2025.4h5v5h-5z"/><path d="M758.5 1786.8h5v5h-5z"/><path d="M709 2005.3h5v5h-5z"/><path d="M759.7 2031.8h5v5h-5z"/><path d="M815.6 1935.7h5v5h-5z"/><path d="M762.1 1808.8h5v5h-5z"/><path d="M705.8 1909.9h5v5h-5z"/><path d="M813.6 1880.8h5v5h-5z"/><path d="M744.9 2039.5h5v5h-5z"/><path d="M817.6 2038.2h5v5h-5z"/><path d="M905.3 1905.7h5v5h-5z"/><path d="M703.2 1932.7h5v5h-5z"/><path d="M751.7 1855.7h5v5h-5z"/><path d="M710.5 1963.8h5v5h-5z"/><path d="M816.7 2037.3h5v5h-5z"/></g><g fill="none" stroke="#2a8f57" stroke-width="1.4" stroke-opacity="0.75"><path d="M704.9 1883.2h6.8M708.3 1879.8v6.8M705.9 1880.8l4.8 4.8M705.9 1885.6l4.8 -4.8"/><path d="M707.3 1924.1h6.8M710.7 1920.7v6.8M708.3 1921.7l4.8 4.8M708.3 1926.5l4.8 -4.8"/><path d="M701.4 1970.2h6.8M704.8 1966.8v6.8M702.4 1967.8l4.8 4.8M702.4 1972.6l4.8 -4.8"/><path d="M702.7 1786.6h6.8M706.1 1783.2v6.8M703.7 1784.2l4.8 4.8M703.7 1789l4.8 -4.8"/><path d="M715.4 1791.8h6.8M718.8 1788.4v6.8M716.4 1789.4l4.8 4.8M716.4 1794.2l4.8 -4.8"/><path d="M702 1878.8h6.8M705.4 1875.4v6.8M703 1876.4l4.8 4.8M703 1881.2l4.8 -4.8"/><path d="M702.3 1778.7h6.8M705.7 1775.3v6.8M703.3 1776.3l4.8 4.8M703.3 1781.1l4.8 -4.8"/></g><path d="M703.2 1943.6L1007.1 1740" stroke="#1a72b8" stroke-width="3.8"/><path d="M703.2 1864.1L1007.1 1934.6" stroke="#e08a2e" stroke-width="3.8"/><path d="M703.2 1937L1007.1 1746.6" stroke="#c0392b" stroke-width="3.8"/><path d="M703.2 1906.9L1007.1 1952" stroke="#1e8a4f" stroke-width="3.8"/><path d="M688.6 1670L688.6 2074.6" stroke="#000" stroke-width="1.3"/><path d="M685.1 2067.7h3.5M685.1 1992.4h3.5M685.1 1917.1h3.5M685.1 1841.8h3.5M685.1 1766.5h3.5" stroke="#000" stroke-width="1.2"/><text x="682.6" y="2073" text-anchor="end" style="font-size:14.6px">0</text><text x="682.6" y="1997.7" text-anchor="end" style="font-size:14.6px">25</text><text x="682.6" y="1922.4" text-anchor="end" style="font-size:14.6px">50</text><text x="682.6" y="1847.1" text-anchor="end" style="font-size:14.6px">75</text><text x="682.6" y="1771.8" text-anchor="end" style="font-size:14.6px">100</text><path d="M688 2074L1022.2 2074" stroke="#000" stroke-width="1.3"/><path d="M703.2 2074v3.5M786.1 2074v3.5M869 2074v3.5M951.9 2074v3.5" stroke="#000" stroke-width="1.2"/><text x="703.2" y="2089.6" text-anchor="middle" style="font-size:14.6px">0</text><text x="786.1" y="2089.6" text-anchor="middle" style="font-size:14.6px">30</text><text x="869" y="2089.6" text-anchor="middle" style="font-size:14.6px">60</text><text x="951.9" y="2089.6" text-anchor="middle" style="font-size:14.6px">90</text><text x="880.9" y="2112" text-anchor="middle" style="font-size:20.9px">Days from intubation</text><text x="645.8" y="1851.8" text-anchor="middle" style="font-size:19.5px" transform="rotate(-90 645.8 1851.8)">Percent of total cells</text><text x="732.2" y="1693.2" style="font-size:11.8px;fill:#1a72b8" textLength="95.3" lengthAdjust="spacing"><tspan style="font-style:italic">R</tspan> = 0.27, <tspan style="font-style:italic">p</tspan> = 0.1</text><text x="732.2" y="1712.3" style="font-size:11.8px;fill:#e08a2e" textLength="112.3" lengthAdjust="spacing"><tspan style="font-style:italic">R</tspan> = −0.025, <tspan style="font-style:italic">p</tspan> = 0.7</text><text x="732.2" y="1730.5" style="font-size:11.8px;fill:#c0392b" textLength="111" lengthAdjust="spacing"><tspan style="font-style:italic">R</tspan> = 0.38, <tspan style="font-style:italic">p</tspan> = 4e-07</text><text x="732.2" y="1749.6" style="font-size:11.8px;fill:#1e8a4f" textLength="112.7" lengthAdjust="spacing"><tspan style="font-style:italic">R</tspan> = −0.044, <tspan style="font-style:italic">p</tspan> = 0.8</text><text x="1027.8" y="1685.7" style="font-size:20.3px">Diagnosis</text><path d="M1028.8 1701.5h15" stroke="#1a72b8" stroke-width="1" stroke-opacity="0.35"/><rect x="1031.1" y="1696.8" width="10.2" height="9.6" fill="#1a72b8"/><text x="1053.3" y="1707" style="font-size:16.6px">NPC</text><path d="M1028.8 1718.8h15" stroke="#e08a2e" stroke-width="1" stroke-opacity="0.35"/><rect x="1031.1" y="1714.1" width="10.2" height="9.6" fill="#e08a2e"/><text x="1053.3" y="1724.3" style="font-size:16.6px">OP</text><path d="M1028.8 1736.5h15" stroke="#c0392b" stroke-width="1" stroke-opacity="0.35"/><rect x="1031.1" y="1731.8" width="10.2" height="9.6" fill="#c0392b"/><text x="1053.3" y="1742" style="font-size:16.6px">SARS−CoV−2−P</text><path d="M1028.8 1755.2h15" stroke="#1e8a4f" stroke-width="1" stroke-opacity="0.35"/><rect x="1031.1" y="1750.5" width="10.2" height="9.6" fill="#1e8a4f"/><text x="1053.3" y="1760.7" style="font-size:16.6px">OVP</text><text x="1027.8" y="1787.8" style="font-size:20.3px">Outcome</text><rect x="1033.8" y="1800.3" width="5" height="5" fill="none" stroke="#333" stroke-width="1.1"/><text x="1053.3" y="1808.8" style="font-size:16.6px">Discharged</text><path d="M1033.3 1820.4h6M1036.3 1817.4v6M1034.1 1818.2l4.4 4.4M1034.1 1822.6l4.4 -4.4" stroke="#333" stroke-width="1.2"/><text x="1053.3" y="1826.4" style="font-size:16.6px">Deceased</text></g><text transform="translate(631 2213) scale(0.9 1)" style="font-size:35.5px;font-weight:bold;stroke:#000;stroke-width:0.5px">r</text><g fill="none" stroke="#e8933a" stroke-width="1.15" stroke-opacity="0.7"><path d="M863 2477.6h5v5h-5z"/><path d="M715.3 2515h5v5h-5z"/><path d="M810.4 2389.3h5v5h-5z"/><path d="M709.8 2521.5h5v5h-5z"/><path d="M829.8 2453.9h5v5h-5z"/><path d="M770.7 2371.2h5v5h-5z"/><path d="M837.9 2537h5v5h-5z"/><path d="M842.5 2480.6h5v5h-5z"/><path d="M830.5 2546.5h5v5h-5z"/><path d="M837.6 2438.3h5v5h-5z"/><path d="M704 2494.7h5v5h-5z"/><path d="M732 2514.5h5v5h-5z"/><path d="M761.5 2537.8h5v5h-5z"/><path d="M755.9 2534.1h5v5h-5z"/><path d="M708.2 2534.1h5v5h-5z"/><path d="M811.6 2522.4h5v5h-5z"/><path d="M755.5 2534.8h5v5h-5z"/><path d="M817 2518.9h5v5h-5z"/><path d="M710.9 2529.6h5v5h-5z"/><path d="M836.5 2493.6h5v5h-5z"/><path d="M761.7 2508.1h5v5h-5z"/><path d="M746.6 2434.8h5v5h-5z"/><path d="M707.9 2472.6h5v5h-5z"/><path d="M844.2 2549.2h5v5h-5z"/><path d="M730.7 2446.2h5v5h-5z"/><path d="M709.5 2491.5h5v5h-5z"/><path d="M706.5 2420.7h5v5h-5z"/><path d="M711.4 2517.1h5v5h-5z"/><path d="M793.3 2528.6h5v5h-5z"/><path d="M709 2481.3h5v5h-5z"/><path d="M703.3 2520.3h5v5h-5z"/><path d="M707.1 2518.8h5v5h-5z"/><path d="M821.7 2353.8h5v5h-5z"/><path d="M710.3 2311.4h5v5h-5z"/><path d="M709.6 2506.1h5v5h-5z"/><path d="M813.8 2475.1h5v5h-5z"/><path d="M710.9 2550.3h5v5h-5z"/><path d="M709.9 2522.1h5v5h-5z"/><path d="M707 2548.4h5v5h-5z"/><path d="M705.4 2427.2h5v5h-5z"/><path d="M752.8 2508.5h5v5h-5z"/><path d="M707.6 2533.8h5v5h-5z"/><path d="M739.4 2517.7h5v5h-5z"/><path d="M711.5 2511.4h5v5h-5z"/><path d="M704.5 2530.6h5v5h-5z"/><path d="M753.9 2429.3h5v5h-5z"/><path d="M845.4 2433.1h5v5h-5z"/><path d="M845.1 2433.8h5v5h-5z"/><path d="M706.4 2514.3h5v5h-5z"/><path d="M705.8 2494.1h5v5h-5z"/><path d="M755.9 2522.3h5v5h-5z"/><path d="M712 2515.3h5v5h-5z"/><path d="M763.3 2456.5h5v5h-5z"/><path d="M711.7 2386h5v5h-5z"/><path d="M723.4 2436.5h5v5h-5z"/><path d="M740.6 2521.1h5v5h-5z"/><path d="M715.1 2529.7h5v5h-5z"/><path d="M748 2420.1h5v5h-5z"/><path d="M758.4 2314.6h5v5h-5z"/><path d="M702.3 2524.5h5v5h-5z"/><path d="M834.8 2435.3h5v5h-5z"/><path d="M839 2538.8h5v5h-5z"/><path d="M714.3 2504.5h5v5h-5z"/><path d="M752.9 2504.4h5v5h-5z"/><path d="M725.8 2403.5h5v5h-5z"/><path d="M818.2 2350.6h5v5h-5z"/><path d="M709.8 2511.5h5v5h-5z"/><path d="M967.5 2475.4h5v5h-5z"/><path d="M703.7 2549.1h5v5h-5z"/><path d="M723.8 2543.1h5v5h-5z"/><path d="M711.7 2494.4h5v5h-5z"/><path d="M709.6 2516.4h5v5h-5z"/><path d="M741.4 2511.5h5v5h-5z"/><path d="M837.2 2461.6h5v5h-5z"/><path d="M709 2515.8h5v5h-5z"/><path d="M711.5 2510.2h5v5h-5z"/><path d="M710.2 2509.3h5v5h-5z"/><path d="M814.3 2533.7h5v5h-5z"/><path d="M732.3 2507.8h5v5h-5z"/><path d="M714.3 2482.3h5v5h-5z"/><path d="M707.8 2533.8h5v5h-5z"/><path d="M837.1 2539.6h5v5h-5z"/><path d="M745.4 2518.5h5v5h-5z"/><path d="M803.3 2472.8h5v5h-5z"/><path d="M714 2511h5v5h-5z"/><path d="M759.8 2349.8h5v5h-5z"/><path d="M772.1 2510.1h5v5h-5z"/><path d="M772.3 2549.1h5v5h-5z"/><path d="M823.3 2523.2h5v5h-5z"/><path d="M718.9 2507.2h5v5h-5z"/><path d="M707.3 2335.7h5v5h-5z"/><path d="M782.5 2495.2h5v5h-5z"/><path d="M838 2450.1h5v5h-5z"/><path d="M815.2 2392.1h5v5h-5z"/></g><g fill="none" stroke="#e8933a" stroke-width="1.4" stroke-opacity="0.75"><path d="M766.4 2539.2h6.8M769.8 2535.8v6.8M767.4 2536.8l4.8 4.8M767.4 2541.6l4.8 -4.8"/><path d="M702.4 2343.7h6.8M705.8 2340.3v6.8M703.4 2341.3l4.8 4.8M703.4 2346.1l4.8 -4.8"/><path d="M787.2 2481.9h6.8M790.6 2478.5v6.8M788.2 2479.5l4.8 4.8M788.2 2484.3l4.8 -4.8"/><path d="M797.5 2547.9h6.8M800.9 2544.5v6.8M798.5 2545.5l4.8 4.8M798.5 2550.3l4.8 -4.8"/><path d="M776.8 2511.5h6.8M780.2 2508.1v6.8M777.8 2509.1l4.8 4.8M777.8 2513.9l4.8 -4.8"/><path d="M732.2 2520.8h6.8M735.6 2517.4v6.8M733.2 2518.4l4.8 4.8M733.2 2523.2l4.8 -4.8"/><path d="M764.7 2540.2h6.8M768.1 2536.8v6.8M765.7 2537.8l4.8 4.8M765.7 2542.6l4.8 -4.8"/><path d="M712.3 2538.2h6.8M715.7 2534.8v6.8M713.3 2535.8l4.8 4.8M713.3 2540.6l4.8 -4.8"/><path d="M755.6 2530.6h6.8M759 2527.2v6.8M756.6 2528.2l4.8 4.8M756.6 2533l4.8 -4.8"/><path d="M823.3 2426h6.8M826.7 2422.6v6.8M824.3 2423.6l4.8 4.8M824.3 2428.4l4.8 -4.8"/><path d="M814.9 2549.5h6.8M818.3 2546.1v6.8M815.9 2547.1l4.8 4.8M815.9 2551.9l4.8 -4.8"/><path d="M710.6 2512.3h6.8M714 2508.9v6.8M711.6 2509.9l4.8 4.8M711.6 2514.7l4.8 -4.8"/><path d="M709.3 2520.7h6.8M712.7 2517.3v6.8M710.3 2518.3l4.8 4.8M710.3 2523.1l4.8 -4.8"/><path d="M703 2553.3h6.8M706.4 2549.9v6.8M704 2550.9l4.8 4.8M704 2555.7l4.8 -4.8"/><path d="M748.1 2545.2h6.8M751.5 2541.8v6.8M749.1 2542.8l4.8 4.8M749.1 2547.6l4.8 -4.8"/><path d="M711.3 2535.7h6.8M714.7 2532.3v6.8M712.3 2533.3l4.8 4.8M712.3 2538.1l4.8 -4.8"/><path d="M713.3 2520.2h6.8M716.7 2516.8v6.8M714.3 2517.8l4.8 4.8M714.3 2522.6l4.8 -4.8"/><path d="M740.8 2472.2h6.8M744.2 2468.8v6.8M741.8 2469.8l4.8 4.8M741.8 2474.6l4.8 -4.8"/><path d="M706.5 2512h6.8M709.9 2508.6v6.8M707.5 2509.6l4.8 4.8M707.5 2514.4l4.8 -4.8"/><path d="M777.5 2532.6h6.8M780.9 2529.2v6.8M778.5 2530.2l4.8 4.8M778.5 2535l4.8 -4.8"/><path d="M779.5 2523.1h6.8M782.9 2519.7v6.8M780.5 2520.7l4.8 4.8M780.5 2525.5l4.8 -4.8"/><path d="M703.7 2437.5h6.8M707.1 2434.1v6.8M704.7 2435.1l4.8 4.8M704.7 2439.9l4.8 -4.8"/><path d="M704.7 2410.9h6.8M708.1 2407.5v6.8M705.7 2408.5l4.8 4.8M705.7 2413.3l4.8 -4.8"/><path d="M720.7 2534.2h6.8M724.1 2530.8v6.8M721.7 2531.8l4.8 4.8M721.7 2536.6l4.8 -4.8"/><path d="M708.8 2424.7h6.8M712.2 2421.3v6.8M709.8 2422.3l4.8 4.8M709.8 2427.1l4.8 -4.8"/><path d="M709 2521h6.8M712.4 2517.6v6.8M710 2518.6l4.8 4.8M710 2523.4l4.8 -4.8"/><path d="M841.3 2524.4h6.8M844.7 2521v6.8M842.3 2522l4.8 4.8M842.3 2526.8l4.8 -4.8"/><path d="M756.8 2322.2h6.8M760.2 2318.8v6.8M757.8 2319.8l4.8 4.8M757.8 2324.6l4.8 -4.8"/><path d="M748.5 2516.7h6.8M751.9 2513.3v6.8M749.5 2514.3l4.8 4.8M749.5 2519.1l4.8 -4.8"/><path d="M706.7 2327.4h6.8M710.1 2324v6.8M707.7 2325l4.8 4.8M707.7 2329.8l4.8 -4.8"/><path d="M831.8 2482.9h6.8M835.2 2479.5v6.8M832.8 2480.5l4.8 4.8M832.8 2485.3l4.8 -4.8"/><path d="M702.5 2514.4h6.8M705.9 2511v6.8M703.5 2512l4.8 4.8M703.5 2516.8l4.8 -4.8"/><path d="M711.7 2437.5h6.8M715.1 2434.1v6.8M712.7 2435.1l4.8 4.8M712.7 2439.9l4.8 -4.8"/><path d="M808.1 2465.2h6.8M811.5 2461.8v6.8M809.1 2462.8l4.8 4.8M809.1 2467.6l4.8 -4.8"/><path d="M710.9 2388.5h6.8M714.3 2385.1v6.8M711.9 2386.1l4.8 4.8M711.9 2390.9l4.8 -4.8"/><path d="M711.7 2389h6.8M715.1 2385.6v6.8M712.7 2386.6l4.8 4.8M712.7 2391.4l4.8 -4.8"/><path d="M765.7 2484.9h6.8M769.1 2481.5v6.8M766.7 2482.5l4.8 4.8M766.7 2487.3l4.8 -4.8"/><path d="M823.6 2459h6.8M827 2455.6v6.8M824.6 2456.6l4.8 4.8M824.6 2461.4l4.8 -4.8"/><path d="M855.2 2490.5h6.8M858.6 2487.1v6.8M856.2 2488.1l4.8 4.8M856.2 2492.9l4.8 -4.8"/><path d="M702.1 2436.7h6.8M705.5 2433.3v6.8M703.1 2434.3l4.8 4.8M703.1 2439.1l4.8 -4.8"/><path d="M703.9 2549.4h6.8M707.3 2546v6.8M704.9 2547l4.8 4.8M704.9 2551.8l4.8 -4.8"/><path d="M704.3 2409h6.8M707.7 2405.6v6.8M705.3 2406.6l4.8 4.8M705.3 2411.4l4.8 -4.8"/><path d="M711 2294.7h6.8M714.4 2291.3v6.8M712 2292.3l4.8 4.8M712 2297.1l4.8 -4.8"/><path d="M810.8 2483.5h6.8M814.2 2480.1v6.8M811.8 2481.1l4.8 4.8M811.8 2485.9l4.8 -4.8"/><path d="M708 2532.8h6.8M711.4 2529.4v6.8M709 2530.4l4.8 4.8M709 2535.2l4.8 -4.8"/><path d="M712.5 2497.8h6.8M715.9 2494.4v6.8M713.5 2495.4l4.8 4.8M713.5 2500.2l4.8 -4.8"/></g><g fill="none" stroke="#c4473a" stroke-width="1.15" stroke-opacity="0.7"><path d="M750 2519.5h5v5h-5z"/><path d="M711.5 2454.2h5v5h-5z"/><path d="M710.4 2507.3h5v5h-5z"/><path d="M743.4 2519.8h5v5h-5z"/><path d="M828.3 2486.2h5v5h-5z"/><path d="M813.3 2506.4h5v5h-5z"/><path d="M708.6 2533.5h5v5h-5z"/><path d="M743.6 2513.5h5v5h-5z"/><path d="M706.2 2517.8h5v5h-5z"/><path d="M710.3 2505.7h5v5h-5z"/><path d="M774.5 2522.9h5v5h-5z"/><path d="M752 2514.2h5v5h-5z"/><path d="M709.5 2549.8h5v5h-5z"/><path d="M714.2 2504.6h5v5h-5z"/><path d="M741.7 2528.1h5v5h-5z"/><path d="M822.8 2332.4h5v5h-5z"/><path d="M989.8 2539.5h5v5h-5z"/><path d="M766.1 2542h5v5h-5z"/><path d="M883.4 2445.3h5v5h-5z"/><path d="M747.7 2465.2h5v5h-5z"/><path d="M706.7 2533.6h5v5h-5z"/><path d="M722.7 2457.3h5v5h-5z"/><path d="M827 2436.6h5v5h-5z"/><path d="M722.1 2385.1h5v5h-5z"/><path d="M784.8 2509.6h5v5h-5z"/><path d="M711.5 2516.6h5v5h-5z"/><path d="M752.3 2519.8h5v5h-5z"/><path d="M829.5 2510.8h5v5h-5z"/><path d="M712 2465.4h5v5h-5z"/><path d="M709 2421.8h5v5h-5z"/><path d="M804.4 2518.6h5v5h-5z"/><path d="M761.6 2548.2h5v5h-5z"/><path d="M821.7 2516.6h5v5h-5z"/><path d="M757.9 2534.1h5v5h-5z"/><path d="M810.2 2510.4h5v5h-5z"/><path d="M748.2 2491.5h5v5h-5z"/><path d="M711.4 2526.1h5v5h-5z"/><path d="M711.8 2418.9h5v5h-5z"/><path d="M710.2 2505.5h5v5h-5z"/><path d="M746.6 2345h5v5h-5z"/><path d="M709.4 2516h5v5h-5z"/><path d="M714.8 2537h5v5h-5z"/><path d="M707.5 2511h5v5h-5z"/><path d="M715.2 2512.1h5v5h-5z"/><path d="M765.5 2510.3h5v5h-5z"/><path d="M747.8 2508.4h5v5h-5z"/><path d="M806 2545.1h5v5h-5z"/><path d="M707.1 2425.5h5v5h-5z"/><path d="M716.5 2515.2h5v5h-5z"/><path d="M764.3 2533.4h5v5h-5z"/><path d="M703.5 2531h5v5h-5z"/><path d="M767.9 2548.9h5v5h-5z"/><path d="M742.3 2375h5v5h-5z"/><path d="M756.6 2508.8h5v5h-5z"/><path d="M706.7 2521.6h5v5h-5z"/><path d="M929.2 2451.2h5v5h-5z"/><path d="M739.5 2421.1h5v5h-5z"/><path d="M781.1 2537.4h5v5h-5z"/><path d="M705.8 2464.9h5v5h-5z"/><path d="M802.3 2545.5h5v5h-5z"/><path d="M737.4 2298.5h5v5h-5z"/><path d="M811.7 2531.3h5v5h-5z"/><path d="M925.4 2439.9h5v5h-5z"/><path d="M756.5 2395.8h5v5h-5z"/><path d="M706.7 2516.5h5v5h-5z"/><path d="M904.4 2462.1h5v5h-5z"/><path d="M810.4 2523.9h5v5h-5z"/><path d="M704.2 2476.1h5v5h-5z"/><path d="M716.6 2545h5v5h-5z"/><path d="M750.8 2534.1h5v5h-5z"/><path d="M774.8 2520.7h5v5h-5z"/><path d="M745.9 2546.9h5v5h-5z"/><path d="M818.4 2526.2h5v5h-5z"/><path d="M748.1 2302.5h5v5h-5z"/><path d="M843.3 2550.2h5v5h-5z"/><path d="M711.9 2523.5h5v5h-5z"/><path d="M827.5 2529.7h5v5h-5z"/><path d="M713.9 2444.8h5v5h-5z"/><path d="M711.6 2399.8h5v5h-5z"/><path d="M757.7 2528h5v5h-5z"/><path d="M716.3 2474.7h5v5h-5z"/><path d="M708.3 2504.5h5v5h-5z"/><path d="M812 2340.7h5v5h-5z"/><path d="M761.5 2504.9h5v5h-5z"/><path d="M710.9 2497.9h5v5h-5z"/><path d="M751.7 2484.2h5v5h-5z"/><path d="M748.8 2546h5v5h-5z"/><path d="M713.7 2543.3h5v5h-5z"/><path d="M758.6 2424.9h5v5h-5z"/><path d="M824.1 2439.1h5v5h-5z"/><path d="M822.6 2395.2h5v5h-5z"/><path d="M713.8 2548.5h5v5h-5z"/><path d="M747.8 2351.7h5v5h-5z"/><path d="M712.2 2539.4h5v5h-5z"/><path d="M713.5 2545.1h5v5h-5z"/><path d="M703.9 2515.2h5v5h-5z"/><path d="M755.3 2541.1h5v5h-5z"/><path d="M703.9 2510.3h5v5h-5z"/><path d="M778.1 2539.9h5v5h-5z"/><path d="M709.6 2446.5h5v5h-5z"/><path d="M710.6 2510h5v5h-5z"/><path d="M714.3 2531h5v5h-5z"/><path d="M711.2 2523.1h5v5h-5z"/><path d="M717.7 2517.4h5v5h-5z"/><path d="M713.1 2508.9h5v5h-5z"/><path d="M752.6 2288.2h5v5h-5z"/><path d="M712.4 2548.9h5v5h-5z"/><path d="M704.5 2434.8h5v5h-5z"/><path d="M704.7 2468h5v5h-5z"/><path d="M810.2 2539h5v5h-5z"/><path d="M818 2519.4h5v5h-5z"/><path d="M706.9 2535.3h5v5h-5z"/><path d="M785.8 2549.3h5v5h-5z"/><path d="M706.5 2504.2h5v5h-5z"/><path d="M708.1 2357.9h5v5h-5z"/><path d="M837.2 2535.7h5v5h-5z"/><path d="M708.6 2550.2h5v5h-5z"/><path d="M755.9 2432.7h5v5h-5z"/></g><g fill="none" stroke="#c4473a" stroke-width="1.4" stroke-opacity="0.75"><path d="M801.4 2391.8h6.8M804.8 2388.4v6.8M802.4 2389.4l4.8 4.8M802.4 2394.2l4.8 -4.8"/><path d="M702.4 2536.8h6.8M705.8 2533.4v6.8M703.4 2534.4l4.8 4.8M703.4 2539.2l4.8 -4.8"/><path d="M721.7 2524.3h6.8M725.1 2520.9v6.8M722.7 2521.9l4.8 4.8M722.7 2526.7l4.8 -4.8"/><path d="M736.6 2518.6h6.8M740 2515.2v6.8M737.6 2516.2l4.8 4.8M737.6 2521l4.8 -4.8"/><path d="M702.2 2523.3h6.8M705.6 2519.9v6.8M703.2 2520.9l4.8 4.8M703.2 2525.7l4.8 -4.8"/><path d="M792.2 2519.7h6.8M795.6 2516.3v6.8M793.2 2517.3l4.8 4.8M793.2 2522.1l4.8 -4.8"/><path d="M718.9 2442.3h6.8M722.3 2438.9v6.8M719.9 2439.9l4.8 4.8M719.9 2444.7l4.8 -4.8"/><path d="M710 2508.1h6.8M713.4 2504.7v6.8M711 2505.7l4.8 4.8M711 2510.5l4.8 -4.8"/><path d="M733.1 2551.5h6.8M736.5 2548.1v6.8M734.1 2549.1l4.8 4.8M734.1 2553.9l4.8 -4.8"/><path d="M759.7 2521.9h6.8M763.1 2518.5v6.8M760.7 2519.5l4.8 4.8M760.7 2524.3l4.8 -4.8"/><path d="M760.9 2539.8h6.8M764.3 2536.4v6.8M761.9 2537.4l4.8 4.8M761.9 2542.2l4.8 -4.8"/><path d="M742.8 2551.1h6.8M746.2 2547.7v6.8M743.8 2548.7l4.8 4.8M743.8 2553.5l4.8 -4.8"/><path d="M711.9 2412h6.8M715.3 2408.6v6.8M712.9 2409.6l4.8 4.8M712.9 2414.4l4.8 -4.8"/><path d="M819.2 2514.1h6.8M822.6 2510.7v6.8M820.2 2511.7l4.8 4.8M820.2 2516.5l4.8 -4.8"/><path d="M818.3 2515.4h6.8M821.7 2512v6.8M819.3 2513l4.8 4.8M819.3 2517.8l4.8 -4.8"/><path d="M815.3 2437.1h6.8M818.7 2433.7v6.8M816.3 2434.7l4.8 4.8M816.3 2439.5l4.8 -4.8"/><path d="M756.1 2337.6h6.8M759.5 2334.2v6.8M757.1 2335.2l4.8 4.8M757.1 2340l4.8 -4.8"/><path d="M761.6 2518.5h6.8M765 2515.1v6.8M762.6 2516.1l4.8 4.8M762.6 2520.9l4.8 -4.8"/><path d="M717 2547.6h6.8M720.4 2544.2v6.8M718 2545.2l4.8 4.8M718 2550l4.8 -4.8"/><path d="M703.1 2534.9h6.8M706.5 2531.5v6.8M704.1 2532.5l4.8 4.8M704.1 2537.3l4.8 -4.8"/><path d="M790.6 2544.4h6.8M794 2541v6.8M791.6 2542l4.8 4.8M791.6 2546.8l4.8 -4.8"/><path d="M706 2510.7h6.8M709.4 2507.3v6.8M707 2508.3l4.8 4.8M707 2513.1l4.8 -4.8"/><path d="M712.5 2536.4h6.8M715.9 2533v6.8M713.5 2534l4.8 4.8M713.5 2538.8l4.8 -4.8"/><path d="M747.4 2506.1h6.8M750.8 2502.7v6.8M748.4 2503.7l4.8 4.8M748.4 2508.5l4.8 -4.8"/><path d="M704.7 2530.4h6.8M708.1 2527v6.8M705.7 2528l4.8 4.8M705.7 2532.8l4.8 -4.8"/><path d="M712.1 2507.3h6.8M715.5 2503.9v6.8M713.1 2504.9l4.8 4.8M713.1 2509.7l4.8 -4.8"/><path d="M754.6 2549h6.8M758 2545.6v6.8M755.6 2546.6l4.8 4.8M755.6 2551.4l4.8 -4.8"/><path d="M703.8 2545.3h6.8M707.2 2541.9v6.8M704.8 2542.9l4.8 4.8M704.8 2547.7l4.8 -4.8"/><path d="M726.8 2508.3h6.8M730.2 2504.9v6.8M727.8 2505.9l4.8 4.8M727.8 2510.7l4.8 -4.8"/><path d="M794.3 2348.4h6.8M797.7 2345v6.8M795.3 2346l4.8 4.8M795.3 2350.8l4.8 -4.8"/><path d="M778.4 2497.5h6.8M781.8 2494.1v6.8M779.4 2495.1l4.8 4.8M779.4 2499.9l4.8 -4.8"/><path d="M780.6 2553.7h6.8M784 2550.3v6.8M781.6 2551.3l4.8 4.8M781.6 2556.1l4.8 -4.8"/><path d="M749.9 2367h6.8M753.3 2363.6v6.8M750.9 2364.6l4.8 4.8M750.9 2369.4l4.8 -4.8"/><path d="M756.7 2491.5h6.8M760.1 2488.1v6.8M757.7 2489.1l4.8 4.8M757.7 2493.9l4.8 -4.8"/><path d="M707.7 2549h6.8M711.1 2545.6v6.8M708.7 2546.6l4.8 4.8M708.7 2551.4l4.8 -4.8"/><path d="M711 2546.1h6.8M714.4 2542.7v6.8M712 2543.7l4.8 4.8M712 2548.5l4.8 -4.8"/><path d="M701.5 2529.8h6.8M704.9 2526.4v6.8M702.5 2527.4l4.8 4.8M702.5 2532.2l4.8 -4.8"/><path d="M778.4 2548.4h6.8M781.8 2545v6.8M779.4 2546l4.8 4.8M779.4 2550.8l4.8 -4.8"/><path d="M709.2 2517.3h6.8M712.6 2513.9v6.8M710.2 2514.9l4.8 4.8M710.2 2519.7l4.8 -4.8"/><path d="M833.8 2541.3h6.8M837.2 2537.9v6.8M834.8 2538.9l4.8 4.8M834.8 2543.7l4.8 -4.8"/><path d="M808.1 2516.1h6.8M811.5 2512.7v6.8M809.1 2513.7l4.8 4.8M809.1 2518.5l4.8 -4.8"/><path d="M708.7 2409.5h6.8M712.1 2406.1v6.8M709.7 2407.1l4.8 4.8M709.7 2411.9l4.8 -4.8"/><path d="M766.2 2507.8h6.8M769.6 2504.4v6.8M767.2 2505.4l4.8 4.8M767.2 2510.2l4.8 -4.8"/></g><g fill="none" stroke="#2c7bb6" stroke-width="1.15" stroke-opacity="0.7"><path d="M774.4 2550.2h5v5h-5z"/><path d="M772.6 2451.3h5v5h-5z"/><path d="M702.2 2533.1h5v5h-5z"/><path d="M779.7 2527.7h5v5h-5z"/><path d="M827.6 2434.9h5v5h-5z"/><path d="M702.5 2523.1h5v5h-5z"/><path d="M891.4 2520.8h5v5h-5z"/><path d="M812.4 2539.9h5v5h-5z"/><path d="M748.5 2512.4h5v5h-5z"/><path d="M714.6 2509.7h5v5h-5z"/><path d="M785.1 2514.6h5v5h-5z"/><path d="M831.4 2521.9h5v5h-5z"/><path d="M836.3 2480.7h5v5h-5z"/><path d="M717 2514h5v5h-5z"/><path d="M710.5 2528.1h5v5h-5z"/><path d="M743.2 2535.5h5v5h-5z"/><path d="M711.5 2421.4h5v5h-5z"/><path d="M718.9 2507h5v5h-5z"/></g><g fill="none" stroke="#2c7bb6" stroke-width="1.4" stroke-opacity="0.75"><path d="M702.6 2526.3h6.8M706 2522.9v6.8M703.6 2523.9l4.8 4.8M703.6 2528.7l4.8 -4.8"/><path d="M724.9 2508.3h6.8M728.3 2504.9v6.8M725.9 2505.9l4.8 4.8M725.9 2510.7l4.8 -4.8"/><path d="M758.8 2513h6.8M762.2 2509.6v6.8M759.8 2510.6l4.8 4.8M759.8 2515.4l4.8 -4.8"/><path d="M756.4 2511.2h6.8M759.8 2507.8v6.8M757.4 2508.8l4.8 4.8M757.4 2513.6l4.8 -4.8"/><path d="M705.5 2509.8h6.8M708.9 2506.4v6.8M706.5 2507.4l4.8 4.8M706.5 2512.2l4.8 -4.8"/><path d="M744.1 2380.1h6.8M747.5 2376.7v6.8M745.1 2377.7l4.8 4.8M745.1 2382.5l4.8 -4.8"/><path d="M834.9 2454.3h6.8M838.3 2450.9v6.8M835.9 2451.9l4.8 4.8M835.9 2456.7l4.8 -4.8"/><path d="M750.2 2493.6h6.8M753.6 2490.2v6.8M751.2 2491.2l4.8 4.8M751.2 2496l4.8 -4.8"/></g><g fill="none" stroke="#2a8f57" stroke-width="1.15" stroke-opacity="0.7"><path d="M759.6 2513.8h5v5h-5z"/><path d="M701.5 2545.3h5v5h-5z"/><path d="M757.7 2542.1h5v5h-5z"/><path d="M773.7 2512.5h5v5h-5z"/><path d="M729.5 2514.9h5v5h-5z"/><path d="M708.6 2470.6h5v5h-5z"/><path d="M706.6 2450.6h5v5h-5z"/><path d="M712.6 2310h5v5h-5z"/><path d="M831.7 2450.6h5v5h-5z"/><path d="M833.1 2467h5v5h-5z"/><path d="M759.4 2340.9h5v5h-5z"/><path d="M714.1 2526.3h5v5h-5z"/><path d="M799.6 2546.4h5v5h-5z"/><path d="M788.3 2486.5h5v5h-5z"/><path d="M824.4 2545.4h5v5h-5z"/><path d="M710.2 2508h5v5h-5z"/><path d="M712.9 2487.2h5v5h-5z"/><path d="M742.8 2504.5h5v5h-5z"/><path d="M743.9 2526.5h5v5h-5z"/><path d="M704.6 2535.1h5v5h-5z"/><path d="M703 2506.8h5v5h-5z"/><path d="M711.9 2338.4h5v5h-5z"/><path d="M833.1 2445.4h5v5h-5z"/><path d="M728.1 2543.6h5v5h-5z"/><path d="M777.8 2288.4h5v5h-5z"/><path d="M812.9 2540.6h5v5h-5z"/></g><g fill="none" stroke="#2a8f57" stroke-width="1.4" stroke-opacity="0.75"><path d="M744.2 2541.2h6.8M747.6 2537.8v6.8M745.2 2538.8l4.8 4.8M745.2 2543.6l4.8 -4.8"/><path d="M722 2519.7h6.8M725.4 2516.3v6.8M723 2517.3l4.8 4.8M723 2522.1l4.8 -4.8"/><path d="M742.2 2443.7h6.8M745.6 2440.3v6.8M743.2 2441.3l4.8 4.8M743.2 2446.1l4.8 -4.8"/><path d="M737.2 2532.7h6.8M740.6 2529.3v6.8M738.2 2530.3l4.8 4.8M738.2 2535.1l4.8 -4.8"/><path d="M752.6 2337.5h6.8M756 2334.1v6.8M753.6 2335.1l4.8 4.8M753.6 2339.9l4.8 -4.8"/><path d="M724.6 2507.8h6.8M728 2504.4v6.8M725.6 2505.4l4.8 4.8M725.6 2510.2l4.8 -4.8"/><path d="M904.8 2443.7h6.8M908.2 2440.3v6.8M905.8 2441.3l4.8 4.8M905.8 2446.1l4.8 -4.8"/></g><path d="M705 2436.1L1007.8 2594.7" stroke="#1a72b8" stroke-width="3.8"/><path d="M705 2493.3L1007.8 2454" stroke="#e08a2e" stroke-width="3.8"/><path d="M705 2495.2L1007.8 2508.3" stroke="#c0392b" stroke-width="3.8"/><path d="M705 2483.4L1007.8 2371.3" stroke="#1e8a4f" stroke-width="3.8"/><path d="M690 2194.3L690 2602.1" stroke="#000" stroke-width="1.3"/><path d="M686.5 2554.6h3.5M686.5 2487.7h3.5M686.5 2420.8h3.5M686.5 2353.9h3.5M686.5 2287h3.5" stroke="#000" stroke-width="1.2"/><text x="684" y="2559.9" text-anchor="end" style="font-size:14.6px">0</text><text x="684" y="2493" text-anchor="end" style="font-size:14.6px">25</text><text x="684" y="2426.1" text-anchor="end" style="font-size:14.6px">50</text><text x="684" y="2359.2" text-anchor="end" style="font-size:14.6px">75</text><text x="684" y="2292.3" text-anchor="end" style="font-size:14.6px">100</text><path d="M689.4 2601.5L1024 2601.5" stroke="#000" stroke-width="1.3"/><path d="M705 2601.5v3.5M787.6 2601.5v3.5M870.2 2601.5v3.5M952.8 2601.5v3.5" stroke="#000" stroke-width="1.2"/><text x="705" y="2618.4" text-anchor="middle" style="font-size:14.6px">0</text><text x="787.6" y="2618.4" text-anchor="middle" style="font-size:14.6px">30</text><text x="870.2" y="2618.4" text-anchor="middle" style="font-size:14.6px">60</text><text x="952.8" y="2618.4" text-anchor="middle" style="font-size:14.6px">90</text><text x="880.7" y="2637" text-anchor="middle" style="font-size:20.9px">Days from intubation</text><text x="648" y="2377" text-anchor="middle" style="font-size:19.5px" transform="rotate(-90 648 2377)">Percent of total cells</text><text x="733.9" y="2215.7" style="font-size:11.8px;fill:#1a72b8" textLength="106.4" lengthAdjust="spacing"><tspan style="font-style:italic">R</tspan> = −0.18, <tspan style="font-style:italic">p</tspan> = 0.3</text><text x="733.9" y="2235.6" style="font-size:11.8px;fill:#e08a2e" textLength="96.2" lengthAdjust="spacing"><tspan style="font-style:italic">R</tspan> = 0.11, <tspan style="font-style:italic">p</tspan> = 0.2</text><text x="733.9" y="2255.8" style="font-size:11.8px;fill:#c0392b" textLength="120.3" lengthAdjust="spacing"><tspan style="font-style:italic">R</tspan> = −0.22, <tspan style="font-style:italic">p</tspan> = 0.005</text><text x="733.9" y="2275.7" style="font-size:11.8px;fill:#1e8a4f" textLength="89" lengthAdjust="spacing"><tspan style="font-style:italic">R</tspan> = 0.2, <tspan style="font-style:italic">p</tspan> = 0.2</text><text x="982.8" y="2204.4" style="font-size:20.3px">Diagnosis</text><path d="M983.8 2219.5h15" stroke="#1a72b8" stroke-width="1" stroke-opacity="0.35"/><rect x="986.1" y="2214.8" width="10.2" height="9.6" fill="#1a72b8"/><text x="1008.3" y="2225" style="font-size:16.6px">NPC</text><path d="M983.8 2237.5h15" stroke="#e08a2e" stroke-width="1" stroke-opacity="0.35"/><rect x="986.1" y="2232.8" width="10.2" height="9.6" fill="#e08a2e"/><text x="1008.3" y="2243" style="font-size:16.6px">OP</text><path d="M983.8 2257.1h15" stroke="#c0392b" stroke-width="1" stroke-opacity="0.35"/><rect x="986.1" y="2252.4" width="10.2" height="9.6" fill="#c0392b"/><text x="1008.3" y="2262.6" style="font-size:16.6px">SARS−CoV−2−P</text><path d="M983.8 2275.9h15" stroke="#1e8a4f" stroke-width="1" stroke-opacity="0.35"/><rect x="986.1" y="2271.2" width="10.2" height="9.6" fill="#1e8a4f"/><text x="1008.3" y="2281.4" style="font-size:16.6px">OVP</text><text x="982.8" y="2308.4" style="font-size:20.3px">Outcome</text><rect x="988.8" y="2320.9" width="5" height="5" fill="none" stroke="#333" stroke-width="1.1"/><text x="1008.3" y="2329.4" style="font-size:16.6px">Discharged</text><path d="M988.3 2343h6M991.3 2340v6M989.1 2340.8l4.4 4.4M989.1 2345.2l4.4 -4.4" stroke="#333" stroke-width="1.2"/><text x="1008.3" y="2349" style="font-size:16.6px">Deceased</text><circle cx="1059.6" cy="645.7" r="0.9" fill="#000"/></svg></body></html>
